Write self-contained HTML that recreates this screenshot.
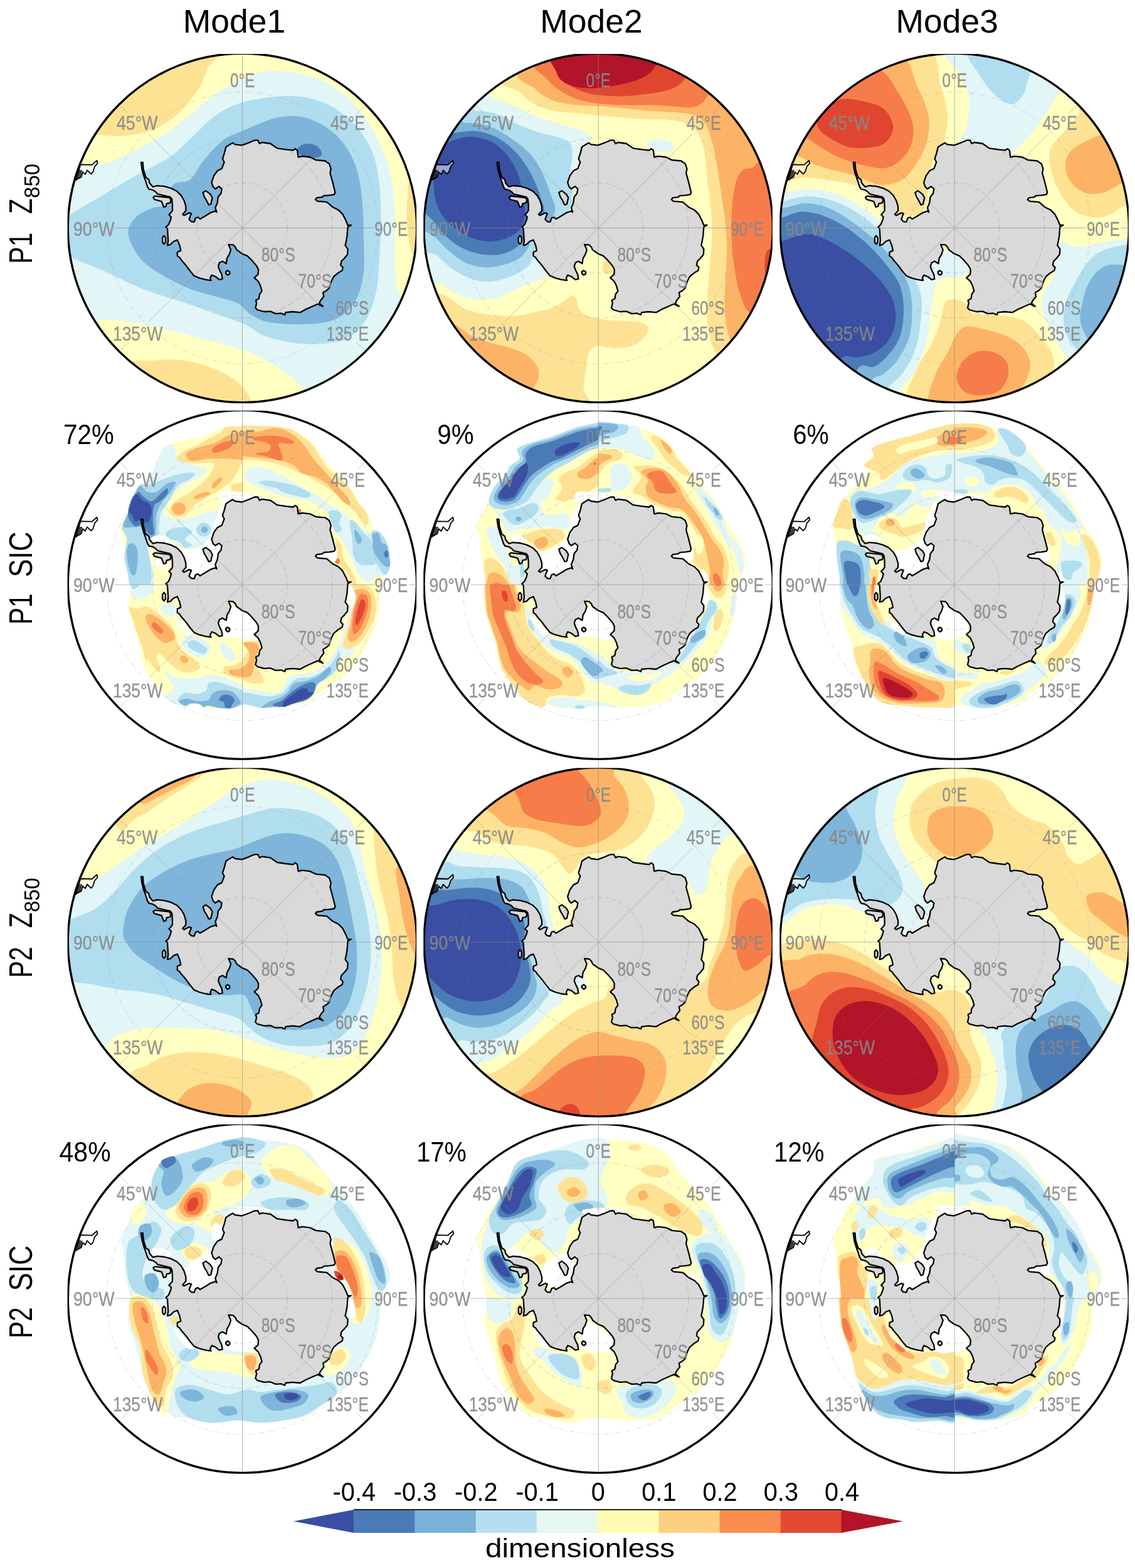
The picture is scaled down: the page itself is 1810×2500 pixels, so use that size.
<!DOCTYPE html>
<html lang="en"><head><meta charset="utf-8"><title>EOF modes of Z850 and SIC</title>
<style>html,body{margin:0;padding:0;background:#fff}svg{display:block}text{font-family:'Liberation Sans', sans-serif}</style></head><body>
<svg width="1810" height="2500" viewBox="0 0 1810 2500">
<defs><clipPath id="clip"><circle r="278.2"/></clipPath><clipPath id="qnw"><rect x="-300" y="-300" width="300.3" height="300.3"/></clipPath><clipPath id="qne"><rect x="-0.3" y="-300" width="300.3" height="300.3"/></clipPath><clipPath id="qsw"><rect x="-300" y="-0.3" width="300.3" height="300.3"/></clipPath><clipPath id="qse"><rect x="-0.3" y="-0.3" width="300.3" height="300.3"/></clipPath><clipPath id="box"><rect x="-278.9" y="-277.5" width="556.5" height="557"/></clipPath><path id="antp" d="M-161.5,-104.4 -158.7,-104.4 -157.8,-93.4 -154.0,-80.7 -149.2,-77.2 -147.8,-71.4 -142.7,-65.6 -135.8,-67.4 -124.2,-66.2 -113.8,-63.3 -104.6,-58.7 -97.6,-51.8 -93.0,-43.7 -90.1,-34.4 -90.1,-27.5 -95.3,-21.7 -93.0,-19.9 -84.9,-24.0 -81.4,-22.8 -83.7,-17.0 -84.9,-13.6 -81.4,-10.1 -76.8,-9.5 -74.5,-15.9 -71.0,-17.0 -67.5,-14.2 -60.6,-18.2 -51.3,-24.0 -43.2,-26.9 -40.9,-25.1 -43.2,-32.1 -39.8,-40.2 -38.6,-49.4 -34.0,-55.2 -32.8,-62.2 -37.4,-66.2 -43.2,-62.2 -46.7,-65.6 -49.0,-72.6 -45.5,-83.0 -39.8,-91.1 -32.8,-94.6 -28.9,-104.9 -31.6,-110.3 -28.9,-118.3 -26.2,-129.0 -22.2,-131.7 -15.5,-135.7 -11.5,-133.0 -0.7,-131.7 10.0,-135.7 19.4,-139.7 24.7,-139.7 27.4,-134.4 31.4,-136.4 44.8,-134.4 55.5,-127.0 68.9,-125.0 81.0,-123.7 84.3,-126.3 87.7,-123.7 89.0,-112.9 95.7,-114.3 107.8,-112.9 117.2,-108.3 131.9,-106.9 138.6,-102.2 141.3,-94.2 139.9,-87.5 144.0,-72.8 148.0,-56.7 146.6,-53.3 138.6,-52.0 129.2,-51.3 127.9,-49.3 118.5,-48.0 116.5,-45.3 119.8,-42.6 134.6,-41.3 144.0,-33.2 153.3,-28.5 160.0,-21.8 165.4,-11.1 168.1,-4.4 173.4,-4.4 168.1,-1.7 167.0,13.0 165.2,22.8 164.0,27.7 168.2,33.7 167.6,42.3 162.7,48.4 157.9,53.2 156.7,59.3 160.3,63.0 159.1,67.9 153.0,71.5 145.7,77.6 142.0,84.9 138.4,95.9 134.7,99.5 128.6,103.2 129.9,109.3 125.0,115.4 122.6,120.2 128.6,125.1 120.1,121.4 111.6,125.1 100.6,130.0 92.1,134.8 79.9,133.6 69.0,134.8 67.7,138.5 61.7,136.1 53.1,136.7 44.6,133.0 34.9,133.6 23.9,130.6 20.8,127.5 22.7,120.2 21.5,115.4 26.3,112.9 27.5,105.6 31.2,100.7 28.8,92.2 25.1,84.9 19.0,79.4 25.1,73.9 25.7,66.6 22.7,60.5 15.4,52.0 8.1,44.7 -0.5,41.1 -9.0,35.0 -11.4,30.1 -14.8,27.0 -22.1,26.4 -18.4,35.0 -20.8,42.3 -24.5,48.4 -25.7,56.9 -31.8,53.2 -36.7,55.7 -38.5,61.8 -35.5,69.1 -33.0,73.9 -31.8,81.3 -36.7,82.5 -42.8,77.6 -48.9,75.2 -51.3,80.0 -50.1,83.7 -58.6,82.5 -68.3,80.0 -76.9,76.4 -83.0,69.1 -90.3,59.3 -97.6,50.8 -100.0,47.1 -103.7,44.7 -103.7,38.6 -98.2,36.2 -100.0,27.7 -103.7,19.1 -109.8,21.6 -114.6,26.4 -119.5,27.7 -118.3,20.3 -118.9,10.6 -119.5,0.9 -121.9,-1.6 -117.7,-5.2 -114.6,-12.5 -113.4,-17.4 -117.1,-21.1 -114.6,-23.5 -111.5,-27.5 -111.5,-36.7 -112.4,-46.0 -115.0,-49.4 -126.5,-52.0 -135.2,-54.1 -138.1,-57.5 -142.7,-60.4 -149.1,-61.9 -151.3,-65.6 -154.3,-74.9 -157.6,-84.2 -159.9,-92.3ZM-62.9,-56.4 -58.3,-59.3 -51.3,-54.1 -47.9,-48.3 -50.2,-37.9 -53.6,-36.7 -57.1,-43.7 -60.6,-49.4ZM-125.0,12.4 -122.5,15.5 -122.5,22.8 -125.0,25.8 -127.4,22.8 -127.4,15.5ZM-23.3,67.9 -20.2,70.3 -20.2,73.3 -23.3,75.2 -26.3,72.7 -26.3,69.7ZM-142.2,-48.9 -139.3,-50.8 -126.5,-49.4 -116.7,-48.3 -113.8,-44.8 -115.2,-40.0 -120.8,-38.8 -121.9,-34.2 -125.4,-33.2 -127.1,-37.9 -128.9,-42.3 -140.4,-45.4Z"/><clipPath id="antclip"><use href="#antp"/></clipPath>
<g id="grat"><g fill="none" stroke="#8c8c8c" stroke-width="1.1" opacity="0.6"><path d="M0,-278.2 V278.2 M-204,0 H209.5 M266,0 H278.2"/><path d="M0,0 L-149.9,-149.9 M-182.4,-182.4 L-195.2,-195.2 M0,0 L149.9,-149.9 M182.4,-182.4 L195.2,-195.2 M0,0 L-149.9,149.9 M-182.4,182.4 L-195.2,195.2 M0,0 L149.9,149.9 M182.4,182.4 L195.2,195.2" opacity="0.5"/><circle r="71.7" stroke-dasharray="7 5" opacity="0.5"/><circle r="143.5" stroke-dasharray="9 5" opacity="0.5"/><circle r="216.6" stroke-dasharray="8 4 2 4" opacity="0.45"/></g></g>
<use id="ant" href="#antp" fill="#d9d9d9" stroke="#000" stroke-width="2.3" stroke-linejoin="round"/>
<g id="grat2"><g fill="none" stroke="#8c8c8c" stroke-width="1.1" opacity="0.6" clip-path="url(#antclip)"><path d="M0,-278.2 V278.2 M-204,0 H209.5 M266,0 H278.2"/><path d="M0,0 L-149.9,-149.9 M-182.4,-182.4 L-195.2,-195.2 M0,0 L149.9,-149.9 M182.4,-182.4 L195.2,-195.2 M0,0 L-149.9,149.9 M-182.4,182.4 L-195.2,195.2 M0,0 L149.9,149.9 M182.4,182.4 L195.2,195.2" opacity="0.6"/><circle r="71.7" stroke-dasharray="7 5" opacity="0.6"/><circle r="143.5" stroke-dasharray="9 5" opacity="0.6"/></g></g>
<g id="sa"><path d="M-266.0,-76.0 -258.0,-101.0 -240.0,-100.5 -232.0,-107.5 -231.0,-103.0 -235.5,-98.0 -238.0,-90.0 -241.0,-86.0 -244.0,-88.5 -247.5,-92.0 -250.5,-85.5 -254.5,-89.0 -257.0,-81.0 -262.0,-78.5Z" fill="#fff" fill-opacity="0.5" stroke="#000" stroke-width="1.8" stroke-linejoin="round"/><path d="M-266.0,-76.0 -260.5,-93.0 -255.0,-92.0 -256.5,-86.0 -258.0,-80.5 -262.0,-78.5Z" fill="#000" fill-opacity="0.75"/></g>
</defs>
<rect width="1810" height="2500" fill="#fff"/>
<text x="373.4" y="52.2" font-size="51" fill="#000" text-anchor="middle" textLength="163.5" lengthAdjust="spacingAndGlyphs">Mode1</text>
<text x="943" y="52.2" font-size="51" fill="#000" text-anchor="middle" textLength="163.5" lengthAdjust="spacingAndGlyphs">Mode2</text>
<text x="1510.2" y="52.2" font-size="51" fill="#000" text-anchor="middle" textLength="163.5" lengthAdjust="spacingAndGlyphs">Mode3</text>
<g transform="translate(50.8,420.4) rotate(-90)"><text font-size="51" textLength="49.6" lengthAdjust="spacingAndGlyphs">P1</text><text x="79.5" font-size="51" textLength="24.5" lengthAdjust="spacingAndGlyphs">Z</text><text x="104.5" y="12.5" font-size="35" textLength="55" lengthAdjust="spacingAndGlyphs">850</text></g>
<g transform="translate(50.8,995.7) rotate(-90)"><text font-size="51" textLength="49.6" lengthAdjust="spacingAndGlyphs">P1</text><text x="75.5" font-size="51" textLength="72.5" lengthAdjust="spacingAndGlyphs">SIC</text></g>
<g transform="translate(50.8,1559) rotate(-90)"><text font-size="51" textLength="49.6" lengthAdjust="spacingAndGlyphs">P2</text><text x="79.5" font-size="51" textLength="24.5" lengthAdjust="spacingAndGlyphs">Z</text><text x="104.5" y="12.5" font-size="35" textLength="55" lengthAdjust="spacingAndGlyphs">850</text></g>
<g transform="translate(50.8,2133.7) rotate(-90)"><text font-size="51" textLength="49.6" lengthAdjust="spacingAndGlyphs">P2</text><text x="75.5" font-size="51" textLength="72.5" lengthAdjust="spacingAndGlyphs">SIC</text></g>
<text x="101.1" y="707.6" font-size="43.7" fill="#000" text-anchor="start" textLength="80.6" lengthAdjust="spacingAndGlyphs">72%</text>
<text x="697.2" y="707.6" font-size="43.7" fill="#000" text-anchor="start" textLength="58.4" lengthAdjust="spacingAndGlyphs">9%</text>
<text x="1264.5" y="707.6" font-size="43.7" fill="#000" text-anchor="start" textLength="57.5" lengthAdjust="spacingAndGlyphs">6%</text>
<text x="94.5" y="1851.7" font-size="43.7" fill="#000" text-anchor="start" textLength="82.2" lengthAdjust="spacingAndGlyphs">48%</text>
<text x="664.3" y="1851.7" font-size="43.7" fill="#000" text-anchor="start" textLength="79.7" lengthAdjust="spacingAndGlyphs">17%</text>
<text x="1234" y="1851.7" font-size="43.7" fill="#000" text-anchor="start" textLength="80.6" lengthAdjust="spacingAndGlyphs">12%</text>
<g transform="translate(386.5,363.4)" clip-path="url(#box)">
<g clip-path="url(#clip)">
<circle r="278.2" fill="#ffffc2"/>
<path d="M-46.2,-288.1C-22.6,-280.5 -51.9,-264.8 -55.6,-254.1C-59.4,-243.4 -62.9,-234 -68.8,-223.9C-74.8,-213.8 -82.7,-203.1 -91.5,-193.7C-100.3,-184.2 -110.4,-174.3 -121.7,-167.2C-133,-160.2 -146.2,-154.8 -159.5,-151.4C-172.7,-147.9 -187.8,-147 -201,-146.5C-214.2,-146 -226.8,-149.3 -238.8,-148.4C-250.7,-147.4 -263.9,-128.2 -272.7,-140.8C-281.6,-153.4 -304.2,-197.5 -291.6,-223.9C-279,-250.3 -238.1,-288.7 -197.2,-299.4C-156.3,-310.1 -69.8,-295.6 -46.2,-288.1Z" fill="#fee294"/>
<path d="M-185.9,221.7C-176.5,206.1 -154.4,213.4 -140.6,211.5C-126.7,209.6 -116,209.1 -102.8,210.3C-89.6,211.5 -74.5,214.6 -61.3,218.7C-48.1,222.7 -33.9,229 -23.5,234.9C-13.1,240.7 -5.3,246.5 1,253.8C7.3,261 12,269.8 14.2,278.3C16.4,286.8 49.5,300.3 14.2,304.7C-21,309.1 -163.9,318.6 -197.2,304.7C-230.6,290.9 -195.3,237.2 -185.9,221.7Z" fill="#fee294"/>
<path d="M293.6,-110.6C289.6,-135.1 274.3,-99.3 269.1,-88C263.9,-76.6 263.6,-57.7 262.7,-42.6C261.7,-27.5 262,-11.2 263.4,2.7C264.8,16.5 266,31 271,40.4C276,49.9 289.9,84.5 293.6,59.3C297.4,34.1 297.7,-86.1 293.6,-110.6Z" fill="#fee294"/>
<path d="M-287.8,-84.2C-272.1,-108.1 -237.5,-95.5 -216.1,-103.1C-194.7,-110.6 -176.5,-120.7 -159.5,-129.5C-142.5,-138.3 -128,-146.5 -114.2,-155.9C-100.3,-165.4 -89,-176.1 -76.4,-186.1C-63.8,-196.2 -51.9,-207.5 -38.6,-216.3C-25.4,-225.1 -11.6,-233.3 2.9,-239C17.4,-244.6 31.2,-249.7 48.2,-250.3C65.2,-250.9 87.9,-247.5 104.8,-242.8C121.8,-238 136.9,-230.8 150.2,-222C163.4,-213.2 173.8,-202.2 184.1,-189.9C194.5,-177.6 204.3,-164.1 212.5,-148.4C220.6,-132.6 228.2,-114.4 233.2,-95.5C238.3,-76.6 241,-57.7 242.7,-35.1C244.4,-12.4 242.8,19 243.4,40.4C244.1,61.8 243.1,79.4 246.4,93.3C249.8,107.1 255.6,113.4 263.4,123.5C271.3,133.6 294.9,129.8 293.6,153.7C292.4,177.6 284.2,244.3 255.9,267C227.6,289.6 149.5,290.9 123.7,289.6C97.9,288.4 110.5,269.5 101.1,259.4C91.6,249.4 79,238 67.1,229.2C55.1,220.4 41.9,212.9 29.3,206.6C16.7,200.3 7.3,196.5 -8.4,191.5C-24.2,186.4 -46.2,181.4 -65.1,176.4C-83.9,171.3 -102.8,165.7 -121.7,161.3C-140.6,156.9 -160.7,152.4 -178.3,149.9C-196,147.4 -211.7,145.5 -227.4,146.2C-243.2,146.8 -258.9,171.3 -272.7,153.7C-286.6,136.1 -308,80.1 -310.5,40.4C-313,0.8 -303.6,-60.3 -287.8,-84.2Z" fill="#e2f5f7"/>
<path d="M-287.8,-8.7C-275.4,-24.4 -234,-44.8 -213.5,-57.7C-192.9,-70.6 -181,-76.9 -164.8,-86.1C-148.5,-95.3 -130.5,-102.8 -116,-112.9C-101.6,-122.9 -89.9,-135.8 -78.3,-146.5C-66.6,-157.1 -57.8,-168.2 -46.2,-176.7C-34.5,-185.2 -24.2,-192.1 -8.4,-197.5C7.3,-202.8 30.6,-206.9 48.2,-208.8C65.8,-210.7 81.6,-211.3 97.3,-208.8C113,-206.3 128.8,-201.2 142.6,-193.7C156.5,-186.1 169.7,-175.4 180.4,-163.5C191.1,-151.5 200.5,-137 206.8,-121.9C213.1,-106.8 215.7,-90.5 218.1,-72.8C220.5,-55.2 221,-35.1 221.1,-16.2C221.3,2.7 220,21.6 218.9,40.4C217.7,59.3 217.6,80.1 214.3,97.1C211.1,114.1 206.2,129.8 199.2,142.4C192.3,155 183.5,165.7 172.8,172.6C162.1,179.5 149.5,182 135.1,183.9C120.6,185.8 102.3,185.8 86,183.9C69.6,182 50.7,177.6 36.9,172.6C23,167.6 16.7,160 2.9,153.7C-10.9,147.4 -28.6,141.1 -46.2,134.8C-63.8,128.5 -83.9,122.2 -102.8,115.9C-121.7,109.7 -140.6,104.6 -159.5,97.1C-178.3,89.5 -194.7,80.7 -216.1,70.6C-237.5,60.6 -275.9,49.9 -287.8,36.7C-299.8,23.4 -300.2,7.1 -287.8,-8.7Z" fill="#b1deee"/>
<path d="M-182.1,10.2C-183.4,-0.5 -177.1,-9.3 -170.8,-16.2C-164.5,-23.1 -153.2,-27.5 -144.4,-31.3C-135.6,-35.1 -123.6,-32.6 -117.9,-38.9C-112.3,-45.2 -116,-62.8 -110.4,-69.1C-104.7,-75.4 -91.5,-71 -83.9,-76.6C-76.4,-82.3 -71.4,-94.9 -65.1,-103.1C-58.8,-111.2 -53.1,-118.8 -46.2,-125.7C-39.3,-132.6 -31.7,-139.6 -23.5,-144.6C-15.4,-149.6 -5.9,-152.1 2.9,-155.9C11.7,-159.7 19.9,-163.8 29.3,-167.2C38.8,-170.7 48.2,-175.1 59.5,-176.7C70.9,-178.3 84.7,-179.5 97.3,-176.7C109.9,-173.9 123.7,-167.6 135.1,-159.7C146.4,-151.8 157.1,-141.4 165.3,-129.5C173.4,-117.5 179.7,-103.7 184.1,-88C188.5,-72.2 190.1,-53.3 191.7,-35.1C193.3,-16.8 193.3,3.9 193.6,21.6C193.9,39.2 195.2,56.2 193.6,70.6C192,85.1 188.9,97.7 184.1,108.4C179.4,119.1 173.4,127.9 165.3,134.8C157.1,141.7 148.3,146.8 135.1,149.9C121.8,153.1 101.7,153.7 86,153.7C70.2,153.7 52.6,152.4 40.7,149.9C28.7,147.4 22.4,143.6 14.2,138.6C6,133.6 1.6,124.8 -8.4,119.7C-18.5,114.7 -33.6,112.2 -46.2,108.4C-58.8,104.6 -70.1,102.7 -83.9,97.1C-97.8,91.4 -116,82.6 -129.3,74.4C-142.5,66.2 -154.4,58.7 -163.2,48C-172.1,37.3 -180.9,20.9 -182.1,10.2Z" fill="#7fb5da"/>
<path d="M87.9,-121.9C86.6,-125.1 90.4,-129.3 93.5,-131.4C96.7,-133.4 102.3,-134.7 106.7,-134.4C111.1,-134.1 116.6,-132.2 120,-129.5C123.3,-126.8 126.7,-121 126.7,-118.2C126.7,-115.3 124.2,-113.4 120,-112.5C115.7,-111.5 106.4,-110.9 101.1,-112.5C95.7,-114.1 89.1,-118.8 87.9,-121.9Z" fill="#4a7bb7"/>
<use href="#grat"/><use href="#ant"/><use href="#grat2"/><use href="#sa"/>
<g fill="#888" stroke="#888" stroke-width="0.35" font-size="31" opacity="0.9"><text x="-19.6" y="-224" textLength="39.5" lengthAdjust="spacingAndGlyphs">0°E</text><text x="-200.5" y="-156.5" textLength="65.5" lengthAdjust="spacingAndGlyphs">45°W</text><text x="140.8" y="-156.5" textLength="54.8" lengthAdjust="spacingAndGlyphs">45°E</text><text x="-269.6" y="12.2" textLength="65.7" lengthAdjust="spacingAndGlyphs">90°W</text><text x="210.7" y="12.2" textLength="53" lengthAdjust="spacingAndGlyphs">90°E</text><text x="30.2" y="53.6" textLength="54" lengthAdjust="spacingAndGlyphs">80°S</text><text x="89" y="96" textLength="53.7" lengthAdjust="spacingAndGlyphs">70°S</text><text x="148.4" y="138.6" textLength="53" lengthAdjust="spacingAndGlyphs">60°S</text><text x="-206.5" y="179.4" textLength="79.3" lengthAdjust="spacingAndGlyphs">135°W</text><text x="134" y="179.4" textLength="67.3" lengthAdjust="spacingAndGlyphs">135°E</text></g>
</g>
<circle r="278.2" fill="none" stroke="#000" stroke-width="3.4"/>
</g>
<path d="M386.5,642.9 V654.9" stroke="#8c8c8c" stroke-width="1.1" opacity="0.6" fill="none"/>
<g transform="translate(954.2,363.4)" clip-path="url(#box)">
<g clip-path="url(#clip)">
<circle r="278.2" fill="#ffffc2"/>
<path d="M-148.1,-243C-169,-225.4 -133,-224.1 -125.4,-216.6C-117.9,-209 -112.2,-202.7 -102.8,-197.7C-93.3,-192.6 -80.7,-188.9 -68.8,-186.3C-56.8,-183.8 -43.6,-183.8 -31,-182.6C-18.4,-181.3 -5.8,-180.1 6.8,-178.8C19.3,-177.5 31.9,-176 44.5,-175C57.1,-174.1 69.7,-173.8 82.3,-173.1C94.9,-172.5 109.3,-172.8 120,-171.2C130.7,-169.7 139.4,-168.1 146.5,-163.7C153.5,-159.3 158.4,-153 162.3,-144.8C166.2,-136.6 168,-125.9 169.9,-114.6C171.8,-103.3 172.2,-89.4 173.6,-76.8C175.1,-64.3 177.3,-51.7 178.6,-39.1C179.8,-26.5 181,-13.9 181.2,-1.3C181.4,11.3 180.4,23.8 179.7,36.4C178.9,49 177.7,61.6 176.7,74.2C175.7,86.8 174.1,99.4 173.6,111.9C173.1,124.5 172.5,137.7 173.6,149.7C174.8,161.7 178,174.2 180.4,183.7C182.8,193.1 188,198.2 188,206.3C188,214.5 163.4,229.6 180.4,232.8C197.4,235.9 268.5,264.2 289.9,225.2C311.3,186.2 315.1,80.5 308.8,-1.3C302.5,-83.1 303.7,-212.1 252.2,-265.6C200.7,-319.1 66.7,-326.1 0,-322.3C-66.8,-318.5 -127.2,-260.6 -148.1,-243Z" fill="#fee294"/>
<path d="M-125.4,-254.3C-141.9,-237.3 -107.8,-228.8 -99,-220.3C-90.2,-211.8 -83.2,-207.4 -72.5,-203.3C-61.8,-199.2 -48,-197.4 -34.8,-195.8C-21.6,-194.2 -6.5,-194.8 6.8,-193.9C20,-193 31.9,-191.4 44.5,-190.1C57.1,-188.9 69.7,-187.3 82.3,-186.3C94.9,-185.4 108.7,-185.4 120,-184.5C131.4,-183.5 142.1,-183.5 150.2,-180.7C158.4,-177.9 164.1,-174.1 169.1,-167.5C174.1,-160.9 177.3,-151.1 180.4,-141C183.6,-131 185.8,-119 188,-107.1C190.2,-95.1 191.8,-81.9 193.7,-69.3C195.5,-56.7 197.7,-42.9 199.3,-31.5C200.9,-20.2 202.2,-12.7 203.1,-1.3C204,10 205,23.8 205,36.4C205,49 203.7,61.6 203.1,74.2C202.5,86.8 201.2,99.4 201.2,111.9C201.2,124.5 201.5,138.4 203.1,149.7C204.7,161 207.5,172.4 210.6,179.9C213.8,187.5 208.8,193.8 222,195C235.2,196.3 275.5,220.2 289.9,187.5C304.4,154.7 315.1,74.2 308.8,-1.3C302.5,-76.8 303.7,-212.1 252.2,-265.6C200.7,-319.1 62.9,-324.2 0,-322.3C-63,-320.4 -108.9,-271.3 -125.4,-254.3Z" fill="#fdb366"/>
<path d="M-102.8,-265.6C-108.4,-254.9 -91.4,-247.4 -83.9,-239.2C-76.3,-231 -66.9,-222.5 -57.4,-216.6C-48,-210.6 -37.9,-206.5 -27.2,-203.3C-16.5,-200.2 -5.2,-198.9 6.8,-197.7C18.7,-196.4 31.9,-196.1 44.5,-195.8C57.1,-195.5 69.7,-196.1 82.3,-195.8C94.9,-195.5 109.3,-194.5 120,-193.9C130.7,-193.3 139.2,-191.4 146.5,-192C153.7,-192.6 159,-194.8 163.4,-197.7C167.9,-200.5 169.4,-204 172.9,-209C176.4,-214 202.5,-212.1 184.2,-227.9C166,-243.6 102.4,-290.8 63.4,-303.4C24.4,-316 -22.2,-309.7 -49.9,-303.4C-77.6,-297.1 -97.1,-276.3 -102.8,-265.6Z" fill="#f67d4a"/>
<path d="M229.5,-92C225.1,-87.5 220.9,-79.4 218.2,-69.3C215.5,-59.2 214.2,-44.1 213.3,-31.5C212.3,-19 212.3,-6.4 212.5,6.2C212.7,18.8 213.2,31.4 214.4,44C215.7,56.6 217.6,69.8 220.1,81.7C222.6,93.7 226.1,106.9 229.5,115.7C233,124.5 233.3,128.9 240.9,134.6C248.4,140.3 263.5,169.2 274.8,149.7C286.2,130.2 308.8,60.3 308.8,17.6C308.8,-25.2 285.5,-88.2 274.8,-107.1C264.1,-125.9 252.2,-98.2 244.6,-95.7C237.1,-93.2 233.9,-96.4 229.5,-92Z" fill="#f67d4a"/>
<path d="M-72.5,-280.7C-88,-271.9 -71.3,-259.3 -66.9,-250.5C-62.5,-241.7 -54.6,-233.9 -46.1,-227.9C-37.6,-221.9 -27.9,-217.6 -15.9,-214.7C-3.9,-211.7 12.4,-210.6 25.6,-210.1C38.8,-209.7 50.8,-210.8 63.4,-212C76,-213.2 90.8,-215 101.1,-217.3C111.5,-219.6 119.4,-222.3 125.7,-226C132,-229.6 134.8,-233.9 138.9,-239.2C143,-244.6 169.1,-247.4 150.2,-258.1C131.4,-268.8 62.8,-299.6 25.6,-303.4C-11.5,-307.2 -57.1,-289.6 -72.5,-280.7Z" fill="#e04530"/>
<path d="M-72.5,-280.7C-84.8,-272.8 -69.6,-256.3 -66.9,-248.3C-64.1,-240.3 -61.4,-236.8 -55.9,-232.8C-50.5,-228.8 -42.1,-226.1 -34,-224.5C-26,-222.8 -17.1,-222.7 -7.6,-223C1.9,-223.3 12.4,-224.5 23,-226.4C33.6,-228.2 46.7,-231 55.8,-233.9C65,-236.8 72.3,-240.2 77.7,-243.7C83.2,-247.3 86.4,-250.2 88.7,-255.1C91,-260 105.4,-266.4 91.7,-273.2C78.1,-280 34.1,-294.6 6.8,-295.8C-20.6,-297.1 -60.3,-288.7 -72.5,-280.7Z" fill="#b2142a"/>
<path d="M269.2,36.4C266.7,39.6 265.7,49 265.4,55.3C265.1,61.6 265.1,71 267.3,74.2C269.5,77.3 276.4,80.5 278.6,74.2C280.8,67.9 282.1,42.7 280.5,36.4C278.9,30.1 271.7,33.3 269.2,36.4Z" fill="#e04530"/>
<path d="M-257.6,111.9C-258.8,89.9 -222.9,126.4 -208.5,130.8C-194,135.2 -183.3,136.8 -170.7,138.4C-158.1,140 -144.3,140.9 -133,140.3C-121.6,139.6 -112.8,136.8 -102.8,134.6C-92.7,132.4 -80.7,130.2 -72.5,127.1C-64.4,123.9 -58.8,119 -53.7,115.7C-48.5,112.5 -44.9,107.4 -41.6,107.4C-38.3,107.4 -35.9,111.8 -34,115.7C-32.1,119.6 -33.9,126.4 -30.3,130.8C-26.6,135.2 -21.4,139.3 -12.1,142.2C-2.8,145 13,146.6 25.6,147.8C38.2,149.1 54.5,148 63.4,149.7C72.3,151.4 77.4,154.1 79.2,158C81.1,161.9 78.6,168.2 74.7,173.1C70.8,178 64,184.3 55.8,187.5C47.7,190.6 35.1,191.9 25.6,192C16.2,192.1 6,187.1 -0.8,188.2C-7.6,189.4 -12,192.6 -15.2,198.8C-18.3,205 -18.3,215.8 -19.7,225.2C-21.1,234.7 -22.2,245.4 -23.5,255.4C-24.7,265.5 2.3,284.4 -27.2,285.6C-56.8,286.9 -162.5,291.9 -200.9,263C-239.3,234 -256.3,134 -257.6,111.9Z" fill="#fee294"/>
<path d="M-238.7,153.5C-238.7,141.5 -212.3,167.3 -200.9,172.4C-189.6,177.4 -180.8,180.5 -170.7,183.7C-160.6,186.8 -149.9,188.1 -140.5,191.2C-131.1,194.4 -121.1,197.8 -114.1,202.6C-107,207.3 -101.4,213.9 -98.2,219.6C-95.1,225.2 -94.4,230.6 -95.2,236.6C-96,242.5 -100.2,249.8 -102.8,255.4C-105.3,261.1 -93.9,272.4 -110.3,270.5C-126.7,268.6 -179.5,263.6 -200.9,244.1C-222.3,224.6 -238.7,165.4 -238.7,153.5Z" fill="#fdb366"/>
<path d="M6.8,59.1C7.6,56.3 10.2,51.5 12.4,51.5C14.6,51.5 18.3,55.9 20,59.1C21.7,62.2 23.6,67.9 22.6,70.4C21.7,72.9 16.8,74.5 14.3,74.2C11.8,73.9 8.8,71 7.5,68.5C6.2,66 5.9,61.9 6.8,59.1Z" fill="#fee294"/>
<path d="M-200.9,-209C-175.8,-230.3 -174.5,-207 -163.2,-204.5C-151.8,-202 -143,-198.2 -133,-193.9C-122.9,-189.6 -113.4,-183.2 -102.8,-178.8C-92.1,-174.4 -80.1,-170.9 -68.8,-167.5C-57.4,-164 -43.6,-161.2 -34.8,-158C-26,-154.9 -19.7,-152.1 -15.9,-148.6C-12.1,-145.1 -10.9,-141.7 -12.1,-137.3C-13.4,-132.9 -19.7,-129.7 -23.5,-122.2C-27.2,-114.6 -31.6,-105.8 -34.8,-92C-37.9,-78.1 -36,-54.2 -42.3,-39.1C-48.6,-24 -65,-13.9 -72.5,-1.3C-80.1,11.3 -86.4,23.8 -87.6,36.4C-88.9,49 -77.6,66 -80.1,74.2C-82.6,82.4 -93.9,81.4 -102.8,85.5C-111.6,89.6 -122.9,94.3 -133,98.7C-143,103.1 -153.1,109.4 -163.2,111.9C-173.2,114.5 -183.3,114.8 -193.4,113.8C-203.4,112.9 -214.1,110.4 -223.6,106.3C-233,102.2 -241.2,94.6 -250,89.3C-258.8,83.9 -265.7,101.9 -276.4,74.2C-287.1,46.5 -326.8,-29.6 -314.2,-76.8C-301.6,-124 -226.1,-187.7 -200.9,-209Z" fill="#e2f5f7"/>
<path d="M78.5,-131.6C77.9,-134.4 82.3,-137.6 86,-139.1C89.8,-140.7 96.1,-141.7 101.1,-141C106.2,-140.4 113.2,-137.9 116.3,-135.4C119.3,-132.9 120.5,-128.3 119.3,-125.9C118,-123.6 113.6,-122 108.7,-121.4C103.8,-120.8 94.9,-120.5 89.8,-122.2C84.8,-123.9 79.1,-128.8 78.5,-131.6Z" fill="#e2f5f7"/>
<path d="M-231.1,-182.6C-210.4,-200.8 -202.2,-187 -189.6,-186.3C-177,-185.7 -166.3,-182.6 -155.6,-178.8C-144.9,-175 -135.5,-168.1 -125.4,-163.7C-115.3,-159.3 -105.3,-155.5 -95.2,-152.4C-85.1,-149.2 -73.3,-147.6 -65,-144.8C-56.7,-142 -49.3,-140.4 -45.4,-135.4C-41.5,-130.3 -41.6,-123.1 -41.6,-114.6C-41.6,-106.1 -45.4,-94.5 -45.4,-84.4C-45.4,-74.3 -40.8,-64.3 -41.6,-54.2C-42.3,-44.1 -42.2,-32.8 -49.9,-24C-57.6,-15.2 -78.8,-11.4 -87.6,-1.3C-96.5,8.7 -99,26.4 -102.8,36.4C-106.5,46.5 -104.6,52.5 -110.3,59.1C-116,65.7 -126.7,71.7 -136.7,76.1C-146.8,80.5 -160,84.6 -170.7,85.5C-181.4,86.5 -190.9,84.9 -200.9,81.7C-211,78.6 -221.7,72.9 -231.1,66.6C-240.6,60.3 -248.8,50.9 -257.6,44C-266.4,37.1 -274.6,45.2 -284,25.1C-293.4,5 -323,-42.2 -314.2,-76.8C-305.4,-111.5 -251.9,-164.3 -231.1,-182.6Z" fill="#b1deee"/>
<path d="M-246.2,-163.7C-228.6,-175.6 -219.8,-167.5 -208.5,-167.5C-197.1,-167.5 -188.3,-166.8 -178.3,-163.7C-168.2,-160.5 -157.5,-154.3 -148.1,-148.6C-138.6,-142.9 -129.2,-136 -121.6,-129.7C-114.1,-123.4 -108.4,-118.4 -102.8,-110.8C-97.1,-103.3 -92.1,-93.8 -87.6,-84.4C-83.2,-75 -79.5,-63 -76.3,-54.2C-73.2,-45.4 -68.8,-38.5 -68.8,-31.5C-68.8,-24.6 -70.7,-19 -76.3,-12.7C-82,-6.4 -97.1,-0.7 -102.8,6.2C-108.4,13.1 -106.5,22 -110.3,28.9C-114.1,35.8 -118.5,42.7 -125.4,47.8C-132.3,52.8 -142.4,56.6 -151.8,59.1C-161.3,61.6 -172,63.5 -182,62.9C-192.1,62.2 -202.8,59.7 -212.3,55.3C-221.7,50.9 -230.5,43.4 -238.7,36.4C-246.9,29.5 -253.2,21.3 -261.3,13.8C-269.5,6.2 -279,9.4 -287.8,-8.9C-296.6,-27.1 -321.1,-69.9 -314.2,-95.7C-307.3,-121.5 -263.9,-151.7 -246.2,-163.7Z" fill="#7fb5da"/>
<path d="M-257.6,-144.8C-245.6,-151.1 -234.3,-150.8 -223.6,-152.4C-212.9,-153.9 -203.4,-155.5 -193.4,-154.3C-183.3,-153 -172.6,-149.5 -163.2,-144.8C-153.7,-140.1 -144.3,-132.9 -136.7,-125.9C-129.2,-119 -123.5,-111.5 -117.9,-103.3C-112.2,-95.1 -107.2,-86.3 -102.8,-76.8C-98.3,-67.4 -93.9,-55.5 -91.4,-46.6C-88.9,-37.8 -84.5,-31.5 -87.6,-24C-90.8,-16.4 -105.3,-8.3 -110.3,-1.3C-115.3,5.6 -114.1,11.9 -117.9,17.6C-121.6,23.2 -126.7,28.6 -133,32.7C-139.3,36.7 -146.8,40.5 -155.6,42.1C-164.4,43.7 -175.8,43.7 -185.8,42.1C-195.9,40.5 -206.6,37.4 -216,32.7C-225.5,27.9 -234.9,20.7 -242.5,13.8C-250,6.9 -254.4,-0.1 -261.3,-8.9C-268.3,-17.7 -278.3,-21.5 -284,-39.1C-289.7,-56.7 -299.7,-97 -295.3,-114.6C-290.9,-132.2 -269.5,-138.5 -257.6,-144.8Z" fill="#4a7bb7"/>
<path d="M-253.8,-125.9C-248.1,-132.2 -236.8,-137.9 -227.4,-141C-217.9,-144.2 -207.2,-145.8 -197.1,-144.8C-187.1,-143.9 -175.8,-140.4 -166.9,-135.4C-158.1,-130.3 -150.6,-122.5 -144.3,-114.6C-138,-106.7 -133,-97 -129.2,-88.2C-125.4,-79.4 -123.5,-69.9 -121.6,-61.7C-119.7,-53.6 -118.5,-46.6 -117.9,-39.1C-117.2,-31.5 -116.6,-23.4 -117.9,-16.4C-119.1,-9.5 -121,-2.9 -125.4,2.4C-129.8,7.8 -136.7,12.5 -144.3,15.7C-151.8,18.8 -161.9,21 -170.7,21.3C-179.5,21.6 -188.3,20.4 -197.1,17.6C-206,14.7 -215.4,10 -223.6,4.3C-231.8,-1.3 -240.3,-8.6 -246.2,-16.4C-252.2,-24.3 -256.6,-32.8 -259.4,-42.9C-262.3,-52.9 -262.9,-66.8 -263.2,-76.8C-263.5,-86.9 -262.9,-95.1 -261.3,-103.3C-259.8,-111.5 -259.4,-119.6 -253.8,-125.9Z" fill="#3a4ea3"/>
<use href="#grat"/><use href="#ant"/><use href="#grat2"/><use href="#sa"/>
<g fill="#888" stroke="#888" stroke-width="0.35" font-size="31" opacity="0.9"><text x="-19.6" y="-224" textLength="39.5" lengthAdjust="spacingAndGlyphs">0°E</text><text x="-200.5" y="-156.5" textLength="65.5" lengthAdjust="spacingAndGlyphs">45°W</text><text x="140.8" y="-156.5" textLength="54.8" lengthAdjust="spacingAndGlyphs">45°E</text><text x="-269.6" y="12.2" textLength="65.7" lengthAdjust="spacingAndGlyphs">90°W</text><text x="210.7" y="12.2" textLength="53" lengthAdjust="spacingAndGlyphs">90°E</text><text x="30.2" y="53.6" textLength="54" lengthAdjust="spacingAndGlyphs">80°S</text><text x="89" y="96" textLength="53.7" lengthAdjust="spacingAndGlyphs">70°S</text><text x="148.4" y="138.6" textLength="53" lengthAdjust="spacingAndGlyphs">60°S</text><text x="-206.5" y="179.4" textLength="79.3" lengthAdjust="spacingAndGlyphs">135°W</text><text x="134" y="179.4" textLength="67.3" lengthAdjust="spacingAndGlyphs">135°E</text></g>
</g>
<circle r="278.2" fill="none" stroke="#000" stroke-width="3.4"/>
</g>
<path d="M954.2,642.9 V654.9" stroke="#8c8c8c" stroke-width="1.1" opacity="0.6" fill="none"/>
<g transform="translate(1522.2,363.4)" clip-path="url(#box)">
<g clip-path="url(#clip)">
<circle r="278.2" fill="#ffffc2"/>
<path d="M-45.2,-284.5C-18.8,-271.9 -28.2,-245.5 -22.6,-227.9C-16.9,-210.3 -11.9,-194.5 -11.2,-178.8C-10.6,-163.1 -15,-145.4 -18.8,-133.5C-22.6,-121.5 -30.1,-116.5 -33.9,-107.1C-37.7,-97.6 -39.6,-88.2 -41.5,-76.8C-43.3,-65.5 -42.1,-48.5 -45.2,-39.1C-48.4,-29.6 -50.3,-22.7 -60.3,-20.2C-70.4,-17.7 -95.6,-20.8 -105.6,-24C-115.7,-27.1 -114.5,-32.8 -120.8,-39.1C-127,-45.4 -133.3,-56.1 -143.4,-61.7C-153.5,-67.4 -165.4,-69.9 -181.2,-73.1C-196.9,-76.2 -220.2,-79.4 -237.8,-80.6C-255.4,-81.9 -271.2,-62.4 -286.9,-80.6C-302.6,-98.9 -349.8,-153 -332.2,-190.1C-314.6,-227.3 -229,-287.7 -181.2,-303.4C-133.3,-319.1 -71.7,-297.1 -45.2,-284.5Z" fill="#fee294"/>
<path d="M-86.8,-277C-66.6,-264.4 -67.9,-244.2 -60.3,-227.9C-52.8,-211.5 -44,-194.5 -41.5,-178.8C-38.9,-163.1 -40.8,-148 -45.2,-133.5C-49.6,-119 -60.3,-102 -67.9,-92C-75.4,-81.9 -81.7,-76.8 -90.5,-73.1C-99.4,-69.3 -108.8,-67.4 -120.8,-69.3C-132.7,-71.2 -145.9,-79.4 -162.3,-84.4C-178.6,-89.4 -204.4,-94.5 -218.9,-99.5C-233.4,-104.5 -239.7,-110.8 -249.1,-114.6C-258.6,-118.4 -268,-103.3 -275.6,-122.2C-283.1,-141 -310.2,-197.7 -294.4,-227.9C-278.7,-258.1 -215.8,-295.2 -181.2,-303.4C-146.6,-311.6 -106.9,-289.6 -86.8,-277Z" fill="#fdb366"/>
<path d="M-124.5,-254.3C-103.1,-246.1 -100,-230.4 -90.5,-216.6C-81.1,-202.7 -71.7,-184.5 -67.9,-171.2C-64.1,-158 -65.4,-147.3 -67.9,-137.3C-70.4,-127.2 -76.1,-117.8 -83,-110.8C-89.9,-103.9 -99.4,-97.6 -109.4,-95.7C-119.5,-93.8 -130.2,-96.4 -143.4,-99.5C-156.6,-102.6 -174.9,-108.3 -188.7,-114.6C-202.6,-120.9 -216.4,-130.3 -226.5,-137.3C-236.5,-144.2 -240.9,-147.3 -249.1,-156.1C-257.3,-165 -280.6,-171.9 -275.6,-190.1C-270.5,-208.4 -244.1,-254.9 -218.9,-265.6C-193.8,-276.3 -145.9,-262.5 -124.5,-254.3Z" fill="#f67d4a"/>
<path d="M-207.6,-190.1C-201.3,-195.2 -191.9,-203.3 -181.2,-205.2C-170.5,-207.1 -154.7,-204 -143.4,-201.5C-132.1,-198.9 -120.8,-196.4 -113.2,-190.1C-105.6,-183.8 -99.4,-171.9 -98.1,-163.7C-96.8,-155.5 -101.2,-146.7 -105.6,-141C-110.1,-135.4 -115.1,-131.9 -124.5,-129.7C-134,-127.5 -151.6,-126.6 -162.3,-127.8C-173,-129.1 -179.9,-132.5 -188.7,-137.3C-197.5,-142 -210.1,-149.8 -215.1,-156.1C-220.2,-162.4 -220.2,-169.4 -218.9,-175C-217.7,-180.7 -213.9,-185.1 -207.6,-190.1Z" fill="#e04530"/>
<path d="M-18.8,-288.3C-25.1,-275.7 0.7,-260 7.6,-246.8C14.6,-233.5 20.8,-223.5 22.7,-209C24.6,-194.5 21.2,-172.5 19,-159.9C16.8,-147.3 5.1,-144.8 9.5,-133.5C13.9,-122.2 31.2,-93.8 45.4,-92C59.5,-90.1 83.1,-114 94.5,-122.2C105.8,-130.3 107.1,-134.1 113.4,-141C119.6,-148 125.3,-154.3 132.2,-163.7C139.2,-173.1 148.6,-188.2 154.9,-197.7C161.2,-207.1 163.1,-209 170,-220.3C176.9,-231.7 217.2,-248.6 196.4,-265.6C175.7,-282.6 81.3,-318.5 45.4,-322.3C9.5,-326.1 -12.5,-300.9 -18.8,-288.3Z" fill="#e2f5f7"/>
<path d="M20.8,-280.7C19.6,-268.2 31.9,-256.8 37.8,-246.8C43.8,-236.7 50.4,-227.6 56.7,-220.3C63,-213.1 69.3,-207.1 75.6,-203.3C81.9,-199.6 88.8,-196.1 94.5,-197.7C100.1,-199.2 105.8,-206.5 109.6,-212.8C113.4,-219.1 114.6,-228.5 117.1,-235.4C119.6,-242.4 120.9,-246.1 124.7,-254.3C128.5,-262.5 153,-273.2 139.8,-284.5C126.6,-295.8 65.2,-322.9 45.4,-322.3C25.6,-321.7 22.1,-293.3 20.8,-280.7Z" fill="#b1deee"/>
<path d="M154.9,-129.7C158.7,-137.3 166.8,-144.2 173.8,-152.4C180.7,-160.5 190.1,-171.9 196.4,-178.8C202.7,-185.7 192.6,-192 211.5,-193.9C230.4,-195.8 293.3,-215.9 309.7,-190.1C326.1,-164.3 316,-64.9 309.7,-39.1C303.4,-13.3 281.4,-37.8 271.9,-35.3C262.5,-32.8 260.6,-27.1 253.1,-24C245.5,-20.8 236.1,-16.4 226.6,-16.4C217.2,-16.4 205.2,-19 196.4,-24C187.6,-29 180.1,-37.8 173.8,-46.6C167.5,-55.5 162.4,-66.8 158.7,-76.8C154.9,-86.9 151.7,-98.2 151.1,-107.1C150.5,-115.9 151.1,-122.2 154.9,-129.7Z" fill="#fee294"/>
<path d="M177.5,-107.1C179.1,-114 182.6,-120.3 188.9,-125.9C195.2,-131.6 207.1,-137.3 215.3,-141C223.5,-144.8 225.4,-146.7 238,-148.6C250.5,-150.5 282,-164.3 290.8,-152.4C299.6,-140.4 294.9,-90.4 290.8,-76.8C286.7,-63.3 274.5,-74.3 266.3,-71.2C258.1,-68 250.2,-60.8 241.7,-58C233.2,-55.1 223.5,-52.9 215.3,-54.2C207.1,-55.5 198.6,-60.5 192.6,-65.5C186.7,-70.6 181.9,-77.5 179.4,-84.4C176.9,-91.3 176,-100.1 177.5,-107.1Z" fill="#fdb366"/>
<path d="M-71.7,278.1C-83,262.4 -66,240.3 -60.3,225.2C-54.7,210.1 -44,200.1 -37.7,187.5C-31.4,174.9 -26.4,161 -22.6,149.7C-18.8,138.4 -18.8,125.5 -15,119.5C-11.2,113.5 -5,113.8 0.1,113.8C5.1,113.8 10.8,116 15.2,119.5C19.6,123 21.5,131.5 26.5,134.6C31.5,137.7 35.9,137.4 45.4,138.4C54.8,139.3 71.8,138.4 83.1,140.3C94.5,142.2 104.5,144.4 113.4,149.7C122.2,155.1 129.1,164.2 136,172.4C142.9,180.5 151.1,190 154.9,198.8C158.7,207.6 159.9,218.3 158.7,225.2C157.4,232.1 150.5,227.7 147.3,240.3C144.2,252.9 163.1,287.5 139.8,300.7C116.5,314 42.9,323.4 7.6,319.6C-27.6,315.8 -60.3,293.8 -71.7,278.1Z" fill="#fee294"/>
<path d="M-41.5,278.1C-44.6,266.8 -35.2,246 -30.1,232.8C-25.1,219.6 -16.9,209.5 -11.2,198.8C-5.6,188.1 -1.2,175.5 3.9,168.6C8.9,161.7 12,158.5 19,157.3C25.9,156 34.7,158.5 45.4,161C56.1,163.6 72.4,167.3 83.1,172.4C93.8,177.4 103.3,183.7 109.6,191.2C115.9,198.8 120.3,208.9 120.9,217.7C121.5,226.5 117.1,235.9 113.4,244.1C109.6,252.3 103.3,257.3 98.3,266.8C93.2,276.2 101.4,295.1 83.1,300.7C64.9,306.4 9.5,304.5 -11.2,300.7C-32,297 -38.3,289.4 -41.5,278.1Z" fill="#fdb366"/>
<path d="M3.9,232.8C5.4,226.5 9.5,216.1 15.2,210.1C20.8,204.1 29.7,198.8 37.8,196.9C46,195 56.7,196 64.3,198.8C71.8,201.6 79.7,207.6 83.1,213.9C86.6,220.2 86.9,229 85,236.6C83.1,244.1 78.4,254.2 71.8,259.2C65.2,264.2 54.2,266.1 45.4,266.8C36.6,267.4 25.6,266.1 19,263C12.3,259.8 8.3,252.9 5.7,247.9C3.2,242.8 2.3,239.1 3.9,232.8Z" fill="#f67d4a"/>
<path d="M309.7,13.8C304,-14.5 288.3,16 275.7,17.6C263.1,19.1 247.4,21 234.2,23.2C221,25.4 207.8,30.5 196.4,30.8C185.1,31.1 172.5,17.9 166.2,25.1C159.9,32.3 163.1,59.7 158.7,74.2C154.3,88.7 142.3,100.6 139.8,111.9C137.3,123.3 140.4,132.1 143.6,142.2C146.7,152.2 153.6,162.9 158.7,172.4C163.7,181.8 168.7,191.9 173.8,198.8C178.8,205.7 178.8,203.2 188.9,213.9C198.9,224.6 214,267.4 234.2,263C254.3,258.6 297.1,229 309.7,187.5C322.3,145.9 315.4,42.1 309.7,13.8Z" fill="#e2f5f7"/>
<path d="M309.7,21.3C303.4,-5.4 282.6,25.1 271.9,27C261.2,28.9 253.7,29.8 245.5,32.7C237.3,35.5 229.8,38.3 222.9,44C215.9,49.6 209.6,58.5 204,66.6C198.3,74.8 193.3,84.3 188.9,93.1C184.5,101.9 180.1,110.1 177.5,119.5C175,128.9 173.1,140.3 173.8,149.7C174.4,159.1 177.5,168.6 181.3,176.1C185.1,183.7 190.8,186.8 196.4,195C202.1,203.2 196.4,226.5 215.3,225.2C234.2,224 294,221.4 309.7,187.5C325.4,153.5 316,48.1 309.7,21.3Z" fill="#b1deee"/>
<path d="M309.7,59.1C303.1,37.7 280.8,59.1 270.1,59.1C259.4,59.1 252.7,57.2 245.5,59.1C238.3,61 232.3,64.7 226.6,70.4C221,76.1 215.3,84.9 211.5,93.1C207.8,101.2 205.9,110.7 204,119.5C202.1,128.3 199.6,137.7 200.2,145.9C200.8,154.1 204.6,162.3 207.8,168.6C210.9,174.9 211.5,177.4 219.1,183.7C226.6,190 238,205.7 253.1,206.3C268.2,207 300.3,212 309.7,187.5C319.1,162.9 316.3,80.5 309.7,59.1Z" fill="#7fb5da"/>
<path d="M-294.4,-58C-277.8,-80 -280.6,-57.3 -269.9,-58C-259.2,-58.6 -243.8,-62.4 -230.3,-61.7C-216.7,-61.1 -201.9,-58.6 -188.7,-54.2C-175.5,-49.8 -162.3,-42.2 -151,-35.3C-139.6,-28.4 -129.6,-20.2 -120.8,-12.7C-111.9,-5.1 -106.9,1.8 -98.1,10C-89.3,18.2 -80.5,32 -67.9,36.4C-55.3,40.8 -35.2,35.2 -22.6,36.4C-10,37.7 0.1,38.9 7.6,44C15.2,49 22.7,61 22.7,66.6C22.7,72.3 15.2,75.4 7.6,78C0.1,80.5 -16.3,79.2 -22.6,81.7C-28.9,84.3 -27.6,84.9 -30.1,93.1C-32.6,101.2 -35.8,118.2 -37.7,130.8C-39.6,143.4 -38.9,156 -41.5,168.6C-44,181.2 -48.4,195 -52.8,206.3C-57.2,217.7 -62.2,227.7 -67.9,236.6C-73.6,245.4 -80.5,248.5 -86.8,259.2C-93.1,269.9 -64.7,300.1 -105.6,300.7C-146.6,301.4 -288.1,300.7 -332.2,263C-376.3,225.2 -376.3,127.7 -370,74.2C-363.7,20.7 -311.1,-35.9 -294.4,-58Z" fill="#e2f5f7"/>
<path d="M-294.4,-42.9C-278.1,-62.4 -281.9,-41.6 -271.8,-42.9C-261.7,-44.1 -247.2,-50.4 -234,-50.4C-220.8,-50.4 -205.7,-47.3 -192.5,-42.9C-179.3,-38.5 -166.7,-31.5 -154.7,-24C-142.8,-16.4 -130.8,-6.4 -120.8,2.4C-110.7,11.3 -103.1,16.9 -94.3,28.9C-85.5,40.8 -74.8,60.3 -67.9,74.2C-61,88 -54.7,96.2 -52.8,111.9C-50.9,127.7 -54,152.9 -56.6,168.6C-59.1,184.3 -62.9,195 -67.9,206.3C-72.9,217.7 -80.5,228.4 -86.8,236.6C-93.1,244.7 -99.4,244.7 -105.6,255.4C-111.9,266.1 -86.8,299.5 -124.5,300.7C-162.3,302 -291.3,300.7 -332.2,263C-373.1,225.2 -376.3,125.2 -370,74.2C-363.7,23.2 -310.8,-23.4 -294.4,-42.9Z" fill="#b1deee"/>
<path d="M-294.4,-31.5C-278.4,-49.2 -283.1,-30.3 -273.7,-31.5C-264.2,-32.8 -250.1,-39.1 -237.8,-39.1C-225.5,-39.1 -212.6,-36.6 -200,-31.5C-187.5,-26.5 -174.9,-17.7 -162.3,-8.9C-149.7,-0.1 -135.2,11.3 -124.5,21.3C-113.8,31.4 -106.3,40.8 -98.1,51.5C-89.9,62.2 -80.5,73.6 -75.4,85.5C-70.4,97.5 -68.5,108.8 -67.9,123.3C-67.3,137.7 -67.9,157.9 -71.7,172.4C-75.4,186.8 -83.6,200.1 -90.5,210.1C-97.5,220.2 -106.3,227.1 -113.2,232.8C-120.1,238.4 -123.9,232.8 -132.1,244.1C-140.3,255.4 -128.9,297.6 -162.3,300.7C-195.6,303.9 -297.6,300.7 -332.2,263C-366.8,225.2 -376.3,123.3 -370,74.2C-363.7,25.1 -310.5,-13.9 -294.4,-31.5Z" fill="#7fb5da"/>
<path d="M-294.4,-16.4C-278.7,-31.5 -283.7,-14.9 -275.6,-16.4C-267.4,-18 -256.1,-25.2 -245.4,-25.9C-234.7,-26.5 -223.3,-24.3 -211.4,-20.2C-199.4,-16.1 -186.2,-9.5 -173.6,-1.3C-161,6.9 -147.2,18.2 -135.9,28.9C-124.5,39.6 -113.8,52.2 -105.6,62.9C-97.5,73.6 -90.9,81.7 -86.8,93.1C-82.7,104.4 -81.1,117.6 -81.1,130.8C-81.1,144 -82.7,160.4 -86.8,172.4C-90.9,184.3 -98.7,194.4 -105.6,202.6C-112.6,210.7 -120.1,217.7 -128.3,221.4C-136.5,225.2 -145.9,212 -154.7,225.2C-163.5,238.4 -151.6,294.4 -181.2,300.7C-210.7,307 -300.7,300.7 -332.2,263C-363.7,225.2 -376.3,120.8 -370,74.2C-363.7,27.6 -310.2,-1.3 -294.4,-16.4Z" fill="#4a7bb7"/>
<path d="M-294.4,21.3C-278.8,12.5 -285.8,23.2 -276.3,21.3C-266.9,19.4 -249.3,10.6 -237.8,10C-226.3,9.4 -218.3,13.1 -207.6,17.6C-196.9,22 -184.3,29.5 -173.6,36.4C-162.9,43.4 -152.8,50.9 -143.4,59.1C-134,67.3 -124.5,76.1 -117,85.5C-109.4,95 -101.9,105 -98.1,115.7C-94.3,126.4 -93.1,139 -94.3,149.7C-95.6,160.4 -100,171.7 -105.6,179.9C-111.3,188.1 -120.1,194.4 -128.3,198.8C-136.5,203.2 -145.9,204.8 -154.7,206.3C-163.5,207.9 -170.5,198.8 -181.2,208.2C-191.9,217.7 -193.8,260.2 -218.9,263C-244.1,265.8 -307,256.7 -332.2,225.2C-357.4,193.8 -376.3,108.2 -370,74.2C-363.7,40.2 -310,30.1 -294.4,21.3Z" fill="#3a4ea3"/>
<use href="#grat"/><use href="#ant"/><use href="#grat2"/><use href="#sa"/>
<g fill="#888" stroke="#888" stroke-width="0.35" font-size="31" opacity="0.9"><text x="-19.6" y="-224" textLength="39.5" lengthAdjust="spacingAndGlyphs">0°E</text><text x="-200.5" y="-156.5" textLength="65.5" lengthAdjust="spacingAndGlyphs">45°W</text><text x="140.8" y="-156.5" textLength="54.8" lengthAdjust="spacingAndGlyphs">45°E</text><text x="-269.6" y="12.2" textLength="65.7" lengthAdjust="spacingAndGlyphs">90°W</text><text x="210.7" y="12.2" textLength="53" lengthAdjust="spacingAndGlyphs">90°E</text><text x="30.2" y="53.6" textLength="54" lengthAdjust="spacingAndGlyphs">80°S</text><text x="89" y="96" textLength="53.7" lengthAdjust="spacingAndGlyphs">70°S</text><text x="148.4" y="138.6" textLength="53" lengthAdjust="spacingAndGlyphs">60°S</text><text x="-206.5" y="179.4" textLength="79.3" lengthAdjust="spacingAndGlyphs">135°W</text><text x="134" y="179.4" textLength="67.3" lengthAdjust="spacingAndGlyphs">135°E</text></g>
</g>
<circle r="278.2" fill="none" stroke="#000" stroke-width="3.4"/>
</g>
<path d="M1522.2,642.9 V654.9" stroke="#8c8c8c" stroke-width="1.1" opacity="0.6" fill="none"/>
<g transform="translate(386.5,932.2)" clip-path="url(#box)">
<g clip-path="url(#clip)">
<circle r="278.2" fill="#ffffff"/>
<path d="M-0.9,-253C12.3,-253.3 33.7,-252.7 48.2,-251.1C62.7,-249.5 75.3,-248 86,-243.6C96.7,-239.2 104.2,-232.9 112.4,-224.7C120.6,-216.5 126.2,-205.2 135.1,-194.5C143.9,-183.8 156.5,-171.2 165.3,-160.5C174.1,-149.8 180.4,-142.2 187.9,-130.3C195.5,-118.3 203.6,-100.7 210.6,-88.8C217.5,-76.8 225.4,-68 229.5,-58.5C233.5,-49.1 235.7,-39.7 235.1,-32.1C234.5,-24.6 228.2,-20.8 225.7,-13.2C223.2,-5.7 221.3,4.4 220,13.2C218.8,22 219.7,30.2 218.1,39.6C216.6,49.1 215,58.5 210.6,69.8C206.2,81.2 198,96.9 191.7,107.6C185.4,118.3 179.7,126.5 172.8,134C165.9,141.6 158.3,146.6 150.2,152.9C142,159.2 131.3,166.1 123.7,171.8C116.2,177.4 114.3,183.1 104.8,186.9C95.4,190.7 79.7,193.2 67.1,194.4C54.5,195.7 41.9,195.1 29.3,194.4C16.7,193.8 4.2,190 -8.4,190.7C-21,191.3 -33.6,198.2 -46.2,198.2C-58.8,198.2 -73.2,192.6 -83.9,190.7C-94.6,188.8 -102.2,191.3 -110.4,186.9C-118.6,182.5 -125.5,173 -133,164.2C-140.6,155.4 -150.7,144.7 -155.7,134C-160.7,123.3 -160.1,112 -163.2,100C-166.4,88.1 -171.4,73 -174.6,62.3C-177.7,51.6 -181.5,45.9 -182.1,35.9C-182.7,25.8 -177.7,13.8 -178.3,1.9C-179,-10.1 -184,-23.3 -185.9,-35.9C-187.8,-48.5 -188.4,-64.2 -189.7,-73.6C-190.9,-83.1 -194.7,-85 -193.4,-92.5C-192.2,-100.1 -185.9,-110.1 -182.1,-119C-178.3,-127.8 -176.5,-137.2 -170.8,-145.4C-165.1,-153.6 -155.1,-159.9 -148.1,-168C-141.2,-176.2 -133.7,-185.7 -129.3,-194.5C-124.9,-203.3 -126.7,-215.2 -121.7,-220.9C-116.7,-226.6 -108.5,-225.9 -99.1,-228.5C-89.6,-231 -76.4,-232.5 -65.1,-236C-53.7,-239.5 -41.8,-246.4 -31.1,-249.2C-20.4,-252.1 -14.1,-252.7 -0.9,-253Z" fill="#ffffc2"/>
<path d="M-125.7,-217.9C-121.3,-222.6 -114.4,-225.8 -110.6,-223.6C-106.8,-221.4 -109.3,-210.3 -103,-204.7C-96.7,-199 -80.4,-192.7 -72.8,-189.6C-65.3,-186.4 -59.3,-188.3 -57.7,-185.8C-56.1,-183.3 -57.7,-178.9 -63.4,-174.5C-69.1,-170.1 -83.8,-164.4 -91.7,-159.4C-99.6,-154.3 -105.9,-149.3 -110.6,-144.3C-115.3,-139.2 -117.5,-134.2 -120,-129.2C-122.5,-124.1 -127.3,-118.2 -125.7,-114.1C-124.1,-110 -116.2,-106.2 -110.6,-104.6C-104.9,-103 -98,-103.7 -91.7,-104.6C-85.4,-105.6 -79.1,-108.4 -72.8,-110.3C-66.5,-112.2 -59.6,-114.7 -53.9,-115.9C-48.3,-117.2 -42.6,-118.8 -38.8,-117.8C-35.1,-116.9 -30.7,-114.1 -31.3,-110.3C-31.9,-106.5 -39.8,-100.8 -42.6,-95.2C-45.5,-89.5 -48.3,-81.7 -48.3,-76.3C-48.3,-71 -40.1,-65.9 -42.6,-63.1C-45.1,-60.3 -55.2,-60.3 -63.4,-59.3C-71.6,-58.4 -83.8,-55.8 -91.7,-57.4C-99.6,-59 -105.2,-65.6 -110.6,-68.8C-115.9,-71.9 -119.4,-74.4 -123.8,-76.3C-128.2,-78.2 -134.2,-80.7 -137,-80.1C-139.8,-79.4 -138.9,-76.9 -140.8,-72.5C-142.7,-68.1 -148.3,-63.1 -148.3,-53.6C-148.3,-44.2 -142.1,-25.3 -140.8,-15.9C-139.5,-6.4 -139.5,-2.7 -140.8,3C-142.1,8.7 -142.7,15.6 -148.3,18.1C-154,20.6 -169.1,23.8 -174.8,18.1C-180.4,12.4 -180.1,-5.5 -182.3,-15.9C-184.5,-26.3 -188,-34.8 -188,-44.2C-188,-53.6 -181.7,-64.7 -182.3,-72.5C-183,-80.4 -191.8,-84.5 -191.8,-91.4C-191.8,-98.3 -185.2,-106.5 -182.3,-114.1C-179.5,-121.6 -177.9,-129.8 -174.8,-136.7C-171.6,-143.6 -168.5,-149.3 -163.4,-155.6C-158.4,-161.9 -149,-167.9 -144.6,-174.5C-140.2,-181.1 -140.2,-188 -137,-195.2C-133.9,-202.5 -130.1,-213.2 -125.7,-217.9Z" fill="#e2f5f7" clip-path="url(#qnw)"/>
<path d="M5.4,-180.1C7.6,-182.7 11.7,-186.7 16.7,-187.7C21.7,-188.6 29.3,-187.4 35.6,-185.8C41.9,-184.2 47.8,-181.4 54.5,-178.3C61.1,-175.1 68,-171 75.2,-166.9C82.5,-162.8 90.3,-157.8 97.9,-153.7C105.4,-149.6 114.2,-146.5 120.5,-142.4C126.8,-138.3 130.6,-132.6 135.6,-129.2C140.7,-125.7 145.7,-124.8 150.7,-121.6C155.8,-118.5 161.4,-114.1 165.8,-110.3C170.3,-106.5 172.8,-102.7 177.2,-99C181.6,-95.2 187.2,-90.5 192.3,-87.6C197.3,-84.8 203,-83.9 207.4,-82C211.8,-80.1 214.6,-80.4 218.7,-76.3C222.8,-72.2 229.1,-65 231.9,-57.4C234.8,-49.9 236.3,-37.9 235.7,-31C235.1,-24.1 231.6,-19 228.1,-15.9C224.7,-12.7 219.3,-14 214.9,-12.1C210.5,-10.2 205.5,-5.2 201.7,-4.6C197.9,-3.9 195.4,-5.8 192.3,-8.3C189.1,-10.9 185.4,-15.3 182.8,-19.7C180.3,-24.1 179.7,-29.1 177.2,-34.8C174.7,-40.4 170.9,-47.4 167.7,-53.6C164.6,-59.9 161.8,-67.5 158.3,-72.5C154.8,-77.6 150.1,-80.1 147,-83.9C143.8,-87.6 141.3,-90.1 139.4,-95.2C137.5,-100.2 138.2,-109.3 135.6,-114.1C133.1,-118.8 128.7,-120.4 124.3,-123.5C119.9,-126.6 115.5,-130.7 109.2,-132.9C102.9,-135.1 94.1,-135.5 86.6,-136.7C79,-138 70.8,-138.6 63.9,-140.5C57,-142.4 51.3,-145.5 45,-148C38.7,-150.6 31.8,-153.1 26.1,-155.6C20.5,-158.1 14.8,-160.3 11,-163.1C7.3,-166 4.4,-169.8 3.5,-172.6C2.5,-175.4 3.2,-177.6 5.4,-180.1Z" fill="#e2f5f7" clip-path="url(#qne)"/>
<path d="M-176.7,-24C-171.6,-28.7 -154.3,-27.8 -148.3,-24C-142.4,-20.2 -140.8,-8.2 -140.8,-1.3C-140.8,5.6 -144.6,13.5 -148.3,17.6C-152.1,21.6 -159,22.6 -163.4,23.2C-167.9,23.9 -172.3,24.5 -174.8,21.3C-177.3,18.2 -178.2,11.9 -178.6,4.3C-178.9,-3.2 -181.7,-19.3 -176.7,-24Z" fill="#e2f5f7" clip-path="url(#qsw)"/>
<path d="M-129.5,32.7C-126.6,30.5 -115,28.6 -110.6,30.8C-106.2,33 -102.4,42.7 -103,45.9C-103.7,49 -110.3,50 -114.4,49.7C-118.5,49.3 -125.1,46.8 -127.6,44C-130.1,41.2 -132.3,34.9 -129.5,32.7Z" fill="#e2f5f7" clip-path="url(#qsw)"/>
<path d="M-123.8,136.5C-123.2,134.9 -115.9,143.7 -110.6,145.9C-105.2,148.1 -98,149.1 -91.7,149.7C-85.4,150.3 -79.1,150.7 -72.8,149.7C-66.5,148.8 -60.2,144.7 -53.9,144.1C-47.7,143.4 -41.4,144.4 -35.1,145.9C-28.8,147.5 -22.5,151 -16.2,153.5C-9.9,156 -5.5,159.2 2.7,161C10.9,162.9 27.9,159.5 32.9,164.8C37.9,170.2 37.9,188.7 32.9,193.1C27.9,197.5 10.9,190.6 2.7,191.2C-5.5,191.9 -9.9,196 -16.2,196.9C-22.5,197.9 -28.8,197.5 -35.1,196.9C-41.4,196.3 -47.7,193.5 -53.9,193.1C-60.2,192.8 -66.5,195 -72.8,195C-79.1,195 -85.4,194.1 -91.7,193.1C-98,192.2 -105.2,191.9 -110.6,189.4C-115.9,186.8 -123.8,181.5 -123.8,178C-123.8,174.6 -112.2,172.4 -110.6,168.6C-109,164.8 -112.2,160.7 -114.4,155.4C-116.6,150 -124.4,138.1 -123.8,136.5Z" fill="#e2f5f7" clip-path="url(#qsw)"/>
<path d="M-95.5,85.5C-93.3,82.4 -85.7,81.4 -80.4,81.7C-75,82.1 -68.1,84.9 -63.4,87.4C-58.7,89.9 -53.6,93.1 -52.1,96.9C-50.5,100.6 -51.4,106.9 -53.9,110.1C-56.5,113.2 -62.4,115.7 -67.2,115.7C-71.9,115.7 -77.9,112.6 -82.3,110.1C-86.7,107.6 -91.4,104.7 -93.6,100.6C-95.8,96.5 -97.7,88.7 -95.5,85.5Z" fill="#e2f5f7" clip-path="url(#qsw)"/>
<path d="M-35.1,91.2C-33.2,90.2 -27.5,93.4 -23.7,96.9C-20,100.3 -13.7,107.9 -12.4,112C-11.2,116 -13.7,120.8 -16.2,121.4C-18.7,122 -24.4,118.9 -27.5,115.7C-30.7,112.6 -33.8,106.6 -35.1,102.5C-36.3,98.4 -37,92.1 -35.1,91.2Z" fill="#e2f5f7" clip-path="url(#qsw)"/>
<path d="M-138.9,108.2C-138.3,105 -135.1,103.1 -133.2,104.4C-131.4,105.7 -129.5,111.3 -127.6,115.7C-125.7,120.1 -121.6,127.7 -121.9,130.8C-122.2,134 -126.9,135.9 -129.5,134.6C-132,133.4 -135.4,127.7 -137,123.3C-138.6,118.9 -139.5,111.3 -138.9,108.2Z" fill="#ffffc2" clip-path="url(#qsw)"/>
<path d="M-34.3,161C-30.5,155.4 -18.5,162 -11.6,162.9C-4.7,163.9 1,165.8 7.3,166.7C13.6,167.7 19.8,167.7 26.1,168.6C32.4,169.5 39.4,172.1 45,172.4C50.7,172.7 56.3,172.7 60.1,170.5C63.9,168.3 65.8,162.6 67.7,159.2C69.6,155.7 68.9,152.2 71.4,149.7C74,147.2 77.7,145.3 82.8,144.1C87.8,142.8 95.4,143.7 101.7,142.2C107.9,140.6 114.9,137.8 120.5,134.6C126.2,131.5 131.2,127.7 135.6,123.3C140,118.9 143.8,113.2 147,108.2C150.1,103.1 152,98.7 154.5,93.1C157,87.4 159.9,80.5 162.1,74.2C164.3,67.9 166.2,60.7 167.7,55.3C169.3,50 169.9,39 171.5,42.1C173.1,45.2 176.2,63.2 177.2,74.2C178.1,85.2 180.3,100.6 177.2,108.2C174,115.7 162.7,115.1 158.3,119.5C153.9,123.9 153.9,130.2 150.7,134.6C147.6,139 144.4,141.8 139.4,145.9C134.4,150 124.9,154.4 120.5,159.2C116.1,163.9 116.1,170.2 113,174.3C109.8,178.3 106.7,181.2 101.7,183.7C96.6,186.2 89.1,187.5 82.8,189.4C76.5,191.2 72.4,193.8 63.9,195C55.4,196.3 41.2,197.5 31.8,196.9C22.4,196.3 16.1,191.9 7.3,191.2C-1.6,190.6 -14.1,192.2 -21.1,193.1C-28,194.1 -32.1,202.3 -34.3,196.9C-36.5,191.6 -38.1,166.7 -34.3,161Z" fill="#e2f5f7" clip-path="url(#qse)"/>
<path d="M-34.3,96.9C-31.8,93.4 -23.6,93.1 -19.2,95C-14.8,96.9 -9.4,104.1 -7.8,108.2C-6.3,112.3 -7.2,117.3 -9.7,119.5C-12.2,121.7 -18.9,122 -22.9,121.4C-27,120.8 -32.4,119.8 -34.3,115.7C-36.2,111.6 -36.8,100.3 -34.3,96.9Z" fill="#e2f5f7" clip-path="url(#qse)"/>
<path d="M-163.4,-159.4C-159,-162.8 -154,-158.1 -148.3,-159.4C-142.7,-160.6 -137.3,-164.1 -129.5,-166.9C-121.6,-169.8 -110,-174.5 -101.1,-176.4C-92.3,-178.3 -79.7,-179.5 -76.6,-178.3C-73.5,-177 -78.2,-172 -82.3,-168.8C-86.4,-165.7 -96.4,-163.5 -101.1,-159.4C-105.9,-155.3 -107.4,-149.3 -110.6,-144.3C-113.7,-139.2 -116.9,-133.9 -120,-129.2C-123.2,-124.4 -127.3,-122.2 -129.5,-115.9C-131.7,-109.7 -132.6,-97.4 -133.2,-91.4C-133.9,-85.4 -130.7,-82.9 -133.2,-80.1C-135.8,-77.2 -145.2,-77.2 -148.3,-74.4C-151.5,-71.6 -152.1,-68.1 -152.1,-63.1C-152.1,-58.1 -149.6,-52.1 -148.3,-44.2C-147.1,-36.3 -144.6,-23.8 -144.6,-15.9C-144.6,-8 -145.2,-2.7 -148.3,3C-151.5,8.7 -158.7,15.6 -163.4,18.1C-168.2,20.6 -173.5,23.8 -176.7,18.1C-179.8,12.4 -180.4,-5.5 -182.3,-15.9C-184.2,-26.3 -187.7,-34.8 -188,-44.2C-188.3,-53.6 -183.6,-64.7 -184.2,-72.5C-184.8,-80.4 -192.1,-84.5 -191.8,-91.4C-191.5,-98.3 -185.2,-106.2 -182.3,-114.1C-179.5,-121.9 -177.9,-131.1 -174.8,-138.6C-171.6,-146.2 -167.9,-155.9 -163.4,-159.4Z" fill="#b1deee" clip-path="url(#qnw)"/>
<path d="M-49.8,-87.6C-49.8,-85 -51.3,-81.7 -53.2,-79.9C-55.2,-78.1 -58.7,-76.7 -61.5,-76.7C-64.3,-76.7 -67.8,-78.1 -69.8,-79.9C-71.7,-81.7 -73.2,-85 -73.2,-87.6C-73.2,-90.2 -71.7,-93.5 -69.8,-95.4C-67.8,-97.2 -64.3,-98.6 -61.5,-98.6C-58.7,-98.6 -55.2,-97.2 -53.2,-95.4C-51.3,-93.5 -49.8,-90.2 -49.8,-87.6Z" fill="#b1deee" clip-path="url(#qnw)"/>
<path d="M-121.9,-82C-121.3,-84.8 -115.6,-87.9 -110.6,-89.5C-105.6,-91.1 -96.7,-92.3 -91.7,-91.4C-86.7,-90.5 -80.4,-87 -80.4,-83.9C-80.4,-80.7 -91.7,-76 -91.7,-72.5C-91.7,-69.1 -80.4,-65.3 -80.4,-63.1C-80.4,-60.9 -88.2,-58.4 -91.7,-59.3C-95.2,-60.3 -97.4,-66.5 -101.1,-68.8C-104.9,-71 -110.9,-70.3 -114.4,-72.5C-117.8,-74.7 -122.5,-79.1 -121.9,-82Z" fill="#b1deee" clip-path="url(#qnw)"/>
<path d="M-159.7,-148C-159,-150.2 -153.4,-152.4 -150.2,-151.8C-147.1,-151.2 -141.7,-146.8 -140.8,-144.3C-139.8,-141.8 -142.4,-137.7 -144.6,-136.7C-146.8,-135.8 -151.5,-136.7 -154,-138.6C-156.5,-140.5 -160.3,-145.8 -159.7,-148Z" fill="#b1deee" clip-path="url(#qnw)"/>
<path d="M-104.9,-200.9C-104.9,-204.1 -97.1,-210.7 -91.7,-214.1C-86.4,-217.6 -79.1,-218.5 -72.8,-221.7C-66.5,-224.8 -60.2,-229.5 -53.9,-233C-47.7,-236.5 -39.8,-239.3 -35.1,-242.4C-30.3,-245.6 -31.9,-250.3 -25.6,-251.9C-19.3,-253.5 -7.1,-251.3 2.7,-251.9C12.4,-252.5 27.9,-264.8 32.9,-255.7C37.9,-246.5 37.9,-207.2 32.9,-197.1C27.9,-187.1 9.3,-197.8 2.7,-195.2C-3.9,-192.7 -3.6,-186.7 -6.7,-182C-9.9,-177.3 -11.5,-172 -16.2,-166.9C-20.9,-161.9 -28.8,-156.2 -35.1,-151.8C-41.4,-147.4 -47.7,-144.3 -53.9,-140.5C-60.2,-136.7 -67.2,-133.6 -72.8,-129.2C-78.5,-124.8 -83.2,-117.5 -87.9,-114.1C-92.6,-110.6 -96.7,-108.4 -101.1,-108.4C-105.6,-108.4 -112.2,-111.2 -114.4,-114.1C-116.6,-116.9 -116.6,-121.6 -114.4,-125.4C-112.2,-129.2 -106.5,-132.9 -101.1,-136.7C-95.8,-140.5 -88.6,-143.6 -82.3,-148C-76,-152.4 -68.7,-158.1 -63.4,-163.1C-58,-168.2 -53,-173.2 -50.2,-178.3C-47.3,-183.3 -42.6,-190.8 -46.4,-193.4C-50.2,-195.9 -65.3,-193 -72.8,-193.4C-80.4,-193.7 -86.4,-194 -91.7,-195.2C-97.1,-196.5 -104.9,-197.8 -104.9,-200.9Z" fill="#fee294" clip-path="url(#qnw)"/>
<path d="M-16.2,-159.4C-13,-161.6 -3.6,-163.1 2.7,-163.1C9,-163.1 16.5,-161.3 21.6,-159.4C26.6,-157.5 32.9,-153.7 32.9,-151.8C32.9,-149.9 27.2,-148.7 21.6,-148C15.9,-147.4 5.2,-147.7 -1.1,-148C-7.4,-148.4 -13.7,-148 -16.2,-149.9C-18.7,-151.8 -19.3,-157.2 -16.2,-159.4Z" fill="#fee294" clip-path="url(#qnw)"/>
<path d="M-34.3,-251.9C-27.4,-261.3 -6,-253.6 7.3,-253.8C20.5,-253.9 34,-253.6 45,-252.8C56,-252 66.4,-250.8 73.3,-249C80.3,-247.3 80.6,-246.4 86.6,-242.4C92.5,-238.5 102.9,-232.1 109.2,-225.4C115.5,-218.8 119.3,-210 124.3,-202.8C129.3,-195.6 133.8,-188 139.4,-182C145.1,-176 152.6,-172 158.3,-166.9C164,-161.9 169.3,-157.5 173.4,-151.8C177.5,-146.2 179.1,-138.6 182.8,-132.9C186.6,-127.3 192.9,-122.9 196.1,-117.8C199.2,-112.8 201.7,-106.5 201.7,-102.7C201.7,-99 198.9,-93.9 196.1,-95.2C193.2,-96.4 189.1,-105.3 184.7,-110.3C180.3,-115.3 174.7,-120.4 169.6,-125.4C164.6,-130.4 159.6,-136.1 154.5,-140.5C149.5,-144.9 145.1,-148 139.4,-151.8C133.8,-155.6 126.8,-159.4 120.5,-163.1C114.2,-166.9 107.9,-171.3 101.7,-174.5C95.4,-177.6 89.1,-179.5 82.8,-182C76.5,-184.5 70.2,-187.4 63.9,-189.6C57.6,-191.8 52.9,-193.7 45,-195.2C37.2,-196.8 26.1,-198.4 16.7,-199C7.3,-199.6 -3.1,-199.3 -11.6,-199C-20.1,-198.7 -30.5,-188.3 -34.3,-197.1C-38.1,-205.9 -41.2,-242.4 -34.3,-251.9Z" fill="#fee294" clip-path="url(#qne)"/>
<path d="M26.1,-163.1C26.8,-164.6 35.6,-166 41.2,-166C46.9,-166 53.8,-164.2 60.1,-163.1C66.4,-162 72.7,-161.3 79,-159.4C85.3,-157.5 92.8,-154.3 97.9,-151.8C102.9,-149.3 108.6,-146.5 109.2,-144.3C109.8,-142.1 106.1,-138.9 101.7,-138.6C97.3,-138.3 89.1,-140.8 82.8,-142.4C76.5,-144 68.6,-146.2 63.9,-148C59.2,-149.9 58.9,-152.1 54.5,-153.7C50.1,-155.3 42.2,-155.9 37.5,-157.5C32.7,-159.1 25.5,-161.7 26.1,-163.1Z" fill="#b1deee" clip-path="url(#qne)"/>
<path d="M137.5,-115.9C138.8,-119.7 147.3,-118.8 150.7,-117.8C154.2,-116.9 157.7,-113.4 158.3,-110.3C158.9,-107.1 154.5,-102.7 154.5,-99C154.5,-95.2 158.9,-90.1 158.3,-87.6C157.7,-85.1 153.3,-82.6 150.7,-83.9C148.2,-85.1 145.4,-89.8 143.2,-95.2C141,-100.5 136.3,-112.2 137.5,-115.9Z" fill="#b1deee" clip-path="url(#qne)"/>
<path d="M171.5,-100.8C172.5,-105.3 177.5,-101.8 180.9,-99C184.4,-96.1 188.5,-88.3 192.3,-83.9C196.1,-79.4 200.5,-77.6 203.6,-72.5C206.8,-67.5 209.6,-59.9 211.2,-53.6C212.7,-47.4 214.6,-38.5 213,-34.8C211.5,-31 206.1,-31.3 201.7,-31C197.3,-30.7 190.7,-30.4 186.6,-32.9C182.5,-35.4 179.1,-39.5 177.2,-46.1C175.3,-52.7 176.2,-63.4 175.3,-72.5C174.3,-81.7 170.6,-96.4 171.5,-100.8Z" fill="#b1deee" clip-path="url(#qne)"/>
<path d="M205.5,-82C206.8,-88.6 214.3,-87 218.7,-83.9C223.1,-80.7 229.1,-71.9 231.9,-63.1C234.8,-54.3 236.3,-38.9 235.7,-31C235.1,-23.1 231,-16.8 228.1,-15.9C225.3,-14.9 221.5,-20.6 218.7,-25.3C215.9,-30 213.4,-34.8 211.2,-44.2C209,-53.6 204.2,-75.4 205.5,-82Z" fill="#b1deee" clip-path="url(#qne)"/>
<path d="M150.7,-72.5C152.3,-72.5 156.7,-67.8 158.3,-63.1C159.9,-58.4 158.3,-49.9 160.2,-44.2C162.1,-38.5 166.8,-33.8 169.6,-29.1C172.5,-24.4 175,-20.6 177.2,-15.9C179.4,-11.2 180.3,-5.8 182.8,-0.8C185.4,4.2 191.6,10.5 192.3,14.3C192.9,18.1 189.4,23.8 186.6,21.9C183.8,20 178.1,9.3 175.3,3C172.5,-3.3 172.5,-10.5 169.6,-15.9C166.8,-21.2 161.4,-24.4 158.3,-29.1C155.1,-33.8 152.3,-38.5 150.7,-44.2C149.2,-49.9 148.9,-58.4 148.9,-63.1C148.9,-67.8 149.2,-72.5 150.7,-72.5Z" fill="#fee294" clip-path="url(#qne)"/>
<path d="M-87.9,93.1C-87,91 -82.3,88 -78.5,88.4C-74.7,88.7 -69.1,92.6 -65.3,95C-61.5,97.3 -56.5,100 -55.8,102.5C-55.2,105 -58.4,109.4 -61.5,110.1C-64.6,110.7 -70.9,107.9 -74.7,106.3C-78.5,104.7 -82,102.8 -84.2,100.6C-86.4,98.4 -88.9,95.1 -87.9,93.1Z" fill="#b1deee" clip-path="url(#qsw)"/>
<path d="M-103,183.7C-103,180.2 -96.7,173.9 -91.7,172.4C-86.7,170.8 -78.5,174.9 -72.8,174.3C-67.2,173.6 -60.9,171.4 -57.7,168.6C-54.6,165.8 -57.1,159.5 -53.9,157.3C-50.8,155.1 -44.5,154.7 -38.8,155.4C-33.2,156 -26.9,158.8 -20,161C-13,163.2 -6.1,166.7 2.7,168.6C11.5,170.5 27.9,168.3 32.9,172.4C37.9,176.5 37.9,190 32.9,193.1C27.9,196.3 10.9,190.6 2.7,191.2C-5.5,191.9 -9.9,196 -16.2,196.9C-22.5,197.9 -28.8,197.5 -35.1,196.9C-41.4,196.3 -47.7,193.5 -53.9,193.1C-60.2,192.8 -66.5,195 -72.8,195C-79.1,195 -86.7,195 -91.7,193.1C-96.7,191.2 -103,187.2 -103,183.7Z" fill="#b1deee" clip-path="url(#qsw)"/>
<path d="M-176.7,-24C-174.5,-28.7 -166.3,-26.5 -163.4,-24C-160.6,-21.5 -159,-13.6 -159.7,-8.9C-160.3,-4.2 -164.4,2.1 -167.2,4.3C-170.1,6.5 -175.1,9.1 -176.7,4.3C-178.2,-0.4 -178.9,-19.3 -176.7,-24Z" fill="#b1deee" clip-path="url(#qsw)"/>
<path d="M-180.4,36.4C-179.2,33.6 -171.9,38.6 -167.2,38.3C-162.5,38 -157.2,33.6 -152.1,34.6C-147.1,35.5 -141.7,40.5 -137,44C-132.3,47.5 -128.2,51.2 -123.8,55.3C-119.4,59.4 -113.4,63.8 -110.6,68.5C-107.8,73.3 -108.4,78.9 -106.8,83.6C-105.2,88.4 -103.7,92.8 -101.1,96.9C-98.6,100.9 -95.8,104.4 -91.7,108.2C-87.6,112 -80.7,115.7 -76.6,119.5C-72.5,123.3 -67.8,128 -67.2,130.8C-66.5,133.7 -69.4,134.9 -72.8,136.5C-76.3,138.1 -83.2,140.3 -87.9,140.3C-92.6,140.3 -96.7,138.7 -101.1,136.5C-105.6,134.3 -110.3,130.5 -114.4,127.1C-118.5,123.6 -122.5,118.9 -125.7,115.7C-128.8,112.6 -131.4,108.2 -133.2,108.2C-135.1,108.2 -137.3,112 -137,115.7C-136.7,119.5 -132,126.7 -131.4,130.8C-130.7,134.9 -131.4,140.3 -133.2,140.3C-135.1,140.3 -139.8,134.3 -142.7,130.8C-145.5,127.4 -148.3,121.1 -150.2,119.5C-152.1,117.9 -152.4,124.5 -154,121.4C-155.6,118.2 -157.5,107.9 -159.7,100.6C-161.9,93.4 -164.7,85.5 -167.2,78C-169.7,70.4 -172.6,62.2 -174.8,55.3C-177,48.4 -181.7,39.3 -180.4,36.4Z" fill="#fee294" clip-path="url(#qsw)"/>
<path d="M-29.4,130.8C-27.2,128.9 -20.9,130.5 -16.2,128.9C-11.5,127.4 -5.2,124.9 -1.1,121.4C3,117.9 6.2,112.9 8.4,108.2C10.6,103.5 9.9,95.9 12.1,93.1C14.3,90.2 18.1,91.2 21.6,91.2C25,91.2 31,82.7 32.9,93.1C34.8,103.5 36,144.1 32.9,153.5C29.8,162.9 19.7,150.3 14,149.7C8.4,149.1 4.6,150.3 -1.1,149.7C-6.7,149.1 -15.2,147.5 -20,145.9C-24.7,144.4 -27.8,142.8 -29.4,140.3C-31,137.8 -31.6,132.7 -29.4,130.8Z" fill="#fee294" clip-path="url(#qsw)"/>
<path d="M175.3,-24C177.5,-28.7 185.7,-27.1 188.5,-24C191.3,-20.8 189.8,-9.8 192.3,-5.1C194.8,-0.4 200.5,0.6 203.6,4.3C206.8,8.1 209.6,12.2 211.2,17.6C212.7,22.9 213.4,30.1 213,36.4C212.7,42.7 211.5,49 209.3,55.3C207.1,61.6 203.6,67.9 199.8,74.2C196.1,80.5 191.6,88.4 186.6,93.1C181.6,97.8 174,101.9 169.6,102.5C165.2,103.1 161.1,100.3 160.2,96.9C159.2,93.4 162.4,87.1 164,81.7C165.5,76.4 168.2,70.7 169.6,64.8C171,58.8 171.8,52.2 172.5,45.9C173.1,39.6 172.9,33.9 173.4,27C173.9,20.1 175,12.8 175.3,4.3C175.6,-4.2 173.1,-19.3 175.3,-24Z" fill="#fee294" clip-path="url(#qse)"/>
<path d="M-34.3,166.7C-30.5,162.3 -18.5,169.5 -11.6,170.5C-4.7,171.4 1,171.4 7.3,172.4C13.6,173.3 19.8,175.2 26.1,176.1C32.4,177.1 38.7,178.7 45,178C51.3,177.4 58.9,175.5 63.9,172.4C68.9,169.2 71.4,162.9 75.2,159.2C79,155.4 81.5,151.6 86.6,149.7C91.6,147.8 99.1,149.4 105.4,147.8C111.7,146.3 118.6,143.4 124.3,140.3C130,137.1 135,133.7 139.4,128.9C143.8,124.2 148.4,116 150.7,112C153.1,107.9 152.6,103.1 153.6,104.4C154.5,105.7 156.9,114.5 156.4,119.5C155.9,124.5 153.6,130.2 150.7,134.6C147.9,139 144.4,141.8 139.4,145.9C134.4,150 124.9,154.4 120.5,159.2C116.1,163.9 116.1,170.2 113,174.3C109.8,178.3 106.7,181.2 101.7,183.7C96.6,186.2 89.1,187.5 82.8,189.4C76.5,191.2 72.4,193.8 63.9,195C55.4,196.3 41.2,197.5 31.8,196.9C22.4,196.3 16.1,191.9 7.3,191.2C-1.6,190.6 -14.1,192.2 -21.1,193.1C-28,194.1 -32.1,201.3 -34.3,196.9C-36.5,192.5 -38.1,171.1 -34.3,166.7Z" fill="#b1deee" clip-path="url(#qse)"/>
<path d="M-34.3,128.9C-31.8,125.2 -24.5,128.6 -19.2,127.1C-13.8,125.5 -6.6,122.7 -2.2,119.5C2.2,116.4 5.4,112.6 7.3,108.2C9.1,103.8 7.3,96.2 9.1,93.1C11,89.9 15.8,89.3 18.6,89.3C21.4,89.3 24.6,91.2 26.1,93.1C27.7,95 28.3,97.5 28,100.6C27.7,103.8 25.5,107.6 24.3,112C23,116.4 20.2,123 20.5,127.1C20.8,131.1 23.9,132.7 26.1,136.5C28.3,140.3 32.7,146.3 33.7,149.7C34.6,153.2 34.6,156 31.8,157.3C29,158.5 22.4,158.2 16.7,157.3C11,156.3 4.1,153.2 -2.2,151.6C-8.5,150 -15.7,148.1 -21.1,147.8C-26.4,147.5 -32.1,152.9 -34.3,149.7C-36.5,146.6 -36.8,132.7 -34.3,128.9Z" fill="#fee294" clip-path="url(#qse)"/>
<path d="M-55.3,-87.6C-55.3,-86.5 -55.9,-85 -56.8,-84.2C-57.7,-83.3 -59.3,-82.7 -60.6,-82.7C-61.8,-82.7 -63.4,-83.3 -64.3,-84.2C-65.2,-85 -65.8,-86.5 -65.8,-87.6C-65.8,-88.8 -65.2,-90.3 -64.3,-91.1C-63.4,-91.9 -61.8,-92.5 -60.6,-92.5C-59.3,-92.5 -57.7,-91.9 -56.8,-91.1C-55.9,-90.3 -55.3,-88.8 -55.3,-87.6Z" fill="#7fb5da" clip-path="url(#qnw)"/>
<path d="M-163.4,-157.5C-159.7,-159.4 -156.5,-149.6 -152.1,-148C-147.7,-146.5 -142.4,-145.8 -137,-148C-131.7,-150.2 -125.1,-158.7 -120,-161.3C-115,-163.8 -107.8,-165.4 -106.8,-163.1C-105.9,-160.9 -110.6,-153.7 -114.4,-148C-118.1,-142.4 -125.7,-135.5 -129.5,-129.2C-133.2,-122.9 -135.4,-118.8 -137,-110.3C-138.6,-101.8 -136.7,-83.9 -138.9,-78.2C-141.1,-72.5 -146.8,-74.1 -150.2,-76.3C-153.7,-78.5 -155.6,-88.9 -159.7,-91.4C-163.8,-93.9 -169.7,-91.1 -174.8,-91.4C-179.8,-91.7 -188.6,-89.5 -189.9,-93.3C-191.1,-97.1 -184.8,-106.8 -182.3,-114.1C-179.8,-121.3 -177.9,-129.5 -174.8,-136.7C-171.6,-144 -167.2,-155.6 -163.4,-157.5Z" fill="#7fb5da" clip-path="url(#qnw)"/>
<path d="M-182.3,-63.1C-180.4,-66.5 -175.4,-66.5 -172.9,-65C-170.4,-63.4 -168.2,-58.7 -167.2,-53.6C-166.3,-48.6 -166.6,-41.1 -167.2,-34.8C-167.9,-28.5 -169.1,-18.4 -171,-15.9C-172.9,-13.4 -176.3,-14.9 -178.6,-19.7C-180.8,-24.4 -183.6,-37 -184.2,-44.2C-184.8,-51.4 -184.2,-59.6 -182.3,-63.1Z" fill="#7fb5da" clip-path="url(#qnw)"/>
<path d="M-89.8,-208.5C-88.2,-211.9 -80.4,-215.1 -72.8,-217.9C-65.3,-220.7 -52.4,-222.3 -44.5,-225.4C-36.6,-228.6 -31.9,-233.9 -25.6,-236.8C-19.3,-239.6 -16.5,-241.5 -6.7,-242.4C3,-243.4 26.3,-249.4 32.9,-242.4C39.5,-235.5 37.9,-208.1 32.9,-200.9C27.9,-193.7 12.4,-199 2.7,-199C-7.1,-199 -16.2,-200.6 -25.6,-200.9C-35.1,-201.2 -44.5,-201.5 -53.9,-200.9C-63.4,-200.3 -76.3,-195.9 -82.3,-197.1C-88.2,-198.4 -91.4,-205 -89.8,-208.5Z" fill="#fdb366" clip-path="url(#qnw)"/>
<path d="M-90.2,-121.2C-90.2,-118.9 -91.6,-115.9 -93.4,-114.3C-95.2,-112.7 -98.6,-111.4 -101.1,-111.4C-103.7,-111.4 -107.1,-112.7 -108.9,-114.3C-110.7,-115.9 -112.1,-118.9 -112.1,-121.2C-112.1,-123.5 -110.7,-126.5 -108.9,-128.2C-107.1,-129.8 -103.7,-131.1 -101.1,-131.1C-98.6,-131.1 -95.2,-129.8 -93.4,-128.2C-91.6,-126.5 -90.2,-123.5 -90.2,-121.2Z" fill="#fdb366" clip-path="url(#qnw)"/>
<path d="M-48.3,-159.4C-46.7,-162.2 -39.8,-169.1 -37,-170.7C-34.1,-172.3 -30.7,-171 -31.3,-168.8C-31.9,-166.6 -38.2,-160 -40.7,-157.5C-43.2,-155 -45.1,-153.4 -46.4,-153.7C-47.7,-154 -49.9,-156.5 -48.3,-159.4Z" fill="#fdb366" clip-path="url(#qnw)"/>
<path d="M-76.6,-140.5C-75,-142.1 -69.1,-144.9 -65.3,-146.2C-61.5,-147.4 -56.1,-148.4 -53.9,-148C-51.7,-147.7 -50.2,-145.8 -52.1,-144.3C-53.9,-142.7 -61.5,-139.9 -65.3,-138.6C-69.1,-137.3 -72.8,-136.4 -74.7,-136.7C-76.6,-137 -78.2,-138.9 -76.6,-140.5Z" fill="#fdb366" clip-path="url(#qnw)"/>
<path d="M-34.3,-242.4C-28.9,-249 -12.2,-244 -2.2,-244.3C7.9,-244.6 17.3,-243.4 26.1,-244.3C34.9,-245.3 43.8,-249.7 50.7,-250C57.6,-250.3 61.7,-248.7 67.7,-246.2C73.7,-243.7 80.9,-239.6 86.6,-234.9C92.2,-230.2 97.3,-223.6 101.7,-217.9C106.1,-212.2 108.3,-206.9 113,-200.9C117.7,-194.9 124.9,-187.7 130,-182C135,-176.4 138.5,-172.3 143.2,-166.9C147.9,-161.6 153.9,-155 158.3,-149.9C162.7,-144.9 167.4,-140.5 169.6,-136.7C171.8,-132.9 172.8,-128.2 171.5,-127.3C170.3,-126.3 166.2,-127.6 162.1,-131.1C158,-134.5 152,-142.7 147,-148C141.9,-153.4 137.5,-159.1 131.9,-163.1C126.2,-167.2 119.3,-170.1 113,-172.6C106.7,-175.1 99.1,-175.4 94.1,-178.3C89.1,-181.1 87.8,-186.4 82.8,-189.6C77.7,-192.7 70.2,-195.2 63.9,-197.1C57.6,-199 51.9,-200 45,-200.9C38.1,-201.9 30.2,-202.2 22.4,-202.8C14.5,-203.4 7.3,-204.4 -2.2,-204.7C-11.6,-205 -28.9,-198.4 -34.3,-204.7C-39.6,-211 -39.6,-235.8 -34.3,-242.4Z" fill="#fdb366" clip-path="url(#qne)"/>
<path d="M179.1,-87.6C180.2,-88.6 184.7,-82.9 186.6,-80.1C188.5,-77.2 190.7,-73.2 190.4,-70.6C190.1,-68.1 186.5,-64.3 184.7,-65C183,-65.6 180.9,-70.6 180,-74.4C179.1,-78.2 178,-86.7 179.1,-87.6Z" fill="#7fb5da" clip-path="url(#qne)"/>
<path d="M207.4,-80.1C208.8,-82.3 214.3,-84.2 216.8,-82C219.3,-79.8 220.3,-70 222.5,-66.9C224.7,-63.7 228.1,-66.9 230,-63.1C231.9,-59.3 232.9,-49.6 233.8,-44.2C234.8,-38.9 236.6,-33.5 235.7,-31C234.8,-28.5 231,-27.8 228.1,-29.1C225.3,-30.4 221.9,-34.5 218.7,-38.5C215.6,-42.6 211,-48.6 209.3,-53.6C207.5,-58.7 208.6,-64.3 208.3,-68.8C208,-73.2 206,-77.9 207.4,-80.1Z" fill="#7fb5da" clip-path="url(#qne)"/>
<path d="M-101.1,185.6C-100.5,183.7 -92.6,181.8 -87.9,181.8C-83.2,181.8 -78.5,185.3 -72.8,185.6C-67.2,185.9 -58,185.6 -53.9,183.7C-49.9,181.8 -51.4,176.8 -48.3,174.3C-45.1,171.7 -40.4,169.2 -35.1,168.6C-29.7,168 -20.9,168.6 -16.2,170.5C-11.5,172.4 -9,176.8 -6.7,179.9C-4.5,183.1 -1.4,186.5 -3,189.4C-4.5,192.2 -10.8,195.7 -16.2,196.9C-21.5,198.2 -28.8,197.5 -35.1,196.9C-41.4,196.3 -49.2,193.5 -53.9,193.1C-58.7,192.8 -58.7,195.7 -63.4,195C-68.1,194.4 -77.5,189.7 -82.3,189.4C-87,189 -88.6,193.8 -91.7,193.1C-94.9,192.5 -101.8,187.5 -101.1,185.6Z" fill="#7fb5da" clip-path="url(#qsw)"/>
<path d="M-154,51.5C-153.4,49.2 -151.2,46.8 -148.3,46.8C-145.5,46.8 -141.1,49.2 -137,51.5C-132.9,53.9 -127.9,57.5 -123.8,61C-119.7,64.4 -115.3,68.5 -112.5,72.3C-109.6,76.1 -106.8,80.8 -106.8,83.6C-106.8,86.5 -109.6,87.7 -112.5,89.3C-115.3,90.9 -120,93.7 -123.8,93.1C-127.6,92.4 -131.7,88.7 -135.1,85.5C-138.6,82.4 -141.7,78.3 -144.6,74.2C-147.4,70.1 -150.5,64.8 -152.1,61C-153.7,57.2 -154.6,53.9 -154,51.5Z" fill="#fdb366" clip-path="url(#qsw)"/>
<path d="M-99.3,115.7C-98.6,114 -95.8,112.3 -93.6,112.9C-91.4,113.5 -86.7,117.5 -86,119.5C-85.4,121.6 -87.9,124.5 -89.8,125.2C-91.7,125.8 -95.8,124.9 -97.4,123.3C-98.9,121.7 -99.9,117.5 -99.3,115.7Z" fill="#fdb366" clip-path="url(#qsw)"/>
<path d="M-21.9,136.5C-20.3,134.9 -11.5,136.2 -6.7,134.6C-2,133 3.3,130.8 6.5,127.1C9.6,123.3 10.6,117 12.1,112C13.7,106.9 13.7,99.7 15.9,96.9C18.1,94 22.5,94.3 25.3,95C28.2,95.6 31.6,92.1 32.9,100.6C34.2,109.1 36,138.4 32.9,145.9C29.8,153.5 19.7,145.8 14,145.9C8.4,146.1 3.9,147.2 -1.1,146.9C-6.1,146.6 -12.7,145.8 -16.2,144.1C-19.6,142.3 -23.4,138.1 -21.9,136.5Z" fill="#fdb366" clip-path="url(#qsw)"/>
<path d="M182.8,8.1C186.3,7.2 192.4,6.5 196.1,8.1C199.7,9.7 203,12.8 204.5,17.6C206.1,22.3 206,30.1 205.5,36.4C205,42.7 203.6,49.3 201.7,55.3C199.8,61.3 197.3,67 194.2,72.3C191,77.7 186.6,84.3 182.8,87.4C179.1,90.6 174,92.1 171.5,91.2C169,90.2 167.6,86.2 167.7,81.7C167.9,77.3 171.2,70.7 172.5,64.8C173.7,58.8 174.5,52.2 175.3,45.9C176.1,39.6 177.2,32.3 177.2,27C177.2,21.6 174.3,16.9 175.3,13.8C176.2,10.6 179.4,9.1 182.8,8.1Z" fill="#fdb366" clip-path="url(#qse)"/>
<path d="M31.8,196.9C28,195.7 37.2,190 41.2,187.5C45.3,185 51.3,184.3 56.3,181.8C61.4,179.3 67,176.5 71.4,172.4C75.9,168.3 77.7,160.4 82.8,157.3C87.8,154.1 95.4,155.4 101.7,153.5C107.9,151.6 115.5,148.8 120.5,145.9C125.6,143.1 128.7,139 131.9,136.5C135,134 137.8,130.5 139.4,130.8C141,131.1 142.6,135.2 141.3,138.4C140,141.5 135.6,146.3 131.9,149.7C128.1,153.2 121.8,155.1 118.6,159.2C115.5,163.2 115.8,170.2 113,174.3C110.2,178.3 106.7,181.2 101.7,183.7C96.6,186.2 89.1,187.5 82.8,189.4C76.5,191.2 72.4,193.8 63.9,195C55.4,196.3 35.6,198.2 31.8,196.9Z" fill="#7fb5da" clip-path="url(#qse)"/>
<path d="M-34.3,172.4C-31.8,168.6 -23.6,173 -19.2,174.3C-14.8,175.5 -11,177.1 -7.8,179.9C-4.7,182.8 1.9,189 -0.3,191.2C-2.5,193.5 -15.4,192.2 -21.1,193.1C-26.7,194.1 -32.1,200.4 -34.3,196.9C-36.5,193.5 -36.8,176.1 -34.3,172.4Z" fill="#7fb5da" clip-path="url(#qse)"/>
<path d="M1.6,93.1C3.2,90.6 16.4,91.8 20.5,93.1C24.6,94.3 25.8,97.5 26.1,100.6C26.5,103.8 23.6,107.9 22.4,112C21.1,116 19.5,120.5 18.6,125.2C17.6,129.9 18.6,136.5 16.7,140.3C14.8,144.1 12,146.9 7.3,147.8C2.5,148.8 -6.6,146.9 -11.6,145.9C-16.7,145 -21.7,144.1 -22.9,142.2C-24.2,140.3 -22.6,136.2 -19.2,134.6C-15.7,133 -6.9,134.6 -2.2,132.7C2.5,130.8 6.9,127.4 9.1,123.3C11.3,119.2 12.3,113.2 11,108.2C9.8,103.1 0,95.6 1.6,93.1Z" fill="#fdb366" clip-path="url(#qse)"/>
<path d="M-176.7,-136.7C-173.8,-143 -168.5,-147.4 -165.3,-148C-162.2,-148.7 -161.2,-143 -157.8,-140.5C-154.3,-138 -149,-132.3 -144.6,-132.9C-140.2,-133.6 -135.4,-140.8 -131.4,-144.3C-127.3,-147.7 -121.9,-153.7 -120,-153.7C-118.1,-153.7 -118.1,-147.7 -120,-144.3C-121.9,-140.8 -127.9,-136.1 -131.4,-132.9C-134.8,-129.8 -138.9,-130.7 -140.8,-125.4C-142.7,-120 -142.7,-108.1 -142.7,-100.8C-142.7,-93.6 -139.8,-85.4 -140.8,-82C-141.7,-78.5 -145.2,-77.9 -148.3,-80.1C-151.5,-82.3 -155.9,-93 -159.7,-95.2C-163.4,-97.4 -167.2,-90.8 -171,-93.3C-174.8,-95.8 -181.4,-103 -182.3,-110.3C-183.3,-117.5 -179.5,-130.4 -176.7,-136.7Z" fill="#4a7bb7" clip-path="url(#qnw)"/>
<path d="M-48.3,-216C-46.7,-218.5 -40.4,-223.2 -35.1,-225.4C-29.7,-227.7 -19,-230.2 -16.2,-229.2C-13.4,-228.3 -14.9,-222.6 -18.1,-219.8C-21.2,-217 -30.7,-213.8 -35.1,-212.2C-39.5,-210.7 -42.3,-209.7 -44.5,-210.3C-46.7,-211 -49.9,-213.5 -48.3,-216Z" fill="#f67d4a" clip-path="url(#qnw)"/>
<path d="M18.6,-234.9C22.7,-236.1 36.8,-237.7 45,-237.7C53.2,-237.7 61.4,-236.6 67.7,-234.9C74,-233.2 81.5,-229.1 82.8,-227.3C84,-225.6 79.3,-224.8 75.2,-224.5C71.1,-224.2 60.8,-226.9 58.2,-225.4C55.7,-224 59.2,-219.5 60.1,-216C61.1,-212.5 63.6,-207.7 63.9,-204.7C64.2,-201.7 64.5,-198.7 62,-198.1C59.5,-197.4 53.5,-199.6 48.8,-200.9C44.1,-202.2 38.1,-204.5 33.7,-205.6C29.3,-206.7 23.9,-206.7 22.4,-207.5C20.8,-208.3 21.1,-209.6 24.3,-210.3C27.4,-211.1 37.8,-210.3 41.2,-212.2C44.7,-214.1 46,-219.2 45,-221.7C44.1,-224.2 39.7,-225.9 35.6,-227.3C31.5,-228.8 23.3,-228.9 20.5,-230.2C17.6,-231.4 14.5,-233.6 18.6,-234.9Z" fill="#f67d4a" clip-path="url(#qne)"/>
<path d="M-34.3,-227.3C-31.8,-229.1 -22.3,-226.4 -19.2,-225.4C-16,-224.5 -14.8,-223.2 -15.4,-221.7C-16,-220.1 -19.8,-217.1 -22.9,-216C-26.1,-214.9 -32.4,-213.2 -34.3,-215.1C-36.2,-217 -36.8,-225.6 -34.3,-227.3Z" fill="#f67d4a" clip-path="url(#qne)"/>
<path d="M233.1,-48.9C233.1,-47.6 232.6,-45.9 232.1,-44.9C231.5,-44 230.5,-43.3 229.7,-43.3C228.9,-43.3 227.8,-44 227.3,-44.9C226.7,-45.9 226.3,-47.6 226.3,-48.9C226.3,-50.3 226.7,-52 227.3,-52.9C227.8,-53.9 228.9,-54.6 229.7,-54.6C230.5,-54.6 231.5,-53.9 232.1,-52.9C232.6,-52 233.1,-50.3 233.1,-48.9Z" fill="#4a7bb7" clip-path="url(#qne)"/>
<path d="M155.5,-37.6C155.5,-36.5 155,-35 154.4,-34.3C153.7,-33.5 152.6,-32.9 151.7,-32.9C150.8,-32.9 149.6,-33.5 149,-34.3C148.4,-35 147.9,-36.5 147.9,-37.6C147.9,-38.7 148.4,-40.2 149,-40.9C149.6,-41.7 150.8,-42.3 151.7,-42.3C152.6,-42.3 153.7,-41.7 154.4,-40.9C155,-40.2 155.5,-38.7 155.5,-37.6Z" fill="#f67d4a" clip-path="url(#qne)"/>
<path d="M93.9,-116.9C93.9,-115.9 93.6,-114.6 93.1,-114C92.7,-113.3 91.9,-112.7 91.3,-112.7C90.6,-112.7 89.8,-113.3 89.4,-114C89,-114.6 88.6,-115.9 88.6,-116.9C88.6,-117.9 89,-119.1 89.4,-119.8C89.8,-120.5 90.6,-121 91.3,-121C91.9,-121 92.7,-120.5 93.1,-119.8C93.6,-119.1 93.9,-117.9 93.9,-116.9Z" fill="#f67d4a" clip-path="url(#qne)"/>
<path d="M-37,183.7C-37.3,181.8 -34.1,177.4 -31.3,176.1C-28.5,174.9 -23.1,174.9 -20,176.1C-16.8,177.4 -13,181.2 -12.4,183.7C-11.8,186.2 -14.9,189 -16.2,191.2C-17.4,193.5 -18.1,196.3 -20,196.9C-21.9,197.5 -25.9,196.6 -27.5,195C-29.1,193.5 -27.8,189.4 -29.4,187.5C-31,185.6 -36.6,185.6 -37,183.7Z" fill="#4a7bb7" clip-path="url(#qsw)"/>
<path d="M-144.6,62.9C-144.1,61.5 -142.1,59.4 -139.8,60C-137.6,60.7 -133.7,64.3 -131.4,66.6C-129,69 -126,72.3 -125.7,74.2C-125.4,76.1 -127.6,78 -129.5,78C-131.4,78 -134.8,75.8 -137,74.2C-139.2,72.6 -141.4,70.4 -142.7,68.5C-143.9,66.6 -145,64.3 -144.6,62.9Z" fill="#f67d4a" clip-path="url(#qsw)"/>
<path d="M188.5,15.7C190.7,15 195.9,15 197.9,17.6C200,20.1 200.8,26.1 200.8,30.8C200.8,35.5 199.4,40.8 197.9,45.9C196.5,50.9 194.5,56.3 192.3,61C190.1,65.7 187.2,71.4 184.7,74.2C182.2,77 178.7,79.5 177.2,78C175.6,76.4 175.3,69.5 175.3,64.8C175.3,60 176.2,55 177.2,49.7C178.1,44.3 179.7,37.4 180.9,32.7C182.2,27.9 183.5,24.2 184.7,21.3C186,18.5 186.3,16.3 188.5,15.7Z" fill="#f67d4a" clip-path="url(#qse)"/>
<path d="M48.8,191.2C48.8,189.4 58.9,187.2 63.9,183.7C68.9,180.2 74,174.3 79,170.5C84,166.7 89.1,163.6 94.1,161C99.1,158.5 105.4,155.7 109.2,155.4C113,155.1 116.1,156 116.8,159.2C117.4,162.3 115.5,170.2 113,174.3C110.5,178.3 106.7,181.2 101.7,183.7C96.6,186.2 89.1,187.5 82.8,189.4C76.5,191.2 69.6,194.7 63.9,195C58.2,195.3 48.8,193.1 48.8,191.2Z" fill="#4a7bb7" clip-path="url(#qse)"/>
<path d="M-34.3,178C-32.1,175.2 -24.5,178.3 -21.1,179.9C-17.6,181.5 -13.5,185.3 -13.5,187.5C-13.5,189.7 -17.6,191.6 -21.1,193.1C-24.5,194.7 -32.1,199.4 -34.3,196.9C-36.5,194.4 -36.5,180.9 -34.3,178Z" fill="#4a7bb7" clip-path="url(#qse)"/>
<path d="M-174.8,-136.7C-172.6,-141.1 -169.7,-144.6 -167.2,-144.3C-164.7,-144 -162.8,-137.3 -159.7,-134.8C-156.5,-132.3 -150.9,-132 -148.3,-129.2C-145.8,-126.3 -144.6,-122.2 -144.6,-117.8C-144.6,-113.4 -146.5,-105.9 -148.3,-102.7C-150.2,-99.6 -153.4,-99 -155.9,-99C-158.4,-99 -160.9,-102.4 -163.4,-102.7C-166,-103 -169.1,-99.6 -171,-100.8C-172.9,-102.1 -173.2,-107.5 -174.8,-110.3C-176.3,-113.1 -180.4,-113.4 -180.4,-117.8C-180.4,-122.2 -177,-132.3 -174.8,-136.7Z" fill="#3a4ea3" clip-path="url(#qnw)"/>
<path d="M190.4,23.2C192,22.9 195.4,25.7 196.1,28.9C196.7,32 195.4,37.7 194.2,42.1C192.9,46.5 190.4,51.5 188.5,55.3C186.6,59.1 184.3,64.1 182.8,64.8C181.4,65.4 180,62.6 180,59.1C180,55.6 181.7,48.7 182.8,44C183.9,39.3 185.4,34.2 186.6,30.8C187.9,27.3 188.8,23.5 190.4,23.2Z" fill="#e04530" clip-path="url(#qse)"/>
<path d="M65.8,187.5C68,184.3 74.6,179.6 79,176.1C83.4,172.7 88.1,168.4 92.2,166.7C96.3,165 101.3,165.1 103.5,165.8C105.7,166.4 103.9,169.4 105.4,170.5C107,171.6 113,170.8 113,172.4C113,173.9 109.2,177.7 105.4,179.9C101.7,182.1 95.4,183.7 90.3,185.6C85.3,187.5 79.3,189.7 75.2,191.2C71.1,192.8 67.4,195.7 65.8,195C64.2,194.4 63.6,190.6 65.8,187.5Z" fill="#3a4ea3" clip-path="url(#qse)"/>
<path d="M-27.5,-136.7C-29.4,-141.4 -34.1,-125.7 -37,-119.7C-39.8,-113.7 -42.3,-107.1 -44.5,-100.8C-46.7,-94.6 -47,-88.3 -50.2,-82C-53.3,-75.7 -56.5,-67.5 -63.4,-63.1C-70.3,-58.7 -83.8,-54.9 -91.7,-55.5C-99.6,-56.2 -104.3,-63.1 -110.6,-66.9C-116.9,-70.6 -123.8,-76.9 -129.5,-78.2C-135.1,-79.4 -144.6,-76.9 -144.6,-74.4C-144.6,-71.9 -136.7,-66.5 -129.5,-63.1C-122.2,-59.6 -107.4,-59.9 -101.1,-53.6C-94.9,-47.4 -96.4,-32.3 -91.7,-25.3C-87,-18.4 -81,-11.8 -72.8,-12.1C-64.6,-12.4 -48.9,-20.3 -42.6,-27.2C-36.3,-34.1 -37.9,-42.9 -35.1,-53.6C-32.2,-64.3 -26.9,-77.6 -25.6,-91.4C-24.4,-105.3 -25.6,-132 -27.5,-136.7Z" fill="#fff"/>
<path d="M-140.8,-36.7C-139.1,-38.5 -133.2,-40.4 -129.5,-40.4C-125.7,-40.4 -120.3,-38.9 -118.1,-36.7C-115.9,-34.5 -114.4,-28.5 -116.2,-27.2C-118.1,-26 -125.5,-28.8 -129.5,-29.1C-133.4,-29.4 -138,-27.8 -139.8,-29.1C-141.7,-30.4 -142.5,-34.8 -140.8,-36.7Z" fill="#fff"/>
<path d="M-32.4,-148C-25.8,-150.1 -2.5,-146 7.3,-145.2C17,-144.4 19.8,-144.7 26.1,-143.3C32.4,-141.9 38.7,-138.8 45,-136.7C51.3,-134.7 57.6,-132.6 63.9,-131.1C70.2,-129.5 79.6,-129.2 82.8,-127.3C85.9,-125.4 92.2,-119.4 82.8,-119.7C73.3,-120 45.3,-127 26.1,-129.2C6.9,-131.4 -22.6,-129.8 -32.4,-132.9C-42.1,-136.1 -39,-146 -32.4,-148Z" fill="#fff"/>
<path d="M120.5,-48C123.7,-50.5 143.8,-58.4 148.9,-57.4C153.9,-56.5 151.4,-45.8 150.7,-42.3C150.1,-38.9 148.5,-36.7 145.1,-36.7C141.6,-36.7 134.1,-40.4 130,-42.3C125.9,-44.2 117.4,-45.5 120.5,-48Z" fill="#fff"/>
<path d="M-16.2,32.7C-11.5,33.3 -3.6,41.2 2.7,45.9C9,50.6 16.5,57.5 21.6,61C26.6,64.4 31,62.6 32.9,66.6C34.8,70.7 36,82.1 32.9,85.5C29.8,89 20,87.4 14,87.4C8,87.4 2.1,86.8 -3,85.5C-8,84.3 -11.8,80.3 -16.2,79.9C-20.6,79.4 -25.9,86.8 -29.4,82.7C-32.9,78.6 -37.6,62.1 -37,55.3C-36.3,48.6 -29.1,45.9 -25.6,42.1C-22.2,38.3 -20.9,32 -16.2,32.7Z" fill="#fff"/>
<path d="M-104.9,51.5C-102.4,53.1 -96.1,60.7 -91.7,64.8C-87.3,68.8 -79.7,73.6 -78.5,76.1C-77.2,78.6 -80.7,81.1 -84.2,79.9C-87.6,78.6 -95.5,72.6 -99.3,68.5C-103,64.4 -105.9,58.1 -106.8,55.3C-107.8,52.5 -107.4,50 -104.9,51.5Z" fill="#fff"/>
<path d="M-86,192.2C-84.5,190.6 -80.1,189.4 -76.6,189.4C-73.1,189.4 -67.2,190.6 -65.3,192.2C-63.4,193.8 -61.8,197.7 -65.3,198.8C-68.7,199.9 -82.6,199.9 -86,198.8C-89.5,197.7 -87.6,193.8 -86,192.2Z" fill="#fff"/>
<path d="M-34.3,55.3C-30.5,47.5 -20.4,36.4 -11.6,36.4C-2.8,36.4 12.3,47.1 18.6,55.3C24.9,63.5 28.7,80.3 26.1,85.5C23.6,90.7 11,86.9 3.5,86.5C-4.1,86 -12.9,83.2 -19.2,82.7C-25.5,82.2 -31.8,88.2 -34.3,83.6C-36.8,79.1 -38.1,63.2 -34.3,55.3Z" fill="#fff"/>
<path d="M169.6,-1.3C171.5,-2.9 180,10.6 180.9,17.6C181.9,24.5 177.5,36.1 175.3,40.2C173.1,44.3 168.7,44.3 167.7,42.1C166.8,39.9 169.3,34.2 169.6,27C169.9,19.8 167.7,0.3 169.6,-1.3Z" fill="#fff"/>
<path d="M31.8,196.9C37.2,195.7 58.5,194.5 63.9,195.4C69.2,196.3 69.2,201.4 63.9,202.6C58.5,203.8 37.2,203.5 31.8,202.6C26.5,201.6 26.5,198.1 31.8,196.9Z" fill="#fff"/>
<use href="#grat"/><use href="#ant"/><use href="#grat2"/><use href="#sa"/>
<g fill="#888" stroke="#888" stroke-width="0.35" font-size="31" opacity="0.9"><text x="-19.6" y="-224" textLength="39.5" lengthAdjust="spacingAndGlyphs">0°E</text><text x="-200.5" y="-156.5" textLength="65.5" lengthAdjust="spacingAndGlyphs">45°W</text><text x="140.8" y="-156.5" textLength="54.8" lengthAdjust="spacingAndGlyphs">45°E</text><text x="-269.6" y="12.2" textLength="65.7" lengthAdjust="spacingAndGlyphs">90°W</text><text x="210.7" y="12.2" textLength="53" lengthAdjust="spacingAndGlyphs">90°E</text><text x="30.2" y="53.6" textLength="54" lengthAdjust="spacingAndGlyphs">80°S</text><text x="89" y="96" textLength="53.7" lengthAdjust="spacingAndGlyphs">70°S</text><text x="148.4" y="138.6" textLength="53" lengthAdjust="spacingAndGlyphs">60°S</text><text x="-206.5" y="179.4" textLength="79.3" lengthAdjust="spacingAndGlyphs">135°W</text><text x="134" y="179.4" textLength="67.3" lengthAdjust="spacingAndGlyphs">135°E</text></g>
</g>
<circle r="278.2" fill="none" stroke="#000" stroke-width="3.4"/>
</g>
<path d="M386.5,1211.7 V1223.7" stroke="#8c8c8c" stroke-width="1.1" opacity="0.6" fill="none"/>
<g transform="translate(954.2,932.2)" clip-path="url(#box)">
<g clip-path="url(#clip)">
<circle r="278.2" fill="#ffffff"/>
<path d="M-0.6,-253C12.6,-253.3 34,-252.7 48.5,-251.1C63,-249.5 75.6,-248 86.3,-243.6C97,-239.2 104.5,-232.9 112.7,-224.7C120.9,-216.5 126.5,-205.2 135.4,-194.5C144.2,-183.8 156.8,-171.2 165.6,-160.5C174.4,-149.8 180.7,-142.2 188.2,-130.3C195.8,-118.3 203.9,-100.7 210.9,-88.8C217.8,-76.8 225.7,-68 229.8,-58.5C233.8,-49.1 236,-39.7 235.4,-32.1C234.8,-24.6 228.5,-20.8 226,-13.2C223.5,-5.7 221.6,4.4 220.3,13.2C219.1,22 220,30.2 218.4,39.6C216.9,49.1 215.3,58.5 210.9,69.8C206.5,81.2 198.3,96.9 192,107.6C185.7,118.3 180,126.5 173.1,134C166.2,141.6 158.6,146.6 150.5,152.9C142.3,159.2 131.6,166.1 124,171.8C116.5,177.4 114.6,183.1 105.1,186.9C95.7,190.7 80,193.2 67.4,194.4C54.8,195.7 42.2,195.1 29.6,194.4C17,193.8 4.5,190 -8.1,190.7C-20.7,191.3 -33.3,198.2 -45.9,198.2C-58.5,198.2 -72.9,192.6 -83.6,190.7C-94.3,188.8 -101.9,191.3 -110.1,186.9C-118.3,182.5 -125.2,173 -132.7,164.2C-140.3,155.4 -150.4,144.7 -155.4,134C-160.4,123.3 -159.8,112 -162.9,100C-166.1,88.1 -171.1,73 -174.3,62.3C-177.4,51.6 -181.2,45.9 -181.8,35.9C-182.4,25.8 -177.4,13.8 -178,1.9C-178.7,-10.1 -183.7,-23.3 -185.6,-35.9C-187.5,-48.5 -188.1,-64.2 -189.4,-73.6C-190.6,-83.1 -194.4,-85 -193.1,-92.5C-191.9,-100.1 -185.6,-110.1 -181.8,-119C-178,-127.8 -176.2,-137.2 -170.5,-145.4C-164.8,-153.6 -154.8,-159.9 -147.8,-168C-140.9,-176.2 -133.4,-185.7 -129,-194.5C-124.6,-203.3 -126.4,-215.2 -121.4,-220.9C-116.4,-226.6 -108.2,-225.9 -98.8,-228.5C-89.3,-231 -76.1,-232.5 -64.8,-236C-53.4,-239.5 -41.5,-246.4 -30.8,-249.2C-20.1,-252.1 -13.8,-252.7 -0.6,-253Z" fill="#ffffc2"/>
<path d="M-166.9,-121.6C-165,-122.9 -160.6,-110.9 -148,-117.8C-135.5,-124.8 -104,-155 -91.4,-163.1C-78.8,-171.3 -75,-169.4 -72.5,-166.9C-70,-164.4 -73.2,-154.3 -76.3,-148C-79.4,-141.8 -89.5,-134.8 -91.4,-129.2C-93.3,-123.5 -90.8,-117.2 -87.6,-114.1C-84.5,-110.9 -78.2,-110.3 -72.5,-110.3C-66.9,-110.3 -58.4,-115.9 -53.6,-114.1C-48.9,-112.2 -44.2,-103.4 -44.2,-99C-44.2,-94.6 -48.9,-88.9 -53.6,-87.6C-58.4,-86.4 -66.2,-90.8 -72.5,-91.4C-78.8,-92 -85.1,-91.7 -91.4,-91.4C-97.7,-91.1 -104,-90.1 -110.3,-89.5C-116.6,-88.9 -123.5,-88.6 -129.2,-87.6C-134.8,-86.7 -140.5,-82.6 -144.3,-83.9C-148,-85.1 -149.3,-90.8 -151.8,-95.2C-154.3,-99.6 -156.9,-105.9 -159.4,-110.3C-161.9,-114.7 -168.8,-120.4 -166.9,-121.6Z" fill="#e2f5f7" clip-path="url(#qnw)"/>
<path d="M-178.3,-87.6C-177,-92.3 -166.9,-93.3 -163.1,-91.4C-159.4,-89.5 -158.1,-81 -155.6,-76.3C-153.1,-71.6 -150.6,-70 -148,-63.1C-145.5,-56.2 -143.6,-40.1 -140.5,-34.8C-137.3,-29.4 -132.6,-31 -129.2,-31C-125.7,-31 -121.6,-37.3 -119.7,-34.8C-117.8,-32.3 -117.5,-22.2 -117.8,-15.9C-118.2,-9.6 -118.5,0.5 -121.6,3C-124.8,5.5 -132.3,3.9 -136.7,-0.8C-141.1,-5.5 -144.3,-18.1 -148,-25.3C-151.8,-32.6 -155.6,-37.9 -159.4,-44.2C-163.1,-50.5 -167.6,-55.8 -170.7,-63.1C-173.8,-70.3 -179.5,-82.9 -178.3,-87.6Z" fill="#e2f5f7" clip-path="url(#qnw)"/>
<path d="M-1.9,-225.4C-0.3,-228 9.1,-230.2 17,-233C24.9,-235.8 40,-239.3 45.3,-242.4C50.7,-245.6 45.9,-250.3 49.1,-251.9C52.2,-253.5 60.7,-254.4 64.2,-251.9C67.7,-249.4 66.7,-241.5 69.9,-236.8C73,-232.1 79.6,-228.3 83.1,-223.6C86.5,-218.8 90.6,-212.5 90.6,-208.5C90.6,-204.4 87.5,-199.6 83.1,-199C78.7,-198.4 69.9,-202.5 64.2,-204.7C58.5,-206.9 55.4,-210 49.1,-212.2C42.8,-214.4 33.4,-217 26.4,-217.9C19.5,-218.8 12.3,-216.6 7.6,-217.9C2.8,-219.2 -3.5,-222.9 -1.9,-225.4Z" fill="#e2f5f7" clip-path="url(#qne)"/>
<path d="M20.8,-187.7C23,-192.1 28,-193 32.1,-193.4C36.2,-193.7 41.9,-192.1 45.3,-189.6C48.8,-187.1 51.9,-182.7 52.9,-178.3C53.8,-173.8 53.2,-167.6 51,-163.1C48.8,-158.7 44.4,-154 39.7,-151.8C34.9,-149.6 26.1,-147.4 22.7,-149.9C19.2,-152.4 19.2,-160.6 18.9,-166.9C18.6,-173.2 18.6,-183.3 20.8,-187.7Z" fill="#e2f5f7" clip-path="url(#qne)"/>
<path d="M158.6,-157.5C161.1,-157.8 169,-149 173.7,-144.3C178.4,-139.5 182.8,-134.8 186.9,-129.2C191,-123.5 195.4,-116.6 198.2,-110.3C201.1,-104 202,-97.1 203.9,-91.4C205.8,-85.7 207.7,-79.4 209.6,-76.3C211.5,-73.2 212.4,-75.7 215.2,-72.5C218.1,-69.4 223.7,-63.7 226.6,-57.4C229.4,-51.1 231.9,-41.7 232.2,-34.8C232.5,-27.8 230,-16.8 228.4,-15.9C226.9,-14.9 225,-22.8 222.8,-29.1C220.6,-35.4 218.4,-47 215.2,-53.6C212.1,-60.3 207.7,-63.1 203.9,-68.8C200.1,-74.4 196.4,-81.3 192.6,-87.6C188.8,-93.9 185,-100.2 181.2,-106.5C177.5,-112.8 173.7,-119.4 169.9,-125.4C166.1,-131.4 160.5,-137 158.6,-142.4C156.7,-147.7 156.1,-157.2 158.6,-157.5Z" fill="#e2f5f7" clip-path="url(#qne)"/>
<path d="M-114.1,36.4C-112.2,35.8 -106.5,46.2 -102.7,51.5C-99,56.9 -95.8,63.2 -91.4,68.5C-87,73.9 -82.6,80.2 -76.3,83.6C-70,87.1 -60.6,87.7 -53.6,89.3C-46.7,90.9 -41.1,90.9 -34.8,93.1C-28.5,95.3 -22.2,98.7 -15.9,102.5C-9.6,106.3 -3.3,111 3,115.7C9.3,120.5 16.8,127.4 21.9,130.8C26.9,134.3 31.3,131.5 33.2,136.5C35.1,141.5 36.3,157 33.2,161C30.1,165.1 20.9,161.7 14.3,161C7.7,160.4 -0.8,159.8 -6.4,157.3C-12.1,154.7 -15.6,150.3 -19.7,145.9C-23.8,141.5 -26.9,135.9 -31,130.8C-35.1,125.8 -38.9,119.5 -44.2,115.7C-49.6,112 -57.1,110.7 -63.1,108.2C-69.1,105.7 -74.7,104.1 -80.1,100.6C-85.4,97.2 -90.8,92.4 -95.2,87.4C-99.6,82.4 -103.4,75.8 -106.5,70.4C-109.7,65.1 -112.8,61 -114.1,55.3C-115.3,49.7 -115.9,37.1 -114.1,36.4Z" fill="#e2f5f7" clip-path="url(#qsw)"/>
<path d="M-80.1,183.7C-76.9,181.5 -62.8,179.9 -53.6,179.9C-44.5,179.9 -34.8,182.8 -25.3,183.7C-15.9,184.6 -6.8,185.6 3,185.6C12.7,185.6 28.2,181.8 33.2,183.7C38.2,185.6 38.2,195.3 33.2,196.9C28.2,198.5 14.3,193.1 3,193.1C-8.3,193.1 -22.2,196.9 -34.8,196.9C-47.4,196.9 -65,195.3 -72.5,193.1C-80.1,190.9 -83.2,185.9 -80.1,183.7Z" fill="#e2f5f7" clip-path="url(#qsw)"/>
<path d="M177.5,23.2C179.7,21.6 184.7,24.2 186.9,27C189.1,29.8 191.6,35.5 190.7,40.2C189.7,44.9 183.5,49.7 181.2,55.3C179,61 179.4,68.5 177.5,74.2C175.6,79.9 173.1,84.6 169.9,89.3C166.8,94 162.4,98.1 158.6,102.5C154.8,106.9 151,111.6 147.3,115.7C143.5,119.8 139.7,123.9 135.9,127.1C132.2,130.2 127.8,132.1 124.6,134.6C121.5,137.1 120.8,139.6 117.1,142.2C113.3,144.7 107.6,146.6 102,149.7C96.3,152.9 89.4,157.9 83.1,161C76.8,164.2 70.5,167 64.2,168.6C57.9,170.2 51.6,171.1 45.3,170.5C39,169.9 32.7,167 26.4,164.8C20.1,162.6 13.9,159.8 7.6,157.3C1.3,154.7 -4.4,151.6 -11.3,149.7C-18.2,147.8 -30.2,155.4 -34,145.9C-37.8,136.5 -37.8,100.6 -34,93.1C-30.2,85.5 -18.2,96.9 -11.3,100.6C-4.4,104.4 1.3,110.1 7.6,115.7C13.9,121.4 19.5,130.5 26.4,134.6C33.4,138.7 41.2,139.6 49.1,140.3C57,140.9 66.4,139.6 73.6,138.4C80.9,137.1 86.2,134.6 92.5,132.7C98.8,130.8 106,129.3 111.4,127.1C116.7,124.9 120.5,123.9 124.6,119.5C128.7,115.1 132.2,106.9 135.9,100.6C139.7,94.3 143.5,87.4 147.3,81.7C151,76.1 155.4,71.7 158.6,66.6C161.7,61.6 163.6,56.6 166.1,51.5C168.7,46.5 171.8,41.2 173.7,36.4C175.6,31.7 175.3,24.8 177.5,23.2Z" fill="#e2f5f7" clip-path="url(#qse)"/>
<path d="M213.3,17.6C214.9,15 220.3,12.8 220.9,17.6C221.5,22.3 218.7,40.2 217.1,45.9C215.5,51.5 212.4,53.7 211.5,51.5C210.5,49.3 211.1,38.3 211.5,32.7C211.8,27 211.8,20.1 213.3,17.6Z" fill="#e2f5f7" clip-path="url(#qse)"/>
<path d="M-34,183.7C-30.2,181.7 -18.2,185 -11.3,185.6C-4.4,186.2 0.3,185.6 7.6,187.5C14.8,189.4 32.1,195.8 32.1,196.9C32.1,198 18.6,193.9 7.6,194.1C-3.5,194.2 -27.1,199.6 -34,197.9C-40.9,196.1 -37.8,185.7 -34,183.7Z" fill="#e2f5f7" clip-path="url(#qse)"/>
<path d="M33.2,-261.3C28.8,-267.6 17.5,-261 6.8,-259.4C-3.9,-257.9 -17.8,-255.7 -31,-251.9C-44.2,-248.1 -59.3,-241.2 -72.5,-236.8C-85.7,-232.4 -100.8,-228.9 -110.3,-225.4C-119.7,-222 -126.6,-220.1 -129.2,-216C-131.7,-211.9 -123.5,-205.3 -125.4,-200.9C-127.3,-196.5 -136.7,-194 -140.5,-189.6C-144.3,-185.2 -144.3,-179.5 -148,-174.5C-151.8,-169.4 -158.7,-165.7 -163.1,-159.4C-167.6,-153.1 -173.5,-142.7 -174.5,-136.7C-175.4,-130.7 -173.2,-126.3 -168.8,-123.5C-164.4,-120.7 -154.7,-119.4 -148,-119.7C-141.4,-120 -134.8,-123.2 -129.2,-125.4C-123.5,-127.6 -118.5,-129.2 -114.1,-132.9C-109.7,-136.7 -106.5,-143 -102.7,-148C-99,-153.1 -95.2,-158.7 -91.4,-163.1C-87.6,-167.6 -84.5,-170.7 -80.1,-174.5C-75.7,-178.3 -70.6,-182.3 -65,-185.8C-59.3,-189.3 -52.4,-191.8 -46.1,-195.2C-39.8,-198.7 -33.5,-203.1 -27.2,-206.6C-20.9,-210 -15.3,-213.8 -8.3,-216C-1.4,-218.2 7.4,-218.8 14.3,-219.8C21.2,-220.7 30.1,-214.8 33.2,-221.7C36.3,-228.6 37.6,-255 33.2,-261.3Z" fill="#b1deee" clip-path="url(#qnw)"/>
<path d="M-151.8,-114.1C-150.6,-116.3 -144.9,-118.5 -140.5,-119.7C-136.1,-121 -130.4,-120 -125.4,-121.6C-120.4,-123.2 -114.7,-127.9 -110.3,-129.2C-105.9,-130.4 -101.5,-130.7 -99,-129.2C-96.4,-127.6 -94.6,-122.9 -95.2,-119.7C-95.8,-116.6 -99.6,-113.1 -102.7,-110.3C-105.9,-107.5 -109.7,-105.3 -114.1,-102.7C-118.5,-100.2 -124.8,-95.8 -129.2,-95.2C-133.6,-94.6 -137.3,-97.1 -140.5,-99C-143.6,-100.8 -146.2,-104 -148,-106.5C-149.9,-109 -153.1,-111.9 -151.8,-114.1Z" fill="#b1deee" clip-path="url(#qnw)"/>
<path d="M-125.4,-31C-124.9,-34.5 -121,-35.4 -119.7,-32.9C-118.5,-30.4 -117.4,-19.3 -117.8,-15.9C-118.3,-12.4 -121.3,-9.6 -122.6,-12.1C-123.8,-14.6 -125.9,-27.5 -125.4,-31Z" fill="#b1deee" clip-path="url(#qnw)"/>
<path d="M33.2,-217.9C30.1,-225.1 20.6,-215.7 14.3,-214.1C8,-212.5 1.1,-211.3 -4.6,-208.5C-10.2,-205.6 -14.6,-200.9 -19.7,-197.1C-24.7,-193.4 -29.1,-188.9 -34.8,-185.8C-40.4,-182.7 -48.9,-181.4 -53.6,-178.3C-58.4,-175.1 -62.5,-170.7 -63.1,-166.9C-63.7,-163.1 -57.4,-159.4 -57.4,-155.6C-57.4,-151.8 -61.2,-147.4 -63.1,-144.3C-65,-141.1 -70.3,-138.6 -68.8,-136.7C-67.2,-134.8 -59.3,-132.3 -53.6,-132.9C-48,-133.6 -41.1,-138 -34.8,-140.5C-28.5,-143 -22.2,-144.9 -15.9,-148C-9.6,-151.2 -3.3,-156.2 3,-159.4C9.3,-162.5 16.8,-165 21.9,-166.9C26.9,-168.8 31.3,-162.2 33.2,-170.7C35.1,-179.2 36.3,-210.7 33.2,-217.9Z" fill="#fee294" clip-path="url(#qnw)"/>
<path d="M-121.6,-76.3C-120.4,-78.5 -111.5,-82 -106.5,-83.9C-101.5,-85.7 -97.1,-86.7 -91.4,-87.6C-85.7,-88.6 -78.2,-89.8 -72.5,-89.5C-66.9,-89.2 -60.6,-87.9 -57.4,-85.7C-54.3,-83.5 -52.7,-79.4 -53.6,-76.3C-54.6,-73.2 -59.3,-69.7 -63.1,-66.9C-66.9,-64 -71.6,-61.5 -76.3,-59.3C-81,-57.1 -87,-53 -91.4,-53.6C-95.8,-54.3 -99,-60.3 -102.7,-63.1C-106.5,-65.9 -110.9,-68.4 -114.1,-70.6C-117.2,-72.8 -122.9,-74.1 -121.6,-76.3Z" fill="#fee294" clip-path="url(#qnw)"/>
<path d="M-182,-34.8C-181.1,-40.7 -177.6,-41.7 -174.5,-42.3C-171.3,-42.9 -166.9,-41.1 -163.1,-38.5C-159.4,-36 -155,-31.6 -151.8,-27.2C-148.7,-22.8 -146.5,-17.1 -144.3,-12.1C-142.1,-7.1 -139.9,-2.7 -138.6,3C-137.3,8.7 -130.1,18.7 -136.7,21.9C-143.3,25 -171,26.6 -178.3,21.9C-185.5,17.2 -179.5,3 -180.1,-6.4C-180.8,-15.9 -183,-28.8 -182,-34.8Z" fill="#fee294" clip-path="url(#qnw)"/>
<path d="M-34,-261.3C-27.1,-268.2 -3.1,-260.2 7.6,-259.4C18.3,-258.6 23.6,-257.5 30.2,-256.6C36.8,-255.7 44.7,-256.1 47.2,-253.8C49.7,-251.4 47.8,-245.3 45.3,-242.4C42.8,-239.6 36.8,-238.4 32.1,-236.8C27.4,-235.2 22.7,-234.9 17,-233C11.3,-231.1 4.4,-227.7 -1.9,-225.4C-8.2,-223.2 -15.4,-221 -20.8,-219.8C-26.1,-218.5 -31.8,-211 -34,-217.9C-36.2,-224.8 -40.9,-254.4 -34,-261.3Z" fill="#b1deee" clip-path="url(#qne)"/>
<path d="M169.9,-140.5C171.2,-140.8 175.9,-134.5 179.4,-131.1C182.8,-127.6 187.5,-123.8 190.7,-119.7C193.8,-115.6 197.9,-109.3 198.2,-106.5C198.6,-103.7 195.4,-101.2 192.6,-102.7C189.7,-104.3 184.7,-111.5 181.2,-115.9C177.8,-120.4 173.7,-125.1 171.8,-129.2C169.9,-133.3 168.7,-140.2 169.9,-140.5Z" fill="#b1deee" clip-path="url(#qne)"/>
<path d="M-5.7,-151.8C-1.9,-152.8 15.1,-154.3 18.9,-153.7C22.7,-153.1 20.8,-149 17,-148C13.2,-147.1 0,-147.4 -3.8,-148C-7.5,-148.7 -9.4,-150.9 -5.7,-151.8Z" fill="#b1deee" clip-path="url(#qne)"/>
<path d="M-34,-204.7C-31.5,-213.2 -25.2,-208.8 -18.9,-210.3C-12.6,-211.9 -3.8,-213.2 3.8,-214.1C11.3,-215.1 20.8,-217 26.4,-216C32.1,-215.1 36.5,-211.3 37.8,-208.5C39,-205.6 37.1,-201.2 34,-199C30.8,-196.8 23.3,-197.4 18.9,-195.2C14.5,-193 11,-189.6 7.6,-185.8C4.1,-182 1.9,-176.4 -1.9,-172.6C-5.7,-168.8 -9.7,-165.4 -15.1,-163.1C-20.4,-160.9 -30.8,-152.4 -34,-159.4C-37.1,-166.3 -36.5,-196.2 -34,-204.7Z" fill="#fee294" clip-path="url(#qne)"/>
<path d="M56.6,-187.7C57.9,-190.2 69.2,-189.6 75.5,-189.6C81.8,-189.6 88.1,-189.6 94.4,-187.7C100.7,-185.8 107.6,-182.3 113.3,-178.3C118.9,-174.2 124,-168.2 128.4,-163.1C132.8,-158.1 135.9,-153.7 139.7,-148C143.5,-142.4 146.6,-135.5 151,-129.2C155.4,-122.9 161.7,-116.6 166.1,-110.3C170.6,-104 173.7,-97.7 177.5,-91.4C181.2,-85.1 185,-78.2 188.8,-72.5C192.6,-66.9 197,-63.7 200.1,-57.4C203.3,-51.1 206.4,-41.7 207.7,-34.8C208.9,-27.8 208.3,-22.2 207.7,-15.9C207.1,-9.6 204.8,-3.3 203.9,3C203,9.3 207.7,18.7 202,21.9C196.4,25 174.3,25 169.9,21.9C165.5,18.7 175.6,9.3 175.6,3C175.6,-3.3 172.8,-10.5 169.9,-15.9C167.1,-21.2 162.1,-25.3 158.6,-29.1C155.1,-32.9 150.4,-34.5 149.2,-38.5C147.9,-42.6 149.5,-48 151,-53.6C152.6,-59.3 158.6,-66.2 158.6,-72.5C158.6,-78.8 153.6,-86.4 151,-91.4C148.5,-96.4 146,-99 143.5,-102.7C141,-106.5 139.7,-111.5 135.9,-114.1C132.2,-116.6 125.9,-116.6 120.8,-117.8C115.8,-119.1 111.4,-119.7 105.7,-121.6C100.1,-123.5 92.5,-126 86.9,-129.2C81.2,-132.3 77.1,-137.3 71.7,-140.5C66.4,-143.6 56,-144.3 54.8,-148C53.5,-151.8 62,-158.7 64.2,-163.1C66.4,-167.6 69.2,-170.4 68,-174.5C66.7,-178.6 55.4,-185.2 56.6,-187.7Z" fill="#fee294" clip-path="url(#qne)"/>
<path d="M86.9,-238.7C89.7,-238.7 96.9,-234.6 102,-231.1C107,-227.7 113.3,-222.6 117.1,-217.9C120.8,-213.2 120.8,-208.1 124.6,-202.8C128.4,-197.4 135.9,-190.5 139.7,-185.8C143.5,-181.1 147.9,-176.4 147.3,-174.5C146.6,-172.6 140.3,-172.6 135.9,-174.5C131.5,-176.4 125.9,-181.4 120.8,-185.8C115.8,-190.2 110.1,-195.6 105.7,-200.9C101.3,-206.3 97.9,-212.9 94.4,-217.9C90.9,-222.9 86.2,-227.7 85,-231.1C83.7,-234.6 84,-238.7 86.9,-238.7Z" fill="#fee294" clip-path="url(#qne)"/>
<path d="M-178.3,-24C-171,-34 -144.9,-29.3 -136.7,-24C-128.5,-18.6 -132.3,-1.3 -129.2,8.1C-126,17.6 -120,25.4 -117.8,32.7C-115.6,39.9 -117.2,45.2 -115.9,51.5C-114.7,57.8 -113.7,64.1 -110.3,70.4C-106.8,76.7 -100.2,83 -95.2,89.3C-90.1,95.6 -85.4,103.1 -80.1,108.2C-74.7,113.2 -69.1,116.4 -63.1,119.5C-57.1,122.7 -49.9,123 -44.2,127.1C-38.5,131.1 -32.9,137.1 -29.1,144.1C-25.3,151 -20.6,162.9 -21.6,168.6C-22.5,174.3 -28.8,176.8 -34.8,178C-40.7,179.3 -49.9,175.8 -57.4,176.1C-65,176.5 -75.7,177.4 -80.1,179.9C-84.5,182.4 -82,188.7 -83.9,191.2C-85.7,193.8 -86.4,196 -91.4,195C-96.4,194.1 -107.1,190.6 -114.1,185.6C-121,180.6 -127.3,171.7 -132.9,164.8C-138.6,157.9 -144,151.3 -148,144.1C-152.1,136.8 -155,129.9 -157.5,121.4C-160,112.9 -160.6,102.5 -163.1,93.1C-165.7,83.6 -169.8,74.2 -172.6,64.8C-175.4,55.3 -179.2,51.2 -180.1,36.4C-181.1,21.6 -185.5,-13.9 -178.3,-24Z" fill="#fee294" clip-path="url(#qsw)"/>
<path d="M-76.3,87.4C-73.5,86.5 -63.7,89.6 -57.4,91.2C-51.1,92.8 -44.8,94 -38.5,96.9C-32.3,99.7 -26,103.8 -19.7,108.2C-13.4,112.6 -7.1,118.9 -0.8,123.3C5.5,127.7 12.4,131.8 18.1,134.6C23.8,137.4 30.7,137.8 33.2,140.3C35.7,142.8 36.3,148.1 33.2,149.7C30.1,151.3 20.9,149.7 14.3,149.7C7.7,149.7 -1.1,151.6 -6.4,149.7C-11.8,147.8 -14,142.8 -17.8,138.4C-21.6,134 -24.7,127.7 -29.1,123.3C-33.5,118.9 -38.9,115.1 -44.2,112C-49.6,108.8 -56.2,106.9 -61.2,104.4C-66.2,101.9 -71.9,99.7 -74.4,96.9C-76.9,94 -79.1,88.4 -76.3,87.4Z" fill="#b1deee" clip-path="url(#qsw)"/>
<path d="M-110.3,55.3C-109,55.6 -105.9,59.7 -104.6,62.9C-103.4,66 -102.1,72.9 -102.7,74.2C-103.4,75.5 -106.8,72.6 -108.4,70.4C-110,68.2 -111.9,63.5 -112.2,61C-112.5,58.5 -111.5,55 -110.3,55.3Z" fill="#b1deee" clip-path="url(#qsw)"/>
<path d="M-36.7,193.1C-35.1,192.2 -27.8,191.6 -25.3,192.2C-22.8,192.8 -20,196 -21.6,196.9C-23.1,197.9 -32.3,198.5 -34.8,197.9C-37.3,197.2 -38.2,194.1 -36.7,193.1Z" fill="#b1deee" clip-path="url(#qsw)"/>
<path d="M173.7,-24C178.7,-27.8 198.6,-27.1 203.9,-24C209.3,-20.8 206.1,-11.4 205.8,-5.1C205.5,1.2 204.2,9.4 202,13.8C199.8,18.2 196,21.3 192.6,21.3C189.1,21.3 184.4,17.6 181.2,13.8C178.1,10 175,5 173.7,-1.3C172.4,-7.6 168.7,-20.2 173.7,-24Z" fill="#fee294" clip-path="url(#qse)"/>
<path d="M186.9,45.9C188.6,43 192.4,38 194.5,38.3C196.5,38.6 198.9,43.7 199.2,47.8C199.5,51.9 198.1,58.5 196.4,62.9C194.6,67.3 191,73.3 188.8,74.2C186.6,75.1 183.9,71.7 183.1,68.5C182.4,65.4 183.5,59.1 184.1,55.3C184.7,51.5 185.2,48.7 186.9,45.9Z" fill="#fee294" clip-path="url(#qse)"/>
<path d="M177.5,25.1C180,23.2 185,26.4 186.9,28.9C188.8,31.4 190.4,35.8 188.8,40.2C187.2,44.6 180.3,50.6 177.5,55.3C174.6,60 173.1,64.1 171.8,68.5C170.6,72.9 172.1,77.7 169.9,81.7C167.7,85.8 162.4,89 158.6,93.1C154.8,97.2 151,101.9 147.3,106.3C143.5,110.7 139.4,116.4 135.9,119.5C132.5,122.7 127.1,126.4 126.5,125.2C125.9,123.9 129.3,117.3 132.2,112C135,106.6 139.7,99.4 143.5,93.1C147.3,86.8 151.4,80.5 154.8,74.2C158.3,67.9 161.4,61 164.3,55.3C167.1,49.7 169.6,45.2 171.8,40.2C174,35.2 175,27 177.5,25.1Z" fill="#b1deee" clip-path="url(#qse)"/>
<path d="M32.1,164.8C33.4,162.9 40,159.8 45.3,159.2C50.7,158.5 57.9,161.4 64.2,161C70.5,160.7 80.6,156 83.1,157.3C85.6,158.5 82.4,165.4 79.3,168.6C76.2,171.7 69.2,175.2 64.2,176.1C59.2,177.1 53.5,175.2 49.1,174.3C44.7,173.3 40.6,172.1 37.8,170.5C34.9,168.9 30.8,166.7 32.1,164.8Z" fill="#b1deee" clip-path="url(#qse)"/>
<path d="M-34,100.6C-31.5,94.3 -23.9,101.9 -18.9,104.4C-13.8,106.9 -8.8,111.3 -3.8,115.7C1.3,120.1 5.7,126.7 11.3,130.8C17,134.9 29.6,137.8 30.2,140.3C30.8,142.8 20.8,144.4 15.1,145.9C9.4,147.5 1.9,149.7 -3.8,149.7C-9.4,149.7 -13.8,147.2 -18.9,145.9C-23.9,144.7 -31.5,149.7 -34,142.2C-36.5,134.6 -36.5,106.9 -34,100.6Z" fill="#b1deee" clip-path="url(#qse)"/>
<path d="M33.2,-255.7C28.8,-259.7 17.5,-255 6.8,-253.8C-3.9,-252.5 -17.8,-251.6 -31,-248.1C-44.2,-244.6 -59.9,-237.1 -72.5,-233C-85.1,-228.9 -98.3,-227 -106.5,-223.6C-114.7,-220.1 -119.4,-216.3 -121.6,-212.2C-123.8,-208.1 -117.8,-203.1 -119.7,-199C-121.6,-194.9 -129.2,-192.1 -132.9,-187.7C-136.7,-183.3 -138.3,-177.6 -142.4,-172.6C-146.5,-167.6 -153.4,-163.1 -157.5,-157.5C-161.6,-151.8 -166.6,-143.3 -166.9,-138.6C-167.2,-133.9 -163.1,-131.1 -159.4,-129.2C-155.6,-127.3 -149.3,-126.6 -144.3,-127.3C-139.2,-127.9 -133.3,-130.1 -129.2,-132.9C-125.1,-135.8 -122.9,-139.9 -119.7,-144.3C-116.6,-148.7 -113.7,-154.7 -110.3,-159.4C-106.8,-164.1 -103.4,-168.5 -99,-172.6C-94.6,-176.7 -88.9,-180.5 -83.9,-183.9C-78.8,-187.4 -74.4,-190.5 -68.8,-193.4C-63.1,-196.2 -56.2,-198.1 -49.9,-200.9C-43.6,-203.7 -37.3,-207.2 -31,-210.3C-24.7,-213.5 -19,-217.3 -12.1,-219.8C-5.2,-222.3 3,-223.9 10.5,-225.4C18.1,-227 29.4,-224.2 33.2,-229.2C37,-234.3 37.6,-251.6 33.2,-255.7Z" fill="#7fb5da" clip-path="url(#qnw)"/>
<path d="M-122.6,-104.6C-122.6,-103.7 -123.2,-102.6 -123.9,-102C-124.7,-101.3 -126.2,-100.8 -127.3,-100.8C-128.4,-100.8 -129.8,-101.3 -130.6,-102C-131.4,-102.6 -132,-103.7 -132,-104.6C-132,-105.5 -131.4,-106.7 -130.6,-107.3C-129.8,-107.9 -128.4,-108.4 -127.3,-108.4C-126.2,-108.4 -124.7,-107.9 -123.9,-107.3C-123.2,-106.7 -122.6,-105.5 -122.6,-104.6Z" fill="#7fb5da" clip-path="url(#qnw)"/>
<path d="M33.2,-208.5C31.9,-209.1 20.6,-205.9 14.3,-204.7C8,-203.4 1.1,-203.7 -4.6,-200.9C-10.2,-198.1 -14.9,-191.5 -19.7,-187.7C-24.4,-183.9 -31,-181.1 -32.9,-178.3C-34.8,-175.4 -33.8,-172.3 -31,-170.7C-28.2,-169.1 -20.9,-167.6 -15.9,-168.8C-10.9,-170.1 -5.8,-174.8 -0.8,-178.3C4.2,-181.7 10.5,-185.8 14.3,-189.6C18.1,-193.4 18.7,-197.8 21.9,-200.9C25,-204.1 34.5,-207.8 33.2,-208.5Z" fill="#fdb366" clip-path="url(#qnw)"/>
<path d="M-102.7,-66.9C-102.7,-69.7 -98.3,-72.8 -95.2,-74.4C-92,-76 -86.4,-77.6 -83.9,-76.3C-81.3,-75 -79.8,-69.7 -80.1,-66.9C-80.4,-64 -83.2,-60.9 -85.7,-59.3C-88.3,-57.7 -92.3,-56.2 -95.2,-57.4C-98,-58.7 -102.7,-64 -102.7,-66.9Z" fill="#fdb366" clip-path="url(#qnw)"/>
<path d="M-176.4,-12.1C-174.8,-19 -170.4,-19 -166.9,-19.7C-163.5,-20.3 -159.1,-18.4 -155.6,-15.9C-152.1,-13.4 -148.7,-9 -146.2,-4.6C-143.6,-0.2 -141.8,6.1 -140.5,10.5C-139.2,14.9 -132.6,20 -138.6,21.9C-144.6,23.8 -170.1,27.5 -176.4,21.9C-182.7,16.2 -177.9,-5.2 -176.4,-12.1Z" fill="#fdb366" clip-path="url(#qnw)"/>
<path d="M-34,-255.7C-27.1,-261.6 -3.1,-257.7 7.6,-257.5C18.3,-257.4 27.1,-256.9 30.2,-254.7C33.4,-252.5 30.2,-247 26.4,-244.3C22.7,-241.7 13.9,-241.2 7.6,-238.7C1.3,-236.1 -4.4,-232.1 -11.3,-229.2C-18.2,-226.4 -30.2,-217.3 -34,-221.7C-37.8,-226.1 -40.9,-249.7 -34,-255.7Z" fill="#7fb5da" clip-path="url(#qne)"/>
<path d="M183.1,-123.5C183.8,-124.4 189.1,-120 190.7,-117.8C192.3,-115.6 193.2,-111.2 192.6,-110.3C191.9,-109.3 188.5,-110 186.9,-112.2C185.3,-114.4 182.5,-122.6 183.1,-123.5Z" fill="#7fb5da" clip-path="url(#qne)"/>
<path d="M-34,-199C-31.5,-204.7 -24.5,-201.2 -18.9,-202.8C-13.2,-204.4 -6.3,-207.8 0,-208.5C6.3,-209.1 15.4,-207.8 18.9,-206.6C22.3,-205.3 22.7,-202.8 20.8,-200.9C18.9,-199 11.6,-198.1 7.6,-195.2C3.5,-192.4 0,-187.7 -3.8,-183.9C-7.5,-180.1 -10.1,-175.1 -15.1,-172.6C-20.1,-170.1 -30.8,-164.4 -34,-168.8C-37.1,-173.2 -36.5,-193.4 -34,-199Z" fill="#fdb366" clip-path="url(#qne)"/>
<path d="M68,-180.1C68.6,-183.3 77.4,-185.2 83.1,-185.8C88.7,-186.4 96.3,-186.1 102,-183.9C107.6,-181.7 112.7,-177 117.1,-172.6C121.5,-168.2 125.2,-162.8 128.4,-157.5C131.5,-152.1 132.8,-145.8 135.9,-140.5C139.1,-135.1 143.5,-130.4 147.3,-125.4C151,-120.4 154.8,-115.9 158.6,-110.3C162.4,-104.6 166.1,-97.7 169.9,-91.4C173.7,-85.1 177.5,-78.2 181.2,-72.5C185,-66.9 189.4,-63.1 192.6,-57.4C195.7,-51.8 199.2,-45.5 200.1,-38.5C201.1,-31.6 197.9,-22.8 198.2,-15.9C198.6,-9 202.3,-2 202,3C201.7,8 199.8,13.1 196.4,14.3C192.9,15.6 184.4,14 181.2,10.5C178.1,7.1 178.1,-0.5 177.5,-6.4C176.8,-12.4 178.1,-19 177.5,-25.3C176.8,-31.6 175,-37.9 173.7,-44.2C172.4,-50.5 171.8,-56.8 169.9,-63.1C168,-69.4 165.5,-76 162.4,-82C159.2,-87.9 154.8,-93.6 151,-99C147.3,-104.3 143.5,-110.3 139.7,-114.1C135.9,-117.8 132.8,-120 128.4,-121.6C124,-123.2 118.9,-121.9 113.3,-123.5C107.6,-125.1 100.1,-128.2 94.4,-131.1C88.7,-133.9 82.4,-136.4 79.3,-140.5C76.2,-144.6 75.5,-151.2 75.5,-155.6C75.5,-160 80.6,-162.8 79.3,-166.9C78,-171 67.3,-177 68,-180.1Z" fill="#fdb366" clip-path="url(#qne)"/>
<path d="M100.1,-231.1C101,-231.7 106.7,-226.4 109.5,-223.6C112.3,-220.7 116.4,-216.6 117.1,-214.1C117.7,-211.6 115.5,-207.5 113.3,-208.5C111.1,-209.4 106,-216 103.8,-219.8C101.6,-223.6 99.1,-230.5 100.1,-231.1Z" fill="#fdb366" clip-path="url(#qne)"/>
<path d="M-176.4,-24C-170.1,-34 -147.7,-29.3 -140.5,-24C-133.3,-18.6 -135.8,-1.3 -132.9,8.1C-130.1,17.6 -124.1,26.7 -123.5,32.7C-122.9,38.6 -126.3,42.4 -129.2,44C-132,45.6 -137.3,41.8 -140.5,42.1C-143.6,42.4 -147.4,43 -148,45.9C-148.7,48.7 -146.2,53.7 -144.3,59.1C-142.4,64.4 -139.2,71.7 -136.7,78C-134.2,84.3 -132.6,91.2 -129.2,96.9C-125.7,102.5 -120.7,107.6 -115.9,112C-111.2,116.4 -106.2,119.2 -100.8,123.3C-95.5,127.4 -89.2,132.7 -83.9,136.5C-78.5,140.3 -73.2,142.8 -68.8,145.9C-64.3,149.1 -58.4,152.2 -57.4,155.4C-56.5,158.5 -59,162.9 -63.1,164.8C-67.2,166.7 -75.7,167.3 -82,166.7C-88.3,166.1 -96.1,160.7 -100.8,161C-105.6,161.4 -106.5,168.6 -110.3,168.6C-114.1,168.6 -119.1,164.2 -123.5,161C-127.9,157.9 -132.6,153.8 -136.7,149.7C-140.8,145.6 -144.9,141.5 -148,136.5C-151.2,131.5 -153.4,126.7 -155.6,119.5C-157.8,112.3 -158.7,102.2 -161.3,93.1C-163.8,84 -167.9,74.2 -170.7,64.8C-173.5,55.3 -177.3,51.2 -178.3,36.4C-179.2,21.6 -182.7,-13.9 -176.4,-24Z" fill="#fdb366" clip-path="url(#qsw)"/>
<path d="M-57.4,134.6C-56.2,132.7 -50.8,129.9 -48,130.8C-45.2,131.8 -40.4,137.4 -40.4,140.3C-40.4,143.1 -45.5,147.5 -48,147.8C-50.5,148.1 -54,144.4 -55.5,142.2C-57.1,140 -58.7,136.5 -57.4,134.6Z" fill="#fdb366" clip-path="url(#qsw)"/>
<path d="M-27.2,119.5C-26.3,117.3 -22.8,115.1 -19.7,115.7C-16.5,116.4 -12.7,120.5 -8.3,123.3C-3.9,126.1 3,130.2 6.8,132.7C10.5,135.2 14.9,136.8 14.3,138.4C13.7,140 6.8,140.9 3,142.2C-0.8,143.4 -4.9,146.6 -8.3,145.9C-11.8,145.3 -14.9,141.2 -17.8,138.4C-20.6,135.6 -23.8,132.1 -25.3,128.9C-26.9,125.8 -28.2,121.7 -27.2,119.5Z" fill="#7fb5da" clip-path="url(#qsw)"/>
<path d="M179.4,-24C182.5,-27.8 196.5,-27.1 200.1,-24C203.7,-20.8 201.7,-10.4 201.1,-5.1C200.4,0.3 198.7,5.6 196.4,8.1C194,10.6 189.4,11.6 186.9,10C184.4,8.4 182.5,4.3 181.2,-1.3C180,-7 176.2,-20.2 179.4,-24Z" fill="#fdb366" clip-path="url(#qse)"/>
<path d="M147.3,85.5C148.8,82.7 154.8,78.3 158.6,76.1C162.4,73.9 168,71.4 169.9,72.3C171.8,73.3 171.8,78.9 169.9,81.7C168,84.6 162.1,87.4 158.6,89.3C155.1,91.2 151,93.7 149.2,93.1C147.3,92.4 145.7,88.4 147.3,85.5Z" fill="#7fb5da" clip-path="url(#qse)"/>
<path d="M-34,115.7C-31.5,112.6 -23.6,114.2 -18.9,115.7C-14.2,117.3 -10.1,121.7 -5.7,125.2C-1.3,128.6 7.6,133.7 7.6,136.5C7.6,139.3 -1.3,141.8 -5.7,142.2C-10.1,142.5 -14.2,139.6 -18.9,138.4C-23.6,137.1 -31.5,138.4 -34,134.6C-36.5,130.8 -36.5,118.9 -34,115.7Z" fill="#7fb5da" clip-path="url(#qse)"/>
<path d="M3,-250C-3.9,-250.3 -18.4,-247.8 -31,-244.3C-43.6,-240.9 -60.3,-233.3 -72.5,-229.2C-84.8,-225.1 -97.4,-223.2 -104.6,-219.8C-111.9,-216.3 -114.1,-212.5 -115.9,-208.5C-117.8,-204.4 -113.7,-199.3 -115.9,-195.2C-118.2,-191.2 -125.1,-188.6 -129.2,-183.9C-133.3,-179.2 -136.4,-172 -140.5,-166.9C-144.6,-161.9 -150.2,-158.1 -153.7,-153.7C-157.2,-149.3 -161.3,-144 -161.3,-140.5C-161.3,-137 -157.8,-133.9 -153.7,-132.9C-149.6,-132 -141.1,-132.9 -136.7,-134.8C-132.3,-136.7 -130.4,-140.2 -127.3,-144.3C-124.1,-148.4 -121.3,-154.3 -117.8,-159.4C-114.4,-164.4 -110.9,-170.1 -106.5,-174.5C-102.1,-178.9 -96.4,-182.3 -91.4,-185.8C-86.4,-189.3 -82,-192.4 -76.3,-195.2C-70.6,-198.1 -63.7,-200 -57.4,-202.8C-51.1,-205.6 -44.8,-209.1 -38.5,-212.2C-32.3,-215.4 -26,-218.5 -19.7,-221.7C-13.4,-224.8 -5.8,-227.7 -0.8,-231.1C4.2,-234.6 9.9,-239.3 10.5,-242.4C11.2,-245.6 9.9,-249.7 3,-250Z" fill="#4a7bb7" clip-path="url(#qnw)"/>
<path d="M-2.9,-193C-2.9,-192.4 -3.2,-191.8 -3.6,-191.4C-4.1,-191 -4.9,-190.7 -5.5,-190.7C-6.1,-190.7 -6.9,-191 -7.4,-191.4C-7.8,-191.8 -8.1,-192.4 -8.1,-193C-8.1,-193.5 -7.8,-194.2 -7.4,-194.6C-6.9,-195 -6.1,-195.2 -5.5,-195.2C-4.9,-195.2 -4.1,-195 -3.6,-194.6C-3.2,-194.2 -2.9,-193.5 -2.9,-193Z" fill="#f67d4a" clip-path="url(#qnw)"/>
<path d="M-172.6,3C-171,-1.1 -166.6,-2.4 -163.1,-2.7C-159.7,-3 -155,-1.4 -151.8,1.1C-148.7,3.6 -145.8,9 -144.3,12.4C-142.7,15.9 -137.7,20.3 -142.4,21.9C-147.1,23.4 -167.6,25 -172.6,21.9C-177.6,18.7 -174.2,7.1 -172.6,3Z" fill="#f67d4a" clip-path="url(#qnw)"/>
<path d="M-34,-250C-30.2,-254.4 -17.9,-251.6 -11.3,-251.9C-4.7,-252.2 4.1,-253.8 5.7,-251.9C7.2,-250 2.2,-244 -1.9,-240.6C-6,-237.1 -13.5,-233.6 -18.9,-231.1C-24.2,-228.6 -31.5,-222.3 -34,-225.4C-36.5,-228.6 -37.8,-245.6 -34,-250Z" fill="#4a7bb7" clip-path="url(#qne)"/>
<path d="M-3,-193C-3,-192.4 -3.3,-191.8 -3.8,-191.4C-4.2,-191 -5,-190.7 -5.7,-190.7C-6.3,-190.7 -7.1,-191 -7.5,-191.4C-8,-191.8 -8.3,-192.4 -8.3,-193C-8.3,-193.5 -8,-194.2 -7.5,-194.6C-7.1,-195 -6.3,-195.2 -5.7,-195.2C-5,-195.2 -4.2,-195 -3.8,-194.6C-3.3,-194.2 -3,-193.5 -3,-193Z" fill="#f67d4a" clip-path="url(#qne)"/>
<path d="M77.4,-174.5C77.7,-177.5 84.6,-180.1 88.7,-181.1C92.8,-182 98.5,-181.9 102,-180.1C105.4,-178.4 107,-174.2 109.5,-170.7C112,-167.2 114.5,-163.1 117.1,-159.4C119.6,-155.6 125.2,-150.4 124.6,-148C124,-145.7 117.7,-145.5 113.3,-145.2C108.9,-144.9 102,-145.1 98.2,-146.2C94.4,-147.3 92.5,-149 90.6,-151.8C88.7,-154.7 89.1,-159.4 86.9,-163.1C84.6,-166.9 77.1,-171.5 77.4,-174.5Z" fill="#f67d4a" clip-path="url(#qne)"/>
<path d="M183.1,-15.9C183.8,-18.4 186.9,-18.7 188.8,-17.8C190.7,-16.8 193.2,-13.4 194.5,-10.2C195.7,-7.1 197,-1.1 196.4,1.1C195.7,3.3 192.6,3.6 190.7,3C188.8,2.4 186.3,0.5 185,-2.7C183.8,-5.8 182.5,-13.4 183.1,-15.9Z" fill="#f67d4a" clip-path="url(#qne)"/>
<path d="M154.8,-76.3C156.1,-79.4 160.2,-81.3 162.4,-80.1C164.6,-78.8 167.4,-73.2 168,-68.8C168.7,-64.3 167.7,-57.1 166.1,-53.6C164.6,-50.2 160.5,-46.7 158.6,-48C156.7,-49.2 155.4,-56.5 154.8,-61.2C154.2,-65.9 153.6,-73.2 154.8,-76.3Z" fill="#ffffc2" clip-path="url(#qne)"/>
<path d="M-172.6,-1.3C-170.7,-6.7 -164.1,-5.1 -159.4,-5.1C-154.7,-5.1 -148,-5.1 -144.3,-1.3C-140.5,2.5 -138.9,11.3 -136.7,17.6C-134.5,23.9 -131.1,32.3 -131.1,36.4C-131.1,40.5 -133.9,41.5 -136.7,42.1C-139.5,42.7 -145.8,39 -148,40.2C-150.2,41.5 -150.6,44.9 -149.9,49.7C-149.3,54.4 -146.5,62.2 -144.3,68.5C-142.1,74.8 -138.9,81.7 -136.7,87.4C-134.5,93.1 -133.9,97.2 -131.1,102.5C-128.2,107.9 -123.8,114.2 -119.7,119.5C-115.6,124.9 -110.6,130.2 -106.5,134.6C-102.4,139 -98.3,142.8 -95.2,145.9C-92,149.1 -87.6,151.3 -87.6,153.5C-87.6,155.7 -91.4,158.5 -95.2,159.2C-99,159.8 -105.9,158.8 -110.3,157.3C-114.7,155.7 -117.8,153.2 -121.6,149.7C-125.4,146.3 -129.8,141.5 -132.9,136.5C-136.1,131.5 -138,126.1 -140.5,119.5C-143,112.9 -145.2,104.4 -148,96.9C-150.9,89.3 -154.3,81.7 -157.5,74.2C-160.6,66.6 -164.7,59.4 -166.9,51.5C-169.1,43.7 -169.8,35.8 -170.7,27C-171.6,18.2 -174.5,4 -172.6,-1.3Z" fill="#f67d4a" clip-path="url(#qsw)"/>
<path d="M183.1,-16.4C184.2,-18.6 188.6,-19.6 190.7,-18.3C192.7,-17.1 194.8,-12 195.4,-8.9C196,-5.7 195.6,-1.3 194.5,0.6C193.4,2.5 190.5,3.4 188.8,2.5C187.1,1.5 185,-1.9 184.1,-5.1C183.1,-8.2 182,-14.2 183.1,-16.4Z" fill="#f67d4a" clip-path="url(#qse)"/>
<path d="M49.1,145.9C51.9,144.4 61.7,142.8 68,142.2C74.3,141.5 81.2,142.8 86.9,142.2C92.5,141.5 101.3,137.1 102,138.4C102.6,139.6 96.3,147.2 90.6,149.7C85,152.2 74.6,153.2 68,153.5C61.4,153.8 54.1,152.9 51,151.6C47.8,150.3 46.3,147.5 49.1,145.9Z" fill="#ffffc2" clip-path="url(#qse)"/>
<path d="M-129.2,81.7C-129.2,79.5 -126,76.7 -123.5,78C-121,79.2 -116.3,86.2 -114.1,89.3C-111.9,92.4 -110,95.3 -110.3,96.9C-110.6,98.4 -113.7,99.7 -115.9,98.7C-118.2,97.8 -121.3,94 -123.5,91.2C-125.7,88.4 -129.2,84 -129.2,81.7Z" fill="#ffffc2" clip-path="url(#qsw)"/>
<path d="M-68.8,-214.1C-67.2,-216.8 -61.8,-219.6 -57.4,-221.7C-53,-223.7 -46.7,-225.6 -42.3,-226.4C-37.9,-227.2 -32.9,-227.2 -31,-226.4C-29.1,-225.6 -29.1,-223.7 -31,-221.7C-32.9,-219.6 -37.9,-216.6 -42.3,-214.1C-46.7,-211.6 -53.3,-208 -57.4,-206.6C-61.5,-205.2 -65,-204.4 -66.9,-205.6C-68.8,-206.9 -70.3,-211.4 -68.8,-214.1Z" fill="#3a4ea3" clip-path="url(#qnw)"/>
<path d="M-157.5,-146.2C-155.9,-149.6 -151.8,-154.7 -148,-159.4C-144.3,-164.1 -138.9,-169.8 -134.8,-174.5C-130.7,-179.2 -127,-184.5 -123.5,-187.7C-120,-190.8 -115.9,-194.3 -114.1,-193.4C-112.2,-192.4 -111.5,-186.4 -112.2,-182C-112.8,-177.6 -115.3,-172 -117.8,-166.9C-120.4,-161.9 -124.4,-156.2 -127.3,-151.8C-130.1,-147.4 -131.4,-143 -134.8,-140.5C-138.3,-138 -144.3,-137 -148,-136.7C-151.8,-136.4 -155.9,-137 -157.5,-138.6C-159.1,-140.2 -159.1,-142.7 -157.5,-146.2Z" fill="#3a4ea3" clip-path="url(#qnw)"/>
<path d="M-153.7,11.9C-153.1,9.7 -149.6,8.7 -148,10C-146.5,11.3 -144.6,16.6 -144.3,19.4C-144,22.3 -144.9,26.4 -146.2,27C-147.4,27.6 -150.6,25.7 -151.8,23.2C-153.1,20.7 -154.3,14.1 -153.7,11.9Z" fill="#e04530" clip-path="url(#qsw)"/>
<path d="M-144.3,44C-143.3,41.8 -137,47.1 -132.9,51.5C-128.9,55.9 -124.1,64.1 -119.7,70.4C-115.3,76.7 -109.7,84.3 -106.5,89.3C-103.4,94.3 -100.2,97.8 -100.8,100.6C-101.5,103.5 -106.8,106.9 -110.3,106.3C-113.7,105.7 -118.2,100.9 -121.6,96.9C-125.1,92.8 -128.2,87.1 -131.1,81.7C-133.9,76.4 -136.4,71.1 -138.6,64.8C-140.8,58.5 -145.2,46.2 -144.3,44Z" fill="#fee294" clip-path="url(#qsw)"/>
<path d="M-27.2,-132.9C-29.1,-137.7 -33.8,-125.1 -36.7,-119.7C-39.5,-114.4 -42,-107.1 -44.2,-100.8C-46.4,-94.6 -48.3,-86.7 -49.9,-82C-51.4,-77.2 -49.9,-76.6 -53.6,-72.5C-57.4,-68.4 -66.2,-60.9 -72.5,-57.4C-78.8,-54 -86.7,-52.4 -91.4,-51.8C-96.1,-51.1 -100.8,-58.1 -100.8,-53.6C-100.8,-49.2 -96.1,-32.3 -91.4,-25.3C-86.7,-18.4 -80.7,-11.8 -72.5,-12.1C-64.3,-12.4 -48.6,-20.3 -42.3,-27.2C-36,-34.1 -37.6,-42.9 -34.8,-53.6C-31.9,-64.3 -26.6,-78.2 -25.3,-91.4C-24.1,-104.6 -25.3,-128.2 -27.2,-132.9Z" fill="#fff"/>
<path d="M-140.5,-76.3C-140.5,-78.5 -132.3,-80.1 -129.2,-80.1C-126,-80.1 -124.1,-77.9 -121.6,-76.3C-119.1,-74.7 -112.8,-72.2 -114.1,-70.6C-115.3,-69.1 -124.8,-65.9 -129.2,-66.9C-133.6,-67.8 -140.5,-74.1 -140.5,-76.3Z" fill="#fff"/>
<path d="M-32.1,-148C-25.5,-150.1 -2.2,-146 7.6,-145.2C17.3,-144.4 20.1,-144.4 26.4,-143.3C32.7,-142.2 39,-140.6 45.3,-138.6C51.6,-136.6 57.9,-132.9 64.2,-131.1C70.5,-129.2 76.8,-129.5 83.1,-127.3C89.4,-125.1 102,-119.1 102,-117.8C102,-116.6 95.7,-117.8 83.1,-119.7C70.5,-121.6 45.6,-127 26.4,-129.2C7.2,-131.4 -22.3,-129.8 -32.1,-132.9C-41.8,-136.1 -38.7,-146 -32.1,-148Z" fill="#fff"/>
<path d="M120.8,-48C124,-50.5 144.1,-58.4 149.2,-57.4C154.2,-56.5 151.7,-45.8 151,-42.3C150.4,-38.9 148.8,-36.7 145.4,-36.7C141.9,-36.7 134.4,-40.4 130.3,-42.3C126.2,-44.2 117.7,-45.5 120.8,-48Z" fill="#fff"/>
<path d="M166.1,-25.3C167.4,-25.3 172.1,-20 173.7,-15.9C175.3,-11.8 176.2,-3.3 175.6,-0.8C175,1.7 171.5,1.7 169.9,-0.8C168.3,-3.3 166.8,-11.8 166.1,-15.9C165.5,-20 164.9,-25.3 166.1,-25.3Z" fill="#fff"/>
<path d="M-15.9,32.7C-11.2,33.3 -3.3,41.2 3,45.9C9.3,50.6 16.8,57.5 21.9,61C26.9,64.4 31.3,62.6 33.2,66.6C35.1,70.7 36.3,82.1 33.2,85.5C30.1,89 20.3,87.4 14.3,87.4C8.3,87.4 2.4,86.8 -2.7,85.5C-7.7,84.3 -11.5,80.3 -15.9,79.9C-20.3,79.4 -25.6,86.8 -29.1,82.7C-32.6,78.6 -37.3,62.1 -36.7,55.3C-36,48.6 -28.8,45.9 -25.3,42.1C-21.9,38.3 -20.6,32 -15.9,32.7Z" fill="#fff"/>
<path d="M-104.6,51.5C-102.1,53.1 -95.5,60.7 -91.4,64.8C-87.3,68.8 -81,73.3 -80.1,76.1C-79.1,78.9 -82.9,82.7 -85.7,81.7C-88.6,80.8 -93.6,74.8 -97.1,70.4C-100.5,66 -105.3,58.5 -106.5,55.3C-107.8,52.2 -107.1,50 -104.6,51.5Z" fill="#fff"/>
<path d="M-34,55.3C-30.2,47.5 -20.1,36.4 -11.3,36.4C-2.5,36.4 12.6,47.8 18.9,55.3C25.2,62.9 29,77.2 26.4,81.7C23.9,86.3 11.3,82.7 3.8,82.7C-3.8,82.7 -12.6,81.6 -18.9,81.7C-25.2,81.9 -31.5,88 -34,83.6C-36.5,79.2 -37.8,63.2 -34,55.3Z" fill="#fff"/>
<path d="M169.9,2.5C171.2,2.5 175,13.2 175.6,17.6C176.2,22 175,25.7 173.7,28.9C172.4,32 169,38.3 168,36.4C167.1,34.6 167.7,23.2 168,17.6C168.3,11.9 168.7,2.5 169.9,2.5Z" fill="#fff"/>
<use href="#grat"/><use href="#ant"/><use href="#grat2"/><use href="#sa"/>
<g fill="#888" stroke="#888" stroke-width="0.35" font-size="31" opacity="0.9"><text x="-19.6" y="-224" textLength="39.5" lengthAdjust="spacingAndGlyphs">0°E</text><text x="-200.5" y="-156.5" textLength="65.5" lengthAdjust="spacingAndGlyphs">45°W</text><text x="140.8" y="-156.5" textLength="54.8" lengthAdjust="spacingAndGlyphs">45°E</text><text x="-269.6" y="12.2" textLength="65.7" lengthAdjust="spacingAndGlyphs">90°W</text><text x="210.7" y="12.2" textLength="53" lengthAdjust="spacingAndGlyphs">90°E</text><text x="30.2" y="53.6" textLength="54" lengthAdjust="spacingAndGlyphs">80°S</text><text x="89" y="96" textLength="53.7" lengthAdjust="spacingAndGlyphs">70°S</text><text x="148.4" y="138.6" textLength="53" lengthAdjust="spacingAndGlyphs">60°S</text><text x="-206.5" y="179.4" textLength="79.3" lengthAdjust="spacingAndGlyphs">135°W</text><text x="134" y="179.4" textLength="67.3" lengthAdjust="spacingAndGlyphs">135°E</text></g>
</g>
<circle r="278.2" fill="none" stroke="#000" stroke-width="3.4"/>
</g>
<path d="M954.2,1211.7 V1223.7" stroke="#8c8c8c" stroke-width="1.1" opacity="0.6" fill="none"/>
<g transform="translate(1522.2,932.2)" clip-path="url(#box)">
<g clip-path="url(#clip)">
<circle r="278.2" fill="#ffffff"/>
<path d="M-0.7,-253C12.5,-253.3 33.9,-252.7 48.4,-251.1C62.9,-249.5 75.5,-248 86.2,-243.6C96.9,-239.2 104.4,-232.9 112.6,-224.7C120.8,-216.5 126.4,-205.2 135.3,-194.5C144.1,-183.8 156.7,-171.2 165.5,-160.5C174.3,-149.8 180.6,-142.2 188.1,-130.3C195.7,-118.3 203.8,-100.7 210.8,-88.8C217.7,-76.8 225.6,-68 229.7,-58.5C233.7,-49.1 235.9,-39.7 235.3,-32.1C234.7,-24.6 228.4,-20.8 225.9,-13.2C223.4,-5.7 221.5,4.4 220.2,13.2C219,22 219.9,30.2 218.3,39.6C216.8,49.1 215.2,58.5 210.8,69.8C206.4,81.2 198.2,96.9 191.9,107.6C185.6,118.3 179.9,126.5 173,134C166.1,141.6 158.5,146.6 150.4,152.9C142.2,159.2 131.5,166.1 123.9,171.8C116.4,177.4 114.5,183.1 105,186.9C95.6,190.7 79.9,193.2 67.3,194.4C54.7,195.7 42.1,195.1 29.5,194.4C16.9,193.8 4.4,190 -8.2,190.7C-20.8,191.3 -33.4,198.2 -46,198.2C-58.6,198.2 -73,192.6 -83.7,190.7C-94.4,188.8 -102,191.3 -110.2,186.9C-118.4,182.5 -125.3,173 -132.8,164.2C-140.4,155.4 -150.5,144.7 -155.5,134C-160.5,123.3 -159.9,112 -163,100C-166.2,88.1 -171.2,73 -174.4,62.3C-177.5,51.6 -181.3,45.9 -181.9,35.9C-182.5,25.8 -177.5,13.8 -178.1,1.9C-178.8,-10.1 -183.8,-23.3 -185.7,-35.9C-187.6,-48.5 -188.2,-64.2 -189.5,-73.6C-190.7,-83.1 -194.5,-85 -193.2,-92.5C-192,-100.1 -185.7,-110.1 -181.9,-119C-178.1,-127.8 -176.3,-137.2 -170.6,-145.4C-164.9,-153.6 -154.9,-159.9 -147.9,-168C-141,-176.2 -133.5,-185.7 -129.1,-194.5C-124.7,-203.3 -126.5,-215.2 -121.5,-220.9C-116.5,-226.6 -108.3,-225.9 -98.9,-228.5C-89.4,-231 -76.2,-232.5 -64.9,-236C-53.5,-239.5 -41.6,-246.4 -30.9,-249.2C-20.2,-252.1 -13.9,-252.7 -0.7,-253Z" fill="#ffffc2"/>
<path d="M-83.6,-189.6C-77.4,-194.3 -71.7,-196.5 -64.8,-199C-57.8,-201.5 -50.3,-203.1 -42.1,-204.7C-33.9,-206.3 -23.2,-207.5 -15.7,-208.5C-8.1,-209.4 0.1,-222.3 3.2,-210.3C6.3,-198.4 6.3,-148.4 3.2,-136.7C0.1,-125.1 -10.6,-141.1 -15.7,-140.5C-20.7,-139.9 -22,-135.8 -27,-132.9C-32,-130.1 -39.6,-124.1 -45.9,-123.5C-52.2,-122.9 -60.4,-129.8 -64.8,-129.2C-69.2,-128.5 -69.2,-122.9 -72.3,-119.7C-75.5,-116.6 -78.6,-111.2 -83.6,-110.3C-88.7,-109.3 -96.2,-115.9 -102.5,-114.1C-108.8,-112.2 -116.4,-103.4 -121.4,-99C-126.4,-94.6 -132.7,-90.8 -132.7,-87.6C-132.7,-84.5 -120.1,-82 -121.4,-80.1C-122.7,-78.2 -134.6,-74.4 -140.3,-76.3C-145.9,-78.2 -151.6,-85.7 -155.4,-91.4C-159.2,-97.1 -161.1,-103.4 -162.9,-110.3C-164.8,-117.2 -167.3,-126 -166.7,-132.9C-166.1,-139.9 -163.6,-148.7 -159.2,-151.8C-154.8,-155 -146.6,-150.6 -140.3,-151.8C-134,-153.1 -127.7,-156.2 -121.4,-159.4C-115.1,-162.5 -108.8,-165.7 -102.5,-170.7C-96.2,-175.7 -89.9,-184.9 -83.6,-189.6Z" fill="#e2f5f7" clip-path="url(#qnw)"/>
<path d="M-26,-208.5C-20.6,-218.5 -3.9,-207.8 6.1,-208.5C16.2,-209.1 25.9,-210.7 34.4,-212.2C42.9,-213.8 51.1,-215.4 57.1,-217.9C63.1,-220.4 68.4,-222.3 70.3,-227.3C72.2,-232.4 66.2,-244.6 68.4,-248.1C70.6,-251.6 77.2,-250.9 83.5,-248.1C89.8,-245.3 100.5,-237.1 106.2,-231.1C111.8,-225.1 113.1,-218.5 117.5,-212.2C121.9,-205.9 127.6,-199.6 132.6,-193.4C137.6,-187.1 142.1,-181.4 147.7,-174.5C153.4,-167.6 160.9,-158.7 166.6,-151.8C172.3,-144.9 177.3,-139.2 181.7,-132.9C186.1,-126.6 189.2,-120.4 193,-114.1C196.8,-107.8 201.2,-102.1 204.4,-95.2C207.5,-88.3 210.3,-81 211.9,-72.5C213.5,-64 213.8,-53.6 213.8,-44.2C213.8,-34.8 212.5,-23.8 211.9,-15.9C211.3,-8 211.3,-3.3 210,3C208.8,9.3 210.3,18.7 204.4,21.9C198.4,25 179.8,26.6 174.1,21.9C168.5,17.2 172.3,1.4 170.4,-6.4C168.5,-14.3 163.4,-19 162.8,-25.3C162.2,-31.6 165.3,-37.9 166.6,-44.2C167.9,-50.5 170.4,-56.8 170.4,-63.1C170.4,-69.4 169.1,-77.2 166.6,-82C164.1,-86.7 158.4,-88.3 155.3,-91.4C152.1,-94.6 149.6,-97.1 147.7,-100.8C145.8,-104.6 146.5,-110 143.9,-114.1C141.4,-118.2 137,-121 132.6,-125.4C128.2,-129.8 122.5,-135.5 117.5,-140.5C112.5,-145.5 108.1,-152.4 102.4,-155.6C96.7,-158.7 89.8,-159.4 83.5,-159.4C77.2,-159.4 70.3,-157.5 64.6,-155.6C59,-153.7 57.7,-149.3 49.5,-148C41.4,-146.8 28.1,-148 15.6,-148C3,-148 -19.1,-138 -26,-148C-32.9,-158.1 -31.3,-198.4 -26,-208.5Z" fill="#e2f5f7" clip-path="url(#qne)"/>
<path d="M-181.8,27C-182.8,15.7 -188.7,-15.5 -178,-24C-167.3,-32.5 -126.8,-27.8 -117.6,-24C-108.5,-20.2 -121.7,-8.9 -123.3,-1.3C-124.9,6.2 -127.1,14.4 -127.1,21.3C-127.1,28.3 -125.8,34.6 -123.3,40.2C-120.8,45.9 -116.4,50.9 -112,55.3C-107.6,59.7 -101.6,63.5 -96.9,66.6C-92.1,69.8 -89,71.7 -83.6,74.2C-78.3,76.7 -71.1,79.9 -64.8,81.7C-58.5,83.6 -51.6,84.3 -45.9,85.5C-40.2,86.8 -33.9,86.5 -30.8,89.3C-27.6,92.1 -28.3,97.8 -27,102.5C-25.8,107.2 -26.4,113.5 -23.2,117.6C-20.1,121.7 -12.5,124.9 -8.1,127.1C-3.7,129.3 1.3,126.1 3.2,130.8C5.1,135.6 6.3,151.9 3.2,155.4C0.1,158.8 -9.1,153.5 -15.7,151.6C-22.3,149.7 -29.8,146.6 -36.4,144.1C-43.1,141.5 -49.3,139 -55.3,136.5C-61.3,134 -67,131.8 -72.3,128.9C-77.7,126.1 -82.4,123.6 -87.4,119.5C-92.5,115.4 -97.5,108.8 -102.5,104.4C-107.6,100 -112.6,96.2 -117.6,93.1C-122.7,89.9 -127.7,88 -132.7,85.5C-137.8,83 -143.1,81.7 -147.8,78C-152.6,74.2 -157,68.5 -161.1,62.9C-165.1,57.2 -168.9,50 -172.4,44C-175.8,38 -180.9,38.3 -181.8,27Z" fill="#e2f5f7" clip-path="url(#qsw)"/>
<path d="M172.3,-1.3C174.1,-5.1 180.8,-6.7 185.5,-5.1C190.2,-3.5 198.7,2.5 200.6,8.1C202.5,13.8 199.3,21.6 196.8,28.9C194.3,36.1 189.9,44 185.5,51.5C181.1,59.1 175.4,67.3 170.4,74.2C165.3,81.1 159.7,88.4 155.3,93.1C150.9,97.8 147.1,101.9 143.9,102.5C140.8,103.1 135.8,100.9 136.4,96.9C137,92.8 143.9,84.3 147.7,78C151.5,71.7 155.3,66 159,59.1C162.8,52.2 167.9,43.4 170.4,36.4C172.9,29.5 173.8,23.9 174.1,17.6C174.5,11.3 170.4,2.5 172.3,-1.3Z" fill="#e2f5f7" clip-path="url(#qse)"/>
<path d="M8,185.6C6.7,180.9 20.6,173.3 26.9,168.6C33.2,163.9 38.8,159.8 45.8,157.3C52.7,154.7 60.9,155.4 68.4,153.5C76,151.6 84.2,148.5 91.1,145.9C98,143.4 104.3,141.5 110,138.4C115.6,135.2 121,129.6 125.1,127.1C129.1,124.5 130.7,121.7 134.5,123.3C138.3,124.9 146.8,132.1 147.7,136.5C148.7,140.9 144.6,145 140.2,149.7C135.8,154.4 126.3,160.4 121.3,164.8C116.2,169.2 116.2,172.1 110,176.1C103.7,180.2 91.4,185.9 83.5,189.4C75.7,192.8 70.9,195.7 62.8,196.9C54.6,198.2 43.6,198.8 34.4,196.9C25.3,195 9.3,190.3 8,185.6Z" fill="#e2f5f7" clip-path="url(#qse)"/>
<path d="M-26,85.5C-22.2,83.3 -10.2,86.5 -3.3,87.4C3.6,88.4 10.5,89 15.6,91.2C20.6,93.4 25.6,97.2 26.9,100.6C28.1,104.1 26.3,110.7 23.1,112C20,113.2 13.7,110.1 8,108.2C2.3,106.3 -5.2,101.9 -10.9,100.6C-16.5,99.4 -23.5,103.1 -26,100.6C-28.5,98.1 -29.8,87.7 -26,85.5Z" fill="#e2f5f7" clip-path="url(#qse)"/>
<path d="M-26,127.1C-22.2,125.8 -10.2,132.4 -3.3,134.6C3.6,136.8 8.6,139 15.6,140.3C22.5,141.5 35.1,140.6 38.2,142.2C41.4,143.7 38.2,148.5 34.4,149.7C30.7,151 21.9,150.3 15.6,149.7C9.3,149.1 3.6,147.2 -3.3,145.9C-10.2,144.7 -22.2,145.3 -26,142.2C-29.8,139 -29.8,128.3 -26,127.1Z" fill="#e2f5f7" clip-path="url(#qse)"/>
<path d="M-91.2,-159.4C-88.7,-161.6 -77.4,-163.8 -72.3,-163.1C-67.3,-162.5 -61.6,-158.1 -61,-155.6C-60.4,-153.1 -64.1,-149 -68.5,-148C-72.9,-147.1 -83.6,-148 -87.4,-149.9C-91.2,-151.8 -93.7,-157.2 -91.2,-159.4Z" fill="#ffffc2" clip-path="url(#qnw)"/>
<path d="M-53.4,-148C-50.9,-150.2 -37.1,-151.8 -30.8,-151.8C-24.5,-151.8 -16.3,-149.9 -15.7,-148C-15.1,-146.2 -22,-142.1 -27,-140.5C-32,-138.9 -41.5,-137.3 -45.9,-138.6C-50.3,-139.9 -56,-145.8 -53.4,-148Z" fill="#ffffc2" clip-path="url(#qnw)"/>
<path d="M-125.2,-91.4C-122.7,-86.4 -109.4,-79.4 -102.5,-76.3C-95.6,-73.2 -89.9,-72.5 -83.6,-72.5C-77.4,-72.5 -71.1,-73.2 -64.8,-76.3C-58.5,-79.4 -50.3,-85.7 -45.9,-91.4C-41.5,-97.1 -38.3,-106.5 -38.3,-110.3C-38.3,-114.1 -41.5,-114.1 -45.9,-114.1C-50.3,-114.1 -58.5,-110.9 -64.8,-110.3C-71.1,-109.7 -77.4,-110.3 -83.6,-110.3C-89.9,-110.3 -96.9,-110.9 -102.5,-110.3C-108.2,-109.7 -113.9,-109.7 -117.6,-106.5C-121.4,-103.4 -127.7,-96.4 -125.2,-91.4Z" fill="#ffffc2" clip-path="url(#qnw)"/>
<path d="M-102.5,-72.5C-101,-74.1 -89.3,-72.2 -83.6,-70.6C-78,-69.1 -68.5,-65.9 -68.5,-63.1C-68.5,-60.3 -79.6,-54 -83.6,-53.6C-87.7,-53.3 -89.9,-58.1 -93.1,-61.2C-96.2,-64.3 -104.1,-71 -102.5,-72.5Z" fill="#ffffc2" clip-path="url(#qnw)"/>
<path d="M17.4,-168.8C18.4,-171.3 23.4,-172.9 26.9,-172.6C30.3,-172.3 37,-169.4 38.2,-166.9C39.5,-164.4 37.3,-159.1 34.4,-157.5C31.6,-155.9 24.1,-155.6 21.2,-157.5C18.4,-159.4 16.5,-166.3 17.4,-168.8Z" fill="#ffffc2" clip-path="url(#qne)"/>
<path d="M170.4,-91.4C171.6,-92.7 177.9,-84.5 181.7,-83.9C185.5,-83.2 189.9,-89.5 193,-87.6C196.2,-85.7 199.9,-76.9 200.6,-72.5C201.2,-68.1 199.9,-62.5 196.8,-61.2C193.7,-59.9 185.5,-62.5 181.7,-65C177.9,-67.5 176,-71.9 174.1,-76.3C172.3,-80.7 169.1,-90.1 170.4,-91.4Z" fill="#ffffc2" clip-path="url(#qne)"/>
<path d="M47.7,-146.2C48.3,-149 58.7,-149.6 64.6,-151.8C70.6,-154 77.2,-158.4 83.5,-159.4C89.8,-160.3 96.1,-160 102.4,-157.5C108.7,-155 116.2,-149.6 121.3,-144.3C126.3,-138.9 128.8,-131.1 132.6,-125.4C136.4,-119.7 141.4,-115.9 143.9,-110.3C146.5,-104.6 145.2,-97.1 147.7,-91.4C150.2,-85.7 155.9,-82 159,-76.3C162.2,-70.6 166.6,-61.2 166.6,-57.4C166.6,-53.6 162.2,-51.1 159,-53.6C155.9,-56.2 150.9,-66.2 147.7,-72.5C144.6,-78.8 143.3,-85.1 140.2,-91.4C137,-97.7 132.6,-104.6 128.8,-110.3C125.1,-115.9 122.5,-121.9 117.5,-125.4C112.5,-128.9 104.9,-130.1 98.6,-131.1C92.3,-132 86,-130.4 79.7,-131.1C73.5,-131.7 66.2,-132.3 60.9,-134.8C55.5,-137.3 47,-143.3 47.7,-146.2Z" fill="#ffffc2" clip-path="url(#qne)"/>
<path d="M198.7,-91.4C198.7,-94.9 205.3,-87 208.1,-83.9C211,-80.7 213.8,-77.6 215.7,-72.5C217.6,-67.5 218.5,-61.5 219.5,-53.6C220.4,-45.8 221.7,-33.2 221.3,-25.3C221,-17.5 219.1,-11.2 217.6,-6.4C216,-1.7 212.8,7.7 211.9,3C211,-1.7 212.5,-23.8 211.9,-34.8C211.3,-45.8 210.3,-53.6 208.1,-63.1C205.9,-72.5 198.7,-87.9 198.7,-91.4Z" fill="#ffffc2" clip-path="url(#qne)"/>
<path d="M3.2,-253.8C-2.5,-259.1 -19.5,-252.5 -30.8,-250C-42.1,-247.5 -52.8,-242.1 -64.8,-238.7C-76.7,-235.2 -91.5,-232.7 -102.5,-229.2C-113.5,-225.8 -126.4,-222 -130.8,-217.9C-135.3,-213.8 -126.8,-209.4 -129,-204.7C-131.2,-200 -145.3,-194 -144.1,-189.6C-142.8,-185.2 -126.1,-182 -121.4,-178.3C-116.7,-174.5 -118.9,-167.6 -115.7,-166.9C-112.6,-166.3 -107.9,-170.7 -102.5,-174.5C-97.2,-178.3 -89.9,-185.2 -83.6,-189.6C-77.4,-194 -71.1,-197.8 -64.8,-200.9C-58.5,-204.1 -52.2,-206.3 -45.9,-208.5C-39.6,-210.7 -35.2,-212.5 -27,-214.1C-18.8,-215.7 -1.8,-211.3 3.2,-217.9C8.2,-224.5 8.9,-248.4 3.2,-253.8Z" fill="#fee294" clip-path="url(#qnw)"/>
<path d="M-81.8,-178.3C-80.5,-181.4 -76.4,-185.5 -72.3,-187.7C-68.2,-189.9 -61.6,-191.8 -57.2,-191.5C-52.8,-191.2 -48.4,-188.6 -45.9,-185.8C-43.4,-183 -44.6,-177.3 -42.1,-174.5C-39.6,-171.6 -35.2,-168.8 -30.8,-168.8C-26.4,-168.8 -18.5,-171 -15.7,-174.5C-12.8,-177.9 -15.7,-186.7 -13.8,-189.6C-11.9,-192.4 -5.3,-194.6 -4.4,-191.5C-3.4,-188.3 -4.4,-175.4 -8.1,-170.7C-11.9,-166 -20.7,-163.8 -27,-163.1C-33.3,-162.5 -39.6,-166.6 -45.9,-166.9C-52.2,-167.2 -59.1,-164.7 -64.8,-165C-70.4,-165.4 -77,-166.6 -79.9,-168.8C-82.7,-171 -83,-175.1 -81.8,-178.3Z" fill="#b1deee" clip-path="url(#qnw)"/>
<path d="M-166.7,-132.9C-165.8,-138.6 -159.8,-145.5 -155.4,-148C-151,-150.6 -145.9,-148.7 -140.3,-148C-134.6,-147.4 -127.7,-144.3 -121.4,-144.3C-115.1,-144.3 -108.8,-146.8 -102.5,-148C-96.2,-149.3 -89.3,-151.5 -83.6,-151.8C-78,-152.1 -69.8,-152.4 -68.5,-149.9C-67.3,-147.4 -72.3,-141.1 -76.1,-136.7C-79.9,-132.3 -86.8,-127.3 -91.2,-123.5C-95.6,-119.7 -97.5,-116.9 -102.5,-114.1C-107.6,-111.2 -115.1,-109 -121.4,-106.5C-127.7,-104 -135.3,-99.9 -140.3,-99C-145.3,-98 -148.2,-98.3 -151.6,-100.8C-155.1,-103.4 -158.5,-108.7 -161.1,-114.1C-163.6,-119.4 -167.7,-127.3 -166.7,-132.9Z" fill="#b1deee" clip-path="url(#qnw)"/>
<path d="M-178,-136.7C-174.3,-139.9 -169.2,-133.6 -166.7,-129.2C-164.2,-124.8 -164.2,-115.9 -162.9,-110.3C-161.7,-104.6 -158.5,-99 -159.2,-95.2C-159.8,-91.4 -163.6,-88.6 -166.7,-87.6C-169.9,-86.7 -173.6,-88.6 -178,-89.5C-182.4,-90.5 -191.3,-89.8 -193.1,-93.3C-195,-96.8 -191.9,-103 -189.4,-110.3C-186.9,-117.5 -181.8,-133.6 -178,-136.7Z" fill="#fee294" clip-path="url(#qnw)"/>
<path d="M-119.5,-99C-117.6,-101.8 -111,-105.9 -106.3,-106.5C-101.6,-107.1 -95,-105.3 -91.2,-102.7C-87.4,-100.2 -88.1,-92.7 -83.6,-91.4C-79.2,-90.1 -71.1,-93.9 -64.8,-95.2C-58.5,-96.4 -48.4,-100.2 -45.9,-99C-43.4,-97.7 -46.5,-90.8 -49.7,-87.6C-52.8,-84.5 -59.1,-82 -64.8,-80.1C-70.4,-78.2 -78.9,-76.3 -83.6,-76.3C-88.4,-76.3 -89.3,-78.8 -93.1,-80.1C-96.9,-81.3 -102.2,-82.3 -106.3,-83.9C-110.4,-85.4 -115.4,-87 -117.6,-89.5C-119.8,-92 -121.4,-96.1 -119.5,-99Z" fill="#fee294" clip-path="url(#qnw)"/>
<path d="M-187.5,-66.9C-185.3,-71.3 -179,-71 -174.3,-70.6C-169.5,-70.3 -164.2,-67.2 -159.2,-65C-154.1,-62.8 -147.8,-61.2 -144.1,-57.4C-140.3,-53.6 -138.4,-49.2 -136.5,-42.3C-134.6,-35.4 -132.7,-23.4 -132.7,-15.9C-132.7,-8.3 -135.3,-3.3 -136.5,3C-137.8,9.3 -133.4,18.7 -140.3,21.9C-147.2,25 -170.8,28.2 -178,21.9C-185.3,15.6 -182.1,-4.9 -183.7,-15.9C-185.3,-26.9 -186.9,-35.7 -187.5,-44.2C-188.1,-52.7 -189.7,-62.5 -187.5,-66.9Z" fill="#b1deee" clip-path="url(#qnw)"/>
<path d="M-136.5,-19.7C-135.6,-23.8 -131.5,-25 -129,-25.3C-126.4,-25.6 -122.3,-24.7 -121.4,-21.6C-120.5,-18.4 -122.3,-11.8 -123.3,-6.4C-124.2,-1.1 -126.1,5.8 -127.1,10.5C-128,15.3 -127.4,20 -129,21.9C-130.5,23.8 -135.6,25.6 -136.5,21.9C-137.5,18.1 -134.6,6.1 -134.6,-0.8C-134.6,-7.7 -137.5,-15.6 -136.5,-19.7Z" fill="#fee294" clip-path="url(#qnw)"/>
<path d="M-26,-251.9C-22.2,-258.5 -11.8,-254.7 -3.3,-255.7C5.2,-256.6 16.2,-257.9 25,-257.5C33.8,-257.2 43.6,-255.7 49.5,-253.8C55.5,-251.9 58.4,-249.4 60.9,-246.2C63.4,-243.1 65.9,-238.4 64.6,-234.9C63.4,-231.4 58.4,-228 53.3,-225.4C48.3,-222.9 40.7,-221.4 34.4,-219.8C28.1,-218.2 21.9,-217 15.6,-216C9.3,-215.1 3.6,-214.1 -3.3,-214.1C-10.2,-214.1 -22.2,-209.7 -26,-216C-29.8,-222.3 -29.8,-245.3 -26,-251.9Z" fill="#fee294" clip-path="url(#qne)"/>
<path d="M2.3,-199C3.9,-200.9 16.5,-203.4 25,-204.7C33.5,-205.9 43.6,-207.2 53.3,-206.6C63.1,-205.9 74.7,-203.4 83.5,-200.9C92.3,-198.4 99.3,-195.2 106.2,-191.5C113.1,-187.7 118.8,-183.6 125.1,-178.3C131.4,-172.9 137.6,-165.7 143.9,-159.4C150.2,-153.1 156.5,-146.8 162.8,-140.5C169.1,-134.2 176.3,-127.9 181.7,-121.6C187,-115.3 194.3,-106.5 194.9,-102.7C195.5,-99 189.6,-97.7 185.5,-99C181.4,-100.2 175.4,-105.9 170.4,-110.3C165.3,-114.7 160.3,-120.4 155.3,-125.4C150.2,-130.4 145.2,-135.5 140.2,-140.5C135.1,-145.5 130.1,-151.2 125.1,-155.6C120,-160 115.6,-164.4 110,-166.9C104.3,-169.4 97.4,-170.7 91.1,-170.7C84.8,-170.7 77.2,-168.8 72.2,-166.9C67.2,-165 64.6,-160 60.9,-159.4C57.1,-158.7 52.1,-160 49.5,-163.1C47,-166.3 48.3,-174.2 45.8,-178.3C43.2,-182.3 39.5,-185.2 34.4,-187.7C29.4,-190.2 20.9,-191.5 15.6,-193.4C10.2,-195.2 0.8,-197.1 2.3,-199Z" fill="#b1deee" clip-path="url(#qne)"/>
<path d="M70.3,-248.1C71.9,-250 79.4,-249 85.4,-246.2C91.4,-243.4 101.5,-235.8 106.2,-231.1C110.9,-226.4 113.7,-222.3 113.7,-217.9C113.7,-213.5 110,-206.3 106.2,-204.7C102.4,-203.1 94.9,-205.3 91.1,-208.5C87.3,-211.6 86,-219.2 83.5,-223.6C81,-228 78.2,-230.8 76,-234.9C73.8,-239 68.7,-246.2 70.3,-248.1Z" fill="#b1deee" clip-path="url(#qne)"/>
<path d="M170.4,-34.8C172.3,-39.2 180.4,-38.2 185.5,-38.5C190.5,-38.9 197.7,-38.2 200.6,-36.7C203.4,-35.1 204.4,-31.9 202.5,-29.1C200.6,-26.3 192.1,-23.1 189.2,-19.7C186.4,-16.2 188,-9.6 185.5,-8.3C183,-7.1 176.7,-7.7 174.1,-12.1C171.6,-16.5 168.5,-30.4 170.4,-34.8Z" fill="#b1deee" clip-path="url(#qne)"/>
<path d="M-12.8,-149.9C-7.7,-151.2 12.4,-152.6 17.4,-151.8C22.5,-151 22.5,-146.5 17.4,-145.2C12.4,-144 -7.7,-143.5 -12.8,-144.3C-17.8,-145.1 -17.8,-148.7 -12.8,-149.9Z" fill="#b1deee" clip-path="url(#qne)"/>
<path d="M62.8,-144.3C64,-146.8 70.6,-151.8 76,-153.7C81.3,-155.6 89.2,-156.5 94.9,-155.6C100.5,-154.7 106.2,-151.2 110,-148C113.7,-144.9 116.9,-139.9 117.5,-136.7C118.1,-133.6 116.9,-129.2 113.7,-129.2C110.6,-129.2 103.7,-134.8 98.6,-136.7C93.6,-138.6 88.6,-140.2 83.5,-140.5C78.5,-140.8 71.9,-138 68.4,-138.6C65,-139.2 61.5,-141.8 62.8,-144.3Z" fill="#fee294" clip-path="url(#qne)"/>
<path d="M145.8,-82C146.8,-83.9 151.2,-85.4 153.4,-83.9C155.6,-82.3 157.8,-76 159,-72.5C160.3,-69.1 161.9,-65 160.9,-63.1C160,-61.2 155.6,-59.6 153.4,-61.2C151.2,-62.8 149,-69.1 147.7,-72.5C146.5,-76 144.9,-80.1 145.8,-82Z" fill="#fee294" clip-path="url(#qne)"/>
<path d="M204.4,-80.1C205.6,-81.3 210.6,-78.8 213.8,-76.3C216.9,-73.8 220.4,-70.3 223.2,-65C226.1,-59.6 229.2,-50.8 230.8,-44.2C232.4,-37.6 233.3,-31.6 232.7,-25.3C232,-19 228.9,-12.7 227,-6.4C225.1,-0.2 222.6,7.7 221.3,12.4C220.1,17.2 221.3,20.3 219.5,21.9C217.6,23.4 211,25 210,21.9C209.1,18.7 212.8,9.3 213.8,3C214.7,-3.3 215.4,-9.6 215.7,-15.9C216,-22.2 216.3,-28.5 215.7,-34.8C215.1,-41.1 213.5,-48 211.9,-53.6C210.3,-59.3 207.5,-64.3 206.2,-68.8C205,-73.2 203.1,-78.8 204.4,-80.1Z" fill="#fee294" clip-path="url(#qne)"/>
<path d="M-179.9,-24C-170.5,-30.9 -129.9,-27.8 -121.4,-24C-112.9,-20.2 -127.1,-8.9 -129,-1.3C-130.8,6.2 -132.7,14.1 -132.7,21.3C-132.7,28.6 -131.5,35.8 -129,42.1C-126.4,48.4 -122,54.4 -117.6,59.1C-113.2,63.8 -107.6,67.3 -102.5,70.4C-97.5,73.6 -93.1,75.5 -87.4,78C-81.8,80.5 -74.8,83 -68.5,85.5C-62.3,88 -55,90.6 -49.7,93.1C-44.3,95.6 -39.6,96.9 -36.4,100.6C-33.3,104.4 -34.2,111.3 -30.8,115.7C-27.3,120.1 -21.3,123.3 -15.7,127.1C-10,130.8 0.1,134.6 3.2,138.4C6.3,142.2 6.3,148.5 3.2,149.7C0.1,151 -9.1,147.8 -15.7,145.9C-22.3,144.1 -29.8,140.9 -36.4,138.4C-43.1,135.9 -49.3,133.4 -55.3,130.8C-61.3,128.3 -67,126.4 -72.3,123.3C-77.7,120.1 -82.4,116.4 -87.4,112C-92.5,107.6 -97.5,101.3 -102.5,96.9C-107.6,92.4 -112.6,88.7 -117.6,85.5C-122.7,82.4 -127.7,80.5 -132.7,78C-137.8,75.5 -143.4,74.2 -147.8,70.4C-152.2,66.6 -155.4,61 -159.2,55.3C-162.9,49.7 -167.3,42.7 -170.5,36.4C-173.6,30.1 -176.5,27.6 -178,17.6C-179.6,7.5 -189.4,-17.1 -179.9,-24Z" fill="#b1deee" clip-path="url(#qsw)"/>
<path d="M-161.1,102.5C-159.8,97.5 -152.2,98.4 -147.8,96.9C-143.4,95.3 -139.7,93.4 -134.6,93.1C-129.6,92.8 -123,92.4 -117.6,95C-112.3,97.5 -107.2,103.5 -102.5,108.2C-97.8,112.9 -94.3,119.2 -89.3,123.3C-84.3,127.4 -78,129.9 -72.3,132.7C-66.7,135.6 -61.3,138.1 -55.3,140.3C-49.3,142.5 -43.1,143.7 -36.4,145.9C-29.8,148.1 -22.3,151.6 -15.7,153.5C-9.1,155.4 0.1,150.7 3.2,157.3C6.3,163.9 11.4,186.8 3.2,193.1C-5,199.4 -31.4,195 -45.9,195C-60.4,195 -72.6,194.1 -83.6,193.1C-94.7,192.2 -104.4,191.9 -112,189.4C-119.5,186.8 -123.6,184 -129,178C-134.3,172.1 -139.7,162 -144.1,153.5C-148.5,145 -152.6,135.6 -155.4,127.1C-158.2,118.6 -162.3,107.6 -161.1,102.5Z" fill="#fee294" clip-path="url(#qsw)"/>
<path d="M210,-24C212.5,-28.4 224.8,-27.8 227,-24C229.2,-20.2 224.5,-9.8 223.2,-1.3C222,7.2 221.3,17.6 219.5,27C217.6,36.4 215.7,45.6 211.9,55.3C208.1,65.1 202.5,76.1 196.8,85.5C191.1,95 184.2,105.7 177.9,112C171.6,118.2 164.7,120.8 159,123.3C153.4,125.8 145.8,128.3 143.9,127.1C142.1,125.8 144.6,120.1 147.7,115.7C150.9,111.3 157.8,106.3 162.8,100.6C167.9,95 173.5,88 177.9,81.7C182.3,75.5 185.5,69.2 189.2,62.9C193,56.6 197.4,50.3 200.6,44C203.7,37.7 206.2,32 208.1,25.1C210,18.2 211.6,10.6 211.9,2.5C212.2,-5.7 207.5,-19.6 210,-24Z" fill="#fee294" clip-path="url(#qse)"/>
<path d="M176,17.6C177.9,14.7 182.6,14.4 185.5,15.7C188.3,16.9 192.4,21 193,25.1C193.7,29.2 191.1,35.2 189.2,40.2C187.4,45.2 184.8,50.9 181.7,55.3C178.6,59.7 173.5,62.2 170.4,66.6C167.2,71.1 165.3,77.3 162.8,81.7C160.3,86.2 157.8,91.2 155.3,93.1C152.7,95 148.3,95.6 147.7,93.1C147.1,90.6 149,83 151.5,78C154,72.9 159.7,67.9 162.8,62.9C166,57.8 168.5,52.8 170.4,47.8C172.3,42.7 173.2,37.7 174.1,32.7C175.1,27.6 174.1,20.4 176,17.6Z" fill="#b1deee" clip-path="url(#qse)"/>
<path d="M23.1,185.6C23.7,181.8 32.6,175.8 38.2,172.4C43.9,168.9 50.8,167 57.1,164.8C63.4,162.6 69.7,161 76,159.2C82.3,157.3 89.8,153.8 94.9,153.5C99.9,153.2 103.7,154.7 106.2,157.3C108.7,159.8 110.6,165.1 110,168.6C109.3,172.1 106.8,174.9 102.4,178C98,181.2 90.1,184.6 83.5,187.5C76.9,190.3 70.9,193.8 62.8,195C54.6,196.3 41,196.6 34.4,195C27.8,193.5 22.5,189.4 23.1,185.6Z" fill="#b1deee" clip-path="url(#qse)"/>
<path d="M11.8,96.9C12.4,94.6 20.6,93.7 23.1,95C25.6,96.2 27.5,102.2 26.9,104.4C26.3,106.6 21.9,109.4 19.3,108.2C16.8,106.9 11.2,99.1 11.8,96.9Z" fill="#b1deee" clip-path="url(#qse)"/>
<path d="M-26,149.7C-22.8,146.3 -12.8,149.1 -7.1,149.7C-1.4,150.3 2.3,152.5 8,153.5C13.7,154.4 24.1,154.1 26.9,155.4C29.7,156.6 28.1,159.5 25,161C21.9,162.6 13.4,163.6 8,164.8C2.7,166.1 -1.4,167.7 -7.1,168.6C-12.8,169.5 -22.8,173.6 -26,170.5C-29.1,167.3 -29.1,153.2 -26,149.7Z" fill="#fee294" clip-path="url(#qse)"/>
<path d="M72.2,140.3C72.2,139 79.7,136.8 83.5,136.5C87.3,136.2 94.9,137.1 94.9,138.4C94.9,139.6 87.3,143.7 83.5,144.1C79.7,144.4 72.2,141.5 72.2,140.3Z" fill="#fee294" clip-path="url(#qse)"/>
<path d="M3.2,-246.2C0.1,-249.4 -10,-245 -15.7,-242.4C-21.3,-239.9 -29.5,-234.6 -30.8,-231.1C-32,-227.7 -27,-223.2 -23.2,-221.7C-19.5,-220.1 -12.5,-221.4 -8.1,-221.7C-3.7,-222 1.3,-219.5 3.2,-223.6C5.1,-227.7 6.3,-243.1 3.2,-246.2Z" fill="#fdb366" clip-path="url(#qnw)"/>
<path d="M-70.4,-180.1C-69.8,-182.3 -66,-185.8 -62.9,-185.8C-59.7,-185.8 -54.1,-182.3 -51.6,-180.1C-49,-177.9 -46.8,-174.5 -47.8,-172.6C-48.7,-170.7 -54.1,-168.8 -57.2,-168.8C-60.4,-168.8 -64.5,-170.7 -66.7,-172.6C-68.9,-174.5 -71.1,-177.9 -70.4,-180.1Z" fill="#7fb5da" clip-path="url(#qnw)"/>
<path d="M-159.2,-129.2C-158.5,-133.9 -154.4,-137.3 -149.7,-138.6C-145,-139.9 -137.1,-137.7 -130.8,-136.7C-124.6,-135.8 -117.3,-134.2 -112,-132.9C-106.6,-131.7 -100.3,-131.4 -98.8,-129.2C-97.2,-127 -98.8,-122.9 -102.5,-119.7C-106.3,-116.6 -115.1,-112.8 -121.4,-110.3C-127.7,-107.8 -134.9,-104.6 -140.3,-104.6C-145.6,-104.6 -150.4,-106.2 -153.5,-110.3C-156.6,-114.4 -159.8,-124.4 -159.2,-129.2Z" fill="#7fb5da" clip-path="url(#qnw)"/>
<path d="M-95,-99C-95,-97.6 -95.9,-95.9 -97.2,-95C-98.4,-94 -100.7,-93.3 -102.5,-93.3C-104.3,-93.3 -106.6,-94 -107.9,-95C-109.1,-95.9 -110.1,-97.6 -110.1,-99C-110.1,-100.3 -109.1,-102 -107.9,-103C-106.6,-103.9 -104.3,-104.6 -102.5,-104.6C-100.7,-104.6 -98.4,-103.9 -97.2,-103C-95.9,-102 -95,-100.3 -95,-99Z" fill="#fdb366" clip-path="url(#qnw)"/>
<path d="M-181.8,-49.9C-179.9,-56.2 -171.8,-54.3 -166.7,-53.6C-161.7,-53 -155.1,-49.9 -151.6,-46.1C-148.2,-42.3 -147.2,-37.6 -145.9,-31C-144.7,-24.4 -143.7,-15.3 -144.1,-6.4C-144.4,2.4 -142.8,17.2 -147.8,21.9C-152.9,26.6 -169.2,28.2 -174.3,21.9C-179.3,15.6 -176.8,-3.9 -178,-15.9C-179.3,-27.8 -183.7,-43.6 -181.8,-49.9Z" fill="#7fb5da" clip-path="url(#qnw)"/>
<path d="M-26,-246.2C-22.2,-250.9 -11.8,-249.2 -3.3,-250C5.2,-250.8 16.5,-251.4 25,-250.9C33.5,-250.5 43.2,-248.9 47.7,-247.2C52.1,-245.4 52.7,-242.9 51.4,-240.6C50.2,-238.2 45.1,-235.2 40.1,-233C35.1,-230.8 27.8,-228.9 21.2,-227.3C14.6,-225.8 8.3,-224.5 0.5,-223.6C-7.4,-222.6 -21.6,-217.9 -26,-221.7C-30.4,-225.4 -29.8,-241.5 -26,-246.2Z" fill="#fdb366" clip-path="url(#qne)"/>
<path d="M34.4,-199C37,-200.6 46.4,-202.8 53.3,-202.8C60.2,-202.8 69.7,-200.6 76,-199C82.3,-197.4 87.3,-196.2 91.1,-193.4C94.9,-190.5 97.1,-185.2 98.6,-182C100.2,-178.9 102.4,-175.4 100.5,-174.5C98.6,-173.5 92,-175.1 87.3,-176.4C82.6,-177.6 77.9,-179.8 72.2,-182C66.5,-184.2 59,-187.7 53.3,-189.6C47.7,-191.5 41.4,-191.8 38.2,-193.4C35.1,-194.9 31.9,-197.4 34.4,-199Z" fill="#7fb5da" clip-path="url(#qne)"/>
<path d="M-178,-24C-172.4,-30.9 -146.3,-27.8 -140.3,-24C-134.3,-20.2 -142.2,-8.9 -142.2,-1.3C-142.2,6.2 -141.2,14.1 -140.3,21.3C-139.3,28.6 -138.4,35.8 -136.5,42.1C-134.6,48.4 -129.6,54.4 -129,59.1C-128.3,63.8 -130.2,69.2 -132.7,70.4C-135.3,71.7 -140.3,69.8 -144.1,66.6C-147.8,63.5 -152.2,57.2 -155.4,51.5C-158.5,45.9 -159.8,38.3 -162.9,32.7C-166.1,27 -171.8,27 -174.3,17.6C-176.8,8.1 -183.7,-17.1 -178,-24Z" fill="#7fb5da" clip-path="url(#qsw)"/>
<path d="M-96.9,78C-95.9,75.5 -90.3,72.9 -87.4,74.2C-84.6,75.5 -81.8,81.7 -79.9,85.5C-78,89.3 -75.5,95 -76.1,96.9C-76.7,98.7 -80.8,98.1 -83.6,96.9C-86.5,95.6 -90.9,92.4 -93.1,89.3C-95.3,86.2 -97.8,80.5 -96.9,78Z" fill="#7fb5da" clip-path="url(#qsw)"/>
<path d="M-74.2,112C-72.3,108.8 -65.7,104.4 -61,102.5C-56.3,100.6 -49.7,99.4 -45.9,100.6C-42.1,101.9 -38.3,106.6 -38.3,110.1C-38.3,113.5 -42.1,118.9 -45.9,121.4C-49.7,123.9 -56.6,125.2 -61,125.2C-65.4,125.2 -70.1,123.6 -72.3,121.4C-74.5,119.2 -76.1,115.1 -74.2,112Z" fill="#7fb5da" clip-path="url(#qsw)"/>
<path d="M-30.8,128.9C-30.5,127.4 -22.6,128.9 -19.5,130.8C-16.3,132.7 -11.6,138.7 -11.9,140.3C-12.2,141.8 -18.2,142.2 -21.3,140.3C-24.5,138.4 -31.1,130.5 -30.8,128.9Z" fill="#7fb5da" clip-path="url(#qsw)"/>
<path d="M-132.7,104.4C-129.9,100.9 -122.3,101.3 -117.6,102.5C-112.9,103.8 -108.2,108.2 -104.4,112C-100.6,115.7 -99.1,121.1 -95,125.2C-90.9,129.3 -85.5,133.4 -79.9,136.5C-74.2,139.6 -67.3,141.5 -61,144.1C-54.7,146.6 -48.4,149.7 -42.1,151.6C-35.8,153.5 -27.6,152.5 -23.2,155.4C-18.8,158.2 -16.3,163.9 -15.7,168.6C-15.1,173.3 -16.9,180.6 -19.5,183.7C-22,186.8 -24.8,186.5 -30.8,187.5C-36.8,188.4 -46.5,189 -55.3,189.4C-64.1,189.7 -75.2,190.3 -83.6,189.4C-92.1,188.4 -100,185.9 -106.3,183.7C-112.6,181.5 -117,179.9 -121.4,176.1C-125.8,172.4 -130.2,166.7 -132.7,161C-135.3,155.4 -136.2,148.5 -136.5,142.2C-136.8,135.9 -135.3,129.6 -134.6,123.3C-134,117 -135.6,107.9 -132.7,104.4Z" fill="#fdb366" clip-path="url(#qsw)"/>
<path d="M213.8,8.1C215.4,4 220.7,2.8 221.3,6.2C222,9.7 219.1,24.8 217.6,28.9C216,33 212.5,34.2 211.9,30.8C211.3,27.3 212.2,12.2 213.8,8.1Z" fill="#fdb366" clip-path="url(#qse)"/>
<path d="M177.9,23.2C179.5,20.7 183.9,19.8 185.5,21.3C187,22.9 188,28.6 187.4,32.7C186.7,36.8 183.6,42.1 181.7,45.9C179.8,49.7 177.6,54.4 176,55.3C174.5,56.3 172.3,54.7 172.3,51.5C172.3,48.4 175.1,41.2 176,36.4C177,31.7 176.3,25.7 177.9,23.2Z" fill="#7fb5da" clip-path="url(#qse)"/>
<path d="M155.3,81.7C155.9,79.5 159.8,77 160.9,78C162,78.9 162.5,85.2 161.9,87.4C161.2,89.6 158.3,92.1 157.2,91.2C156.1,90.2 154.6,84 155.3,81.7Z" fill="#7fb5da" clip-path="url(#qse)"/>
<path d="M38.2,179.9C40.4,176.8 47.7,172.7 53.3,170.5C59,168.3 65.9,168.6 72.2,166.7C78.5,164.8 86,160.1 91.1,159.2C96.1,158.2 100.2,159.2 102.4,161C104.6,162.9 106.2,167.3 104.3,170.5C102.4,173.6 96.4,177.1 91.1,179.9C85.7,182.8 77.9,185.6 72.2,187.5C66.5,189.4 62.4,190.9 57.1,191.2C51.7,191.6 43.2,191.2 40.1,189.4C37,187.5 36,183.1 38.2,179.9Z" fill="#7fb5da" clip-path="url(#qse)"/>
<path d="M-26,157.3C-23.5,152.5 -14,157.3 -10.9,159.2C-7.7,161 -6.5,164.5 -7.1,168.6C-7.7,172.7 -11.5,180.6 -14.6,183.7C-17.8,186.8 -24.1,191.9 -26,187.5C-27.9,183.1 -28.5,162 -26,157.3Z" fill="#fdb366" clip-path="url(#qse)"/>
<path d="M-93.1,-216C-90.9,-218.8 -82.1,-222.9 -74.2,-225.4C-66.3,-228 -53.1,-229.5 -45.9,-231.1C-38.7,-232.7 -33.9,-235.5 -30.8,-234.9C-27.6,-234.3 -24.5,-229.9 -27,-227.3C-29.5,-224.8 -39,-222 -45.9,-219.8C-52.8,-217.6 -61.6,-216 -68.5,-214.1C-75.5,-212.2 -83.3,-208.1 -87.4,-208.5C-91.5,-208.8 -95.3,-213.2 -93.1,-216Z" fill="#ffffc2" clip-path="url(#qnw)"/>
<path d="M3.2,-238.7C1.3,-240.2 -5.6,-236.8 -8.1,-234.9C-10.6,-233 -12.5,-229.2 -11.9,-227.3C-11.3,-225.4 -6.9,-223.9 -4.4,-223.6C-1.8,-223.2 1.9,-222.9 3.2,-225.4C4.5,-228 5.1,-237.1 3.2,-238.7Z" fill="#f67d4a" clip-path="url(#qnw)"/>
<path d="M-157.3,-127.3C-156.6,-130.7 -151.9,-133.9 -147.8,-134.8C-143.7,-135.8 -137.8,-133.9 -132.7,-132.9C-127.7,-132 -121.1,-130.7 -117.6,-129.2C-114.2,-127.6 -110.7,-125.7 -112,-123.5C-113.2,-121.3 -120.5,-118.2 -125.2,-115.9C-129.9,-113.7 -135.9,-110.6 -140.3,-110.3C-144.7,-110 -148.8,-111.2 -151.6,-114.1C-154.4,-116.9 -157.9,-123.8 -157.3,-127.3Z" fill="#4a7bb7" clip-path="url(#qnw)"/>
<path d="M-176.2,-34.8C-174.6,-39.8 -167,-37.6 -162.9,-36.7C-158.9,-35.7 -153.8,-34.1 -151.6,-29.1C-149.4,-24.1 -149.4,-13.7 -149.7,-6.4C-150,0.8 -151.9,9.6 -153.5,14.3C-155.1,19 -157,20.6 -159.2,21.9C-161.4,23.1 -164.5,26.6 -166.7,21.9C-168.9,17.2 -170.8,3 -172.4,-6.4C-174,-15.9 -177.7,-29.7 -176.2,-34.8Z" fill="#4a7bb7" clip-path="url(#qnw)"/>
<path d="M-130.8,-8.3C-130.1,-12.7 -126.9,-14 -126.1,-12.1C-125.3,-10.2 -125.8,-1.7 -126.1,3C-126.4,7.7 -127.2,14.3 -128,16.2C-128.8,18.1 -130.4,18.4 -130.8,14.3C-131.3,10.2 -131.6,-3.9 -130.8,-8.3Z" fill="#f67d4a" clip-path="url(#qnw)"/>
<path d="M-26,-231.1C-23.5,-233 -16.2,-232.4 -10.9,-233C-5.5,-233.6 2.3,-235.5 6.1,-234.9C9.9,-234.3 13.4,-231.1 11.8,-229.2C10.2,-227.3 3,-224.8 -3.3,-223.6C-9.6,-222.3 -22.2,-220.4 -26,-221.7C-29.8,-222.9 -28.5,-229.2 -26,-231.1Z" fill="#f67d4a" clip-path="url(#qne)"/>
<path d="M-178,-24C-174.3,-27.8 -152.6,-27.1 -147.8,-24C-143.1,-20.8 -148.8,-11.4 -149.7,-5.1C-150.7,1.2 -151.6,10 -153.5,13.8C-155.4,17.6 -158.2,20.1 -161.1,17.6C-163.9,15 -167.7,5.6 -170.5,-1.3C-173.3,-8.2 -181.8,-20.2 -178,-24Z" fill="#4a7bb7" clip-path="url(#qsw)"/>
<path d="M-55.3,110.1C-54.2,108.3 -50,106.3 -47.8,106.3C-45.6,106.3 -42.1,108.2 -42.1,110.1C-42.1,112 -45.7,116.5 -47.8,117.6C-49.8,118.7 -53.1,117.9 -54.4,116.7C-55.6,115.4 -56.4,111.8 -55.3,110.1Z" fill="#4a7bb7" clip-path="url(#qsw)"/>
<path d="M-127.1,123.3C-125.2,121.1 -121.4,123.6 -117.6,125.2C-113.9,126.7 -109.1,129.9 -104.4,132.7C-99.7,135.6 -94.7,139.3 -89.3,142.2C-84,145 -77.7,147.2 -72.3,149.7C-67,152.2 -62.3,154.4 -57.2,157.3C-52.2,160.1 -47.1,163.6 -42.1,166.7C-37.1,169.9 -29.5,173.3 -27,176.1C-24.5,179 -23.9,182.1 -27,183.7C-30.2,185.3 -39.6,185.3 -45.9,185.6C-52.2,185.9 -57.8,185.6 -64.8,185.6C-71.7,185.6 -80.5,186.5 -87.4,185.6C-94.3,184.6 -101,182.4 -106.3,179.9C-111.7,177.4 -116.1,174.6 -119.5,170.5C-123,166.4 -125.5,160.7 -127.1,155.4C-128.6,150 -129,143.7 -129,138.4C-129,133 -129,125.5 -127.1,123.3Z" fill="#f67d4a" clip-path="url(#qsw)"/>
<path d="M-30.8,93.1C-29.5,89.3 -21.3,89.3 -15.7,89.3C-10,89.3 0.1,86.8 3.2,93.1C6.3,99.4 5.1,122 3.2,127.1C1.3,132.1 -3.7,125.8 -8.1,123.3C-12.5,120.8 -19.5,117 -23.2,112C-27,106.9 -32,96.9 -30.8,93.1Z" fill="#ffffc2" clip-path="url(#qsw)"/>
<path d="M179.8,25.1C181.1,22 183.7,23.2 184.5,25.1C185.3,27 185.3,32.7 184.5,36.4C183.7,40.2 181.1,46.5 179.8,47.8C178.6,49 177,47.8 177,44C177,40.2 178.6,28.3 179.8,25.1Z" fill="#4a7bb7" clip-path="url(#qse)"/>
<path d="M47.7,181.8C48.9,180.2 54.3,179 59,178C63.7,177.1 71.9,176.8 76,176.1C80.1,175.5 82.6,173.3 83.5,174.3C84.5,175.2 83.5,179.6 81.6,181.8C79.7,184 75.3,185.9 72.2,187.5C69.1,189 66.2,191.2 62.8,191.2C59.3,191.2 53.9,189 51.4,187.5C48.9,185.9 46.4,183.4 47.7,181.8Z" fill="#4a7bb7" clip-path="url(#qse)"/>
<path d="M-26,176.1C-24.7,174.6 -20,176.5 -18.4,178C-16.9,179.6 -15.3,184 -16.5,185.6C-17.8,187.2 -24.4,189 -26,187.5C-27.5,185.9 -27.2,177.7 -26,176.1Z" fill="#f67d4a" clip-path="url(#qse)"/>
<path d="M-140.3,-20.2C-138.7,-24.6 -132.1,-24 -129,-24C-125.8,-24 -122,-24 -121.4,-20.2C-120.8,-16.4 -123.9,-7.6 -125.2,-1.3C-126.4,5 -129.6,11.3 -129,17.6C-128.3,23.9 -123.9,30.1 -121.4,36.4C-118.9,42.7 -115.7,50.6 -113.9,55.3C-112,60 -109.4,63.5 -110.1,64.8C-110.7,66 -114.5,66 -117.6,62.9C-120.8,59.7 -125.8,51.9 -129,45.9C-132.1,39.9 -134.9,34.2 -136.5,27C-138.1,19.8 -137.8,10.3 -138.4,2.5C-139,-5.4 -141.9,-15.8 -140.3,-20.2Z" fill="#fee294" clip-path="url(#qsw)"/>
<path d="M-121.4,138.4C-119.8,135.9 -114.5,138.7 -110.1,140.3C-105.7,141.8 -100,145.3 -95,147.8C-89.9,150.3 -84.6,152.5 -79.9,155.4C-75.2,158.2 -70.1,161.7 -66.7,164.8C-63.2,168 -59.4,171.4 -59.1,174.3C-58.8,177.1 -60.7,180.2 -64.8,181.8C-68.9,183.4 -77.4,184 -83.6,183.7C-89.9,183.4 -97.5,182.1 -102.5,179.9C-107.6,177.7 -111,174.6 -113.9,170.5C-116.7,166.4 -118.3,160.7 -119.5,155.4C-120.8,150 -123,140.9 -121.4,138.4Z" fill="#e04530" clip-path="url(#qsw)"/>
<path d="M-113.9,149.7C-112.6,147.2 -106.9,150 -102.5,151.6C-98.1,153.2 -92.1,156.6 -87.4,159.2C-82.7,161.7 -77.7,164.2 -74.2,166.7C-70.7,169.2 -67,172.1 -66.7,174.3C-66.3,176.5 -68.9,179 -72.3,179.9C-75.8,180.9 -82.4,180.6 -87.4,179.9C-92.5,179.3 -98.8,178.3 -102.5,176.1C-106.3,173.9 -108.2,171.1 -110.1,166.7C-112,162.3 -115.1,152.2 -113.9,149.7Z" fill="#b2142a" clip-path="url(#qsw)"/>
<path d="M-134.6,-10.8C-133.4,-13.6 -128,-15.2 -127.1,-12.6C-126.1,-10.1 -128.6,-1.3 -129,4.3C-129.3,10 -129.9,16 -129,21.3C-128,26.7 -123.6,33.6 -123.3,36.4C-123,39.3 -125.5,40.2 -127.1,38.3C-128.6,36.4 -131.5,30.8 -132.7,25.1C-134,19.4 -134.3,10.3 -134.6,4.3C-134.9,-1.6 -135.9,-7.9 -134.6,-10.8Z" fill="#fdb366" clip-path="url(#qsw)"/>
<path d="M-131.8,-5.1C-131.3,-8.2 -128.5,-8.2 -128,-5.1C-127.5,-1.9 -128.5,10.6 -129,13.8C-129.4,16.9 -130.4,16.9 -130.8,13.8C-131.3,10.6 -132.3,-1.9 -131.8,-5.1Z" fill="#f67d4a" clip-path="url(#qsw)"/>
<path d="M-30.8,-132.9C-32.7,-137.3 -35.8,-123.2 -38.3,-117.8C-40.9,-112.5 -44,-106.8 -45.9,-100.8C-47.8,-94.9 -46.5,-88.3 -49.7,-82C-52.8,-75.7 -59.1,-67.8 -64.8,-63.1C-70.4,-58.4 -78.9,-55.2 -83.6,-53.6C-88.4,-52.1 -91.8,-58.4 -93.1,-53.6C-94.3,-48.9 -94.7,-32.3 -91.2,-25.3C-87.7,-18.4 -80.5,-11.8 -72.3,-12.1C-64.1,-12.4 -48.4,-20.3 -42.1,-27.2C-35.8,-34.1 -37.1,-42.9 -34.6,-53.6C-32,-64.3 -27.6,-78.2 -27,-91.4C-26.4,-104.6 -28.9,-128.5 -30.8,-132.9Z" fill="#fff"/>
<path d="M-144.1,-76.3C-144.4,-78.5 -134.6,-80.4 -130.8,-80.1C-127.1,-79.8 -124.2,-76 -121.4,-74.4C-118.6,-72.8 -112.6,-71.9 -113.9,-70.6C-115.1,-69.4 -123.9,-65.9 -129,-66.9C-134,-67.8 -143.7,-74.1 -144.1,-76.3Z" fill="#fff"/>
<path d="M-24.1,-148C-17.5,-149.9 5.8,-145.1 15.6,-144.3C25.3,-143.5 28.8,-144.6 34.4,-143.3C40.1,-142.1 49.5,-138.8 49.5,-136.7C49.5,-134.7 46.7,-131.7 34.4,-131.1C22.2,-130.4 -14.3,-130.1 -24.1,-132.9C-33.8,-135.8 -30.7,-146.2 -24.1,-148Z" fill="#fff"/>
<path d="M121.3,-48C124.4,-50.5 142.7,-58.4 147.7,-57.4C152.7,-56.5 152.1,-45.8 151.5,-42.3C150.9,-38.9 147.7,-36.7 143.9,-36.7C140.2,-36.7 132.6,-40.4 128.8,-42.3C125.1,-44.2 118.1,-45.5 121.3,-48Z" fill="#fff"/>
<path d="M166.6,-25.3C167.2,-27.8 171,-20 172.3,-15.9C173.5,-11.8 174.8,-3.3 174.1,-0.8C173.5,1.7 169.7,3.3 168.5,-0.8C167.2,-4.9 166,-22.8 166.6,-25.3Z" fill="#fff"/>
<path d="M-15.7,32.7C-10.6,33.3 0.1,37.1 3.2,45.9C6.3,54.7 6.3,78.6 3.2,85.5C0.1,92.4 -10,88 -15.7,87.4C-21.3,86.8 -27,87.1 -30.8,81.7C-34.6,76.4 -39,61.9 -38.3,55.3C-37.7,48.7 -30.8,45.9 -27,42.1C-23.2,38.3 -20.7,32 -15.7,32.7Z" fill="#fff"/>
<path d="M-104.4,51.5C-101.9,53.1 -95.6,60.7 -91.2,64.8C-86.8,68.8 -79.2,73.6 -78,76.1C-76.7,78.6 -80.2,81.1 -83.6,79.9C-87.1,78.6 -95,72.6 -98.8,68.5C-102.5,64.4 -105.4,58.1 -106.3,55.3C-107.2,52.5 -106.9,50 -104.4,51.5Z" fill="#fff"/>
<path d="M-26,36.4C-23.5,27.6 -17.8,27.6 -10.9,30.8C-3.9,33.9 9.6,47.5 15.6,55.3C21.5,63.2 25,73.6 25,78C25,82.4 20.3,80.5 15.6,81.7C10.8,83 3.6,85.2 -3.3,85.5C-10.2,85.8 -22.2,91.8 -26,83.6C-29.8,75.5 -28.5,45.2 -26,36.4Z" fill="#fff"/>
<path d="M168.5,2.5C170.1,1.8 175.1,11.9 176,17.6C177,23.2 175.4,32 174.1,36.4C172.9,40.8 169.7,46.5 168.5,44C167.2,41.5 166.6,28.3 166.6,21.3C166.6,14.4 166.9,3.1 168.5,2.5Z" fill="#fff"/>
<use href="#grat"/><use href="#ant"/><use href="#grat2"/><use href="#sa"/>
<g fill="#888" stroke="#888" stroke-width="0.35" font-size="31" opacity="0.9"><text x="-19.6" y="-224" textLength="39.5" lengthAdjust="spacingAndGlyphs">0°E</text><text x="-200.5" y="-156.5" textLength="65.5" lengthAdjust="spacingAndGlyphs">45°W</text><text x="140.8" y="-156.5" textLength="54.8" lengthAdjust="spacingAndGlyphs">45°E</text><text x="-269.6" y="12.2" textLength="65.7" lengthAdjust="spacingAndGlyphs">90°W</text><text x="210.7" y="12.2" textLength="53" lengthAdjust="spacingAndGlyphs">90°E</text><text x="30.2" y="53.6" textLength="54" lengthAdjust="spacingAndGlyphs">80°S</text><text x="89" y="96" textLength="53.7" lengthAdjust="spacingAndGlyphs">70°S</text><text x="148.4" y="138.6" textLength="53" lengthAdjust="spacingAndGlyphs">60°S</text><text x="-206.5" y="179.4" textLength="79.3" lengthAdjust="spacingAndGlyphs">135°W</text><text x="134" y="179.4" textLength="67.3" lengthAdjust="spacingAndGlyphs">135°E</text></g>
</g>
<circle r="278.2" fill="none" stroke="#000" stroke-width="3.4"/>
</g>
<path d="M1522.2,1211.7 V1223.7" stroke="#8c8c8c" stroke-width="1.1" opacity="0.6" fill="none"/>
<g transform="translate(386.5,1502.0)" clip-path="url(#box)">
<g clip-path="url(#clip)">
<circle r="278.2" fill="#ffffc2"/>
<path d="M-197.2,-181.2C-187.2,-169.5 -182.7,-189.7 -174.6,-194.4C-166.4,-199.1 -157.6,-203.5 -148.1,-209.5C-138.7,-215.5 -128,-223.7 -117.9,-230.3C-107.9,-236.9 -97.2,-242.8 -87.7,-249.1C-78.3,-255.4 -68.2,-261.1 -61.3,-268C-54.4,-274.9 -17.2,-291.3 -46.2,-290.7C-75.1,-290 -209.8,-282.5 -235,-264.2C-260.2,-246 -207.3,-192.8 -197.2,-181.2Z" fill="#fee294"/>
<path d="M-159.5,-220.8C-151.9,-218.6 -141.8,-228.1 -133,-232.1C-124.2,-236.2 -115.4,-240.8 -106.6,-245.4C-97.8,-250 -86.5,-254 -80.2,-259.7C-73.9,-265.4 -52.5,-281.7 -68.8,-279.3C-85.2,-277 -163.2,-255.1 -178.3,-245.4C-193.4,-235.6 -167,-223 -159.5,-220.8Z" fill="#fdb366"/>
<path d="M212.5,-188.7C205.2,-179.3 211.5,-147.8 212.5,-132.1C213.4,-116.4 215.6,-106.9 218.1,-94.3C220.6,-81.7 224.7,-69.2 227.6,-56.6C230.4,-44 233.2,-31.4 235.1,-18.8C237,-6.2 237.9,6.4 238.9,19C239.8,31.5 239.2,44.8 240.8,56.7C242.4,68.7 245.2,82.2 248.3,90.7C251.5,99.2 252.1,103.9 259.7,107.7C267.2,111.5 284.8,137.6 293.6,113.3C302.5,89.1 318.8,12.7 312.5,-37.7C306.2,-88 272.6,-163.6 255.9,-188.7C239.2,-213.9 219.7,-198.2 212.5,-188.7Z" fill="#fee294"/>
<path d="M247.6,-120.8C240.3,-114.5 248.8,-89.3 250.2,-75.4C251.6,-61.6 253.7,-49 255.9,-37.7C258.1,-26.4 260.6,-16.3 263.4,-7.5C266.3,1.3 269.7,8.9 272.9,15.2C276,21.5 275.7,29.6 282.3,30.3C288.9,30.9 310.6,42.9 312.5,19C314.4,-5 304.5,-89.9 293.6,-113.2C282.8,-136.5 254.8,-127.1 247.6,-120.8Z" fill="#fdb366"/>
<path d="M-182.1,219.1C-180.9,201.5 -162,202.7 -151.9,196.4C-141.8,190.1 -133,184.8 -121.7,181.3C-110.4,177.9 -96.5,176.3 -83.9,175.6C-71.4,175 -58.8,176 -46.2,177.5C-33.6,179.1 -21,181.9 -8.4,185.1C4.2,188.2 16.7,192.6 29.3,196.4C41.9,200.2 55.8,203.3 67.1,207.7C78.4,212.1 89.7,217.2 97.3,222.8C104.8,228.5 111.1,235.4 112.4,241.7C113.7,248 109.3,250.5 104.8,260.6C100.4,270.7 130,295.2 86,302.1C41.9,309.1 -114.8,316 -159.5,302.1C-204.1,288.3 -183.4,236.7 -182.1,219.1Z" fill="#fee294"/>
<path d="M-102.8,260.6C-104.4,250.5 -97.5,246.8 -93.4,241.7C-89.3,236.7 -84.9,233.2 -78.3,230.4C-71.7,227.6 -62.9,225.1 -53.7,224.7C-44.6,224.4 -33,225.7 -23.5,228.5C-14.1,231.3 -3.4,237.3 2.9,241.7C9.2,246.1 13,250.2 14.2,254.9C15.5,259.7 14.2,262.2 10.5,270C6.7,277.9 7.3,296.8 -8.4,302.1C-24.2,307.5 -68.2,309.1 -83.9,302.1C-99.7,295.2 -101.3,270.7 -102.8,260.6Z" fill="#fdb366"/>
<path d="M-287.8,-67.9C-275.3,-90.6 -250.1,-88.7 -235,-98.1C-219.9,-107.5 -209.8,-115.7 -197.2,-124.5C-184.6,-133.3 -172.1,-142.8 -159.5,-151C-146.9,-159.1 -134.3,-166.1 -121.7,-173.6C-109.1,-181.2 -96.5,-188.1 -83.9,-196.3C-71.4,-204.5 -58.8,-214.5 -46.2,-222.7C-33.6,-230.9 -21,-239.4 -8.4,-245.4C4.2,-251.3 16.7,-256.7 29.3,-258.6C41.9,-260.5 54.5,-258.9 67.1,-256.7C79.7,-254.5 92.3,-251 104.8,-245.4C117.4,-239.7 131.3,-231.5 142.6,-222.7C153.9,-213.9 165.3,-204.5 172.8,-192.5C180.4,-180.5 184.1,-164.2 187.9,-151C191.7,-137.7 192.3,-125.8 195.5,-113.2C198.6,-100.6 203.3,-88 206.8,-75.4C210.3,-62.9 213.7,-50.3 216.2,-37.7C218.8,-25.1 221,-12.5 221.9,0.1C222.8,12.7 222.5,25.2 221.9,37.8C221.3,50.4 220,63 218.1,75.6C216.2,88.2 214.3,100.8 210.6,113.3C206.8,125.9 201.8,140.4 195.5,151.1C189.2,161.8 181.6,171.9 172.8,177.5C164,183.2 153.9,184.5 142.6,185.1C131.3,185.7 117.4,183.2 104.8,181.3C92.3,179.4 79.7,176.9 67.1,173.8C54.5,170.6 41.9,166.5 29.3,162.4C16.7,158.3 4.2,153 -8.4,149.2C-21,145.4 -33.6,141.7 -46.2,139.8C-58.8,137.9 -71.4,138.5 -83.9,137.9C-96.5,137.3 -109.1,136 -121.7,136C-134.3,136 -146.9,136 -159.5,137.9C-172.1,139.8 -184.6,143.2 -197.2,147.3C-209.8,151.4 -216.1,180.7 -235,162.4C-253.9,144.2 -301.7,76.2 -310.5,37.8C-319.3,-0.6 -300.4,-45.2 -287.8,-67.9Z" fill="#e2f5f7"/>
<path d="M-287.8,-22.6C-279,-40.2 -248.8,-43.4 -235,-52.8C-221.1,-62.2 -214.8,-69.2 -204.8,-79.2C-194.7,-89.3 -185.3,-102.5 -174.6,-113.2C-163.9,-123.9 -152.5,-134.6 -140.6,-143.4C-128.6,-152.2 -115.4,-159.8 -102.8,-166.1C-90.2,-172.4 -77.7,-176.8 -65.1,-181.2C-52.5,-185.6 -39.9,-188.7 -27.3,-192.5C-14.7,-196.3 -2.1,-200.4 10.5,-203.8C23,-207.3 35.6,-212 48.2,-213.3C60.8,-214.5 73.4,-213.6 86,-211.4C98.6,-209.2 112.4,-205.7 123.7,-200.1C135.1,-194.4 145.8,-186.8 153.9,-177.4C162.1,-168 167.8,-155.4 172.8,-143.4C177.8,-131.5 180.7,-118.2 184.1,-105.7C187.6,-93.1 190.7,-80.5 193.6,-67.9C196.4,-55.3 199.2,-42.7 201.1,-30.1C203,-17.6 204.6,-5 204.9,7.6C205.2,20.2 204.6,32.8 203,45.4C201.4,58 199.2,70.6 195.5,83.1C191.7,95.7 186,110.2 180.4,120.9C174.7,131.6 169,140.4 161.5,147.3C153.9,154.3 145.8,159.3 135.1,162.4C124.4,165.6 109.9,166.2 97.3,166.2C84.7,166.2 70.9,165 59.5,162.4C48.2,159.9 37.5,155.5 29.3,151.1C21.1,146.7 16.7,141 10.5,136C4.2,131 1,125.3 -8.4,120.9C-17.9,116.5 -33.6,113.3 -46.2,109.6C-58.8,105.8 -71.4,102 -83.9,98.2C-96.5,94.5 -109.1,90.1 -121.7,86.9C-134.3,83.8 -146.9,81.3 -159.5,79.4C-172.1,77.5 -184.6,77.5 -197.2,75.6C-209.8,73.7 -219.9,71.8 -235,68C-250.1,64.3 -279,68 -287.8,52.9C-296.7,37.8 -296.7,-5 -287.8,-22.6Z" fill="#b1deee"/>
<path d="M-189.7,-22.6C-188.7,-30.8 -187.2,-42.1 -182.1,-52.8C-177.1,-63.5 -168.3,-77.3 -159.5,-86.8C-150.7,-96.2 -140.6,-102.5 -129.3,-109.4C-117.9,-116.4 -104.1,-123.3 -91.5,-128.3C-78.9,-133.3 -66.3,-136.5 -53.7,-139.6C-41.2,-142.8 -27.3,-144 -16,-147.2C-4.7,-150.3 4.2,-154.7 14.2,-158.5C24.3,-162.3 34.4,-167.3 44.4,-169.8C54.5,-172.4 64.6,-173.9 74.6,-173.6C84.7,-173.3 95.4,-171.1 104.8,-168C114.3,-164.8 123.7,-160.7 131.3,-154.7C138.8,-148.8 145.1,-140.9 150.2,-132.1C155.2,-123.3 158.3,-112.6 161.5,-101.9C164.6,-91.2 166.5,-79.9 169,-67.9C171.6,-55.9 174.4,-42.7 176.6,-30.1C178.8,-17.6 181.3,-5 182.3,7.6C183.2,20.2 183.2,34.1 182.3,45.4C181.3,56.7 179.4,65.5 176.6,75.6C173.8,85.7 170.9,97 165.3,105.8C159.6,114.6 150.8,123.1 142.6,128.5C134.4,133.8 128.8,136 116.2,137.9C103.6,139.8 81.6,140.7 67.1,139.8C52.6,138.8 38.1,137.9 29.3,132.2C20.5,126.6 18.6,113.7 14.2,105.8C9.8,97.9 9.8,88.5 2.9,85C-4,81.6 -17.9,85.3 -27.3,85C-36.7,84.7 -44.3,85.3 -53.7,83.1C-63.2,80.9 -73.9,76.2 -83.9,71.8C-94,67.4 -104.1,62.4 -114.2,56.7C-124.2,51 -134.9,44.1 -144.4,37.8C-153.8,31.5 -163.6,25.9 -170.8,19C-178,12 -184.6,3.2 -187.8,-3.7C-190.9,-10.6 -190.6,-14.4 -189.7,-22.6Z" fill="#7fb5da"/>
<use href="#grat"/><use href="#ant"/><use href="#grat2"/><use href="#sa"/>
<g fill="#888" stroke="#888" stroke-width="0.35" font-size="31" opacity="0.9"><text x="-19.6" y="-224" textLength="39.5" lengthAdjust="spacingAndGlyphs">0°E</text><text x="-200.5" y="-156.5" textLength="65.5" lengthAdjust="spacingAndGlyphs">45°W</text><text x="140.8" y="-156.5" textLength="54.8" lengthAdjust="spacingAndGlyphs">45°E</text><text x="-269.6" y="12.2" textLength="65.7" lengthAdjust="spacingAndGlyphs">90°W</text><text x="210.7" y="12.2" textLength="53" lengthAdjust="spacingAndGlyphs">90°E</text><text x="30.2" y="53.6" textLength="54" lengthAdjust="spacingAndGlyphs">80°S</text><text x="89" y="96" textLength="53.7" lengthAdjust="spacingAndGlyphs">70°S</text><text x="148.4" y="138.6" textLength="53" lengthAdjust="spacingAndGlyphs">60°S</text><text x="-206.5" y="179.4" textLength="79.3" lengthAdjust="spacingAndGlyphs">135°W</text><text x="134" y="179.4" textLength="67.3" lengthAdjust="spacingAndGlyphs">135°E</text></g>
</g>
<circle r="278.2" fill="none" stroke="#000" stroke-width="3.4"/>
</g>
<path d="M386.5,1781.5 V1793.5" stroke="#8c8c8c" stroke-width="1.1" opacity="0.6" fill="none"/>
<g transform="translate(954.2,1502.0)" clip-path="url(#box)">
<g clip-path="url(#clip)">
<circle r="278.2" fill="#ffffc2"/>
<path d="M-219.8,-192.5C-224.2,-174.2 -199,-179.3 -189.6,-173.6C-180.2,-168 -172.6,-161.7 -163.2,-158.5C-153.7,-155.4 -143,-156 -133,-154.7C-122.9,-153.5 -112.8,-153.5 -102.8,-151C-92.7,-148.4 -80.1,-144.7 -72.5,-139.6C-65,-134.6 -61.8,-125.9 -57.4,-120.8C-53,-115.6 -49.9,-109 -46.1,-108.7C-42.3,-108.4 -38.6,-114.3 -34.8,-118.9C-31,-123.4 -30.4,-131.8 -23.5,-135.9C-16.5,-140 -2.7,-141.5 6.8,-143.4C16.2,-145.3 25,-144.7 33.2,-147.2C41.4,-149.7 48.9,-153.5 55.8,-158.5C62.8,-163.6 69.7,-170.5 74.7,-177.4C79.8,-184.3 83.5,-191.9 86,-200.1C88.6,-208.2 90.8,-218.3 89.8,-226.5C88.9,-234.7 84.2,-242.2 80.4,-249.1C76.6,-256.1 70,-259.2 67.2,-268C64.3,-276.8 101.8,-299.5 63.4,-302C25,-304.5 -116,-301.4 -163.2,-283.1C-210.4,-264.9 -215.4,-210.7 -219.8,-192.5Z" fill="#fee294"/>
<path d="M-182,-226.5C-188.3,-212.6 -169.5,-207 -163.2,-200.1C-156.9,-193.1 -152.5,-188.1 -144.3,-184.9C-136.1,-181.8 -124.1,-183.1 -114.1,-181.2C-104,-179.3 -93.3,-177.4 -83.9,-173.6C-74.4,-169.8 -65.6,-162.3 -57.4,-158.5C-49.3,-154.7 -42.3,-151.6 -34.8,-151C-27.2,-150.3 -20.3,-152.2 -12.1,-154.7C-3.9,-157.3 6.8,-161.7 14.3,-166.1C21.9,-170.5 27.8,-175.5 33.2,-181.2C38.5,-186.8 43.9,-193.1 46.4,-200.1C48.9,-207 49.2,-215.2 48.3,-222.7C47.3,-230.3 44.5,-238.4 40.7,-245.4C37,-252.3 30.7,-257.9 25.6,-264.2C20.6,-270.5 35.7,-280 10.5,-283.1C-14.6,-286.3 -93.3,-292.6 -125.4,-283.1C-157.5,-273.7 -175.8,-240.3 -182,-226.5Z" fill="#fdb366"/>
<path d="M-133,-249.1C-136.3,-240.3 -129.1,-233.7 -126.5,-226.5C-124,-219.2 -123.1,-211.1 -117.9,-205.7C-112.6,-200.4 -104,-197.1 -95.2,-194.4C-86.4,-191.7 -76.3,-191.1 -65,-189.5C-53.7,-187.9 -36.7,-184.8 -27.2,-184.9C-17.8,-185.1 -13.5,-187.5 -8.4,-190.6C-3.2,-193.8 2.2,-198.5 3.7,-203.8C5.3,-209.2 3.1,-216.4 1.1,-222.7C-0.9,-229 -4.9,-235.3 -8.4,-241.6C-11.8,-247.9 -15.3,-254.8 -19.7,-260.5C-24.1,-266.1 -29.8,-270.5 -34.8,-275.6C-39.8,-280.6 -37.9,-290 -49.9,-290.7C-61.8,-291.3 -92.7,-286.3 -106.5,-279.3C-120.4,-272.4 -129.6,-257.9 -133,-249.1Z" fill="#f67d4a"/>
<path d="M108.7,-264.2C100.5,-258.6 122.9,-239.7 127.6,-230.3C132.3,-220.8 136.4,-215.2 137,-207.6C137.6,-200.1 135.4,-191.9 131.4,-184.9C127.3,-178 118.8,-171.7 112.5,-166.1C106.2,-160.4 99.3,-156 93.6,-151C87.9,-145.9 79.8,-142.2 78.5,-135.9C77.2,-129.6 76,-118.9 86,-113.2C96.1,-107.5 128.2,-107.2 138.9,-101.9C149.6,-96.5 146.3,-85.5 150.2,-81.1C154.1,-76.7 158.5,-74.5 162.3,-75.4C166.1,-76.4 170.5,-80.5 172.9,-86.8C175.3,-93.1 174.8,-104.4 176.7,-113.2C178.6,-122 180.4,-131.5 184.2,-139.6C188,-147.8 193.7,-156 199.3,-162.3C205,-168.6 212.5,-169.8 218.2,-177.4C223.9,-184.9 240.2,-193.1 233.3,-207.6C226.4,-222.1 197.4,-254.8 176.7,-264.2C155.9,-273.7 116.9,-269.9 108.7,-264.2Z" fill="#e2f5f7"/>
<path d="M235.2,-141.5C226.4,-140.9 222.9,-134.3 218.2,-128.3C213.5,-122.3 209.4,-115.7 206.9,-105.7C204.4,-95.6 204.4,-80.5 203.1,-67.9C201.8,-55.3 201.8,-42.7 199.3,-30.1C196.8,-17.6 191.8,-3.7 188,7.6C184.2,19 179.8,29 176.7,37.8C173.5,46.6 175.4,54.2 169.1,60.5C162.8,66.8 156.5,73.1 138.9,75.6C121.3,78.1 82.9,76.8 63.4,75.6C43.9,74.3 30.7,65.8 21.9,68C13,70.2 16.2,83.8 10.5,88.8C4.9,93.8 -4.6,94.8 -12.1,98.2C-19.7,101.7 -27.2,105.2 -34.8,109.6C-42.3,114 -49.9,119 -57.4,124.7C-65,130.3 -72.5,137.3 -80.1,143.6C-87.6,149.8 -95.2,156.1 -102.8,162.4C-110.3,168.7 -117.9,175.6 -125.4,181.3C-133,187 -141.1,192 -148.1,196.4C-155,200.8 -160,204 -166.9,207.7C-173.9,211.5 -196.5,203.3 -189.6,219.1C-182.7,234.8 -180.2,288.3 -125.4,302.1C-70.7,316 76,314.7 138.9,302.1C201.8,289.6 223.9,277 252.2,226.6C280.5,176.3 305.7,59.9 308.8,0.1C312,-59.7 283.3,-108.5 271.1,-132.1C258.8,-155.7 244,-142.2 235.2,-141.5Z" fill="#fee294"/>
<path d="M169.1,226.6C162.8,219.7 173.2,212.1 176.7,204C180.1,195.8 184.8,187 189.9,177.5C194.9,168.1 200.9,156.1 206.9,147.3C212.9,138.5 218.8,130.3 225.8,124.7C232.7,119 240.2,116.5 248.4,113.3C256.6,110.2 267.9,93.2 274.8,105.8C281.8,118.4 300,165.6 289.9,188.9C279.9,212.1 234.6,239.2 214.4,245.5C194.3,251.8 175.4,233.5 169.1,226.6Z" fill="#ffffc2"/>
<path d="M248.4,-120.8C234.6,-125.2 231.4,-109.4 225.8,-101.9C220.1,-94.3 216.9,-86.1 214.4,-75.4C211.9,-64.7 212.5,-50.3 210.6,-37.7C208.8,-25.1 206.9,-11.3 203.1,0.1C199.3,11.4 192.4,20.2 188,30.3C183.6,40.3 178.9,51 176.7,60.5C174.5,69.9 173.5,79.7 174.8,86.9C176,94.2 178.9,100.1 184.2,103.9C189.6,107.7 199.3,109.9 206.9,109.6C214.4,109.3 222,105.8 229.5,102C237.1,98.2 245.3,92.3 252.2,86.9C259.1,81.6 261.6,78.1 271.1,69.9C280.5,61.7 302.5,62.1 308.8,37.8C315.1,13.6 318.9,-49 308.8,-75.4C298.8,-101.9 262.3,-116.4 248.4,-120.8Z" fill="#fdb366"/>
<path d="M222,-41.5C223.7,-47.8 225.8,-55.6 229.5,-60.3C233.3,-65.1 239.6,-69.2 244.6,-69.8C249.7,-70.4 254.7,-68.2 259.7,-64.1C264.8,-60 268.5,-49.6 274.8,-45.2C281.1,-40.8 293.7,-48.4 297.5,-37.7C301.3,-27 301.6,9.2 297.5,19C293.4,28.7 280.5,17.7 272.9,20.8C265.4,24 258.8,33.7 252.2,37.8C245.6,41.9 238,46.6 233.3,45.4C228.6,44.1 226.4,37.8 223.9,30.3C221.3,22.7 219,8.9 218.2,0.1C217.4,-8.7 218.3,-15.7 219,-22.6C219.6,-29.5 220.2,-35.2 222,-41.5Z" fill="#f67d4a"/>
<path d="M-148.1,256.8C-153.1,244.9 -126.7,238.6 -117.9,230.4C-109,222.2 -102.8,215.3 -95.2,207.7C-87.6,200.2 -80.1,192 -72.5,185.1C-65,178.2 -57.4,171.9 -49.9,166.2C-42.3,160.5 -35.4,154.9 -27.2,151.1C-19.1,147.3 -9.6,143.9 -0.8,143.6C8,143.2 16.2,147 25.6,149.2C35.1,151.4 46.4,154.6 55.8,156.8C65.3,159 74.7,159 82.3,162.4C89.8,165.9 96.7,171.2 101.1,177.5C105.6,183.8 108.1,192 108.7,200.2C109.3,208.4 107.4,218.4 104.9,226.6C102.4,234.8 98,242.4 93.6,249.3C89.2,256.2 83.5,259.3 78.5,268.2C73.5,277 91.1,296.5 63.4,302.1C35.7,307.8 -52.4,309.7 -87.6,302.1C-122.9,294.6 -143,268.8 -148.1,256.8Z" fill="#fdb366"/>
<path d="M-125.4,253.1C-127.3,241.7 -106.5,239.8 -99,234.2C-91.4,228.5 -87,224.7 -80.1,219.1C-73.2,213.4 -65.6,205.5 -57.4,200.2C-49.3,194.8 -40.4,190.1 -31,187C-21.6,183.8 -11.5,182.3 -0.8,181.3C9.9,180.4 23.1,180.6 33.2,181.3C43.3,182.1 52.9,182.7 59.6,185.8C66.3,189 71.7,193.4 73.6,200.2C75.5,207 73.3,218.4 70.9,226.6C68.6,234.8 64,242 59.6,249.3C55.2,256.5 50.2,261.2 44.5,270C38.8,278.9 47.7,296.8 25.6,302.1C3.6,307.5 -62.5,310.3 -87.6,302.1C-112.8,294 -123.5,264.4 -125.4,253.1Z" fill="#f67d4a"/>
<path d="M-63.1,271.9C-62.5,268.2 -57.4,262.8 -53.7,260.6C-49.9,258.4 -44.1,257.8 -40.4,258.7C-36.8,259.7 -33.3,262.8 -31.8,266.3C-30.2,269.7 -26.7,276.7 -31,279.5C-35.3,282.3 -52.1,284.5 -57.4,283.3C-62.8,282 -63.7,275.7 -63.1,271.9Z" fill="#e04530"/>
<path d="M-257.6,-139.6C-241.2,-169.8 -228,-143.4 -216,-143.4C-204.1,-143.4 -195.9,-140.9 -185.8,-139.6C-175.8,-138.4 -165.7,-137.7 -155.6,-135.9C-145.5,-134 -134.2,-132.1 -125.4,-128.3C-116.6,-124.5 -109,-118.9 -102.8,-113.2C-96.5,-107.5 -91.5,-101.9 -87.6,-94.3C-83.7,-86.8 -81.4,-77.3 -79.3,-67.9C-77.3,-58.5 -76.7,-46.5 -75.6,-37.7C-74.4,-28.9 -70.5,-27.6 -72.5,-15C-74.6,-2.4 -90.2,20.2 -87.6,37.8C-85.1,55.5 -60,79.4 -57.4,90.7C-54.9,102 -66.9,100.1 -72.5,105.8C-78.2,111.5 -85.1,118.4 -91.4,124.7C-97.7,131 -103.4,137.3 -110.3,143.6C-117.2,149.8 -125.4,156.8 -133,162.4C-140.5,168.1 -148.7,173.1 -155.6,177.5C-162.5,181.9 -167.6,185.7 -174.5,188.9C-181.4,192 -189.6,193.3 -197.1,196.4C-204.7,199.6 -200.3,234.2 -219.8,207.7C-239.3,181.3 -307.9,95.7 -314.2,37.8C-320.5,-20.1 -273.9,-109.4 -257.6,-139.6Z" fill="#e2f5f7"/>
<path d="M-36.7,60.5C-36,57 -33.5,51.7 -31,51C-28.5,50.4 -23.5,53.6 -21.6,56.7C-19.7,59.9 -18.7,66.8 -19.7,69.9C-20.6,73.1 -24.7,75.3 -27.2,75.6C-29.8,75.9 -33.2,74.3 -34.8,71.8C-36.4,69.3 -37.3,63.9 -36.7,60.5Z" fill="#e2f5f7"/>
<path d="M-265.1,-117C-249.4,-143.4 -233.6,-120.4 -219.8,-120.8C-206,-121.1 -194.6,-119.5 -182,-118.9C-169.5,-118.2 -155,-118.6 -144.3,-117C-133.6,-115.4 -124.8,-113.2 -117.9,-109.4C-110.9,-105.7 -106.8,-100.6 -102.8,-94.3C-98.7,-88 -95.8,-79.9 -93.3,-71.7C-90.8,-63.5 -89.2,-53.4 -87.6,-45.2C-86.1,-37.1 -81.4,-36.4 -83.9,-22.6C-86.4,-8.7 -103.4,20.8 -102.8,37.8C-102.1,54.8 -82.6,69.9 -80.1,79.4C-77.6,88.8 -83.9,88.8 -87.6,94.5C-91.4,100.1 -96.5,107.1 -102.8,113.3C-109,119.6 -117.9,126.6 -125.4,132.2C-133,137.9 -140.5,143.2 -148.1,147.3C-155.6,151.4 -162.5,154.8 -170.7,156.8C-178.9,158.8 -189,159.4 -197.1,159.4C-205.3,159.4 -211.6,156.3 -219.8,156.8C-228,157.3 -230.5,182.3 -246.2,162.4C-262,142.6 -311.1,84.4 -314.2,37.8C-317.3,-8.7 -280.8,-90.6 -265.1,-117Z" fill="#b1deee"/>
<path d="M-276.4,-94.3C-260.7,-111 -235.5,-98.7 -219.8,-100C-204.1,-101.2 -194,-101.9 -182,-101.9C-170.1,-101.9 -157.5,-101.9 -148.1,-100C-138.6,-98.1 -131.1,-94.6 -125.4,-90.6C-119.7,-86.5 -116.9,-81.7 -114.1,-75.4C-111.2,-69.2 -108.4,-65.4 -108.4,-52.8C-108.4,-40.2 -115,-16.9 -114.1,0.1C-113.1,17.1 -105.4,37.8 -102.8,49.2C-100.1,60.5 -98.2,61.7 -98.2,68C-98.2,74.3 -99.5,80.6 -102.8,86.9C-106,93.2 -111.6,100.1 -117.9,105.8C-124.1,111.5 -133,116.5 -140.5,120.9C-148.1,125.3 -155,129.6 -163.2,132.2C-171.3,134.9 -180.8,136.8 -189.6,136.8C-198.4,136.8 -207.8,134.9 -216,132.2C-224.2,129.6 -231.8,124.7 -238.7,120.9C-245.6,117.1 -245,129.7 -257.6,109.6C-270.1,89.4 -311.1,34.1 -314.2,0.1C-317.3,-33.9 -292.2,-77.6 -276.4,-94.3Z" fill="#7fb5da"/>
<path d="M-284,-75.4C-271.4,-89.3 -252.5,-81.1 -238.7,-83C-224.8,-84.9 -212.3,-86.8 -200.9,-86.8C-189.6,-86.8 -179.5,-85.5 -170.7,-83C-161.9,-80.5 -155,-76.7 -148.1,-71.7C-141.1,-66.6 -134.2,-59.7 -129.2,-52.8C-124.1,-45.9 -119.7,-40.2 -117.9,-30.1C-116,-20.1 -119.1,-3.7 -117.9,7.6C-116.6,19 -111.9,29 -110.3,37.8C-108.7,46.6 -107.2,52.9 -108.4,60.5C-109.7,68 -113.1,76.2 -117.9,83.1C-122.6,90.1 -129.2,97 -136.7,102C-144.3,107.1 -153.7,110.8 -163.2,113.3C-172.6,115.9 -183.3,117.4 -193.4,117.1C-203.4,116.8 -214.8,114.6 -223.6,111.5C-232.4,108.3 -239.3,103 -246.2,98.2C-253.2,93.5 -257.6,88.2 -265.1,83.1C-272.7,78.1 -283.4,81.9 -291.5,68C-299.7,54.2 -315.5,24 -314.2,0.1C-312.9,-23.8 -296.6,-61.6 -284,-75.4Z" fill="#4a7bb7"/>
<path d="M-291.5,-45.2C-284,-61.6 -265.1,-56.6 -253.8,-60.3C-242.5,-64.1 -233.6,-66.6 -223.6,-67.9C-213.5,-69.2 -202.8,-69.2 -193.4,-67.9C-183.9,-66.6 -174.5,-64.1 -166.9,-60.3C-159.4,-56.6 -153.7,-51.5 -148.1,-45.2C-142.4,-38.9 -136.7,-30.1 -133,-22.6C-129.2,-15 -127,-8.1 -125.4,0.1C-123.8,8.3 -123.2,18.3 -123.5,26.5C-123.8,34.7 -124.8,41.6 -127.3,49.2C-129.8,56.7 -133.3,65.5 -138.6,71.8C-144,78.1 -151.5,83.1 -159.4,86.9C-167.3,90.7 -177,93.5 -185.8,94.5C-194.6,95.4 -203.4,94.5 -212.3,92.6C-221.1,90.7 -231.1,87.2 -238.7,83.1C-246.2,79 -251.3,73.7 -257.6,68C-263.9,62.4 -269.5,54.2 -276.4,49.2C-283.4,44.1 -296.6,53.6 -299.1,37.8C-301.6,22.1 -299.1,-28.9 -291.5,-45.2Z" fill="#3a4ea3"/>
<use href="#grat"/><use href="#ant"/><use href="#grat2"/><use href="#sa"/>
<g fill="#888" stroke="#888" stroke-width="0.35" font-size="31" opacity="0.9"><text x="-19.6" y="-224" textLength="39.5" lengthAdjust="spacingAndGlyphs">0°E</text><text x="-200.5" y="-156.5" textLength="65.5" lengthAdjust="spacingAndGlyphs">45°W</text><text x="140.8" y="-156.5" textLength="54.8" lengthAdjust="spacingAndGlyphs">45°E</text><text x="-269.6" y="12.2" textLength="65.7" lengthAdjust="spacingAndGlyphs">90°W</text><text x="210.7" y="12.2" textLength="53" lengthAdjust="spacingAndGlyphs">90°E</text><text x="30.2" y="53.6" textLength="54" lengthAdjust="spacingAndGlyphs">80°S</text><text x="89" y="96" textLength="53.7" lengthAdjust="spacingAndGlyphs">70°S</text><text x="148.4" y="138.6" textLength="53" lengthAdjust="spacingAndGlyphs">60°S</text><text x="-206.5" y="179.4" textLength="79.3" lengthAdjust="spacingAndGlyphs">135°W</text><text x="134" y="179.4" textLength="67.3" lengthAdjust="spacingAndGlyphs">135°E</text></g>
</g>
<circle r="278.2" fill="none" stroke="#000" stroke-width="3.4"/>
</g>
<path d="M954.2,1781.5 V1793.5" stroke="#8c8c8c" stroke-width="1.1" opacity="0.6" fill="none"/>
<g transform="translate(1522.2,1502.0)" clip-path="url(#box)">
<g clip-path="url(#clip)">
<circle r="278.2" fill="#ffffc2"/>
<path d="M-71.7,-196.3C-71.7,-203.8 -71,-212 -67.9,-218.9C-64.7,-225.9 -59.1,-232.1 -52.8,-237.8C-46.5,-243.5 -38.9,-249.1 -30.1,-252.9C-21.3,-256.7 -10,-258.9 0.1,-260.5C10.1,-262 20.8,-263 30.3,-262.4C39.7,-261.7 49.2,-260.2 56.7,-256.7C64.3,-253.2 70.6,-247.2 75.6,-241.6C80.6,-235.9 82.5,-228.4 86.9,-222.7C91.3,-217 96.4,-212 102,-207.6C107.7,-203.2 114,-199.4 120.9,-196.3C127.8,-193.1 136.6,-192.5 143.6,-188.7C150.5,-184.9 157.4,-179.3 162.4,-173.6C167.5,-168 170.6,-161 173.8,-154.7C176.9,-148.4 177.5,-140.9 181.3,-135.9C185.1,-130.8 190.8,-125.2 196.4,-124.5C202.1,-123.9 209,-128.6 215.3,-132.1C221.6,-135.5 227.3,-140.9 234.2,-145.3C241.1,-149.7 244.3,-170.2 256.8,-158.5C269.4,-146.9 304,-108.2 309.7,-75.4C315.4,-42.7 297.7,20.2 290.8,37.8C283.9,55.5 275.7,32.8 268.2,30.3C260.6,27.8 252.4,25.9 245.5,22.7C238.6,19.6 232.9,15.8 226.6,11.4C220.3,7 214,0.7 207.8,-3.7C201.5,-8.1 195.2,-10.6 188.9,-15C182.6,-19.4 176.9,-23.8 170,-30.1C163.1,-36.4 161.8,-45.2 147.3,-52.8C132.9,-60.3 106.4,-65.4 83.1,-75.4C59.9,-85.5 26.5,-104.4 7.6,-113.2C-11.2,-122 -21.9,-123.9 -30.1,-128.3C-38.3,-132.7 -37.1,-135.2 -41.5,-139.6C-45.9,-144 -52.2,-149.1 -56.6,-154.7C-61,-160.4 -65.4,-166.7 -67.9,-173.6C-70.4,-180.5 -71.7,-188.7 -71.7,-196.3Z" fill="#fee294"/>
<path d="M-43.3,-181.2C-42.9,-186.2 -42.4,-195 -39.6,-200.1C-36.7,-205.1 -32.3,-208.7 -26.4,-211.4C-20.4,-214 -12.5,-215.4 -3.7,-215.9C5.1,-216.4 17.7,-216.4 26.5,-214.4C35.3,-212.4 43.5,-208.7 49.2,-203.8C54.8,-198.9 58.6,-191.2 60.5,-184.9C62.4,-178.7 62.4,-171.7 60.5,-166.1C58.6,-160.4 54.2,-155.4 49.2,-151C44.1,-146.6 37.2,-142.2 30.3,-139.6C23.4,-137.1 15.2,-135.9 7.6,-135.9C0.1,-135.9 -8.1,-136.5 -15,-139.6C-21.9,-142.8 -29.4,-149.7 -33.9,-154.7C-38.4,-159.8 -40.6,-165.4 -42.2,-169.8C-43.8,-174.2 -43.8,-176.1 -43.3,-181.2Z" fill="#fdb366"/>
<path d="M209.6,-69.8C209.6,-74.5 213.1,-75.8 217.2,-77.3C221.3,-78.9 228.2,-80.2 234.2,-79.2C240.2,-78.3 246.8,-74.8 253.1,-71.7C259.4,-68.5 263.8,-62.9 271.9,-60.3C280.1,-57.8 297.1,-66.6 302.1,-56.6C307.2,-46.5 306.6,-8.1 302.1,0.1C297.7,8.3 283.3,-4.6 275.7,-7.5C268.2,-10.3 263.8,-12.5 256.8,-16.9C249.9,-21.3 240.8,-28.6 234.2,-33.9C227.6,-39.3 221.3,-43 217.2,-49C213.1,-55 209.6,-65.1 209.6,-69.8Z" fill="#fdb366"/>
<path d="M-79.2,-279.3C-64.4,-266.8 -89.4,-241.6 -92.4,-226.5C-95.5,-211.4 -98.3,-201.3 -97.3,-188.7C-96.4,-176.1 -91.7,-162.3 -86.8,-151C-81.9,-139.6 -73.6,-129.6 -67.9,-120.8C-62.2,-111.9 -56.9,-105.7 -52.8,-98.1C-48.7,-90.6 -46.5,-83 -43.3,-75.4C-40.2,-67.9 -29.8,-62.9 -33.9,-52.8C-38,-42.7 -53.4,-18.8 -67.9,-15C-82.4,-11.3 -108.2,-25.1 -120.8,-30.1C-133.3,-35.2 -135.2,-40.8 -143.4,-45.2C-151.6,-49.6 -160.4,-54.1 -169.8,-56.6C-179.3,-59.1 -188.7,-61 -200,-60.3C-211.4,-59.7 -225.8,-57.8 -237.8,-52.8C-249.8,-47.8 -262.3,-36.4 -271.8,-30.1C-281.2,-23.8 -284.4,11.4 -294.4,-15C-304.5,-41.5 -351.1,-140.9 -332.2,-188.7C-313.3,-236.6 -223.3,-286.9 -181.2,-302C-139,-317.1 -94,-291.9 -79.2,-279.3Z" fill="#e2f5f7"/>
<path d="M-124.5,-264.2C-115.4,-248.5 -127,-223.3 -126.4,-207.6C-125.8,-191.9 -124.2,-181.2 -120.8,-169.8C-117.3,-158.5 -110.7,-149.1 -105.6,-139.6C-100.6,-130.2 -94.3,-121.4 -90.5,-113.2C-86.8,-105 -83.7,-97.2 -83,-90.6C-82.2,-83.9 -83.2,-78.5 -86,-73.6C-88.8,-68.7 -93.6,-63.4 -100,-61.1C-106.4,-58.8 -116,-58.8 -124.5,-59.6C-133,-60.4 -142.8,-64.5 -151,-66C-159.1,-67.5 -163.5,-68.3 -173.6,-68.7C-183.7,-69 -199.4,-69.3 -211.4,-67.9C-223.3,-66.5 -235.3,-64.7 -245.4,-60.3C-255.4,-55.9 -263.6,-46.5 -271.8,-41.5C-280,-36.4 -284.4,-5.6 -294.4,-30.1C-304.5,-54.7 -351.1,-143.4 -332.2,-188.7C-313.3,-234 -215.8,-289.4 -181.2,-302C-146.6,-314.6 -133.7,-280 -124.5,-264.2Z" fill="#b1deee"/>
<path d="M-188.7,-226.5C-173.6,-225.2 -171.7,-208.2 -166.1,-200.1C-160.4,-191.9 -157.9,-185.6 -154.7,-177.4C-151.6,-169.2 -147.9,-159.1 -147.2,-151C-146.4,-142.8 -147.7,-135.2 -150.2,-128.3C-152.7,-121.4 -157.1,-114.5 -162.3,-109.4C-167.4,-104.4 -173.6,-100.6 -181.2,-98.1C-188.7,-95.6 -198.8,-94.3 -207.6,-94.3C-216.4,-94.3 -225.8,-95.6 -234,-98.1C-242.2,-100.6 -246.6,-103.8 -256.7,-109.4C-266.8,-115.1 -294.4,-115.7 -294.4,-132.1C-294.4,-148.4 -274.3,-191.9 -256.7,-207.6C-239.1,-223.3 -203.8,-227.7 -188.7,-226.5Z" fill="#7fb5da"/>
<path d="M166.2,0.1C177.5,-11.3 181.9,4.5 188.9,7.6C195.8,10.8 201.5,13.9 207.8,19C214,24 220.3,31.5 226.6,37.8C232.9,44.1 239.2,51.4 245.5,56.7C251.8,62.1 256.8,65.5 264.4,69.9C271.9,74.3 289.6,50.7 290.8,83.1C292.1,115.5 312.8,227.9 271.9,264.4C231,300.9 80.6,302.1 45.4,302.1C10.1,302.1 57.2,273.8 60.5,264.4C63.8,254.9 63.8,253.1 65,245.5C66.3,238 68.2,228.5 68,219.1C67.9,209.6 66.2,197 64.3,188.9C62.4,180.7 59.2,176.3 56.7,170C54.2,163.7 51.1,157.4 49.2,151.1C47.3,144.8 33.4,144.8 45.4,132.2C57.3,119.6 100.8,97.6 120.9,75.6C141,53.6 154.9,11.4 166.2,0.1Z" fill="#e2f5f7"/>
<path d="M162.4,45.4C170,35.9 178.2,37.8 185.1,37.8C192,37.8 198.3,41 204,45.4C209.6,49.8 214.7,57.3 219.1,64.3C223.5,71.2 226.6,80 230.4,86.9C234.2,93.8 237.3,100.8 241.7,105.8C246.1,110.8 248.7,112.7 256.8,117.1C265,121.5 294.6,107.7 290.8,132.2C287,156.8 271.9,236.1 234.2,264.4C196.4,292.7 90.7,302.1 64.3,302.1C37.8,302.1 73,273.8 75.6,264.4C78.2,254.9 78.9,253.1 80.1,245.5C81.4,238 83.3,228.5 83.1,219.1C83,209.6 80.3,198.3 79.4,188.9C78.4,179.4 77.5,170.9 77.5,162.4C77.5,153.9 69,149.2 79.4,137.9C89.8,126.6 125.9,109.9 139.8,94.5C153.6,79 154.9,54.8 162.4,45.4Z" fill="#b1deee"/>
<path d="M132.2,120.9C140.1,116.2 148,113.3 154.9,109.6C161.8,105.8 167.5,100.8 173.8,98.2C180.1,95.7 187,93.8 192.6,94.5C198.3,95.1 202.7,98.2 207.8,102C212.8,105.8 218.4,111.5 222.9,117.1C227.3,122.8 230.4,130.3 234.2,136C238,141.7 239.2,145.4 245.5,151.1C251.8,156.8 280.1,151.1 271.9,170C263.8,188.9 224.7,245.5 196.4,264.4C168.1,283.3 116.8,286.4 102,283.3C87.2,280.1 107.7,256.8 107.7,245.5C107.7,234.2 103.6,224.7 102,215.3C100.5,205.9 98.9,197.7 98.3,188.9C97.6,180.1 96.7,170.9 98.3,162.4C99.8,153.9 102,144.8 107.7,137.9C113.4,131 124.4,125.6 132.2,120.9Z" fill="#7fb5da"/>
<path d="M119,173.8C120.7,168.1 123.7,160.5 128.5,154.9C133.2,149.2 140.4,143.6 147.3,139.8C154.3,136 162.4,132.9 170,132.2C177.5,131.6 186.4,132.9 192.6,136C198.9,139.1 204,146.1 207.8,151.1C211.5,156.1 210.9,159.9 215.3,166.2C219.7,172.5 243.6,172.5 234.2,188.9C224.7,205.2 174.4,256.2 158.7,264.4C142.9,272.6 144.5,244.6 139.8,238C135.1,231.3 133.2,229.8 130.3,224.7C127.5,219.7 124.8,213.7 122.8,207.7C120.8,201.8 118.9,194.5 118.3,188.9C117.6,183.2 117.3,179.4 119,173.8Z" fill="#4a7bb7"/>
<path d="M-294.4,15.2C-280.6,-3.7 -261.7,3.2 -249.1,0.1C-236.5,-3.1 -229,-3.7 -218.9,-3.7C-208.9,-3.7 -198.8,-2.4 -188.7,0.1C-178.6,2.6 -167.9,7 -158.5,11.4C-149.1,15.8 -140.9,20.8 -132.1,26.5C-123.3,32.2 -116.3,40.3 -105.6,45.4C-94.9,50.4 -80.5,51 -67.9,56.7C-55.3,62.4 -39.6,76.1 -30.1,79.4C-20.7,82.6 -17.5,76.3 -11.2,76.3C-5,76.3 2,76.3 7.6,79.4C13.3,82.4 19.5,88.8 22.7,94.5C26,100.1 27.1,107.1 27.3,113.3C27.4,119.6 23.6,125.9 23.5,132.2C23.4,138.5 24.7,144.8 26.5,151.1C28.3,157.4 31.5,163.7 34.1,170C36.6,176.3 40.4,181.3 41.6,188.9C42.9,196.4 42.9,207.1 41.6,215.3C40.4,223.5 37.2,231 34.1,238C30.9,244.9 27.1,250.5 22.7,256.8C18.3,263.1 13.3,268.2 7.6,275.7C2,283.3 32.8,304 -11.2,302.1C-55.3,300.3 -203.2,295.8 -256.7,264.4C-310.2,232.9 -325.9,154.9 -332.2,113.3C-338.5,71.8 -308.3,34.1 -294.4,15.2Z" fill="#fee294"/>
<path d="M-286.9,56.7C-285,17.1 -256.7,32.8 -245.4,26.5C-234,20.2 -228.4,19.9 -218.9,19C-209.5,18 -198.8,19 -188.7,20.8C-178.6,22.7 -168.6,26.2 -158.5,30.3C-148.4,34.4 -138.4,39.7 -128.3,45.4C-118.2,51 -108.2,58 -98.1,64.3C-88,70.6 -77.3,77.5 -67.9,83.1C-58.4,88.8 -49.6,92.6 -41.5,98.2C-33.3,103.9 -25.1,110.2 -18.8,117.1C-12.5,124 -8.1,131.6 -3.7,139.8C0.7,148 3.9,158.7 7.6,166.2C11.4,173.8 15.8,178.8 19,185.1C22.1,191.4 25.6,197 26.5,204C27.5,210.9 26.5,219.7 24.6,226.6C22.7,233.5 19.3,239.2 15.2,245.5C11.1,251.8 5.1,257.5 0.1,264.4C-5,271.3 27.8,287 -15,287C-57.8,287 -211.4,302.8 -256.7,264.4C-302,226 -288.8,96.4 -286.9,56.7Z" fill="#fdb366"/>
<path d="M-275.6,105.8C-278.7,73.1 -247.2,76.8 -237.8,68C-228.4,59.2 -226.5,56.4 -218.9,52.9C-211.4,49.5 -201.9,47.3 -192.5,47.3C-183.1,47.3 -172.4,50.1 -162.3,52.9C-152.2,55.8 -142.1,59.9 -132.1,64.3C-122,68.7 -111.9,74.3 -101.9,79.4C-91.8,84.4 -81.1,88.8 -71.7,94.5C-62.2,100.1 -53.4,106.4 -45.2,113.3C-37.1,120.3 -28.9,127.8 -22.6,136C-16.3,144.2 -11.9,153.6 -7.5,162.4C-3.1,171.2 1.3,180.7 3.9,188.9C6.4,197 7.6,204 7.6,211.5C7.6,219.1 6.4,227.3 3.9,234.2C1.3,241.1 -2.4,247.1 -7.5,253.1C-12.5,259 -20.1,263.1 -26.4,270C-32.6,277 -13.1,295.5 -45.2,294.6C-77.3,293.6 -180.5,295.8 -218.9,264.4C-257.3,232.9 -272.4,138.5 -275.6,105.8Z" fill="#f67d4a"/>
<path d="M-226.5,170C-229.6,151.7 -221.4,136.6 -218.9,124.7C-216.4,112.7 -215.8,105.8 -211.4,98.2C-207,90.7 -200,83.8 -192.5,79.4C-184.9,75 -175.5,72.4 -166.1,71.8C-156.6,71.2 -145.9,73.1 -135.9,75.6C-125.8,78.1 -115.7,82.5 -105.6,86.9C-95.6,91.3 -84.9,95.7 -75.4,102C-66,108.3 -56.6,116.5 -49,124.7C-41.5,132.9 -35.8,141.7 -30.1,151.1C-24.5,160.5 -18.5,171.9 -15,181.3C-11.6,190.8 -9.4,199.6 -9.4,207.7C-9.4,215.9 -11.6,223.5 -15,230.4C-18.5,237.3 -23.8,243.9 -30.1,249.3C-36.4,254.6 -45.2,259.3 -52.8,262.5C-60.3,265.6 -66.6,264.1 -75.4,268.2C-84.3,272.2 -84.9,292.7 -105.6,287C-126.4,281.4 -179.9,253.7 -200,234.2C-220.2,214.7 -223.3,188.2 -226.5,170Z" fill="#e04530"/>
<path d="M-194.4,139.8C-193.8,132.2 -192.2,123.4 -188.7,117.1C-185.3,110.8 -179.9,105.8 -173.6,102C-167.3,98.2 -159.1,95.4 -151,94.5C-142.8,93.5 -133.3,94.5 -124.5,96.4C-115.7,98.2 -106.9,101.1 -98.1,105.8C-89.3,110.5 -79.8,117.1 -71.7,124.7C-63.5,132.2 -55.3,142.3 -49,151.1C-42.7,159.9 -37.7,169.4 -33.9,177.5C-30.1,185.7 -27,193.3 -26.4,200.2C-25.7,207.1 -27,213.4 -30.1,219.1C-33.3,224.7 -38.9,230.4 -45.2,234.2C-51.5,238 -59.7,240.2 -67.9,241.7C-76.1,243.3 -85.5,244.2 -94.3,243.6C-103.1,243 -111.9,240.8 -120.8,238C-129.6,235.1 -139,231.7 -147.2,226.6C-155.4,221.6 -163.5,214.7 -169.8,207.7C-176.1,200.8 -181.2,192.6 -184.9,185.1C-188.7,177.5 -190.9,170 -192.5,162.4C-194.1,154.9 -195,147.3 -194.4,139.8Z" fill="#b2142a"/>
<use href="#grat"/><use href="#ant"/><use href="#grat2"/><use href="#sa"/>
<g fill="#888" stroke="#888" stroke-width="0.35" font-size="31" opacity="0.9"><text x="-19.6" y="-224" textLength="39.5" lengthAdjust="spacingAndGlyphs">0°E</text><text x="-200.5" y="-156.5" textLength="65.5" lengthAdjust="spacingAndGlyphs">45°W</text><text x="140.8" y="-156.5" textLength="54.8" lengthAdjust="spacingAndGlyphs">45°E</text><text x="-269.6" y="12.2" textLength="65.7" lengthAdjust="spacingAndGlyphs">90°W</text><text x="210.7" y="12.2" textLength="53" lengthAdjust="spacingAndGlyphs">90°E</text><text x="30.2" y="53.6" textLength="54" lengthAdjust="spacingAndGlyphs">80°S</text><text x="89" y="96" textLength="53.7" lengthAdjust="spacingAndGlyphs">70°S</text><text x="148.4" y="138.6" textLength="53" lengthAdjust="spacingAndGlyphs">60°S</text><text x="-206.5" y="179.4" textLength="79.3" lengthAdjust="spacingAndGlyphs">135°W</text><text x="134" y="179.4" textLength="67.3" lengthAdjust="spacingAndGlyphs">135°E</text></g>
</g>
<circle r="278.2" fill="none" stroke="#000" stroke-width="3.4"/>
</g>
<path d="M1522.2,1781.5 V1793.5" stroke="#8c8c8c" stroke-width="1.1" opacity="0.6" fill="none"/>
<g transform="translate(386.5,2070.2)" clip-path="url(#box)">
<g clip-path="url(#clip)">
<circle r="278.2" fill="#ffffff"/>
<path d="M-0.9,-253C12.3,-253.3 33.7,-252.7 48.2,-251.1C62.7,-249.5 75.3,-248 86,-243.6C96.7,-239.2 104.2,-232.9 112.4,-224.7C120.6,-216.5 126.2,-205.2 135.1,-194.5C143.9,-183.8 156.5,-171.2 165.3,-160.5C174.1,-149.8 180.4,-142.2 187.9,-130.3C195.5,-118.3 203.6,-100.7 210.6,-88.8C217.5,-76.8 225.4,-68 229.5,-58.5C233.5,-49.1 235.7,-39.7 235.1,-32.1C234.5,-24.6 228.2,-20.8 225.7,-13.2C223.2,-5.7 221.3,4.4 220,13.2C218.8,22 219.7,30.2 218.1,39.6C216.6,49.1 215,58.5 210.6,69.8C206.2,81.2 198,96.9 191.7,107.6C185.4,118.3 179.7,126.5 172.8,134C165.9,141.6 158.3,146.6 150.2,152.9C142,159.2 131.3,166.1 123.7,171.8C116.2,177.4 114.3,183.1 104.8,186.9C95.4,190.7 79.7,193.2 67.1,194.4C54.5,195.7 41.9,195.1 29.3,194.4C16.7,193.8 4.2,190 -8.4,190.7C-21,191.3 -33.6,198.2 -46.2,198.2C-58.8,198.2 -73.2,192.6 -83.9,190.7C-94.6,188.8 -102.2,191.3 -110.4,186.9C-118.6,182.5 -125.5,173 -133,164.2C-140.6,155.4 -150.7,144.7 -155.7,134C-160.7,123.3 -160.1,112 -163.2,100C-166.4,88.1 -171.4,73 -174.6,62.3C-177.7,51.6 -181.5,45.9 -182.1,35.9C-182.7,25.8 -177.7,13.8 -178.3,1.9C-179,-10.1 -184,-23.3 -185.9,-35.9C-187.8,-48.5 -188.4,-64.2 -189.7,-73.6C-190.9,-83.1 -194.7,-85 -193.4,-92.5C-192.2,-100.1 -185.9,-110.1 -182.1,-119C-178.3,-127.8 -176.5,-137.2 -170.8,-145.4C-165.1,-153.6 -155.1,-159.9 -148.1,-168C-141.2,-176.2 -133.7,-185.7 -129.3,-194.5C-124.9,-203.3 -126.7,-215.2 -121.7,-220.9C-116.7,-226.6 -108.5,-225.9 -99.1,-228.5C-89.6,-231 -76.4,-232.5 -65.1,-236C-53.7,-239.5 -41.8,-246.4 -31.1,-249.2C-20.4,-252.1 -14.1,-252.7 -0.9,-253Z" fill="#ffffc2"/>
<path d="M-0.9,-253C12.3,-253.3 33.7,-252.7 48.2,-251.1C62.7,-249.5 75.3,-248 86,-243.6C96.7,-239.2 104.2,-232.9 112.4,-224.7C120.6,-216.5 126.2,-205.2 135.1,-194.5C143.9,-183.8 156.5,-171.2 165.3,-160.5C174.1,-149.8 180.4,-142.2 187.9,-130.3C195.5,-118.3 203.6,-100.7 210.6,-88.8C217.5,-76.8 225.4,-68 229.5,-58.5C233.5,-49.1 235.7,-39.7 235.1,-32.1C234.5,-24.6 228.2,-20.8 225.7,-13.2C223.2,-5.7 221.3,4.4 220,13.2C218.8,22 219.7,30.2 218.1,39.6C216.6,49.1 215,58.5 210.6,69.8C206.2,81.2 198,96.9 191.7,107.6C185.4,118.3 179.7,126.5 172.8,134C165.9,141.6 158.3,146.6 150.2,152.9C142,159.2 131.3,166.1 123.7,171.8C116.2,177.4 114.3,183.1 104.8,186.9C95.4,190.7 79.7,193.2 67.1,194.4C54.5,195.7 41.9,195.1 29.3,194.4C16.7,193.8 4.2,190 -8.4,190.7C-21,191.3 -33.6,198.2 -46.2,198.2C-58.8,198.2 -73.2,192.6 -83.9,190.7C-94.6,188.8 -102.2,191.3 -110.4,186.9C-118.6,182.5 -125.5,173 -133,164.2C-140.6,155.4 -150.7,144.7 -155.7,134C-160.7,123.3 -160.1,112 -163.2,100C-166.4,88.1 -171.4,73 -174.6,62.3C-177.7,51.6 -181.5,45.9 -182.1,35.9C-182.7,25.8 -177.7,13.8 -178.3,1.9C-179,-10.1 -184,-23.3 -185.9,-35.9C-187.8,-48.5 -188.4,-64.2 -189.7,-73.6C-190.9,-83.1 -194.7,-85 -193.4,-92.5C-192.2,-100.1 -185.9,-110.1 -182.1,-119C-178.3,-127.8 -176.5,-137.2 -170.8,-145.4C-165.1,-153.6 -155.1,-159.9 -148.1,-168C-141.2,-176.2 -133.7,-185.7 -129.3,-194.5C-124.9,-203.3 -126.7,-215.2 -121.7,-220.9C-116.7,-226.6 -108.5,-225.9 -99.1,-228.5C-89.6,-231 -76.4,-232.5 -65.1,-236C-53.7,-239.5 -41.8,-246.4 -31.1,-249.2C-20.4,-252.1 -14.1,-252.7 -0.9,-253Z" fill="#e2f5f7"/>
<path d="M29.3,-217.1C30.6,-224.7 43.2,-235.4 52,-239.8C60.8,-244.2 73.4,-246.1 82.2,-243.6C91,-241 96,-232.9 104.8,-224.7C113.7,-216.5 128.8,-203.3 135.1,-194.5C141.3,-185.7 144.5,-176.9 142.6,-171.8C140.7,-166.8 131.3,-163.6 123.7,-164.3C116.2,-164.9 106.7,-171.8 97.3,-175.6C87.9,-179.4 75.9,-183.8 67.1,-186.9C58.3,-190.1 50.7,-189.4 44.4,-194.5C38.1,-199.5 28.1,-209.6 29.3,-217.1Z" fill="#ffffc2"/>
<path d="M-121.7,-134.1C-121.7,-141.6 -106.6,-156.1 -99.1,-164.3C-91.5,-172.4 -85.2,-179.4 -76.4,-183.1C-67.6,-186.9 -55,-183.8 -46.2,-186.9C-37.4,-190.1 -31.1,-198.9 -23.5,-202C-16,-205.2 -7.2,-208.3 -0.9,-205.8C5.4,-203.3 13,-193.8 14.2,-186.9C15.5,-180 11.7,-170.6 6.7,-164.3C1.6,-158 -7.2,-153.6 -16,-149.2C-24.8,-144.8 -43.7,-142.2 -46.2,-137.8C-48.7,-133.4 -31.1,-128.4 -31.1,-122.7C-31.1,-117.1 -38.6,-104.5 -46.2,-103.9C-53.7,-103.2 -67.6,-116.4 -76.4,-119C-85.2,-121.5 -91.5,-116.4 -99.1,-119C-106.6,-121.5 -121.7,-126.5 -121.7,-134.1Z" fill="#ffffc2"/>
<path d="M-99.1,-81.2C-97.8,-86.2 -83.9,-89.4 -76.4,-88.8C-68.8,-88.1 -56.3,-82.5 -53.7,-77.4C-51.2,-72.4 -56.3,-61.7 -61.3,-58.5C-66.3,-55.4 -77.7,-54.8 -83.9,-58.5C-90.2,-62.3 -100.3,-76.2 -99.1,-81.2Z" fill="#ffffc2"/>
<path d="M-178.3,-1.9C-173.9,-9.5 -159.5,-8.2 -151.9,-5.7C-144.4,-3.2 -138.1,5.6 -133,13.2C-128,20.8 -124.9,28.9 -121.7,39.6C-118.6,50.3 -117.9,66.1 -114.2,77.4C-110.4,88.7 -100.3,99.4 -99.1,107.6C-97.8,115.8 -104.1,118.9 -106.6,126.5C-109.1,134 -111.6,142.8 -114.2,152.9C-116.7,163 -118.6,183.1 -121.7,186.9C-124.9,190.7 -128.6,181.9 -133,175.6C-137.4,169.3 -143.7,159.2 -148.1,149.1C-152.5,139.1 -156.9,127.1 -159.5,115.1C-162,103.2 -160.1,90 -163.2,77.4C-166.4,64.8 -175.8,52.8 -178.3,39.6C-180.9,26.4 -182.7,5.6 -178.3,-1.9Z" fill="#ffffc2"/>
<path d="M-83.9,92.5C-80.2,88.1 -63.8,85.6 -53.7,84.9C-43.7,84.3 -33.6,87.5 -23.5,88.7C-13.5,90 -0.9,89.3 6.7,92.5C14.2,95.6 20.5,101.9 21.8,107.6C23,113.3 20.5,124.6 14.2,126.5C7.9,128.4 -5.9,120.8 -16,118.9C-26.1,117 -36.1,116.4 -46.2,115.1C-56.3,113.9 -70.1,115.1 -76.4,111.4C-82.7,107.6 -87.7,96.9 -83.9,92.5Z" fill="#ffffc2"/>
<path d="M150.2,-88.8C152.7,-96.3 172.2,-88.8 180.4,-81.2C188.5,-73.6 194.8,-56 199.2,-43.4C203.6,-30.9 207.4,-18.3 206.8,-5.7C206.2,6.9 200.5,24.5 195.5,32.1C190.4,39.6 180.4,43.4 176.6,39.6C172.8,35.9 174.7,22 172.8,9.4C170.9,-3.2 169,-19.5 165.3,-35.9C161.5,-52.3 147.6,-81.2 150.2,-88.8Z" fill="#ffffc2"/>
<path d="M135.1,92.5C140.1,86.8 151.4,78 157.7,77.4C164,76.8 172.2,83.1 172.8,88.7C173.4,94.4 167.1,105.7 161.5,111.4C155.8,117 144.5,122.7 138.8,122.7C133.2,122.7 128.1,116.4 127.5,111.4C126.9,106.3 130,98.2 135.1,92.5Z" fill="#ffffc2"/>
<path d="M-178.3,-134.1C-176.5,-139.7 -167.6,-151.7 -163.2,-152.9C-158.8,-154.2 -152.5,-146.6 -151.9,-141.6C-151.3,-136.6 -155.7,-126.5 -159.5,-122.7C-163.2,-119 -171.4,-117.1 -174.6,-119C-177.7,-120.8 -180.2,-128.4 -178.3,-134.1Z" fill="#ffffc2"/>
<path d="M-144.4,-186.9C-142.5,-197 -136.8,-209.9 -129.3,-217.1C-121.7,-224.4 -109.7,-226.6 -99.1,-230.3C-88.4,-234.1 -76.4,-236.3 -65.1,-239.8C-53.7,-243.2 -43,-248.3 -31.1,-251.1C-19.1,-253.9 -4.7,-257.4 6.7,-256.8C18,-256.1 34.4,-251.4 36.9,-247.3C39.4,-243.2 29.3,-236 21.8,-232.2C14.2,-228.5 1.6,-227.8 -8.4,-224.7C-18.5,-221.5 -29.8,-217.1 -38.6,-213.4C-47.4,-209.6 -55,-206.4 -61.3,-202C-67.6,-197.6 -71.4,-192.6 -76.4,-186.9C-81.4,-181.3 -86.5,-174.3 -91.5,-168C-96.5,-161.8 -100.9,-153.6 -106.6,-149.2C-112.3,-144.8 -119.8,-140.4 -125.5,-141.6C-131.1,-142.9 -137.4,-149.2 -140.6,-156.7C-143.7,-164.3 -146.2,-176.9 -144.4,-186.9Z" fill="#b1deee"/>
<path d="M-182.1,-88.8C-178,-98.8 -165.8,-98.2 -159.5,-103.9C-153.2,-109.5 -149.4,-121.5 -144.4,-122.7C-139.3,-124 -130.5,-117.1 -129.3,-111.4C-128,-105.7 -133,-96.3 -136.8,-88.8C-140.6,-81.2 -148.1,-74.9 -151.9,-66.1C-155.7,-57.3 -160.7,-43.4 -159.5,-35.9C-158.2,-28.3 -150,-24.6 -144.4,-20.8C-138.7,-17 -128,-17 -125.5,-13.2C-123,-9.5 -124.9,0 -129.3,1.9C-133.7,3.8 -144.4,0.6 -151.9,-1.9C-159.5,-4.4 -169.2,-6.3 -174.6,-13.2C-179.9,-20.2 -182.7,-30.9 -184,-43.4C-185.3,-56 -186.2,-78.7 -182.1,-88.8Z" fill="#b1deee"/>
<path d="M-114.2,-96.3C-111.6,-102.6 -97.8,-113.3 -91.5,-115.2C-85.2,-117.1 -77.7,-112.7 -76.4,-107.6C-75.1,-102.6 -78.9,-90 -83.9,-85C-89,-79.9 -101.6,-75.5 -106.6,-77.4C-111.6,-79.3 -116.7,-90 -114.2,-96.3Z" fill="#b1deee"/>
<path d="M14.2,-186.9C15.5,-190.7 24.3,-197.6 29.3,-198.3C34.4,-198.9 42.5,-193.8 44.4,-190.7C46.3,-187.6 44.4,-181.9 40.7,-179.4C36.9,-176.9 26.2,-174.3 21.8,-175.6C17.4,-176.9 13,-183.1 14.2,-186.9Z" fill="#b1deee"/>
<path d="M29.3,-152.9C30.6,-156.1 43.2,-159.2 52,-160.5C60.8,-161.8 73.4,-161.8 82.2,-160.5C91,-159.2 101.7,-156.1 104.8,-152.9C108,-149.8 106.1,-143.5 101.1,-141.6C96,-139.7 84.1,-141.6 74.6,-141.6C65.2,-141.6 52,-139.7 44.4,-141.6C36.9,-143.5 28.1,-149.8 29.3,-152.9Z" fill="#b1deee"/>
<path d="M153.9,-156.7C158.3,-156.7 166.5,-149.2 172.8,-141.6C179.1,-134.1 185.4,-121.5 191.7,-111.4C198,-101.3 204.9,-91.3 210.6,-81.2C216.2,-71.1 222.5,-61.1 225.7,-51C228.8,-40.9 230.7,-27.1 229.5,-20.8C228.2,-14.5 221.9,-10.7 218.1,-13.2C214.3,-15.8 210.6,-27.1 206.8,-35.9C203,-44.7 200.5,-56 195.5,-66.1C190.4,-76.2 182.9,-86.9 176.6,-96.3C170.3,-105.7 162.7,-115.2 157.7,-122.7C152.7,-130.3 147,-135.9 146.4,-141.6C145.8,-147.3 149.5,-156.7 153.9,-156.7Z" fill="#b1deee"/>
<path d="M-106.6,145.4C-103.5,139.7 -92.8,137.8 -83.9,137.8C-75.1,137.8 -63.8,142.8 -53.7,145.4C-43.7,147.9 -33.6,152.9 -23.5,152.9C-13.5,152.9 -2.1,146 6.7,145.4C15.5,144.7 20.5,149.1 29.3,149.1C38.1,149.1 49.5,146.6 59.5,145.4C69.6,144.1 79.7,142.8 89.7,141.6C99.8,140.3 111.1,139.1 120,137.8C128.8,136.5 137.6,131.5 142.6,134C147.6,136.5 153.3,146.6 150.2,152.9C147,159.2 132.5,166.1 123.7,171.8C114.9,177.4 106.7,183.1 97.3,186.9C87.9,190.7 78.4,192.6 67.1,194.4C55.8,196.3 41.9,198.2 29.3,198.2C16.7,198.2 4.2,194.4 -8.4,194.4C-21,194.4 -33.6,198.8 -46.2,198.2C-58.8,197.6 -74.5,195.1 -83.9,190.7C-93.4,186.3 -99.1,179.3 -102.8,171.8C-106.6,164.2 -109.7,151 -106.6,145.4Z" fill="#b1deee"/>
<path d="M-99.1,84.9C-95.9,81.8 -85.2,76.8 -80.2,77.4C-75.1,78 -68.2,84.9 -68.8,88.7C-69.5,92.5 -78.9,98.8 -83.9,100C-89,101.3 -96.5,98.8 -99.1,96.3C-101.6,93.8 -102.2,88.1 -99.1,84.9Z" fill="#b1deee"/>
<path d="M-31.1,-186.9C-29.8,-190.7 -24.8,-199.2 -19.8,-202C-14.7,-204.9 -4.7,-205.8 -0.9,-203.9C2.9,-202 4.8,-194.8 2.9,-190.7C1,-186.6 -7.2,-181.3 -12.2,-179.4C-17.2,-177.5 -24.2,-178.1 -27.3,-179.4C-30.5,-180.6 -32.3,-183.1 -31.1,-186.9Z" fill="#fee294"/>
<path d="M44.4,-205.8C47,-208.3 59.5,-207.7 67.1,-205.8C74.6,-203.9 82.2,-198.3 89.7,-194.5C97.3,-190.7 105.5,-186.9 112.4,-183.1C119.3,-179.4 129.4,-175 131.3,-171.8C133.2,-168.7 128.8,-164.3 123.7,-164.3C118.7,-164.3 109.3,-168.7 101.1,-171.8C92.9,-175 82.8,-180 74.6,-183.1C66.5,-186.3 57,-186.9 52,-190.7C47,-194.5 41.9,-203.3 44.4,-205.8Z" fill="#fee294"/>
<path d="M-106.6,-141.6C-106,-147.9 -99.7,-158 -95.3,-164.3C-90.9,-170.6 -85.8,-176.2 -80.2,-179.4C-74.5,-182.5 -66.3,-185 -61.3,-183.1C-56.3,-181.3 -51.2,-174.3 -50,-168C-48.7,-161.8 -51.2,-151.7 -53.7,-145.4C-56.3,-139.1 -60,-134.1 -65.1,-130.3C-70.1,-126.5 -78.3,-123.4 -83.9,-122.7C-89.6,-122.1 -95.3,-123.4 -99.1,-126.5C-102.8,-129.7 -107.2,-135.3 -106.6,-141.6Z" fill="#fee294"/>
<path d="M-50,-122.7C-48.7,-126.5 -42.1,-132.8 -38.6,-134.1C-35.2,-135.3 -29.8,-133.4 -29.2,-130.3C-28.6,-127.1 -32,-118.3 -34.9,-115.2C-37.7,-112 -43.7,-110.1 -46.2,-111.4C-48.7,-112.7 -51.2,-119 -50,-122.7Z" fill="#fee294"/>
<path d="M-91.5,-77.4C-89.6,-80.6 -80.8,-83.7 -76.4,-83.1C-72,-82.5 -65.7,-77.1 -65.1,-73.6C-64.4,-70.2 -68.8,-63.9 -72.6,-62.3C-76.4,-60.7 -84.6,-61.7 -87.7,-64.2C-90.9,-66.7 -93.4,-74.3 -91.5,-77.4Z" fill="#fee294"/>
<path d="M146.4,-96.3C149.5,-98.8 159.6,-93.8 165.3,-88.8C170.9,-83.7 176,-74.9 180.4,-66.1C184.8,-57.3 189.2,-46 191.7,-35.9C194.2,-25.8 194.8,-15.8 195.5,-5.7C196.1,4.4 196.7,17 195.5,24.5C194.2,32.1 190.4,39.6 187.9,39.6C185.4,39.6 182.3,32.1 180.4,24.5C178.5,17 179.1,3.1 176.6,-5.7C174.1,-14.5 169.7,-22 165.3,-28.3C160.9,-34.6 153.3,-35.9 150.2,-43.4C147,-51 147,-64.8 146.4,-73.6C145.8,-82.5 143.2,-93.8 146.4,-96.3Z" fill="#fee294"/>
<path d="M-178.3,1.9C-175.2,-5.1 -165.1,-3.8 -159.5,-1.9C-153.8,0 -148.1,6.3 -144.4,13.2C-140.6,20.1 -139.3,30.2 -136.8,39.6C-134.3,49.1 -133,59.8 -129.3,69.8C-125.5,79.9 -117.3,91.2 -114.2,100C-111,108.9 -109.1,115.1 -110.4,122.7C-111.6,130.3 -119.2,137.2 -121.7,145.4C-124.2,153.5 -123,168 -125.5,171.8C-128,175.6 -133,171.8 -136.8,168C-140.6,164.2 -144.4,157.9 -148.1,149.1C-151.9,140.3 -156.9,127.1 -159.5,115.1C-162,103.2 -160.1,90 -163.2,77.4C-166.4,64.8 -175.8,52.2 -178.3,39.6C-180.9,27 -181.5,8.8 -178.3,1.9Z" fill="#fee294"/>
<path d="M2.9,88.7C5.4,84.9 18,85.6 21.8,88.7C25.6,91.9 26.2,101.9 25.6,107.6C24.9,113.3 21.1,122.1 18,122.7C14.9,123.3 9.2,117 6.7,111.4C4.2,105.7 0.4,92.5 2.9,88.7Z" fill="#fee294"/>
<path d="M-114.2,32.1C-112.9,29.9 -106.6,27 -104.7,28.3C-102.8,29.6 -101.6,37.4 -102.8,39.6C-104.1,41.8 -110.4,42.8 -112.3,41.5C-114.2,40.3 -115.4,34.3 -114.2,32.1Z" fill="#fee294"/>
<path d="M142.6,88.7C145.4,84.9 153.9,80.5 157.7,81.2C161.5,81.8 165.9,88.4 165.3,92.5C164.6,96.6 158,103.8 153.9,105.7C149.8,107.6 142.6,106.7 140.7,103.8C138.8,101 139.8,92.5 142.6,88.7Z" fill="#fee294"/>
<path d="M-133,-213.4C-130.5,-217.1 -116,-224.7 -110.4,-224.7C-104.7,-224.7 -101.6,-219 -99.1,-213.4C-96.5,-207.7 -94,-197.6 -95.3,-190.7C-96.5,-183.8 -102.2,-176.2 -106.6,-171.8C-111,-167.4 -117.9,-162.4 -121.7,-164.3C-125.5,-166.2 -128.6,-176.9 -129.3,-183.1C-129.9,-189.4 -124.9,-197 -125.5,-202C-126.1,-207.1 -135.6,-209.6 -133,-213.4Z" fill="#7fb5da"/>
<path d="M-80.2,-213.4C-78.3,-217.1 -67,-223.4 -61.3,-224.7C-55.6,-225.9 -47.4,-223.4 -46.2,-220.9C-44.9,-218.4 -49.3,-212.7 -53.7,-209.6C-58.1,-206.4 -68.2,-201.4 -72.6,-202C-77,-202.7 -82.1,-209.6 -80.2,-213.4Z" fill="#7fb5da"/>
<path d="M-31.1,-249.2C-27.6,-250.8 -14.1,-253.3 -8.4,-253C-2.8,-252.7 3.5,-249.2 2.9,-247.3C2.3,-245.4 -6.9,-242.3 -12.2,-241.7C-17.6,-241 -26.1,-242.3 -29.2,-243.6C-32.3,-244.8 -34.5,-247.7 -31.1,-249.2Z" fill="#7fb5da"/>
<path d="M-163.2,-115.2C-160.4,-118.3 -151.3,-120.8 -148.1,-119C-145,-117.1 -143.1,-108.3 -144.4,-103.9C-145.6,-99.4 -152.2,-93.2 -155.7,-92.5C-159.2,-91.9 -163.9,-96.3 -165.1,-100.1C-166.4,-103.9 -166.1,-112 -163.2,-115.2Z" fill="#7fb5da"/>
<path d="M-155.7,-35.9C-153.8,-39.7 -144.4,-41.6 -140.6,-39.7C-136.8,-37.8 -133,-29.6 -133,-24.6C-133,-19.5 -137.4,-10.7 -140.6,-9.5C-143.7,-8.2 -149.4,-12.6 -151.9,-17C-154.4,-21.4 -157.6,-32.1 -155.7,-35.9Z" fill="#7fb5da"/>
<path d="M19.9,-190.7C20.2,-192.9 26.8,-195.1 29.3,-194.5C31.8,-193.8 35.3,-189.1 35,-186.9C34.7,-184.7 30,-180.6 27.4,-181.3C24.9,-181.9 19.6,-188.5 19.9,-190.7Z" fill="#7fb5da"/>
<path d="M70.9,-156.7C73.7,-158.6 84.7,-159.5 89.7,-158.6C94.8,-157.7 101.7,-153.3 101.1,-151.1C100.4,-148.9 90.7,-146 86,-145.4C81.2,-144.8 75.3,-145.4 72.8,-147.3C70.2,-149.2 68,-154.8 70.9,-156.7Z" fill="#7fb5da"/>
<path d="M203,-73.6C204.6,-76.2 214.3,-71.1 218.1,-66.1C221.9,-61.1 224.1,-50.4 225.7,-43.4C227.2,-36.5 228.8,-27.1 227.6,-24.6C226.3,-22 221.3,-23.9 218.1,-28.3C215,-32.7 211.2,-43.4 208.7,-51C206.2,-58.5 201.4,-71.1 203,-73.6Z" fill="#7fb5da"/>
<path d="M-99.1,149.1C-96.5,146.6 -82.7,144.1 -76.4,145.4C-70.1,146.6 -61.9,153.5 -61.3,156.7C-60.7,159.8 -67.6,163.6 -72.6,164.2C-77.7,164.9 -87.1,163 -91.5,160.5C-95.9,157.9 -101.6,151.6 -99.1,149.1Z" fill="#7fb5da"/>
<path d="M-38.6,175.6C-36.7,173 -21,170.5 -16,171.8C-10.9,173 -6.5,180.6 -8.4,183.1C-10.3,185.6 -22.3,188.1 -27.3,186.9C-32.3,185.6 -40.5,178.1 -38.6,175.6Z" fill="#7fb5da"/>
<path d="M29.3,156.7C31.8,152.9 43.2,151 52,149.1C60.8,147.2 73.4,144.7 82.2,145.4C91,146 102.3,149.1 104.8,152.9C107.4,156.7 102.3,164.2 97.3,168C92.3,171.8 82.2,173.7 74.6,175.6C67.1,177.4 58.3,180 52,179.3C45.7,178.7 40.7,175.6 36.9,171.8C33.1,168 26.8,160.5 29.3,156.7Z" fill="#7fb5da"/>
<path d="M-100.9,-145.4C-100.9,-151.1 -95.6,-159.2 -91.5,-164.3C-87.4,-169.3 -81.4,-173.7 -76.4,-175.6C-71.4,-177.5 -64.8,-178.1 -61.3,-175.6C-57.8,-173.1 -55.9,-166.2 -55.6,-160.5C-55.3,-154.8 -56.6,-146.6 -59.4,-141.6C-62.2,-136.6 -67.3,-132.2 -72.6,-130.3C-78,-128.4 -86.8,-127.8 -91.5,-130.3C-96.2,-132.8 -100.9,-139.7 -100.9,-145.4Z" fill="#fdb366"/>
<path d="M148.3,-73.6C150.8,-77.4 159.9,-77.4 165.3,-73.6C170.6,-69.9 176.6,-59.8 180.4,-51C184.1,-42.2 186.3,-30.9 187.9,-20.8C189.5,-10.7 191.1,3.8 189.8,9.4C188.5,15.1 183.2,17 180.4,13.2C177.5,9.4 176,-5.1 172.8,-13.2C169.7,-21.4 165.3,-29.6 161.5,-35.9C157.7,-42.2 152.4,-44.7 150.2,-51C148,-57.3 145.8,-69.9 148.3,-73.6Z" fill="#fdb366"/>
<path d="M-174.6,9.4C-172.7,3.8 -163.9,3.1 -159.5,5.6C-155.1,8.2 -151.3,16.3 -148.1,24.5C-145,32.7 -143.1,44.7 -140.6,54.7C-138.1,64.8 -136.2,75.5 -133,84.9C-129.9,94.4 -123,103.2 -121.7,111.4C-120.4,119.6 -123.6,127.1 -125.5,134C-127.4,140.9 -129.9,151 -133,152.9C-136.2,154.8 -141.2,151.6 -144.4,145.4C-147.5,139.1 -149.4,126.5 -151.9,115.1C-154.4,103.8 -156.3,90 -159.5,77.4C-162.6,64.8 -168.3,51 -170.8,39.6C-173.3,28.3 -176.5,15.1 -174.6,9.4Z" fill="#fdb366"/>
<path d="M4.8,92.5C7,90 17.1,90.3 19.9,92.5C22.7,94.7 22.7,101.9 21.8,105.7C20.8,109.5 16.7,114.8 14.2,115.1C11.7,115.5 8.2,111.4 6.7,107.6C5.1,103.8 2.6,95 4.8,92.5Z" fill="#fdb366"/>
<path d="M-129.3,-219C-127.4,-222.2 -114.2,-226.9 -110.4,-226.6C-106.6,-226.3 -104.7,-220.3 -106.6,-217.1C-108.5,-214 -117.9,-207.4 -121.7,-207.7C-125.5,-208 -131.1,-215.9 -129.3,-219Z" fill="#4a7bb7"/>
<path d="M52,152.9C53.9,150.1 67.7,148.8 74.6,149.1C81.6,149.4 91.6,152.3 93.5,154.8C95.4,157.3 91,162.3 86,164.2C80.9,166.1 69,168 63.3,166.1C57.6,164.2 50.1,155.7 52,152.9Z" fill="#4a7bb7"/>
<path d="M-93.4,-145.4C-93.4,-150.1 -89.3,-158.3 -85.8,-162.4C-82.4,-166.5 -76.4,-169.6 -72.6,-169.9C-68.8,-170.2 -64.8,-168.4 -63.2,-164.3C-61.6,-160.2 -61.6,-150.4 -63.2,-145.4C-64.8,-140.4 -68.8,-135.9 -72.6,-134.1C-76.4,-132.2 -82.4,-132.2 -85.8,-134.1C-89.3,-135.9 -93.4,-140.7 -93.4,-145.4Z" fill="#f67d4a"/>
<path d="M150.2,-66.1C152.4,-69.2 160.9,-69.9 165.3,-66.1C169.7,-62.3 173.4,-51.6 176.6,-43.4C179.7,-35.3 183.5,-23.9 184.1,-17C184.8,-10.1 182.6,-1.3 180.4,-1.9C178.2,-2.5 174.1,-15.1 170.9,-20.8C167.8,-26.4 164.6,-31.5 161.5,-35.9C158.3,-40.3 153.9,-42.2 152,-47.2C150.2,-52.3 148,-62.9 150.2,-66.1Z" fill="#f67d4a"/>
<path d="M-159.5,13.2C-157.9,13.8 -153.5,20.1 -151.9,24.5C-150.3,28.9 -149.1,37.7 -150,39.6C-151,41.5 -155.7,39 -157.6,35.9C-159.5,32.7 -161,24.5 -161.4,20.8C-161.7,17 -161,12.6 -159.5,13.2Z" fill="#f67d4a"/>
<path d="M-153.8,81.2C-152.2,80.5 -147.5,87.5 -144.4,92.5C-141.2,97.5 -136.2,106.3 -134.9,111.4C-133.7,116.4 -134.9,122.7 -136.8,122.7C-138.7,122.7 -143.4,115.8 -146.2,111.4C-149.1,107 -152.5,101.3 -153.8,96.3C-155.1,91.2 -155.4,81.8 -153.8,81.2Z" fill="#f67d4a"/>
<path d="M67.1,152.9C69.3,151.5 78.4,150.4 82.2,151C86,151.6 90.4,154.8 89.7,156.7C89.1,158.6 81.9,161.8 78.4,162.3C75,162.8 70.9,161.3 69,159.7C67.1,158.1 64.9,154.4 67.1,152.9Z" fill="#3a4ea3"/>
<path d="M-87.7,-149.2C-87.1,-152.3 -84.6,-156.7 -82.1,-158.6C-79.5,-160.5 -74.5,-162.1 -72.6,-160.5C-70.7,-158.9 -69.8,-152.6 -70.7,-149.2C-71.7,-145.7 -75.8,-141.3 -78.3,-139.7C-80.8,-138.2 -84.3,-138.2 -85.8,-139.7C-87.4,-141.3 -88.4,-146 -87.7,-149.2Z" fill="#e04530"/>
<path d="M146.4,-43.4C147.3,-45 155.2,-41.9 157.7,-39.7C160.2,-37.5 162.4,-31.8 161.5,-30.2C160.5,-28.7 154.6,-28 152,-30.2C149.5,-32.4 145.4,-41.9 146.4,-43.4Z" fill="#e04530"/>
<path d="M153.2,-37.8C154.1,-38.5 158.5,-37.1 159.6,-35.9C160.7,-34.6 160.5,-31 159.6,-30.2C158.7,-29.5 155,-30.1 153.9,-31.4C152.9,-32.6 152.2,-37 153.2,-37.8Z" fill="#b2142a"/>
<path d="M-83.9,-54.8C-80.2,-59.2 -75.1,-62.9 -68.8,-66.1C-62.6,-69.2 -51.2,-74.9 -46.2,-73.6C-41.2,-72.4 -38.6,-66.1 -38.6,-58.5C-38.6,-51 -41.2,-35.3 -46.2,-28.3C-51.2,-21.4 -62.6,-18.3 -68.8,-17C-75.1,-15.8 -80.2,-17 -83.9,-20.8C-87.7,-24.6 -91.5,-34 -91.5,-39.7C-91.5,-45.3 -87.7,-50.4 -83.9,-54.8Z" fill="#fff"/>
<path d="M-23.5,32.1C-14.7,32.1 13.6,53.5 21.8,62.3C30,71.1 29.3,81.2 25.6,84.9C21.8,88.7 7.3,85.6 -0.9,84.9C-9.1,84.3 -18.5,84.9 -23.5,81.2C-28.6,77.4 -31.1,70.5 -31.1,62.3C-31.1,54.1 -32.3,32.1 -23.5,32.1Z" fill="#fff"/>
<path d="M169,-13.2C170.6,-14.5 174.7,-4.4 176.6,1.9C178.5,8.2 181,19.5 180.4,24.5C179.7,29.6 175,34.6 172.8,32.1C170.6,29.6 167.8,17 167.1,9.4C166.5,1.9 167.5,-12 169,-13.2Z" fill="#fff"/>
<path d="M-144.4,-79.3C-142.5,-81.2 -126.7,-79.3 -121.7,-77.4C-116.7,-75.5 -112.3,-69.9 -114.2,-68C-116,-66.1 -128,-64.2 -133,-66.1C-138.1,-68 -146.2,-77.4 -144.4,-79.3Z" fill="#fff"/>
<path d="M-106.6,47.2C-104.7,47.2 -96.5,57.3 -91.5,62.3C-86.5,67.3 -77.7,74.2 -76.4,77.4C-75.1,80.5 -79.5,83.7 -83.9,81.2C-88.4,78.6 -99.1,67.9 -102.8,62.3C-106.6,56.6 -108.5,47.2 -106.6,47.2Z" fill="#fff"/>
<path d="M-16,-143.5C-9.7,-145.4 11.7,-146 21.8,-145.4C31.8,-144.8 44.4,-141.6 44.4,-139.7C44.4,-137.8 31.8,-135 21.8,-134.1C11.7,-133.1 -9.7,-132.5 -16,-134.1C-22.3,-135.6 -22.3,-141.6 -16,-143.5Z" fill="#fff"/>
<path d="M-46.2,-119C-43.7,-122.1 -34.5,-119 -33,-115.2C-31.4,-111.4 -34.2,-99.4 -36.7,-96.3C-39.3,-93.2 -46.5,-92.5 -48.1,-96.3C-49.6,-100.1 -48.7,-115.8 -46.2,-119Z" fill="#fff"/>
<use href="#grat"/><use href="#ant"/><use href="#grat2"/><use href="#sa"/>
<g fill="#888" stroke="#888" stroke-width="0.35" font-size="31" opacity="0.9"><text x="-19.6" y="-224" textLength="39.5" lengthAdjust="spacingAndGlyphs">0°E</text><text x="-200.5" y="-156.5" textLength="65.5" lengthAdjust="spacingAndGlyphs">45°W</text><text x="140.8" y="-156.5" textLength="54.8" lengthAdjust="spacingAndGlyphs">45°E</text><text x="-269.6" y="12.2" textLength="65.7" lengthAdjust="spacingAndGlyphs">90°W</text><text x="210.7" y="12.2" textLength="53" lengthAdjust="spacingAndGlyphs">90°E</text><text x="30.2" y="53.6" textLength="54" lengthAdjust="spacingAndGlyphs">80°S</text><text x="89" y="96" textLength="53.7" lengthAdjust="spacingAndGlyphs">70°S</text><text x="148.4" y="138.6" textLength="53" lengthAdjust="spacingAndGlyphs">60°S</text><text x="-206.5" y="179.4" textLength="79.3" lengthAdjust="spacingAndGlyphs">135°W</text><text x="134" y="179.4" textLength="67.3" lengthAdjust="spacingAndGlyphs">135°E</text></g>
</g>
<circle r="278.2" fill="none" stroke="#000" stroke-width="3.4"/>
</g>
<g transform="translate(954.2,2070.2)" clip-path="url(#box)">
<g clip-path="url(#clip)">
<circle r="278.2" fill="#ffffff"/>
<path d="M-0.6,-253C12.6,-253.3 34,-252.7 48.5,-251.1C63,-249.5 75.6,-248 86.3,-243.6C97,-239.2 104.5,-232.9 112.7,-224.7C120.9,-216.5 126.5,-205.2 135.4,-194.5C144.2,-183.8 156.8,-171.2 165.6,-160.5C174.4,-149.8 180.7,-142.2 188.2,-130.3C195.8,-118.3 203.9,-100.7 210.9,-88.8C217.8,-76.8 225.7,-68 229.8,-58.5C233.8,-49.1 236,-39.7 235.4,-32.1C234.8,-24.6 228.5,-20.8 226,-13.2C223.5,-5.7 221.6,4.4 220.3,13.2C219.1,22 220,30.2 218.4,39.6C216.9,49.1 215.3,58.5 210.9,69.8C206.5,81.2 198.3,96.9 192,107.6C185.7,118.3 180,126.5 173.1,134C166.2,141.6 158.6,146.6 150.5,152.9C142.3,159.2 131.6,166.1 124,171.8C116.5,177.4 114.6,183.1 105.1,186.9C95.7,190.7 80,193.2 67.4,194.4C54.8,195.7 42.2,195.1 29.6,194.4C17,193.8 4.5,190 -8.1,190.7C-20.7,191.3 -33.3,198.2 -45.9,198.2C-58.5,198.2 -72.9,192.6 -83.6,190.7C-94.3,188.8 -101.9,191.3 -110.1,186.9C-118.3,182.5 -125.2,173 -132.7,164.2C-140.3,155.4 -150.4,144.7 -155.4,134C-160.4,123.3 -159.8,112 -162.9,100C-166.1,88.1 -171.1,73 -174.3,62.3C-177.4,51.6 -181.2,45.9 -181.8,35.9C-182.4,25.8 -177.4,13.8 -178,1.9C-178.7,-10.1 -183.7,-23.3 -185.6,-35.9C-187.5,-48.5 -188.1,-64.2 -189.4,-73.6C-190.6,-83.1 -194.4,-85 -193.1,-92.5C-191.9,-100.1 -185.6,-110.1 -181.8,-119C-178,-127.8 -176.2,-137.2 -170.5,-145.4C-164.8,-153.6 -154.8,-159.9 -147.8,-168C-140.9,-176.2 -133.4,-185.7 -129,-194.5C-124.6,-203.3 -126.4,-215.2 -121.4,-220.9C-116.4,-226.6 -108.2,-225.9 -98.8,-228.5C-89.3,-231 -76.1,-232.5 -64.8,-236C-53.4,-239.5 -41.5,-246.4 -30.8,-249.2C-20.1,-252.1 -13.8,-252.7 -0.6,-253Z" fill="#ffffc2"/>
<path d="M-185.6,-88.8C-183.7,-100.1 -178.7,-115.2 -174.3,-126.5C-169.9,-137.8 -164.2,-146.6 -159.2,-156.7C-154.1,-166.8 -149.1,-176.9 -144.1,-186.9C-139,-197 -136.5,-209.9 -129,-217.1C-121.4,-224.4 -109.4,-226.6 -98.8,-230.3C-88.1,-234.1 -76.1,-236.3 -64.8,-239.8C-53.4,-243.2 -42.7,-248.6 -30.8,-251.1C-18.8,-253.6 -1.2,-258 7,-254.9C15.2,-251.7 17.7,-239.8 18.3,-232.2C18.9,-224.7 13.3,-217.1 10.8,-209.6C8.2,-202 2.6,-195.1 3.2,-186.9C3.8,-178.7 13.9,-168 14.5,-160.5C15.2,-152.9 12,-145.4 7,-141.6C1.9,-137.8 -9.4,-140.4 -15.7,-137.8C-22,-135.3 -25.8,-130.9 -30.8,-126.5C-35.8,-122.1 -42.1,-117.7 -45.9,-111.4C-49.7,-105.1 -49.7,-95 -53.4,-88.8C-57.2,-82.5 -62.3,-73.6 -68.5,-73.6C-74.8,-73.6 -83.6,-83.7 -91.2,-88.8C-98.8,-93.8 -107.6,-103.9 -113.9,-103.9C-120.1,-103.9 -123.9,-93.8 -129,-88.8C-134,-83.7 -144.1,-82.5 -144.1,-73.6C-144.1,-64.8 -132.7,-46.6 -129,-35.9C-125.2,-25.2 -120.1,-15.8 -121.4,-9.5C-122.7,-3.2 -130.2,1.2 -136.5,1.9C-142.8,2.5 -152.2,-0.6 -159.2,-5.7C-166.1,-10.7 -173.6,-19.5 -178,-28.3C-182.4,-37.1 -184.3,-48.5 -185.6,-58.5C-186.9,-68.6 -187.5,-77.4 -185.6,-88.8Z" fill="#e2f5f7"/>
<path d="M150.5,-88.8C154.2,-95 165.6,-101.3 173.1,-103.9C180.7,-106.4 188.8,-107.6 195.8,-103.9C202.7,-100.1 209,-90 214.6,-81.2C220.3,-72.4 226.6,-61.1 229.8,-51C232.9,-40.9 234.2,-30.9 233.5,-20.8C232.9,-10.7 228.5,-0.6 226,9.4C223.5,19.5 220.9,30.8 218.4,39.6C215.9,48.4 215.3,57.3 210.9,62.3C206.5,67.3 197.7,71.1 192,69.8C186.3,68.6 180,62.3 176.9,54.7C173.7,47.2 174.4,35.9 173.1,24.5C171.9,13.2 171.2,-1.9 169.3,-13.2C167.4,-24.6 164.9,-34.6 161.8,-43.4C158.6,-52.3 152.3,-58.5 150.5,-66.1C148.6,-73.6 146.7,-82.5 150.5,-88.8Z" fill="#e2f5f7"/>
<path d="M-178,1.9C-174.3,-3.2 -158.5,0.6 -151.6,1.9C-144.7,3.1 -137.8,4.4 -136.5,9.4C-135.3,14.5 -140.3,27 -144.1,32.1C-147.8,37.1 -154.1,39.6 -159.2,39.6C-164.2,39.6 -171.1,38.4 -174.3,32.1C-177.4,25.8 -181.8,6.9 -178,1.9Z" fill="#e2f5f7"/>
<path d="M-98.8,77.4C-94.3,76.8 -84.9,82.4 -76.1,84.9C-67.3,87.5 -53.4,88.7 -45.9,92.5C-38.3,96.3 -33.9,100 -30.8,107.6C-27.6,115.1 -24.5,133.4 -27,137.8C-29.5,142.2 -39,137.2 -45.9,134C-52.8,130.9 -61.6,124.6 -68.5,118.9C-75.5,113.3 -81.8,105.1 -87.4,100C-93.1,95 -100.6,92.5 -102.5,88.7C-104.4,84.9 -103.2,78 -98.8,77.4Z" fill="#e2f5f7"/>
<path d="M29.6,145.4C32.1,140.9 43.5,139.7 52.3,137.8C61.1,135.9 73.7,135.3 82.5,134C91.3,132.8 98.2,129.6 105.1,130.3C112.1,130.9 122.1,132.8 124,137.8C125.9,142.8 120.9,153.5 116.5,160.5C112.1,167.4 105.8,174.3 97.6,179.3C89.4,184.4 76.2,190 67.4,190.7C58.6,191.3 49.8,187.5 44.7,183.1C39.7,178.7 39.7,170.5 37.2,164.2C34.7,157.9 27.1,149.8 29.6,145.4Z" fill="#e2f5f7"/>
<path d="M161.8,-141.6C164.9,-143.5 175.6,-139.1 180.7,-134.1C185.7,-129 192.6,-115.8 192,-111.4C191.4,-107 181.9,-105.7 176.9,-107.6C171.9,-109.5 164.3,-117.1 161.8,-122.7C159.3,-128.4 158.6,-139.7 161.8,-141.6Z" fill="#e2f5f7"/>
<path d="M-174.3,-126.5C-173,-135.3 -164.2,-146.6 -159.2,-156.7C-154.1,-166.8 -149.1,-176.9 -144.1,-186.9C-139,-197 -136.5,-210.2 -129,-217.1C-121.4,-224.1 -109.4,-225.3 -98.8,-228.5C-88.1,-231.6 -74.8,-235.4 -64.8,-236C-54.7,-236.6 -46.5,-235.4 -38.3,-232.2C-30.2,-229.1 -18.2,-221.5 -15.7,-217.1C-13.2,-212.7 -16.9,-207.7 -23.2,-205.8C-29.5,-203.9 -44.6,-207.1 -53.4,-205.8C-62.3,-204.5 -69.8,-202 -76.1,-198.3C-82.4,-194.5 -88.1,-189.4 -91.2,-183.1C-94.3,-176.9 -96.2,-167.4 -95,-160.5C-93.7,-153.6 -84.3,-147.3 -83.6,-141.6C-83,-135.9 -86.2,-129.7 -91.2,-126.5C-96.2,-123.4 -106.3,-124 -113.9,-122.7C-121.4,-121.5 -130.2,-122.1 -136.5,-119C-142.8,-115.8 -146.6,-106.4 -151.6,-103.9C-156.6,-101.3 -162.9,-100.1 -166.7,-103.9C-170.5,-107.6 -175.5,-117.7 -174.3,-126.5Z" fill="#b1deee"/>
<path d="M-45.9,-149.2C-40.9,-152.9 -31.4,-156.1 -23.2,-156.7C-15.1,-157.3 -2.5,-155.5 3.2,-152.9C8.9,-150.4 12.6,-144.1 10.8,-141.6C8.9,-139.1 -1.2,-139.7 -8.1,-137.8C-15.1,-135.9 -24.5,-133.4 -30.8,-130.3C-37.1,-127.1 -42.1,-118.3 -45.9,-119C-49.7,-119.6 -53.4,-129 -53.4,-134.1C-53.4,-139.1 -50.9,-145.4 -45.9,-149.2Z" fill="#b1deee"/>
<path d="M-181.8,-73.6C-179.9,-80.6 -172.4,-85 -166.7,-85C-161.1,-85 -153.5,-79.3 -147.8,-73.6C-142.2,-68 -137.1,-58.5 -132.7,-51C-128.3,-43.4 -122.7,-35.3 -121.4,-28.3C-120.1,-21.4 -121.4,-12.6 -125.2,-9.5C-129,-6.3 -137.8,-6.9 -144.1,-9.5C-150.4,-12 -157.3,-18.9 -162.9,-24.6C-168.6,-30.2 -174.9,-35.3 -178,-43.4C-181.2,-51.6 -183.7,-66.7 -181.8,-73.6Z" fill="#b1deee"/>
<path d="M154.2,-81.2C156.1,-88.8 170,-89.4 176.9,-88.8C183.8,-88.1 190.1,-83.7 195.8,-77.4C201.4,-71.1 207.1,-60.4 210.9,-51C214.6,-41.6 217.8,-30.9 218.4,-20.8C219.1,-10.7 216.5,-0.6 214.6,9.4C212.8,19.5 210.2,31.4 207.1,39.6C203.9,47.8 200.2,57.3 195.8,58.5C191.4,59.8 183.8,54.1 180.7,47.2C177.5,40.3 178.1,27 176.9,17C175.6,6.9 175,-3.2 173.1,-13.2C171.2,-23.3 168.7,-32.1 165.6,-43.4C162.4,-54.8 152.3,-73.6 154.2,-81.2Z" fill="#b1deee"/>
<path d="M-79.9,92.5C-78,88.1 -61,87.5 -53.4,88.7C-45.9,90 -38.3,93.8 -34.6,100C-30.8,106.3 -28.9,122.1 -30.8,126.5C-32.7,130.9 -40.2,128.4 -45.9,126.5C-51.6,124.6 -59.1,120.8 -64.8,115.1C-70.4,109.5 -81.8,96.9 -79.9,92.5Z" fill="#b1deee"/>
<path d="M44.7,149.1C47.9,144.1 59.8,139.7 67.4,137.8C74.9,135.9 84.4,135.9 90,137.8C95.7,139.7 101.4,144.1 101.4,149.1C101.4,154.2 95.7,163.6 90,168C84.4,172.4 74.3,175.6 67.4,175.6C60.5,175.6 52.3,172.4 48.5,168C44.7,163.6 41.6,154.2 44.7,149.1Z" fill="#b1deee"/>
<path d="M-64.8,-175.6C-64.8,-181.3 -58.5,-187.9 -53.4,-190.7C-48.4,-193.5 -40.2,-194.5 -34.6,-192.6C-28.9,-190.7 -22,-184.7 -19.5,-179.4C-16.9,-174 -16.9,-164.9 -19.5,-160.5C-22,-156.1 -28.9,-153.6 -34.6,-152.9C-40.2,-152.3 -48.4,-152.9 -53.4,-156.7C-58.5,-160.5 -64.8,-169.9 -64.8,-175.6Z" fill="#fee294"/>
<path d="M44.7,-164.3C46.6,-169.3 53.5,-176.2 59.8,-179.4C66.1,-182.5 74.9,-184.4 82.5,-183.1C90,-181.9 97.6,-176.2 105.1,-171.8C112.7,-167.4 120.3,-162.4 127.8,-156.7C135.4,-151.1 144.2,-144.1 150.5,-137.8C156.8,-131.5 163.7,-125.3 165.6,-119C167.4,-112.7 165.6,-102.6 161.8,-100.1C158,-97.6 149.8,-101.3 142.9,-103.9C136,-106.4 127.8,-110.8 120.3,-115.2C112.7,-119.6 106.4,-125.3 97.6,-130.3C88.8,-135.3 75.6,-142.2 67.4,-145.4C59.2,-148.5 52.3,-146 48.5,-149.2C44.7,-152.3 42.8,-159.2 44.7,-164.3Z" fill="#fee294"/>
<path d="M67.4,-205.8C68.6,-208.9 82.5,-213.4 90,-213.4C97.6,-213.4 110.2,-208.9 112.7,-205.8C115.2,-202.7 110.2,-196.4 105.1,-194.5C100.1,-192.6 88.8,-192.6 82.5,-194.5C76.2,-196.4 66.1,-202.7 67.4,-205.8Z" fill="#fee294"/>
<path d="M48.5,-243.6C50.4,-245.1 60.5,-246.4 63.6,-245.4C66.8,-244.5 69.3,-239.5 67.4,-237.9C65.5,-236.3 55.4,-235.1 52.3,-236C49.1,-237 46.6,-242 48.5,-243.6Z" fill="#fee294"/>
<path d="M-110.1,-103.9C-109.4,-107 -98.8,-112 -95,-111.4C-91.2,-110.8 -86.8,-103.2 -87.4,-100.1C-88.1,-96.9 -95,-91.9 -98.8,-92.5C-102.5,-93.2 -110.7,-100.7 -110.1,-103.9Z" fill="#fee294"/>
<path d="M-102.5,-66.1C-101.3,-68.6 -90.6,-71.1 -87.4,-69.9C-84.3,-68.6 -82.4,-61.1 -83.6,-58.5C-84.9,-56 -91.8,-53.5 -95,-54.8C-98.1,-56 -103.8,-63.6 -102.5,-66.1Z" fill="#fee294"/>
<path d="M-162.9,54.7C-161.4,48.4 -156,43.4 -151.6,39.6C-147.2,35.9 -140.3,37.1 -136.5,32.1C-132.7,27 -131.5,12.6 -129,9.4C-126.4,6.3 -123.3,8.2 -121.4,13.2C-119.5,18.2 -117.6,31.4 -117.6,39.6C-117.6,47.8 -120.1,53.5 -121.4,62.3C-122.7,71.1 -126.4,83.7 -125.2,92.5C-123.9,101.3 -118.3,107.6 -113.9,115.1C-109.4,122.7 -103.8,131.5 -98.8,137.8C-93.7,144.1 -89.9,147.9 -83.6,152.9C-77.4,157.9 -68.5,163.6 -61,168C-53.4,172.4 -40.9,175.6 -38.3,179.3C-35.8,183.1 -39.6,189.1 -45.9,190.7C-52.2,192.2 -66,190.7 -76.1,188.8C-86.2,186.9 -97.5,184.1 -106.3,179.3C-115.1,174.6 -122.7,168 -129,160.5C-135.3,152.9 -139.7,144.1 -144.1,134C-148.5,124 -152.6,109.5 -155.4,100C-158.2,90.6 -159.8,84.9 -161.1,77.4C-162.3,69.8 -164.5,61 -162.9,54.7Z" fill="#fee294"/>
<path d="M-27,92.5C-25.1,89.3 -15.7,86.8 -11.9,88.7C-8.1,90.6 -4.4,99.4 -4.4,103.8C-4.4,108.2 -8.8,114.5 -11.9,115.1C-15.1,115.8 -20.7,111.4 -23.2,107.6C-25.8,103.8 -28.9,95.6 -27,92.5Z" fill="#fee294"/>
<path d="M-0.6,134C1.9,131.5 10.8,128.4 14.5,130.3C18.3,132.1 22.7,141.6 22.1,145.4C21.4,149.1 14.5,152.9 10.8,152.9C7,152.9 1.3,148.5 -0.6,145.4C-2.5,142.2 -3.1,136.5 -0.6,134Z" fill="#fee294"/>
<path d="M-162.9,-141.6C-161.7,-149.2 -152.9,-161.8 -147.8,-171.8C-142.8,-181.9 -138.4,-194.5 -132.7,-202C-127.1,-209.6 -122,-214 -113.9,-217.1C-105.7,-220.3 -91.2,-221.5 -83.6,-220.9C-76.1,-220.3 -68.5,-216.5 -68.5,-213.4C-68.5,-210.2 -78.6,-206.4 -83.6,-202C-88.7,-197.6 -95.6,-193.2 -98.8,-186.9C-101.9,-180.6 -102.5,-171.2 -102.5,-164.3C-102.5,-157.3 -96.9,-150.4 -98.8,-145.4C-100.6,-140.4 -107.6,-137.2 -113.9,-134.1C-120.1,-130.9 -129.6,-127.8 -136.5,-126.5C-143.4,-125.3 -151,-124 -155.4,-126.5C-159.8,-129 -164.2,-134.1 -162.9,-141.6Z" fill="#7fb5da"/>
<path d="M-38.3,-149.2C-37.1,-151.7 -24.5,-153.6 -19.5,-152.9C-14.4,-152.3 -6.9,-147.9 -8.1,-145.4C-9.4,-142.9 -22,-137.2 -27,-137.8C-32,-138.5 -39.6,-146.6 -38.3,-149.2Z" fill="#7fb5da"/>
<path d="M-178,-66.1C-176.2,-71.1 -168,-78.1 -162.9,-77.4C-157.9,-76.8 -152.2,-68.6 -147.8,-62.3C-143.4,-56 -140.3,-46.6 -136.5,-39.7C-132.7,-32.7 -124.6,-24.6 -125.2,-20.8C-125.8,-17 -134.6,-15.8 -140.3,-17C-145.9,-18.3 -153.5,-23.3 -159.2,-28.3C-164.8,-33.4 -171.1,-40.9 -174.3,-47.2C-177.4,-53.5 -179.9,-61.1 -178,-66.1Z" fill="#7fb5da"/>
<path d="M158,-66.1C158,-73.6 167.4,-74.3 173.1,-73.6C178.8,-73 186.3,-68.6 192,-62.3C197.7,-56 203.6,-45.3 207.1,-35.9C210.6,-26.4 212.4,-15.8 212.8,-5.7C213.1,4.4 211.8,17 209,24.5C206.2,32.1 199.9,39 195.8,39.6C191.7,40.3 187,34.6 184.4,28.3C181.9,22 182.6,11.3 180.7,1.9C178.8,-7.6 176.9,-17 173.1,-28.3C169.3,-39.7 158,-58.5 158,-66.1Z" fill="#7fb5da"/>
<path d="M52.3,152.9C54.8,149.8 65.5,146.3 71.2,145.4C76.8,144.4 83.8,145.4 86.3,147.2C88.8,149.1 88.8,153.5 86.3,156.7C83.8,159.8 76.2,164.9 71.2,166.1C66.1,167.4 59.2,166.4 56.1,164.2C52.9,162 49.8,156.1 52.3,152.9Z" fill="#7fb5da"/>
<path d="M-49.7,-171.8C-48.1,-174 -41.8,-177.8 -38.3,-177.5C-34.9,-177.2 -29.2,-172.4 -28.9,-169.9C-28.6,-167.4 -33.3,-163.3 -36.4,-162.4C-39.6,-161.4 -45.6,-162.7 -47.8,-164.3C-50,-165.8 -51.2,-169.6 -49.7,-171.8Z" fill="#fdb366"/>
<path d="M63.6,-168C64.9,-170.6 72.4,-173.1 74.9,-171.8C77.5,-170.6 80,-163 78.7,-160.5C77.5,-158 69.9,-155.5 67.4,-156.7C64.9,-158 62.4,-165.5 63.6,-168Z" fill="#fdb366"/>
<path d="M105.1,-149.2C107.3,-151.4 115.8,-152.9 120.3,-151.1C124.7,-149.2 131.6,-141.3 131.6,-137.8C131.6,-134.4 124.3,-130.3 120.3,-130.3C116.2,-130.3 109.6,-134.7 107,-137.8C104.5,-141 102.9,-147 105.1,-149.2Z" fill="#fdb366"/>
<path d="M-159.2,62.3C-157.6,56.6 -151.6,48.4 -147.8,47.2C-144.1,45.9 -139,49.7 -136.5,54.7C-134,59.8 -133.4,69.8 -132.7,77.4C-132.1,84.9 -134,92.5 -132.7,100C-131.5,107.6 -128.3,115.8 -125.2,122.7C-122,129.6 -117.6,135.3 -113.9,141.6C-110.1,147.9 -102.5,156.1 -102.5,160.5C-102.5,164.9 -109.4,169.3 -113.9,168C-118.3,166.8 -124.6,159.8 -129,152.9C-133.4,146 -136.5,135.3 -140.3,126.5C-144.1,117.7 -148.8,107.6 -151.6,100C-154.4,92.5 -156,87.5 -157.3,81.2C-158.5,74.9 -160.7,67.9 -159.2,62.3Z" fill="#fdb366"/>
<path d="M-83.6,175.6C-80.5,174.9 -69.8,177.4 -64.8,179.3C-59.7,181.2 -52.8,185.3 -53.4,186.9C-54.1,188.5 -63.5,189.4 -68.5,188.8C-73.6,188.1 -81.1,185.3 -83.6,183.1C-86.2,180.9 -86.8,176.2 -83.6,175.6Z" fill="#fdb366"/>
<path d="M-159.2,-141.6C-157.3,-148.5 -149.1,-162.4 -144.1,-171.8C-139,-181.3 -134,-192 -129,-198.3C-123.9,-204.5 -118.9,-208.3 -113.9,-209.6C-108.8,-210.8 -100.6,-209.6 -98.8,-205.8C-96.9,-202 -100.6,-193.8 -102.5,-186.9C-104.4,-180 -109.4,-170.6 -110.1,-164.3C-110.7,-158 -104.4,-153.6 -106.3,-149.2C-108.2,-144.8 -115.7,-141 -121.4,-137.8C-127.1,-134.7 -134.6,-131.5 -140.3,-130.3C-145.9,-129 -152.2,-128.4 -155.4,-130.3C-158.5,-132.2 -161.1,-134.7 -159.2,-141.6Z" fill="#4a7bb7"/>
<path d="M-174.3,-66.1C-174,-71.1 -165.5,-75.5 -161.1,-73.6C-156.6,-71.8 -151.9,-61.1 -147.8,-54.8C-143.7,-48.5 -139,-40.9 -136.5,-35.9C-134,-30.9 -130.8,-25.8 -132.7,-24.6C-134.6,-23.3 -142.8,-25.2 -147.8,-28.3C-152.9,-31.5 -158.5,-37.1 -162.9,-43.4C-167.3,-49.7 -174.6,-61.1 -174.3,-66.1Z" fill="#4a7bb7"/>
<path d="M161.8,-58.5C161.8,-63.6 168.7,-63.6 173.1,-62.3C177.5,-61.1 183.2,-56.7 188.2,-51C193.3,-45.3 199.9,-36.5 203.3,-28.3C206.8,-20.2 208.7,-10.1 209,-1.9C209.3,6.3 207.7,15.1 205.2,20.8C202.7,26.4 196.7,33.3 193.9,32.1C191,30.8 189.8,20.1 188.2,13.2C186.6,6.3 187,-1.9 184.4,-9.5C181.9,-17 176.9,-23.9 173.1,-32.1C169.3,-40.3 161.8,-53.5 161.8,-58.5Z" fill="#4a7bb7"/>
<path d="M63.6,156.7C64.2,154.5 75.3,149.8 78.7,149.1C82.2,148.5 85,150.7 84.4,152.9C83.8,155.1 78.4,161.7 74.9,162.3C71.5,163 63,158.9 63.6,156.7Z" fill="#4a7bb7"/>
<path d="M-153.5,77.4C-152.9,73.6 -146.9,71.7 -144.1,73.6C-141.2,75.5 -137.5,83.7 -136.5,88.7C-135.6,93.8 -136.5,102.6 -138.4,103.8C-140.3,105.1 -145.3,100.7 -147.8,96.3C-150.4,91.9 -154.1,81.2 -153.5,77.4Z" fill="#f67d4a"/>
<path d="M-155.4,-145.4C-155.4,-151.1 -148.5,-160.5 -144.1,-168C-139.7,-175.6 -134,-184.4 -129,-190.7C-123.9,-197 -117.9,-203.9 -113.9,-205.8C-109.8,-207.7 -105,-206.4 -104.4,-202C-103.8,-197.6 -107.2,-186.3 -110.1,-179.4C-112.9,-172.4 -118.3,-166.8 -121.4,-160.5C-124.6,-154.2 -125.2,-146 -129,-141.6C-132.7,-137.2 -139.7,-133.4 -144.1,-134.1C-148.5,-134.7 -155.4,-139.7 -155.4,-145.4Z" fill="#3a4ea3"/>
<path d="M-170.5,-64.2C-169.9,-67.7 -162.9,-70.2 -159.2,-68C-155.4,-65.8 -151,-56.3 -147.8,-51C-144.7,-45.6 -139.7,-38.4 -140.3,-35.9C-140.9,-33.4 -147.8,-34 -151.6,-35.9C-155.4,-37.8 -159.8,-42.5 -162.9,-47.2C-166.1,-51.9 -171.1,-60.7 -170.5,-64.2Z" fill="#3a4ea3"/>
<path d="M165.6,-51C166.8,-54.1 173.1,-56.7 176.9,-54.8C180.7,-52.9 184.4,-45.3 188.2,-39.7C192,-34 196.7,-27.7 199.5,-20.8C202.4,-13.9 204.9,-5.1 205.2,1.9C205.5,8.8 203.3,17 201.4,20.8C199.5,24.5 195.8,27.7 193.9,24.5C192,21.4 192.3,9.4 190.1,1.9C187.9,-5.7 184.1,-14.5 180.7,-20.8C177.2,-27.1 171.9,-30.9 169.3,-35.9C166.8,-40.9 164.3,-47.8 165.6,-51Z" fill="#3a4ea3"/>
<path d="M-83.6,-54.8C-79.9,-59.2 -74.8,-62.9 -68.5,-66.1C-62.3,-69.2 -50.9,-74.9 -45.9,-73.6C-40.9,-72.4 -38.3,-66.1 -38.3,-58.5C-38.3,-51 -40.9,-35.3 -45.9,-28.3C-50.9,-21.4 -62.3,-18.3 -68.5,-17C-74.8,-15.8 -79.9,-17 -83.6,-20.8C-87.4,-24.6 -91.2,-34 -91.2,-39.7C-91.2,-45.3 -87.4,-50.4 -83.6,-54.8Z" fill="#fff"/>
<path d="M-23.2,32.1C-14.4,32.1 13.9,53.5 22.1,62.3C30.3,71.1 29.6,81.2 25.9,84.9C22.1,88.7 7.6,85.6 -0.6,84.9C-8.8,84.3 -18.2,84.9 -23.2,81.2C-28.3,77.4 -30.8,70.5 -30.8,62.3C-30.8,54.1 -32,32.1 -23.2,32.1Z" fill="#fff"/>
<path d="M-102.5,51C-100.3,51.3 -91.8,61.7 -87.4,66.1C-83,70.5 -76.7,74.9 -76.1,77.4C-75.5,79.9 -79.6,83.4 -83.6,81.2C-87.7,79 -97.5,69.2 -100.6,64.2C-103.8,59.1 -104.7,50.6 -102.5,51Z" fill="#fff"/>
<path d="M-23.2,-141.6C-17.6,-143.4 3.2,-144.9 14.5,-144.6C25.9,-144.3 43.5,-141.4 44.7,-139.7C46,-138.1 32.8,-135.8 22.1,-134.8C11.4,-133.9 -11.9,-132.9 -19.5,-134.1C-27,-135.2 -28.9,-139.9 -23.2,-141.6Z" fill="#fff"/>
<path d="M146.7,-43.4C148.9,-42.8 158.3,-34.6 161.8,-28.3C165.2,-22 167.8,-8.8 167.4,-5.7C167.1,-2.5 163,-5.1 159.9,-9.5C156.8,-13.9 150.8,-26.4 148.6,-32.1C146.4,-37.8 144.5,-44.1 146.7,-43.4Z" fill="#fff"/>
<path d="M-147.8,-77.4C-147.2,-79.6 -134.6,-79 -129,-77.4C-123.3,-75.8 -113.2,-70.2 -113.9,-68C-114.5,-65.8 -127.1,-62.6 -132.7,-64.2C-138.4,-65.8 -148.5,-75.2 -147.8,-77.4Z" fill="#fff"/>
<use href="#grat"/><use href="#ant"/><use href="#grat2"/><use href="#sa"/>
<g fill="#888" stroke="#888" stroke-width="0.35" font-size="31" opacity="0.9"><text x="-19.6" y="-224" textLength="39.5" lengthAdjust="spacingAndGlyphs">0°E</text><text x="-200.5" y="-156.5" textLength="65.5" lengthAdjust="spacingAndGlyphs">45°W</text><text x="140.8" y="-156.5" textLength="54.8" lengthAdjust="spacingAndGlyphs">45°E</text><text x="-269.6" y="12.2" textLength="65.7" lengthAdjust="spacingAndGlyphs">90°W</text><text x="210.7" y="12.2" textLength="53" lengthAdjust="spacingAndGlyphs">90°E</text><text x="30.2" y="53.6" textLength="54" lengthAdjust="spacingAndGlyphs">80°S</text><text x="89" y="96" textLength="53.7" lengthAdjust="spacingAndGlyphs">70°S</text><text x="148.4" y="138.6" textLength="53" lengthAdjust="spacingAndGlyphs">60°S</text><text x="-206.5" y="179.4" textLength="79.3" lengthAdjust="spacingAndGlyphs">135°W</text><text x="134" y="179.4" textLength="67.3" lengthAdjust="spacingAndGlyphs">135°E</text></g>
</g>
<circle r="278.2" fill="none" stroke="#000" stroke-width="3.4"/>
</g>
<g transform="translate(1522.2,2070.2)" clip-path="url(#box)">
<g clip-path="url(#clip)">
<circle r="278.2" fill="#ffffff"/>
<path d="M-0.7,-253C12.5,-253.3 33.9,-252.7 48.4,-251.1C62.9,-249.5 75.5,-248 86.2,-243.6C96.9,-239.2 104.4,-232.9 112.6,-224.7C120.8,-216.5 126.4,-205.2 135.3,-194.5C144.1,-183.8 156.7,-171.2 165.5,-160.5C174.3,-149.8 180.6,-142.2 188.1,-130.3C195.7,-118.3 203.8,-100.7 210.8,-88.8C217.7,-76.8 225.6,-68 229.7,-58.5C233.7,-49.1 235.9,-39.7 235.3,-32.1C234.7,-24.6 228.4,-20.8 225.9,-13.2C223.4,-5.7 221.5,4.4 220.2,13.2C219,22 219.9,30.2 218.3,39.6C216.8,49.1 215.2,58.5 210.8,69.8C206.4,81.2 198.2,96.9 191.9,107.6C185.6,118.3 179.9,126.5 173,134C166.1,141.6 158.5,146.6 150.4,152.9C142.2,159.2 131.5,166.1 123.9,171.8C116.4,177.4 114.5,183.1 105,186.9C95.6,190.7 79.9,193.2 67.3,194.4C54.7,195.7 42.1,195.1 29.5,194.4C16.9,193.8 4.4,190 -8.2,190.7C-20.8,191.3 -33.4,198.2 -46,198.2C-58.6,198.2 -73,192.6 -83.7,190.7C-94.4,188.8 -102,191.3 -110.2,186.9C-118.4,182.5 -125.3,173 -132.8,164.2C-140.4,155.4 -150.5,144.7 -155.5,134C-160.5,123.3 -159.9,112 -163,100C-166.2,88.1 -171.2,73 -174.4,62.3C-177.5,51.6 -181.3,45.9 -181.9,35.9C-182.5,25.8 -177.5,13.8 -178.1,1.9C-178.8,-10.1 -183.8,-23.3 -185.7,-35.9C-187.6,-48.5 -188.2,-64.2 -189.5,-73.6C-190.7,-83.1 -194.5,-85 -193.2,-92.5C-192,-100.1 -185.7,-110.1 -181.9,-119C-178.1,-127.8 -176.3,-137.2 -170.6,-145.4C-164.9,-153.6 -154.9,-159.9 -147.9,-168C-141,-176.2 -133.5,-185.7 -129.1,-194.5C-124.7,-203.3 -126.5,-215.2 -121.5,-220.9C-116.5,-226.6 -108.3,-225.9 -98.9,-228.5C-89.4,-231 -76.2,-232.5 -64.9,-236C-53.5,-239.5 -41.6,-246.4 -30.9,-249.2C-20.2,-252.1 -13.9,-252.7 -0.7,-253Z" fill="#ffffc2"/>
<path d="M3.2,-251.9C-2.5,-263.8 -19.5,-249 -30.8,-246.2C-42.1,-243.4 -52.8,-238 -64.8,-234.9C-76.7,-231.7 -92.1,-229.9 -102.5,-227.3C-112.9,-224.8 -122.7,-224.2 -127.1,-219.8C-131.5,-215.4 -126.1,-207.2 -129,-200.9C-131.8,-194.6 -139,-188.9 -144.1,-182C-149.1,-175.1 -157.9,-165 -159.2,-159.4C-160.4,-153.7 -154.8,-148.7 -151.6,-148C-148.5,-147.4 -145.3,-153.7 -140.3,-155.6C-135.3,-157.5 -125.8,-160.6 -121.4,-159.4C-117,-158.1 -117,-150.6 -113.9,-148C-110.7,-145.5 -107.6,-144.3 -102.5,-144.3C-97.5,-144.3 -89.9,-146.8 -83.6,-148C-77.4,-149.3 -71.1,-149.3 -64.8,-151.8C-58.5,-154.3 -52.2,-160 -45.9,-163.1C-39.6,-166.3 -35.2,-168.8 -27,-170.7C-18.8,-172.6 -1.8,-160.9 3.2,-174.5C8.2,-188 8.9,-239.9 3.2,-251.9Z" fill="#e2f5f7" clip-path="url(#qnw)"/>
<path d="M-155.4,-140.5C-152.2,-145.5 -145.9,-147.4 -140.3,-148C-134.6,-148.7 -127.7,-146.8 -121.4,-144.3C-115.1,-141.8 -108.8,-135.5 -102.5,-132.9C-96.2,-130.4 -89.9,-130.4 -83.6,-129.2C-77.4,-127.9 -71.1,-125.4 -64.8,-125.4C-58.5,-125.4 -50.9,-130.4 -45.9,-129.2C-40.9,-127.9 -35.8,-122.2 -34.6,-117.8C-33.3,-113.4 -35.8,-105.9 -38.3,-102.7C-40.9,-99.6 -45.3,-99 -49.7,-99C-54.1,-99 -59.7,-100.8 -64.8,-102.7C-69.8,-104.6 -73.6,-108.4 -79.9,-110.3C-86.2,-112.2 -95.6,-112.8 -102.5,-114.1C-109.4,-115.3 -115.1,-118.5 -121.4,-117.8C-127.7,-117.2 -135.9,-113.4 -140.3,-110.3C-144.7,-107.1 -145.3,-102.1 -147.8,-99C-150.4,-95.8 -152.9,-91.4 -155.4,-91.4C-157.9,-91.4 -162.3,-94.6 -162.9,-99C-163.6,-103.4 -160.4,-110.9 -159.2,-117.8C-157.9,-124.8 -158.5,-135.5 -155.4,-140.5Z" fill="#e2f5f7" clip-path="url(#qnw)"/>
<path d="M-96.9,-83.9C-94.7,-87 -87.7,-88.3 -83.6,-87.6C-79.6,-87 -73.6,-83.2 -72.3,-80.1C-71.1,-76.9 -73.6,-72.5 -76.1,-68.8C-78.6,-65 -84,-57.4 -87.4,-57.4C-90.9,-57.4 -95.3,-64.3 -96.9,-68.8C-98.4,-73.2 -99.1,-80.7 -96.9,-83.9Z" fill="#e2f5f7" clip-path="url(#qnw)"/>
<path d="M-26,-259.4C-19.1,-278 2.3,-260.7 15.6,-259.4C28.8,-258.2 42,-254.7 53.3,-251.9C64.6,-249 74.1,-247.2 83.5,-242.4C93,-237.7 102.4,-230.5 110,-223.6C117.5,-216.6 122.5,-209.1 128.8,-200.9C135.1,-192.7 140.8,-182.7 147.7,-174.5C154.6,-166.3 163.4,-159.4 170.4,-151.8C177.3,-144.3 183.6,-137.3 189.2,-129.2C194.9,-121 199.9,-111.5 204.4,-102.7C208.8,-93.9 211.6,-84.5 215.7,-76.3C219.8,-68.1 226.1,-61.5 228.9,-53.6C231.7,-45.8 233,-37 232.7,-29.1C232.4,-21.2 228.9,-14.9 227,-6.4C225.1,2 230.5,17.2 221.3,21.9C212.2,26.6 180.8,26.6 172.3,21.9C163.8,17.2 172.6,3 170.4,-6.4C168.2,-15.9 162.8,-28.5 159,-34.8C155.3,-41.1 149,-37.9 147.7,-44.2C146.5,-50.5 152.1,-64.7 151.5,-72.5C150.9,-80.4 147.1,-85.1 143.9,-91.4C140.8,-97.7 138.3,-104.6 132.6,-110.3C126.9,-115.9 118.1,-119.7 110,-125.4C101.8,-131.1 93,-140.5 83.5,-144.3C74.1,-148 64.6,-147.4 53.3,-148C42,-148.7 28.8,-148 15.6,-148C2.3,-148 -19.1,-129.5 -26,-148C-32.9,-166.6 -32.9,-240.9 -26,-259.4Z" fill="#e2f5f7" clip-path="url(#qne)"/>
<path d="M172.3,-24C178.9,-27.8 209.7,-30.9 213.8,-24C217.9,-17.1 200.3,6.9 196.8,17.6C193.3,28.3 194.9,32.7 193,40.2C191.1,47.8 188.6,57.2 185.5,62.9C182.3,68.5 177,74.2 174.1,74.2C171.3,74.2 169.1,69.2 168.5,62.9C167.9,56.6 169.4,44 170.4,36.4C171.3,28.9 173.5,23.9 174.1,17.6C174.8,11.3 174.5,5.6 174.1,-1.3C173.8,-8.2 165.7,-20.2 172.3,-24Z" fill="#e2f5f7" clip-path="url(#qse)"/>
<path d="M177.9,78C181.7,73.6 185.5,71.7 185.5,74.2C185.5,76.7 181.1,87.4 177.9,93.1C174.8,98.7 170.4,103.1 166.6,108.2C162.8,113.2 159,118.9 155.3,123.3C151.5,127.7 148.3,130.2 143.9,134.6C139.5,139 132.6,144.7 128.8,149.7C125.1,154.7 124.4,160.4 121.3,164.8C118.1,169.2 116.2,172.1 110,176.1C103.7,180.2 91.4,186.2 83.5,189.4C75.7,192.5 70.9,194.1 62.8,195C54.6,196 43.9,196 34.4,195C25,194.1 16.2,190 6.1,189.4C-3.9,188.7 -20.6,198.5 -26,191.2C-31.3,184 -29.8,152.9 -26,145.9C-22.2,139 -10.2,149.7 -3.3,149.7C3.6,149.7 9.3,145.9 15.6,145.9C21.9,145.9 27.5,148.1 34.4,149.7C41.4,151.3 49.5,153.5 57.1,155.4C64.6,157.3 72.8,162 79.7,161C86.7,160.1 93.6,152.9 98.6,149.7C103.7,146.6 105.6,143.7 110,142.2C114.4,140.6 120.7,142.2 125.1,140.3C129.5,138.4 132.6,134.9 136.4,130.8C140.2,126.7 143.3,120.8 147.7,115.7C152.1,110.7 157.8,106.9 162.8,100.6C167.9,94.3 174.1,82.4 177.9,78Z" fill="#e2f5f7" clip-path="url(#qse)"/>
<path d="M3.2,-242.4C-2.5,-251.6 -19.5,-239.6 -30.8,-236.8C-42.1,-233.9 -54.4,-228.9 -64.8,-225.4C-75.2,-222 -85.5,-219.5 -93.1,-216C-100.6,-212.5 -106.6,-209.7 -110.1,-204.7C-113.5,-199.6 -114.5,-192.1 -113.9,-185.8C-113.2,-179.5 -109.4,-172.6 -106.3,-166.9C-103.2,-161.3 -98.8,-155 -95,-151.8C-91.2,-148.7 -87.4,-146.8 -83.6,-148C-79.9,-149.3 -76.7,-156.2 -72.3,-159.4C-67.9,-162.5 -62.9,-164.4 -57.2,-166.9C-51.6,-169.4 -45.3,-172.6 -38.3,-174.5C-31.4,-176.4 -22.6,-177 -15.7,-178.3C-8.8,-179.5 0.1,-171.3 3.2,-182C6.3,-192.7 8.9,-233.3 3.2,-242.4Z" fill="#b1deee" clip-path="url(#qnw)"/>
<path d="M-62.9,-114.1C-62.9,-116.6 -58.2,-120.7 -55.3,-121.6C-52.5,-122.6 -47.5,-121.6 -45.9,-119.7C-44.3,-117.8 -44.3,-112.5 -45.9,-110.3C-47.5,-108.1 -52.5,-105.9 -55.3,-106.5C-58.2,-107.1 -62.9,-111.5 -62.9,-114.1Z" fill="#b1deee" clip-path="url(#qnw)"/>
<path d="M-151.6,-106.5C-150.7,-109.7 -145.6,-113.1 -144.1,-112.2C-142.5,-111.2 -141.2,-104 -142.2,-100.8C-143.1,-97.7 -148.2,-92.3 -149.7,-93.3C-151.3,-94.2 -152.6,-103.4 -151.6,-106.5Z" fill="#b1deee" clip-path="url(#qnw)"/>
<path d="M-91.2,-78.2C-91.2,-80.1 -85.8,-82.3 -83.6,-82C-81.4,-81.7 -78,-78.2 -78,-76.3C-78,-74.4 -81.4,-70.3 -83.6,-70.6C-85.8,-71 -91.2,-76.3 -91.2,-78.2Z" fill="#b1deee" clip-path="url(#qnw)"/>
<path d="M-138.4,-136.7C-137.8,-140.2 -133.4,-146.8 -130.8,-148C-128.3,-149.3 -123.9,-147.1 -123.3,-144.3C-122.7,-141.4 -125.2,-133.9 -127.1,-131.1C-129,-128.2 -132.7,-126.3 -134.6,-127.3C-136.5,-128.2 -139,-133.3 -138.4,-136.7Z" fill="#fee294" clip-path="url(#qnw)"/>
<path d="M-164.8,-117.8C-164.2,-120.4 -161.1,-123.5 -159.2,-123.5C-157.3,-123.5 -153.8,-120.7 -153.5,-117.8C-153.2,-115 -155.7,-108.1 -157.3,-106.5C-158.9,-104.9 -161.7,-106.5 -162.9,-108.4C-164.2,-110.3 -165.5,-115.3 -164.8,-117.8Z" fill="#fee294" clip-path="url(#qnw)"/>
<path d="M-104.4,-106.5C-103.2,-108.7 -98.4,-111.5 -95,-112.2C-91.5,-112.8 -85.2,-112.5 -83.6,-110.3C-82.1,-108.1 -83.3,-101.5 -85.5,-99C-87.7,-96.4 -94,-95.2 -96.9,-95.2C-99.7,-95.2 -101.3,-97.1 -102.5,-99C-103.8,-100.8 -105.7,-104.3 -104.4,-106.5Z" fill="#fee294" clip-path="url(#qnw)"/>
<path d="M-185.6,-65C-183.7,-69.7 -178.7,-71 -174.3,-72.5C-169.9,-74.1 -162.6,-75.7 -159.2,-74.4C-155.7,-73.2 -155.4,-68.4 -153.5,-65C-151.6,-61.5 -150,-57.4 -147.8,-53.6C-145.6,-49.9 -141.5,-48.6 -140.3,-42.3C-139,-36 -139.7,-23.4 -140.3,-15.9C-140.9,-8.3 -143.7,-3.3 -144.1,3C-144.4,9.3 -136.5,18.7 -142.2,21.9C-147.8,25 -171.4,28.2 -178,21.9C-184.7,15.6 -180.6,-4.9 -181.8,-15.9C-183.1,-26.9 -185,-36 -185.6,-44.2C-186.2,-52.4 -187.5,-60.3 -185.6,-65Z" fill="#fee294" clip-path="url(#qnw)"/>
<path d="M-26,-251.9C-19.1,-262.6 3,-250.9 15.6,-250C28.1,-249 40.1,-248.4 49.5,-246.2C59,-244 64.6,-240.9 72.2,-236.8C79.7,-232.7 87.9,-227 94.9,-221.7C101.8,-216.3 107.4,-210.7 113.7,-204.7C120,-198.7 126.9,-192.7 132.6,-185.8C138.3,-178.9 142.7,-170.1 147.7,-163.1C152.7,-156.2 157.8,-151.2 162.8,-144.3C167.9,-137.3 172.9,-128.5 177.9,-121.6C183,-114.7 188.6,-109.7 193,-102.7C197.4,-95.8 201.2,-87 204.4,-80.1C207.5,-73.2 211.9,-68.1 211.9,-61.2C211.9,-54.3 207.5,-41.1 204.4,-38.5C201.2,-36 196.8,-42.3 193,-46.1C189.2,-49.9 185.5,-56.8 181.7,-61.2C177.9,-65.6 172.9,-73.8 170.4,-72.5C167.9,-71.3 166,-59.9 166.6,-53.6C167.2,-47.4 171,-39.8 174.1,-34.8C177.3,-29.7 183,-28.5 185.5,-23.4C188,-18.4 189.2,-10.9 189.2,-4.6C189.2,1.7 187.4,13.1 185.5,14.3C183.6,15.6 179.8,8 177.9,3C176,-2 176.7,-9.6 174.1,-15.9C171.6,-22.2 166,-27.8 162.8,-34.8C159.7,-41.7 155.9,-49.9 155.3,-57.4C154.6,-65 159,-72.5 159,-80.1C159,-87.6 157.8,-95.8 155.3,-102.7C152.7,-109.7 148.3,-115.9 143.9,-121.6C139.5,-127.3 133.9,-132.9 128.8,-136.7C123.8,-140.5 116.9,-140.5 113.7,-144.3C110.6,-148 112.5,-155 110,-159.4C107.4,-163.8 103,-167.9 98.6,-170.7C94.2,-173.5 89.2,-174.5 83.5,-176.4C77.9,-178.3 70.9,-180.5 64.6,-182C58.4,-183.6 52.4,-185.8 45.8,-185.8C39.2,-185.8 31.6,-182.7 25,-182C18.4,-181.4 12.1,-181.4 6.1,-182C0.1,-182.7 -5.5,-185.2 -10.9,-185.8C-16.2,-186.4 -23.5,-174.8 -26,-185.8C-28.5,-196.8 -32.9,-241.2 -26,-251.9Z" fill="#b1deee" clip-path="url(#qne)"/>
<path d="M25,-166.9C25.6,-168.8 33.5,-173.2 38.2,-172.6C42.9,-172 49.5,-166.3 53.3,-163.1C57.1,-160 61.5,-155 60.9,-153.7C60.2,-152.4 53.9,-154.3 49.5,-155.6C45.1,-156.9 38.5,-159.4 34.4,-161.3C30.3,-163.1 24.4,-165 25,-166.9Z" fill="#b1deee" clip-path="url(#qne)"/>
<path d="M-179.9,-24C-169.9,-34 -129.9,-27.8 -121.4,-24C-112.9,-20.2 -129,-8.2 -129,-1.3C-129,5.6 -124.6,11.3 -121.4,17.6C-118.3,23.9 -112,30.1 -110.1,36.4C-108.2,42.7 -111.3,50.3 -110.1,55.3C-108.8,60.4 -106.3,62.9 -102.5,66.6C-98.8,70.4 -93.7,74.8 -87.4,78C-81.1,81.1 -71.7,84.3 -64.8,85.5C-57.8,86.8 -52.2,85.5 -45.9,85.5C-39.6,85.5 -35.2,85.8 -27,85.5C-18.8,85.2 -1.8,74.2 3.2,83.6C8.2,93.1 6.3,133 3.2,142.2C0.1,151.3 -9.1,139.6 -15.7,138.4C-22.3,137.1 -29.8,135.9 -36.4,134.6C-43.1,133.4 -49,131.8 -55.3,130.8C-61.6,129.9 -67.9,128.3 -74.2,128.9C-80.5,129.6 -86.8,132.4 -93.1,134.6C-99.4,136.8 -106,140.3 -112,142.2C-117.9,144.1 -123.6,146.9 -129,145.9C-134.3,145 -139.7,139.6 -144.1,136.5C-148.5,133.4 -152.2,133.7 -155.4,127.1C-158.5,120.5 -159.8,107.2 -162.9,96.9C-166.1,86.5 -171.1,74.8 -174.3,64.8C-177.4,54.7 -180.9,51.2 -181.8,36.4C-182.8,21.6 -190,-13.9 -179.9,-24Z" fill="#fee294" clip-path="url(#qsw)"/>
<path d="M176,-24C178.2,-29.3 188.6,-27.8 191.1,-24C193.7,-20.2 191.8,-8.2 191.1,-1.3C190.5,5.6 188.3,10.6 187.4,17.6C186.4,24.5 186.4,33.3 185.5,40.2C184.5,47.1 183.6,54.7 181.7,59.1C179.8,63.5 176,67.3 174.1,66.6C172.3,66 170.4,61 170.4,55.3C170.4,49.7 172.9,40.5 174.1,32.7C175.4,24.8 177.6,17.6 177.9,8.1C178.2,-1.3 173.8,-18.6 176,-24Z" fill="#b1deee" clip-path="url(#qse)"/>
<path d="M-26,149.7C-22.2,143.7 -10.9,153.5 -3.3,153.5C4.2,153.5 12.4,149.4 19.3,149.7C26.3,150 31.3,153.5 38.2,155.4C45.1,157.3 53.3,159.5 60.9,161C68.4,162.6 76.6,166.1 83.5,164.8C90.4,163.6 97.4,156.6 102.4,153.5C107.4,150.3 110.3,146.6 113.7,145.9C117.2,145.3 122.5,147.2 123.2,149.7C123.8,152.2 120.3,157.3 117.5,161C114.7,164.8 111.8,168.3 106.2,172.4C100.5,176.5 90.8,182.1 83.5,185.6C76.3,189 70.9,191.9 62.8,193.1C54.6,194.4 43.9,194.1 34.4,193.1C25,192.2 16.2,188.1 6.1,187.5C-3.9,186.8 -20.6,195.7 -26,189.4C-31.3,183.1 -29.8,155.7 -26,149.7Z" fill="#b1deee" clip-path="url(#qse)"/>
<path d="M-26,85.5C-23.5,78 -16.5,88 -10.9,89.3C-5.2,90.6 3.6,91.2 8,93.1C12.4,95 14.6,96.9 15.6,100.6C16.5,104.4 13.7,111.3 13.7,115.7C13.7,120.1 16.5,123.9 15.6,127.1C14.6,130.2 11.8,133 8,134.6C4.2,136.2 -1.4,136.5 -7.1,136.5C-12.8,136.5 -22.8,143.1 -26,134.6C-29.1,126.1 -28.5,93.1 -26,85.5Z" fill="#fee294" clip-path="url(#qse)"/>
<path d="M-26,136.5C-22.2,134.9 -10.2,138.4 -3.3,138.4C3.6,138.4 13.7,135.2 15.6,136.5C17.4,137.8 12.4,144.1 8,145.9C3.6,147.8 -5.2,147.5 -10.9,147.8C-16.5,148.1 -23.5,149.7 -26,147.8C-28.5,145.9 -29.8,138.1 -26,136.5Z" fill="#fee294" clip-path="url(#qse)"/>
<path d="M3.2,-238.7C-1.8,-244.3 -17.3,-234.3 -27,-231.1C-36.8,-228 -45.9,-223.6 -55.3,-219.8C-64.8,-216 -75.5,-212.2 -83.6,-208.5C-91.8,-204.7 -100.6,-202.2 -104.4,-197.1C-108.2,-192.1 -107.2,-183.9 -106.3,-178.3C-105.4,-172.6 -101.9,-166.3 -98.8,-163.1C-95.6,-160 -91.2,-158.4 -87.4,-159.4C-83.6,-160.3 -80.5,-166 -76.1,-168.8C-71.7,-171.6 -66.7,-173.8 -61,-176.4C-55.3,-178.9 -49,-181.4 -42.1,-183.9C-35.2,-186.4 -27,-189.3 -19.5,-191.5C-11.9,-193.7 -0.6,-189.3 3.2,-197.1C7,-205 8.2,-233 3.2,-238.7Z" fill="#7fb5da" clip-path="url(#qnw)"/>
<path d="M-181.8,-57.4C-179.9,-65.6 -174.3,-63.4 -170.5,-65C-166.7,-66.5 -162,-68.4 -159.2,-66.9C-156.3,-65.3 -154.1,-59.6 -153.5,-55.5C-152.9,-51.4 -156,-47 -155.4,-42.3C-154.8,-37.6 -151.6,-32.3 -149.7,-27.2C-147.8,-22.2 -144.7,-17.1 -144.1,-12.1C-143.4,-7.1 -144.1,-0.2 -145.9,3C-147.8,6.1 -152.6,7.4 -155.4,6.8C-158.2,6.1 -160.4,-0.2 -162.9,-0.8C-165.5,-1.4 -168.6,-0.8 -170.5,3C-172.4,6.8 -173,18.7 -174.3,21.9C-175.5,25 -176.8,28.2 -178,21.9C-179.3,15.6 -181.2,-2.7 -181.8,-15.9C-182.4,-29.1 -183.7,-49.2 -181.8,-57.4Z" fill="#fdb366" clip-path="url(#qnw)"/>
<path d="M-26,-242.4C-19.1,-246.2 3.6,-240.9 15.6,-240.6C27.5,-240.2 37,-242.8 45.8,-240.6C54.6,-238.4 64.6,-231.1 68.4,-227.3C72.2,-223.6 70.3,-221 68.4,-217.9C66.5,-214.8 58.4,-212.5 57.1,-208.5C55.8,-204.4 57.7,-196.5 60.9,-193.4C64,-190.2 70.9,-189.6 76,-189.6C81,-189.6 86,-194 91.1,-193.4C96.1,-192.7 101.1,-189.6 106.2,-185.8C111.2,-182 116.2,-176.4 121.3,-170.7C126.3,-165 131.4,-158.1 136.4,-151.8C141.4,-145.5 147.1,-139.2 151.5,-132.9C155.9,-126.6 160.3,-119.7 162.8,-114.1C165.3,-108.4 167.2,-101.5 166.6,-99C166,-96.4 162.2,-95.8 159,-99C155.9,-102.1 151.5,-111.5 147.7,-117.8C143.9,-124.1 140.8,-131.1 136.4,-136.7C132,-142.4 126.3,-146.8 121.3,-151.8C116.2,-156.9 111.2,-162.5 106.2,-166.9C101.1,-171.3 96.1,-176.4 91.1,-178.3C86,-180.1 81,-177 76,-178.3C70.9,-179.5 64.6,-182.7 60.9,-185.8C57.1,-188.9 53.9,-192.1 53.3,-197.1C52.7,-202.2 58.4,-211 57.1,-216C55.8,-221 51.1,-224.8 45.8,-227.3C40.4,-229.9 33.2,-231.7 25,-231.1C16.8,-230.5 5.2,-225.8 -3.3,-223.6C-11.8,-221.4 -22.2,-214.8 -26,-217.9C-29.8,-221 -32.9,-238.7 -26,-242.4Z" fill="#7fb5da" clip-path="url(#qne)"/>
<path d="M-10.9,-193.4C-8,-195.2 3,-198.1 6.1,-197.1C9.3,-196.2 10.8,-189.6 8,-187.7C5.2,-185.8 -7.7,-184.9 -10.9,-185.8C-14,-186.7 -13.7,-191.5 -10.9,-193.4Z" fill="#7fb5da" clip-path="url(#qne)"/>
<path d="M177.9,-110.3C178.6,-112.8 182.3,-109.7 185.5,-106.5C188.6,-103.4 193.3,-97.1 196.8,-91.4C200.3,-85.7 205.6,-78.2 206.2,-72.5C206.9,-66.9 203.1,-57.4 200.6,-57.4C198.1,-57.4 194.3,-66.9 191.1,-72.5C188,-78.2 183.9,-85.1 181.7,-91.4C179.5,-97.7 177.3,-107.8 177.9,-110.3Z" fill="#7fb5da" clip-path="url(#qne)"/>
<path d="M177.9,-23.4C178.9,-26.6 183.6,-28.5 185.5,-27.2C187.4,-26 189.2,-20.3 189.2,-15.9C189.2,-11.5 187,-2 185.5,-0.8C183.9,0.5 181.1,-4.6 179.8,-8.3C178.6,-12.1 177,-20.3 177.9,-23.4Z" fill="#7fb5da" clip-path="url(#qne)"/>
<path d="M-179.9,-24C-173.6,-30.9 -150,-26.5 -144.1,-24C-138.1,-21.5 -142.8,-12.6 -144.1,-8.9C-145.3,-5.1 -148.5,-2.3 -151.6,-1.3C-154.8,-0.4 -159.8,-5.7 -162.9,-3.2C-166.1,-0.7 -169.9,7.2 -170.5,13.8C-171.1,20.4 -168.6,28.9 -166.7,36.4C-164.8,44 -161.1,52.2 -159.2,59.1C-157.3,66 -154.8,73.6 -155.4,78C-156,82.4 -160.4,86.8 -162.9,85.5C-165.5,84.3 -168,77 -170.5,70.4C-173,63.8 -176.2,54.7 -178,45.9C-179.9,37.1 -181.5,29.2 -181.8,17.6C-182.1,5.9 -186.2,-17.1 -179.9,-24Z" fill="#fdb366" clip-path="url(#qsw)"/>
<path d="M-115.7,91.2C-115.1,88.4 -109.8,86.5 -106.3,87.4C-102.8,88.4 -98.8,93.1 -95,96.9C-91.2,100.6 -84.9,106.3 -83.6,110.1C-82.4,113.8 -84.9,118.6 -87.4,119.5C-89.9,120.5 -95,118.2 -98.8,115.7C-102.5,113.2 -107.2,108.5 -110.1,104.4C-112.9,100.3 -116.4,94 -115.7,91.2Z" fill="#fdb366" clip-path="url(#qsw)"/>
<path d="M-113.9,40.2C-112.3,40.5 -109.4,47.1 -106.3,51.5C-103.2,55.9 -99.4,61.9 -95,66.6C-90.6,71.4 -84.9,75.8 -79.9,79.9C-74.8,84 -66.7,88.4 -64.8,91.2C-62.9,94 -65.4,96.9 -68.5,96.9C-71.7,96.9 -78.6,94 -83.6,91.2C-88.7,88.4 -94.3,84.6 -98.8,79.9C-103.2,75.1 -107.2,67.9 -110.1,62.9C-112.9,57.8 -115.1,53.4 -115.7,49.7C-116.4,45.9 -115.4,39.9 -113.9,40.2Z" fill="#fdb366" clip-path="url(#qsw)"/>
<path d="M179.8,-24C180.8,-26.5 186.4,-27.1 187.4,-24C188.3,-20.8 186.4,-7.6 185.5,-5.1C184.5,-2.6 182.6,-5.7 181.7,-8.9C180.8,-12 178.9,-21.5 179.8,-24Z" fill="#7fb5da" clip-path="url(#qse)"/>
<path d="M174.1,42.1C175.4,39.3 180.3,36.8 181.7,38.3C183.1,39.9 183.3,48.1 182.6,51.5C182,55 179.3,58.5 177.9,59.1C176.5,59.7 174.8,58.1 174.1,55.3C173.5,52.5 172.9,44.9 174.1,42.1Z" fill="#7fb5da" clip-path="url(#qse)"/>
<path d="M-26,153.5C-22.2,148.5 -10.9,157 -3.3,157.3C4.2,157.6 11.8,154.7 19.3,155.4C26.9,156 35.1,159.2 42,161C48.9,162.9 53.9,165.1 60.9,166.7C67.8,168.3 77.9,170.2 83.5,170.5C89.2,170.8 93.6,167.3 94.9,168.6C96.1,169.9 94.2,175.2 91.1,178C87.9,180.9 81,183.4 76,185.6C70.9,187.8 67.8,190.1 60.9,191.2C53.9,192.4 43.6,193.1 34.4,192.2C25.3,191.2 16.2,186.4 6.1,185.6C-3.9,184.8 -20.6,192.8 -26,187.5C-31.3,182.1 -29.8,158.5 -26,153.5Z" fill="#7fb5da" clip-path="url(#qse)"/>
<path d="M-14.6,140.3C-12.8,139.3 -4.9,139.3 -3.3,140.3C-1.7,141.2 -3.3,145 -5.2,145.9C-7.1,146.9 -13.1,146.9 -14.6,145.9C-16.2,145 -16.5,141.2 -14.6,140.3Z" fill="#fdb366" clip-path="url(#qse)"/>
<path d="M3.2,-234.9C-1.2,-237.1 -14.4,-228.9 -23.2,-225.4C-32,-222 -40.9,-217.6 -49.7,-214.1C-58.5,-210.7 -67.9,-208.1 -76.1,-204.7C-84.3,-201.2 -94.7,-197.8 -98.8,-193.4C-102.8,-188.9 -101.6,-182.3 -100.6,-178.3C-99.7,-174.2 -95.9,-169.8 -93.1,-168.8C-90.3,-167.9 -87.7,-170.7 -83.6,-172.6C-79.6,-174.5 -74.2,-177.3 -68.5,-180.1C-62.9,-183 -56,-186.4 -49.7,-189.6C-43.4,-192.7 -37.7,-195.9 -30.8,-199C-23.9,-202.2 -13.8,-206.3 -8.1,-208.5C-2.5,-210.7 1.3,-207.8 3.2,-212.2C5.1,-216.6 7.6,-232.7 3.2,-234.9Z" fill="#4a7bb7" clip-path="url(#qnw)"/>
<path d="M-66.7,-151.8C-64.8,-155 -58.8,-157.5 -53.4,-159.4C-48.1,-161.3 -40.9,-161.9 -34.6,-163.1C-28.3,-164.4 -22,-166 -15.7,-166.9C-9.4,-167.9 0.1,-171.3 3.2,-168.8C6.3,-166.3 6.3,-155.3 3.2,-151.8C0.1,-148.4 -9.4,-149.3 -15.7,-148C-22,-146.8 -28.9,-146.2 -34.6,-144.3C-40.2,-142.4 -44.6,-137.3 -49.7,-136.7C-54.7,-136.1 -61.9,-138 -64.8,-140.5C-67.6,-143 -68.5,-148.7 -66.7,-151.8Z" fill="#ffffc2" clip-path="url(#qnw)"/>
<path d="M-140.3,-27.2C-139,-31.9 -132.1,-29.7 -129,-29.1C-125.8,-28.5 -122.3,-27.2 -121.4,-23.4C-120.5,-19.7 -122.7,-12.1 -123.3,-6.4C-123.9,-0.8 -124.2,5.8 -125.2,10.5C-126.1,15.3 -127.1,20 -129,21.9C-130.8,23.8 -135.3,25.6 -136.5,21.9C-137.8,18.1 -135.9,7.4 -136.5,-0.8C-137.1,-9 -141.5,-22.5 -140.3,-27.2Z" fill="#e2f5f7" clip-path="url(#qnw)"/>
<path d="M17.4,-206.6C18.7,-208.8 23.1,-211.6 26.9,-212.2C30.7,-212.9 36.6,-212.2 40.1,-210.3C43.6,-208.5 47.3,-203.7 47.7,-200.9C48,-198.1 45.5,-194.6 42,-193.4C38.5,-192.1 30.7,-192.4 26.9,-193.4C23.1,-194.3 20.9,-196.8 19.3,-199C17.8,-201.2 16.2,-204.4 17.4,-206.6Z" fill="#e2f5f7" clip-path="url(#qne)"/>
<path d="M-26,-233C-22.8,-235.8 -12.4,-232.1 -7.1,-231.1C-1.7,-230.2 5.5,-229.2 6.1,-227.3C6.7,-225.4 2,-222 -3.3,-219.8C-8.7,-217.6 -22.2,-211.9 -26,-214.1C-29.8,-216.3 -29.1,-230.2 -26,-233Z" fill="#4a7bb7" clip-path="url(#qne)"/>
<path d="M187.4,-89.5C188,-90.8 191.5,-89.5 193,-87.6C194.6,-85.7 196.8,-80.7 196.8,-78.2C196.8,-75.7 194.3,-72.2 193,-72.5C191.8,-72.8 190.2,-77.2 189.2,-80.1C188.3,-82.9 186.7,-88.3 187.4,-89.5Z" fill="#4a7bb7" clip-path="url(#qne)"/>
<path d="M-26,-166.9C-23.5,-170.1 -15.9,-170.7 -10.9,-170.7C-5.8,-170.7 3,-169.1 4.2,-166.9C5.5,-164.7 1.7,-160 -3.3,-157.5C-8.4,-155 -22.2,-150.2 -26,-151.8C-29.8,-153.4 -28.5,-163.8 -26,-166.9Z" fill="#ffffc2" clip-path="url(#qne)"/>
<path d="M25,-155.6C27.5,-156.2 36,-153.7 42,-151.8C48,-149.9 54.6,-144.9 60.9,-144.3C67.2,-143.6 74.7,-149.3 79.7,-148C84.8,-146.8 86,-139.9 91.1,-136.7C96.1,-133.6 103.7,-132.9 110,-129.2C116.2,-125.4 123.2,-119.1 128.8,-114.1C134.5,-109 140.2,-104 143.9,-99C147.7,-93.9 151.5,-87 151.5,-83.9C151.5,-80.7 147.1,-77.6 143.9,-80.1C140.8,-82.6 137.6,-93.3 132.6,-99C127.6,-104.6 120.7,-110.3 113.7,-114.1C106.8,-117.8 98.6,-118.5 91.1,-121.6C83.5,-124.8 76,-129.8 68.4,-132.9C60.9,-136.1 52.7,-138 45.8,-140.5C38.8,-143 30.3,-145.5 26.9,-148C23.4,-150.6 22.5,-155 25,-155.6Z" fill="#ffffc2" clip-path="url(#qne)"/>
<path d="M213.8,-38.5C215.4,-41.7 220.7,-44.2 223.2,-42.3C225.7,-40.4 228.3,-32.3 228.9,-27.2C229.5,-22.2 228.9,-15.3 227,-12.1C225.1,-9 219.8,-6.4 217.6,-8.3C215.4,-10.2 214.4,-18.4 213.8,-23.4C213.2,-28.5 212.2,-35.4 213.8,-38.5Z" fill="#ffffc2" clip-path="url(#qne)"/>
<path d="M196.8,3C198.7,-0.5 206.2,-0.2 210,1.1C213.8,2.4 217.9,7.1 219.5,10.5C221,14 222.9,20 219.5,21.9C216,23.8 202.5,25 198.7,21.9C194.9,18.7 194.9,6.5 196.8,3Z" fill="#ffffc2" clip-path="url(#qne)"/>
<path d="M-164.8,13.8C-163.9,9.7 -155.7,10.3 -151.6,11.9C-147.5,13.5 -143.4,18.5 -140.3,23.2C-137.1,27.9 -135.9,34.2 -132.7,40.2C-129.6,46.2 -124.6,53.4 -121.4,59.1C-118.3,64.8 -113.2,71.7 -113.9,74.2C-114.5,76.7 -121.4,74.8 -125.2,74.2C-129,73.6 -132.7,73.6 -136.5,70.4C-140.3,67.3 -144.4,61 -147.8,55.3C-151.3,49.7 -154.4,43.4 -157.3,36.4C-160.1,29.5 -165.8,17.9 -164.8,13.8Z" fill="#ffffc2" clip-path="url(#qsw)"/>
<path d="M-144.1,96.9C-142.8,95.6 -136.5,98.7 -132.7,100.6C-129,102.5 -125.2,105.7 -121.4,108.2C-117.6,110.7 -112.6,112.9 -110.1,115.7C-107.6,118.6 -105,123.3 -106.3,125.2C-107.6,127.1 -113.9,128 -117.6,127.1C-121.4,126.1 -125.2,122.7 -129,119.5C-132.7,116.4 -137.8,112 -140.3,108.2C-142.8,104.4 -145.3,98.1 -144.1,96.9Z" fill="#ffffc2" clip-path="url(#qsw)"/>
<path d="M-66.7,108.2C-66,105.7 -54.4,103.1 -49.7,100.6C-44.9,98.1 -43.4,93.7 -38.3,93.1C-33.3,92.4 -24.5,93.7 -19.5,96.9C-14.4,100 -8.8,106.9 -8.1,112C-7.5,117 -11.3,125.2 -15.7,127.1C-20.1,128.9 -28.3,125.2 -34.6,123.3C-40.9,121.4 -48.1,118.2 -53.4,115.7C-58.8,113.2 -67.3,110.7 -66.7,108.2Z" fill="#ffffc2" clip-path="url(#qsw)"/>
<path d="M-179.9,34.6C-179.3,30.8 -174.9,29.8 -172.4,32.7C-169.9,35.5 -166.4,45.9 -164.8,51.5C-163.3,57.2 -162.3,63.8 -162.9,66.6C-163.6,69.5 -166.4,70.4 -168.6,68.5C-170.8,66.6 -174.3,61 -176.2,55.3C-178,49.7 -180.6,38.3 -179.9,34.6Z" fill="#f67d4a" clip-path="url(#qsw)"/>
<path d="M-95,74.2C-94.7,72.6 -92.1,71.1 -89.3,72.3C-86.5,73.6 -78.9,79.5 -78,81.7C-77,84 -81.4,85.5 -83.6,85.5C-85.8,85.5 -89.3,83.6 -91.2,81.7C-93.1,79.9 -95.3,75.8 -95,74.2Z" fill="#f67d4a" clip-path="url(#qsw)"/>
<path d="M-136.5,-20.2C-134.6,-23.3 -128,-25.2 -125.2,-24C-122.3,-22.7 -119.8,-18 -119.5,-12.6C-119.2,-7.3 -123,1.5 -123.3,8.1C-123.6,14.7 -120.5,22.9 -121.4,27C-122.3,31.1 -126.8,34.9 -129,32.7C-131.2,30.5 -133.4,20.1 -134.6,13.8C-135.9,7.5 -136.2,0.6 -136.5,-5.1C-136.8,-10.8 -138.4,-17.1 -136.5,-20.2Z" fill="#e2f5f7" clip-path="url(#qsw)"/>
<path d="M-155.4,127.1C-155.4,124.2 -148.5,133.7 -144.1,136.5C-139.7,139.3 -134.3,143.4 -129,144.1C-123.6,144.7 -117.9,142.2 -112,140.3C-106,138.4 -99.4,134.6 -93.1,132.7C-86.8,130.8 -80.5,129.3 -74.2,128.9C-67.9,128.6 -61.6,129.9 -55.3,130.8C-49,131.8 -43.1,133.4 -36.4,134.6C-29.8,135.9 -22.3,137.4 -15.7,138.4C-9.1,139.3 0.1,130.8 3.2,140.3C6.3,149.7 8.2,185.9 3.2,195C-1.8,204.2 -15.7,194.7 -27,195C-38.3,195.3 -55.3,197.2 -64.8,196.9C-74.2,196.6 -75.8,194.4 -83.6,193.1C-91.5,191.9 -104.4,191.9 -112,189.4C-119.5,186.8 -123.6,184 -129,178C-134.3,172.1 -139.7,162 -144.1,153.5C-148.5,145 -155.4,129.9 -155.4,127.1Z" fill="#e2f5f7" clip-path="url(#qsw)"/>
<path d="M-26,155.4C-22.2,151.9 -10.9,158.7 -3.3,159.2C4.2,159.6 12.1,157.6 19.3,158.2C26.6,158.8 33.8,161.2 40.1,162.9C46.4,164.7 53.3,166.4 57.1,168.6C60.9,170.8 62.8,173.6 62.8,176.1C62.8,178.7 60.6,181.8 57.1,183.7C53.6,185.6 47.7,186.8 42,187.5C36.3,188.1 29.4,188.4 23.1,187.5C16.8,186.5 12.4,183.1 4.2,181.8C-3.9,180.6 -20.9,184.3 -26,179.9C-31,175.5 -29.8,158.8 -26,155.4Z" fill="#4a7bb7" clip-path="url(#qse)"/>
<path d="M-26,100.6C-24.7,97.2 -20.3,98.1 -18.4,100.6C-16.5,103.1 -14.6,112 -14.6,115.7C-14.6,119.5 -16.5,122.3 -18.4,123.3C-20.3,124.2 -24.7,125.2 -26,121.4C-27.2,117.6 -27.2,104.1 -26,100.6Z" fill="#e2f5f7" clip-path="url(#qse)"/>
<path d="M-157.3,21.3C-156.3,19.1 -152.2,17.6 -149.7,19.4C-147.2,21.3 -144.7,27.9 -142.2,32.7C-139.7,37.4 -137.8,42.7 -134.6,47.8C-131.5,52.8 -126.1,58.8 -123.3,62.9C-120.5,67 -117,71.1 -117.6,72.3C-118.3,73.6 -123.6,72.3 -127.1,70.4C-130.5,68.5 -134.9,65.1 -138.4,61C-141.9,56.9 -145,50.6 -147.8,45.9C-150.7,41.2 -153.8,36.8 -155.4,32.7C-157,28.6 -158.2,23.5 -157.3,21.3Z" fill="#e2f5f7" clip-path="url(#qsw)"/>
<path d="M-38.3,100.6C-37.4,97.5 -30.2,95.6 -27,96.9C-23.9,98.1 -21.7,104.4 -19.5,108.2C-17.3,112 -13.5,117.3 -13.8,119.5C-14.1,121.7 -18.2,122 -21.3,121.4C-24.5,120.8 -29.8,119.2 -32.7,115.7C-35.5,112.3 -39.3,103.8 -38.3,100.6Z" fill="#e2f5f7" clip-path="url(#qsw)"/>
<path d="M-89.3,-189.6C-87.7,-192.7 -80.8,-194.9 -76.1,-197.1C-71.4,-199.3 -65.7,-201.5 -61,-202.8C-56.3,-204.1 -50,-205.3 -47.8,-204.7C-45.6,-204.1 -45.6,-201.2 -47.8,-199C-50,-196.8 -56.6,-194 -61,-191.5C-65.4,-188.9 -70.1,-186.1 -74.2,-183.9C-78.3,-181.7 -83,-177.3 -85.5,-178.3C-88.1,-179.2 -90.9,-186.4 -89.3,-189.6Z" fill="#3a4ea3" clip-path="url(#qnw)"/>
<path d="M-26,158.2C-22.2,155.5 -10.9,161.5 -3.3,162C4.2,162.5 12.4,160.4 19.3,161C26.3,161.7 32.9,164.2 38.2,165.8C43.6,167.3 48.6,168.8 51.4,170.5C54.3,172.2 55.5,174.3 55.2,176.1C54.9,178 53,180.2 49.5,181.8C46.1,183.4 39.5,185.1 34.4,185.6C29.4,186.1 24.4,185.9 19.3,184.6C14.3,183.4 9.3,179.4 4.2,178C-0.8,176.6 -5.8,176.1 -10.9,176.1C-15.9,176.1 -23.5,181 -26,178C-28.5,175 -29.8,160.9 -26,158.2Z" fill="#3a4ea3" clip-path="url(#qse)"/>
<path d="M34.4,149.7C34.4,148.1 44.5,144.1 49.5,142.2C54.6,140.3 59.6,138.4 64.6,138.4C69.7,138.4 74.7,142.2 79.7,142.2C84.8,142.2 89.8,140.3 94.9,138.4C99.9,136.5 105.6,133.4 110,130.8C114.4,128.3 118.1,125.8 121.3,123.3C124.4,120.8 125.7,120.1 128.8,115.7C132,111.3 137,101.3 140.2,96.9C143.3,92.4 146.5,88.7 147.7,89.3C149,89.9 149,96.9 147.7,100.6C146.5,104.4 143.3,107.6 140.2,112C137,116.4 133.2,122.7 128.8,127.1C124.4,131.5 118.8,134.9 113.7,138.4C108.7,141.8 103.7,145 98.6,147.8C93.6,150.7 88.6,155.1 83.5,155.4C78.5,155.7 74.1,150.3 68.4,149.7C62.8,149.1 55.2,151.6 49.5,151.6C43.9,151.6 34.4,151.3 34.4,149.7Z" fill="#fee294" clip-path="url(#qse)"/>
<path d="M-134.6,-15.9C-133.4,-19.7 -126.9,-21.2 -125.2,-19.7C-123.5,-18.1 -123.6,-10.9 -124.2,-6.4C-124.9,-2 -127.5,5.2 -129,6.8C-130.4,8.3 -131.8,6.8 -132.7,3C-133.7,-0.8 -135.9,-12.1 -134.6,-15.9Z" fill="#b1deee" clip-path="url(#qnw)"/>
<path d="M87.3,-129.2C88.9,-131.1 94.9,-133.3 98.6,-132.9C102.4,-132.6 106.2,-129.5 110,-127.3C113.7,-125.1 117.5,-122.6 121.3,-119.7C125.1,-116.9 128.8,-114.4 132.6,-110.3C136.4,-106.2 141.4,-99.6 143.9,-95.2C146.5,-90.8 148,-85.7 147.7,-83.9C147.4,-82 144.6,-81.3 142.1,-83.9C139.5,-86.4 136.7,-94.2 132.6,-99C128.5,-103.7 122.5,-108.7 117.5,-112.2C112.5,-115.6 107.1,-118.2 102.4,-119.7C97.7,-121.3 91.7,-120 89.2,-121.6C86.7,-123.2 85.7,-127.3 87.3,-129.2Z" fill="#fee294" clip-path="url(#qne)"/>
<path d="M-132.7,-12.6C-132.1,-16.1 -126.6,-18.3 -125.2,-16.4C-123.8,-14.5 -123.6,-4.8 -124.2,-1.3C-124.9,2.1 -127.5,6.2 -129,4.3C-130.4,2.5 -133.4,-9.2 -132.7,-12.6Z" fill="#b1deee" clip-path="url(#qsw)"/>
<path d="M-153.5,134.6C-152.9,133 -145,141.5 -140.3,144.1C-135.6,146.6 -130.8,149.4 -125.2,149.7C-119.5,150 -112.6,147.5 -106.3,145.9C-100,144.4 -93.7,141.5 -87.4,140.3C-81.1,139 -74.8,138.4 -68.5,138.4C-62.3,138.4 -56,139.3 -49.7,140.3C-43.4,141.2 -37.1,142.8 -30.8,144.1C-24.5,145.3 -17.6,146.9 -11.9,147.8C-6.2,148.8 0.7,141.8 3.2,149.7C5.7,157.6 8.2,187.5 3.2,195C-1.8,202.6 -15.7,194.7 -27,195C-38.3,195.3 -55.3,197.2 -64.8,196.9C-74.2,196.6 -75.8,194.4 -83.6,193.1C-91.5,191.9 -104.4,191.9 -112,189.4C-119.5,186.8 -123.6,184 -129,178C-134.3,172.1 -140,160.7 -144.1,153.5C-148.2,146.3 -154.1,136.2 -153.5,134.6Z" fill="#b1deee" clip-path="url(#qsw)"/>
<path d="M-145.9,49.7C-146.1,47.8 -142.8,46.8 -141.2,47.8C-139.7,48.7 -136.7,53.4 -136.5,55.3C-136.4,57.2 -138.7,60 -140.3,59.1C-141.9,58.1 -145.8,51.5 -145.9,49.7Z" fill="#b1deee" clip-path="url(#qsw)"/>
<path d="M60.9,142.2C61.5,140.9 69.1,139.6 72.2,140.3C75.3,140.9 76.6,145 79.7,145.9C82.9,146.9 90.4,145 91.1,145.9C91.7,146.9 87.3,151.3 83.5,151.6C79.7,151.9 72.2,149.4 68.4,147.8C64.6,146.3 60.2,143.4 60.9,142.2Z" fill="#fdb366" clip-path="url(#qse)"/>
<path d="M130.7,100.6C131.4,98.1 138,93.1 140.2,93.1C142.4,93.1 144.6,98.1 143.9,100.6C143.3,103.1 138.6,108.2 136.4,108.2C134.2,108.2 130.1,103.1 130.7,100.6Z" fill="#fdb366" clip-path="url(#qse)"/>
<path d="M-147.8,145.9C-146.6,144.7 -138.4,151.9 -132.7,153.5C-127.1,155.1 -120.1,156 -113.9,155.4C-107.6,154.7 -101.3,151.3 -95,149.7C-88.7,148.1 -82.4,146.6 -76.1,145.9C-69.8,145.3 -63.5,145.3 -57.2,145.9C-50.9,146.6 -45.3,148.5 -38.3,149.7C-31.4,151 -22.6,152.9 -15.7,153.5C-8.8,154.1 0.1,146.9 3.2,153.5C6.3,160.1 8.2,186.8 3.2,193.1C-1.8,199.4 -17.3,191.6 -27,191.2C-36.8,190.9 -45.9,191.9 -55.3,191.2C-64.8,190.6 -75.2,188.7 -83.6,187.5C-92.1,186.2 -99.4,185.6 -106.3,183.7C-113.2,181.8 -119.5,179.9 -125.2,176.1C-130.8,172.4 -136.5,166.1 -140.3,161C-144.1,156 -149.1,147.2 -147.8,145.9Z" fill="#7fb5da" clip-path="url(#qsw)"/>
<path d="M-96.9,164.8C-96.9,161.7 -91.5,159.2 -87.4,157.3C-83.3,155.4 -78,154.1 -72.3,153.5C-66.7,152.9 -59.7,153.2 -53.4,153.5C-47.1,153.8 -40.9,154.7 -34.6,155.4C-28.3,156 -22,157.3 -15.7,157.3C-9.4,157.3 0.1,150.3 3.2,155.4C6.3,160.4 6.3,182.1 3.2,187.5C0.1,192.8 -9.4,187.2 -15.7,187.5C-22,187.8 -28.3,189.4 -34.6,189.4C-40.9,189.4 -47.1,188.7 -53.4,187.5C-59.7,186.2 -66.7,183.7 -72.3,181.8C-78,179.9 -83.3,179 -87.4,176.1C-91.5,173.3 -96.9,168 -96.9,164.8Z" fill="#4a7bb7" clip-path="url(#qsw)"/>
<path d="M-78,168.6C-78,166.4 -70.1,164.5 -64.8,162.9C-59.4,161.4 -52.2,159.5 -45.9,159.2C-39.6,158.8 -33.3,160.4 -27,161C-20.7,161.7 -13.2,162.9 -8.1,162.9C-3.1,162.9 1.3,158.2 3.2,161C5.1,163.9 5.1,176.5 3.2,179.9C1.3,183.4 -3.1,181.2 -8.1,181.8C-13.2,182.4 -20.7,183.7 -27,183.7C-33.3,183.7 -39.6,183.1 -45.9,181.8C-52.2,180.6 -59.4,178.3 -64.8,176.1C-70.1,173.9 -78,170.8 -78,168.6Z" fill="#3a4ea3" clip-path="url(#qsw)"/>
<path d="M-30.8,-132.9C-32.7,-137.3 -35.8,-123.2 -38.3,-117.8C-40.9,-112.5 -44,-106.8 -45.9,-100.8C-47.8,-94.9 -46.5,-88.3 -49.7,-82C-52.8,-75.7 -59.1,-67.8 -64.8,-63.1C-70.4,-58.4 -78.9,-55.2 -83.6,-53.6C-88.4,-52.1 -91.8,-58.4 -93.1,-53.6C-94.3,-48.9 -94.7,-32.3 -91.2,-25.3C-87.7,-18.4 -80.5,-11.8 -72.3,-12.1C-64.1,-12.4 -48.4,-20.3 -42.1,-27.2C-35.8,-34.1 -37.1,-42.9 -34.6,-53.6C-32,-64.3 -27.6,-78.2 -27,-91.4C-26.4,-104.6 -28.9,-128.5 -30.8,-132.9Z" fill="#fff"/>
<path d="M-144.1,-76.3C-144.4,-78.5 -134.6,-80.4 -130.8,-80.1C-127.1,-79.8 -124.2,-76 -121.4,-74.4C-118.6,-72.8 -112.6,-71.9 -113.9,-70.6C-115.1,-69.4 -123.9,-65.9 -129,-66.9C-134,-67.8 -143.7,-74.1 -144.1,-76.3Z" fill="#fff"/>
<path d="M-24.1,-148C-17.5,-149.9 5.8,-145.1 15.6,-144.3C25.3,-143.5 28.8,-144.6 34.4,-143.3C40.1,-142.1 49.5,-138.8 49.5,-136.7C49.5,-134.7 46.7,-131.7 34.4,-131.1C22.2,-130.4 -14.3,-130.1 -24.1,-132.9C-33.8,-135.8 -30.7,-146.2 -24.1,-148Z" fill="#fff"/>
<path d="M121.3,-48C124.4,-50.5 142.7,-58.4 147.7,-57.4C152.7,-56.5 152.1,-45.8 151.5,-42.3C150.9,-38.9 147.7,-36.7 143.9,-36.7C140.2,-36.7 132.6,-40.4 128.8,-42.3C125.1,-44.2 118.1,-45.5 121.3,-48Z" fill="#fff"/>
<path d="M166.6,-25.3C167.2,-27.8 171,-20 172.3,-15.9C173.5,-11.8 174.8,-3.3 174.1,-0.8C173.5,1.7 169.7,3.3 168.5,-0.8C167.2,-4.9 166,-22.8 166.6,-25.3Z" fill="#fff"/>
<path d="M-15.7,32.7C-10.6,33.3 0.1,37.7 3.2,45.9C6.3,54.1 6.3,75.5 3.2,81.7C0.1,88 -10,83.6 -15.7,83.6C-21.3,83.6 -27,86.5 -30.8,81.7C-34.6,77 -39,61.9 -38.3,55.3C-37.7,48.7 -30.8,45.9 -27,42.1C-23.2,38.3 -20.7,32 -15.7,32.7Z" fill="#fff"/>
<path d="M-106.3,51.5C-105.4,52.2 -99.4,62.2 -95,66.6C-90.6,71.1 -83.3,74.8 -79.9,78C-76.4,81.1 -72.9,86.2 -74.2,85.5C-75.5,84.9 -83,78 -87.4,74.2C-91.8,70.4 -97.5,66.6 -100.6,62.9C-103.8,59.1 -107.2,50.9 -106.3,51.5Z" fill="#fff"/>
<path d="M-26,36.4C-23.5,27.6 -17.8,27.6 -10.9,30.8C-3.9,33.9 9.6,47.5 15.6,55.3C21.5,63.2 25,73.6 25,78C25,82.4 20.3,80.5 15.6,81.7C10.8,83 3.6,85.2 -3.3,85.5C-10.2,85.8 -22.2,91.8 -26,83.6C-29.8,75.5 -28.5,45.2 -26,36.4Z" fill="#fff"/>
<path d="M168.5,-1.3C170.1,-2.9 173.5,10.6 174.1,17.6C174.8,24.5 173.5,33.3 172.3,40.2C171,47.1 167.9,61.3 166.6,59.1C165.3,56.9 164.4,37.1 164.7,27C165,16.9 166.9,0.3 168.5,-1.3Z" fill="#fff"/>
<use href="#grat"/><use href="#ant"/><use href="#grat2"/><use href="#sa"/>
<g fill="#888" stroke="#888" stroke-width="0.35" font-size="31" opacity="0.9"><text x="-19.6" y="-224" textLength="39.5" lengthAdjust="spacingAndGlyphs">0°E</text><text x="-200.5" y="-156.5" textLength="65.5" lengthAdjust="spacingAndGlyphs">45°W</text><text x="140.8" y="-156.5" textLength="54.8" lengthAdjust="spacingAndGlyphs">45°E</text><text x="-269.6" y="12.2" textLength="65.7" lengthAdjust="spacingAndGlyphs">90°W</text><text x="210.7" y="12.2" textLength="53" lengthAdjust="spacingAndGlyphs">90°E</text><text x="30.2" y="53.6" textLength="54" lengthAdjust="spacingAndGlyphs">80°S</text><text x="89" y="96" textLength="53.7" lengthAdjust="spacingAndGlyphs">70°S</text><text x="148.4" y="138.6" textLength="53" lengthAdjust="spacingAndGlyphs">60°S</text><text x="-206.5" y="179.4" textLength="79.3" lengthAdjust="spacingAndGlyphs">135°W</text><text x="134" y="179.4" textLength="67.3" lengthAdjust="spacingAndGlyphs">135°E</text></g>
</g>
<circle r="278.2" fill="none" stroke="#000" stroke-width="3.4"/>
</g>
<g>
<path d="M468,2425.5 L564.7,2407.0 V2444.0Z" fill="#3a4ea3"/>
<rect x="564.2" y="2407.0" width="97.7" height="37.0" fill="#4a7bb7"/>
<rect x="661.4" y="2407.0" width="97.7" height="37.0" fill="#7ab1d7"/>
<rect x="758.7" y="2407.0" width="97.7" height="37.0" fill="#b5dff0"/>
<rect x="855.9" y="2407.0" width="97.7" height="37.0" fill="#e6f7f2"/>
<rect x="953.1" y="2407.0" width="97.7" height="37.0" fill="#fffbb4"/>
<rect x="1050.3" y="2407.0" width="97.7" height="37.0" fill="#fdd081"/>
<rect x="1147.5" y="2407.0" width="97.7" height="37.0" fill="#fc8d52"/>
<rect x="1244.8" y="2407.0" width="97.7" height="37.0" fill="#e34a33"/>
<path d="M1440,2425.5 L1341.5,2407.0 V2444.0Z" fill="#b2142a"/>
<path d="M564.2,2407.0 H1342.0" stroke="#222" stroke-width="2.2"/>
</g>
<g font-size="43.2" fill="#000" text-anchor="middle">
<text x="564.8" y="2393.3" textLength="68.5" lengthAdjust="spacingAndGlyphs">-0.4</text>
<text x="662" y="2393.3" textLength="68.5" lengthAdjust="spacingAndGlyphs">-0.3</text>
<text x="759.3" y="2393.3" textLength="68.5" lengthAdjust="spacingAndGlyphs">-0.2</text>
<text x="856.5" y="2393.3" textLength="68.5" lengthAdjust="spacingAndGlyphs">-0.1</text>
<text x="953.7" y="2393.3" textLength="22.1" lengthAdjust="spacingAndGlyphs">0</text>
<text x="1050.9" y="2393.3" textLength="55.3" lengthAdjust="spacingAndGlyphs">0.1</text>
<text x="1148.1" y="2393.3" textLength="55.3" lengthAdjust="spacingAndGlyphs">0.2</text>
<text x="1245.4" y="2393.3" textLength="55.3" lengthAdjust="spacingAndGlyphs">0.3</text>
<text x="1342.6" y="2393.3" textLength="55.3" lengthAdjust="spacingAndGlyphs">0.4</text>
</g>
<text x="925" y="2483" font-size="43" fill="#000" text-anchor="middle" textLength="302" lengthAdjust="spacingAndGlyphs">dimensionless</text>
</svg></body></html>
